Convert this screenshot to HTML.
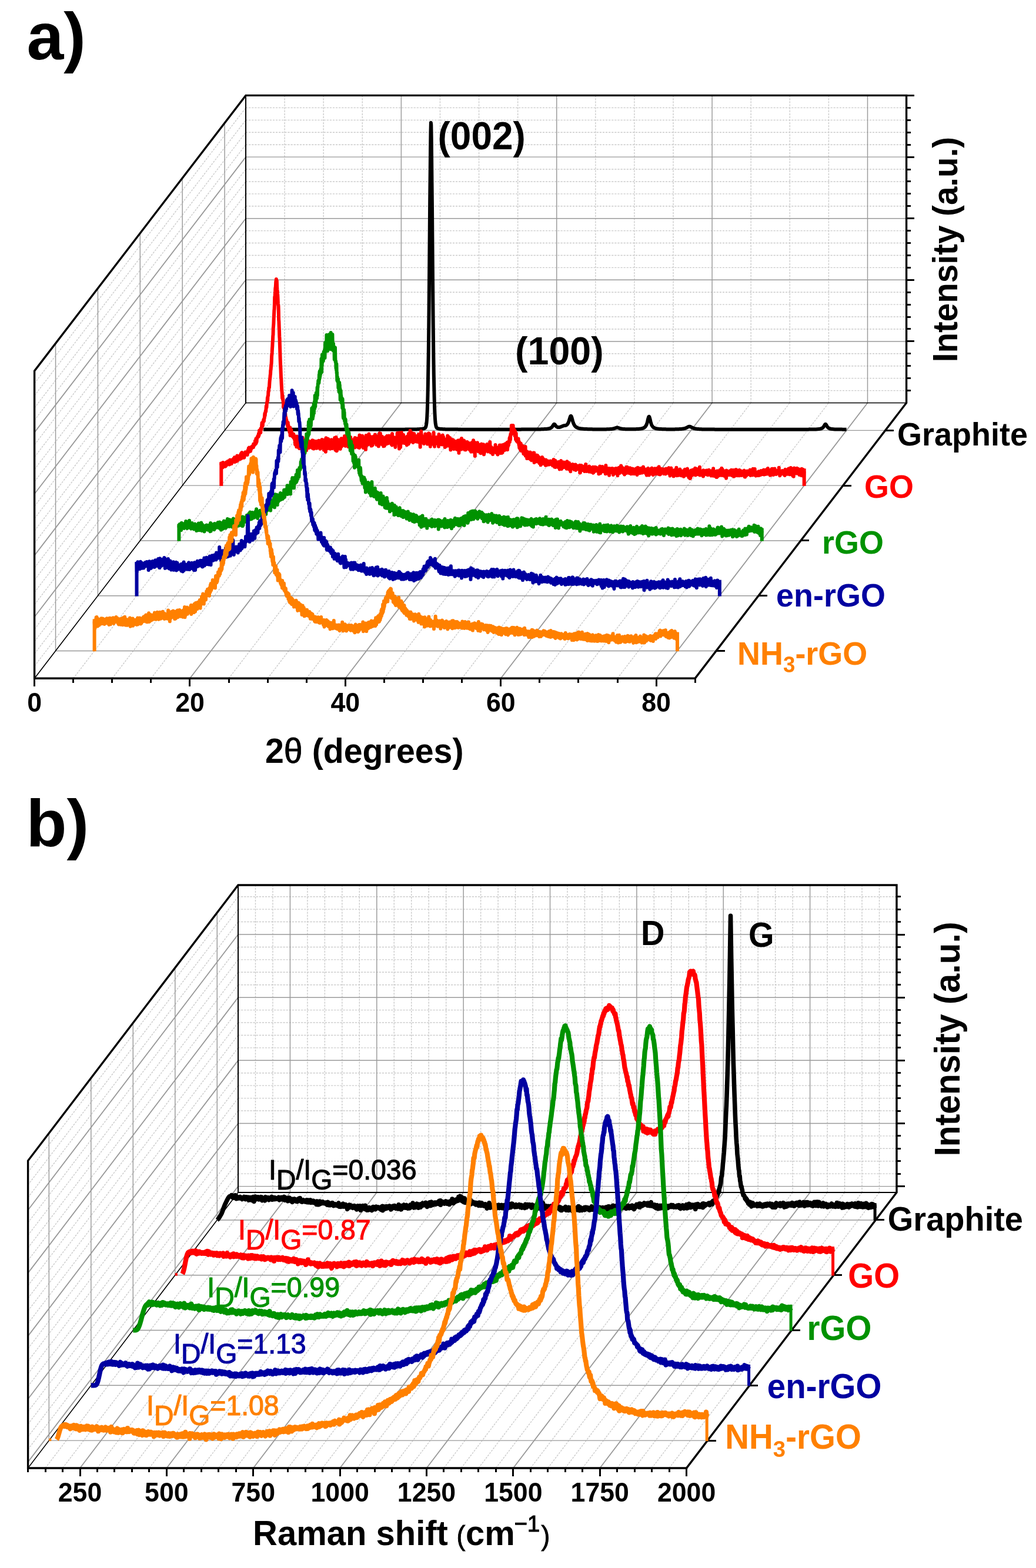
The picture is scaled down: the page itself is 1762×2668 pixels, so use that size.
<!DOCTYPE html>
<html lang="en"><head><meta charset="utf-8"><title>XRD patterns and Raman spectra of graphite, GO, rGO, en-rGO and NH3-rGO</title>
<style>html,body{margin:0;padding:0;background:#fff}svg{display:block}</style></head>
<body>
<svg width="1762" height="2668" viewBox="0 0 1762 2668" font-family="'Liberation Sans', sans-serif">
<rect width="1762" height="2668" fill="#fff"/>
<g fill="none">
<line x1="124.69" y1="1154.30" x2="484.09" y2="685.50" stroke="#cbcbcb" stroke-width="1.4" stroke-dasharray="3.2 1.9" stroke-linecap="butt"/>
<line x1="484.09" y1="685.50" x2="484.09" y2="162.40" stroke="#cbcbcb" stroke-width="1.4" stroke-dasharray="3.2 1.9" stroke-linecap="butt"/>
<line x1="190.79" y1="1154.30" x2="550.19" y2="685.50" stroke="#cbcbcb" stroke-width="1.4" stroke-dasharray="3.2 1.9" stroke-linecap="butt"/>
<line x1="550.19" y1="685.50" x2="550.19" y2="162.40" stroke="#cbcbcb" stroke-width="1.4" stroke-dasharray="3.2 1.9" stroke-linecap="butt"/>
<line x1="256.88" y1="1154.30" x2="616.28" y2="685.50" stroke="#cbcbcb" stroke-width="1.4" stroke-dasharray="3.2 1.9" stroke-linecap="butt"/>
<line x1="616.28" y1="685.50" x2="616.28" y2="162.40" stroke="#cbcbcb" stroke-width="1.4" stroke-dasharray="3.2 1.9" stroke-linecap="butt"/>
<line x1="389.07" y1="1154.30" x2="748.47" y2="685.50" stroke="#cbcbcb" stroke-width="1.4" stroke-dasharray="3.2 1.9" stroke-linecap="butt"/>
<line x1="748.47" y1="685.50" x2="748.47" y2="162.40" stroke="#cbcbcb" stroke-width="1.4" stroke-dasharray="3.2 1.9" stroke-linecap="butt"/>
<line x1="455.16" y1="1154.30" x2="814.56" y2="685.50" stroke="#cbcbcb" stroke-width="1.4" stroke-dasharray="3.2 1.9" stroke-linecap="butt"/>
<line x1="814.56" y1="685.50" x2="814.56" y2="162.40" stroke="#cbcbcb" stroke-width="1.4" stroke-dasharray="3.2 1.9" stroke-linecap="butt"/>
<line x1="521.26" y1="1154.30" x2="880.66" y2="685.50" stroke="#cbcbcb" stroke-width="1.4" stroke-dasharray="3.2 1.9" stroke-linecap="butt"/>
<line x1="880.66" y1="685.50" x2="880.66" y2="162.40" stroke="#cbcbcb" stroke-width="1.4" stroke-dasharray="3.2 1.9" stroke-linecap="butt"/>
<line x1="653.45" y1="1154.30" x2="1012.85" y2="685.50" stroke="#cbcbcb" stroke-width="1.4" stroke-dasharray="3.2 1.9" stroke-linecap="butt"/>
<line x1="1012.85" y1="685.50" x2="1012.85" y2="162.40" stroke="#cbcbcb" stroke-width="1.4" stroke-dasharray="3.2 1.9" stroke-linecap="butt"/>
<line x1="719.54" y1="1154.30" x2="1078.94" y2="685.50" stroke="#cbcbcb" stroke-width="1.4" stroke-dasharray="3.2 1.9" stroke-linecap="butt"/>
<line x1="1078.94" y1="685.50" x2="1078.94" y2="162.40" stroke="#cbcbcb" stroke-width="1.4" stroke-dasharray="3.2 1.9" stroke-linecap="butt"/>
<line x1="785.64" y1="1154.30" x2="1145.04" y2="685.50" stroke="#cbcbcb" stroke-width="1.4" stroke-dasharray="3.2 1.9" stroke-linecap="butt"/>
<line x1="1145.04" y1="685.50" x2="1145.04" y2="162.40" stroke="#cbcbcb" stroke-width="1.4" stroke-dasharray="3.2 1.9" stroke-linecap="butt"/>
<line x1="917.82" y1="1154.30" x2="1277.22" y2="685.50" stroke="#cbcbcb" stroke-width="1.4" stroke-dasharray="3.2 1.9" stroke-linecap="butt"/>
<line x1="1277.22" y1="685.50" x2="1277.22" y2="162.40" stroke="#cbcbcb" stroke-width="1.4" stroke-dasharray="3.2 1.9" stroke-linecap="butt"/>
<line x1="983.92" y1="1154.30" x2="1343.32" y2="685.50" stroke="#cbcbcb" stroke-width="1.4" stroke-dasharray="3.2 1.9" stroke-linecap="butt"/>
<line x1="1343.32" y1="685.50" x2="1343.32" y2="162.40" stroke="#cbcbcb" stroke-width="1.4" stroke-dasharray="3.2 1.9" stroke-linecap="butt"/>
<line x1="1050.01" y1="1154.30" x2="1409.41" y2="685.50" stroke="#cbcbcb" stroke-width="1.4" stroke-dasharray="3.2 1.9" stroke-linecap="butt"/>
<line x1="1409.41" y1="685.50" x2="1409.41" y2="162.40" stroke="#cbcbcb" stroke-width="1.4" stroke-dasharray="3.2 1.9" stroke-linecap="butt"/>
<line x1="58.60" y1="1133.38" x2="418.00" y2="664.58" stroke="#cbcbcb" stroke-width="1.4" stroke-dasharray="3.2 1.9" stroke-linecap="butt"/>
<line x1="418.00" y1="664.58" x2="1541.60" y2="664.58" stroke="#cbcbcb" stroke-width="1.4" stroke-dasharray="3.2 1.9" stroke-linecap="butt"/>
<line x1="58.60" y1="1112.46" x2="418.00" y2="643.66" stroke="#cbcbcb" stroke-width="1.4" stroke-dasharray="3.2 1.9" stroke-linecap="butt"/>
<line x1="418.00" y1="643.66" x2="1541.60" y2="643.66" stroke="#cbcbcb" stroke-width="1.4" stroke-dasharray="3.2 1.9" stroke-linecap="butt"/>
<line x1="58.60" y1="1091.54" x2="418.00" y2="622.74" stroke="#cbcbcb" stroke-width="1.4" stroke-dasharray="3.2 1.9" stroke-linecap="butt"/>
<line x1="418.00" y1="622.74" x2="1541.60" y2="622.74" stroke="#cbcbcb" stroke-width="1.4" stroke-dasharray="3.2 1.9" stroke-linecap="butt"/>
<line x1="58.60" y1="1070.62" x2="418.00" y2="601.82" stroke="#cbcbcb" stroke-width="1.4" stroke-dasharray="3.2 1.9" stroke-linecap="butt"/>
<line x1="418.00" y1="601.82" x2="1541.60" y2="601.82" stroke="#cbcbcb" stroke-width="1.4" stroke-dasharray="3.2 1.9" stroke-linecap="butt"/>
<line x1="58.60" y1="1028.78" x2="418.00" y2="559.98" stroke="#cbcbcb" stroke-width="1.4" stroke-dasharray="3.2 1.9" stroke-linecap="butt"/>
<line x1="418.00" y1="559.98" x2="1541.60" y2="559.98" stroke="#cbcbcb" stroke-width="1.4" stroke-dasharray="3.2 1.9" stroke-linecap="butt"/>
<line x1="58.60" y1="1007.86" x2="418.00" y2="539.06" stroke="#cbcbcb" stroke-width="1.4" stroke-dasharray="3.2 1.9" stroke-linecap="butt"/>
<line x1="418.00" y1="539.06" x2="1541.60" y2="539.06" stroke="#cbcbcb" stroke-width="1.4" stroke-dasharray="3.2 1.9" stroke-linecap="butt"/>
<line x1="58.60" y1="986.94" x2="418.00" y2="518.14" stroke="#cbcbcb" stroke-width="1.4" stroke-dasharray="3.2 1.9" stroke-linecap="butt"/>
<line x1="418.00" y1="518.14" x2="1541.60" y2="518.14" stroke="#cbcbcb" stroke-width="1.4" stroke-dasharray="3.2 1.9" stroke-linecap="butt"/>
<line x1="58.60" y1="966.02" x2="418.00" y2="497.22" stroke="#cbcbcb" stroke-width="1.4" stroke-dasharray="3.2 1.9" stroke-linecap="butt"/>
<line x1="418.00" y1="497.22" x2="1541.60" y2="497.22" stroke="#cbcbcb" stroke-width="1.4" stroke-dasharray="3.2 1.9" stroke-linecap="butt"/>
<line x1="58.60" y1="924.18" x2="418.00" y2="455.38" stroke="#cbcbcb" stroke-width="1.4" stroke-dasharray="3.2 1.9" stroke-linecap="butt"/>
<line x1="418.00" y1="455.38" x2="1541.60" y2="455.38" stroke="#cbcbcb" stroke-width="1.4" stroke-dasharray="3.2 1.9" stroke-linecap="butt"/>
<line x1="58.60" y1="903.26" x2="418.00" y2="434.46" stroke="#cbcbcb" stroke-width="1.4" stroke-dasharray="3.2 1.9" stroke-linecap="butt"/>
<line x1="418.00" y1="434.46" x2="1541.60" y2="434.46" stroke="#cbcbcb" stroke-width="1.4" stroke-dasharray="3.2 1.9" stroke-linecap="butt"/>
<line x1="58.60" y1="882.34" x2="418.00" y2="413.54" stroke="#cbcbcb" stroke-width="1.4" stroke-dasharray="3.2 1.9" stroke-linecap="butt"/>
<line x1="418.00" y1="413.54" x2="1541.60" y2="413.54" stroke="#cbcbcb" stroke-width="1.4" stroke-dasharray="3.2 1.9" stroke-linecap="butt"/>
<line x1="58.60" y1="861.42" x2="418.00" y2="392.62" stroke="#cbcbcb" stroke-width="1.4" stroke-dasharray="3.2 1.9" stroke-linecap="butt"/>
<line x1="418.00" y1="392.62" x2="1541.60" y2="392.62" stroke="#cbcbcb" stroke-width="1.4" stroke-dasharray="3.2 1.9" stroke-linecap="butt"/>
<line x1="58.60" y1="819.58" x2="418.00" y2="350.78" stroke="#cbcbcb" stroke-width="1.4" stroke-dasharray="3.2 1.9" stroke-linecap="butt"/>
<line x1="418.00" y1="350.78" x2="1541.60" y2="350.78" stroke="#cbcbcb" stroke-width="1.4" stroke-dasharray="3.2 1.9" stroke-linecap="butt"/>
<line x1="58.60" y1="798.66" x2="418.00" y2="329.86" stroke="#cbcbcb" stroke-width="1.4" stroke-dasharray="3.2 1.9" stroke-linecap="butt"/>
<line x1="418.00" y1="329.86" x2="1541.60" y2="329.86" stroke="#cbcbcb" stroke-width="1.4" stroke-dasharray="3.2 1.9" stroke-linecap="butt"/>
<line x1="58.60" y1="777.74" x2="418.00" y2="308.94" stroke="#cbcbcb" stroke-width="1.4" stroke-dasharray="3.2 1.9" stroke-linecap="butt"/>
<line x1="418.00" y1="308.94" x2="1541.60" y2="308.94" stroke="#cbcbcb" stroke-width="1.4" stroke-dasharray="3.2 1.9" stroke-linecap="butt"/>
<line x1="58.60" y1="756.82" x2="418.00" y2="288.02" stroke="#cbcbcb" stroke-width="1.4" stroke-dasharray="3.2 1.9" stroke-linecap="butt"/>
<line x1="418.00" y1="288.02" x2="1541.60" y2="288.02" stroke="#cbcbcb" stroke-width="1.4" stroke-dasharray="3.2 1.9" stroke-linecap="butt"/>
<line x1="58.60" y1="714.98" x2="418.00" y2="246.18" stroke="#cbcbcb" stroke-width="1.4" stroke-dasharray="3.2 1.9" stroke-linecap="butt"/>
<line x1="418.00" y1="246.18" x2="1541.60" y2="246.18" stroke="#cbcbcb" stroke-width="1.4" stroke-dasharray="3.2 1.9" stroke-linecap="butt"/>
<line x1="58.60" y1="694.06" x2="418.00" y2="225.26" stroke="#cbcbcb" stroke-width="1.4" stroke-dasharray="3.2 1.9" stroke-linecap="butt"/>
<line x1="418.00" y1="225.26" x2="1541.60" y2="225.26" stroke="#cbcbcb" stroke-width="1.4" stroke-dasharray="3.2 1.9" stroke-linecap="butt"/>
<line x1="58.60" y1="673.14" x2="418.00" y2="204.34" stroke="#cbcbcb" stroke-width="1.4" stroke-dasharray="3.2 1.9" stroke-linecap="butt"/>
<line x1="418.00" y1="204.34" x2="1541.60" y2="204.34" stroke="#cbcbcb" stroke-width="1.4" stroke-dasharray="3.2 1.9" stroke-linecap="butt"/>
<line x1="58.60" y1="652.22" x2="418.00" y2="183.42" stroke="#cbcbcb" stroke-width="1.4" stroke-dasharray="3.2 1.9" stroke-linecap="butt"/>
<line x1="418.00" y1="183.42" x2="1541.60" y2="183.42" stroke="#cbcbcb" stroke-width="1.4" stroke-dasharray="3.2 1.9" stroke-linecap="butt"/>
<line x1="322.98" y1="1154.30" x2="682.38" y2="685.50" stroke="#999999" stroke-width="1.85" stroke-linecap="butt"/>
<line x1="682.38" y1="685.50" x2="682.38" y2="162.40" stroke="#999999" stroke-width="1.45" stroke-linecap="butt"/>
<line x1="587.35" y1="1154.30" x2="946.75" y2="685.50" stroke="#999999" stroke-width="1.85" stroke-linecap="butt"/>
<line x1="946.75" y1="685.50" x2="946.75" y2="162.40" stroke="#999999" stroke-width="1.45" stroke-linecap="butt"/>
<line x1="851.73" y1="1154.30" x2="1211.13" y2="685.50" stroke="#999999" stroke-width="1.85" stroke-linecap="butt"/>
<line x1="1211.13" y1="685.50" x2="1211.13" y2="162.40" stroke="#999999" stroke-width="1.45" stroke-linecap="butt"/>
<line x1="1116.11" y1="1154.30" x2="1475.51" y2="685.50" stroke="#999999" stroke-width="1.85" stroke-linecap="butt"/>
<line x1="1475.51" y1="685.50" x2="1475.51" y2="162.40" stroke="#999999" stroke-width="1.45" stroke-linecap="butt"/>
<line x1="58.60" y1="1049.70" x2="418.00" y2="580.90" stroke="#999999" stroke-width="1.85" stroke-linecap="butt"/>
<line x1="418.00" y1="580.90" x2="1541.60" y2="580.90" stroke="#999999" stroke-width="1.45" stroke-linecap="butt"/>
<line x1="58.60" y1="945.10" x2="418.00" y2="476.30" stroke="#999999" stroke-width="1.85" stroke-linecap="butt"/>
<line x1="418.00" y1="476.30" x2="1541.60" y2="476.30" stroke="#999999" stroke-width="1.45" stroke-linecap="butt"/>
<line x1="58.60" y1="840.50" x2="418.00" y2="371.70" stroke="#999999" stroke-width="1.85" stroke-linecap="butt"/>
<line x1="418.00" y1="371.70" x2="1541.60" y2="371.70" stroke="#999999" stroke-width="1.45" stroke-linecap="butt"/>
<line x1="58.60" y1="735.90" x2="418.00" y2="267.10" stroke="#999999" stroke-width="1.85" stroke-linecap="butt"/>
<line x1="418.00" y1="267.10" x2="1541.60" y2="267.10" stroke="#999999" stroke-width="1.45" stroke-linecap="butt"/>
<line x1="94.54" y1="1107.42" x2="1218.14" y2="1107.42" stroke="#999999" stroke-width="1.45" stroke-linecap="butt"/>
<line x1="94.54" y1="1107.42" x2="94.54" y2="584.32" stroke="#999999" stroke-width="1.45" stroke-linecap="butt"/>
<line x1="166.42" y1="1013.66" x2="1290.02" y2="1013.66" stroke="#999999" stroke-width="1.45" stroke-linecap="butt"/>
<line x1="166.42" y1="1013.66" x2="166.42" y2="490.56" stroke="#999999" stroke-width="1.45" stroke-linecap="butt"/>
<line x1="238.30" y1="919.90" x2="1361.90" y2="919.90" stroke="#999999" stroke-width="1.45" stroke-linecap="butt"/>
<line x1="238.30" y1="919.90" x2="238.30" y2="396.80" stroke="#999999" stroke-width="1.45" stroke-linecap="butt"/>
<line x1="310.18" y1="826.14" x2="1433.78" y2="826.14" stroke="#999999" stroke-width="1.45" stroke-linecap="butt"/>
<line x1="310.18" y1="826.14" x2="310.18" y2="303.04" stroke="#999999" stroke-width="1.45" stroke-linecap="butt"/>
<line x1="382.06" y1="732.38" x2="1505.66" y2="732.38" stroke="#999999" stroke-width="1.45" stroke-linecap="butt"/>
<line x1="382.06" y1="732.38" x2="382.06" y2="209.28" stroke="#999999" stroke-width="1.45" stroke-linecap="butt"/>
</g>
<g fill="none" stroke="#000" stroke-linecap="square">
<line x1="58.60" y1="1154.30" x2="418.00" y2="685.50" stroke-width="1.6"/>
<line x1="418.00" y1="685.50" x2="1541.60" y2="685.50" stroke-width="1.4"/>
<line x1="418.00" y1="685.50" x2="418.00" y2="162.40" stroke-width="2"/>
<polyline stroke-width="3.4" stroke-linejoin="miter" points="1182.20,1154.30 58.60,1154.30 58.60,631.20 418.00,162.40 1541.60,162.40 1541.60,685.50 1182.20,1154.30"/>
</g>
<g fill="none" stroke="#000" stroke-width="3" shape-rendering="crispEdges">
<line x1="124.69" y1="1154.30" x2="124.69" y2="1161.70"/>
<line x1="190.79" y1="1154.30" x2="190.79" y2="1161.70"/>
<line x1="256.88" y1="1154.30" x2="256.88" y2="1161.70"/>
<line x1="389.07" y1="1154.30" x2="389.07" y2="1161.70"/>
<line x1="455.16" y1="1154.30" x2="455.16" y2="1161.70"/>
<line x1="521.26" y1="1154.30" x2="521.26" y2="1161.70"/>
<line x1="653.45" y1="1154.30" x2="653.45" y2="1161.70"/>
<line x1="719.54" y1="1154.30" x2="719.54" y2="1161.70"/>
<line x1="785.64" y1="1154.30" x2="785.64" y2="1161.70"/>
<line x1="917.82" y1="1154.30" x2="917.82" y2="1161.70"/>
<line x1="983.92" y1="1154.30" x2="983.92" y2="1161.70"/>
<line x1="1050.01" y1="1154.30" x2="1050.01" y2="1161.70"/>
<line x1="1182.20" y1="1154.30" x2="1182.20" y2="1161.70"/>
<line x1="58.60" y1="1154.30" x2="58.60" y2="1168.30"/>
<line x1="322.98" y1="1154.30" x2="322.98" y2="1168.30"/>
<line x1="587.35" y1="1154.30" x2="587.35" y2="1168.30"/>
<line x1="851.73" y1="1154.30" x2="851.73" y2="1168.30"/>
<line x1="1116.11" y1="1154.30" x2="1116.11" y2="1168.30"/>
<line x1="1541.60" y1="664.58" x2="1548.80" y2="664.58"/>
<line x1="1541.60" y1="643.66" x2="1548.80" y2="643.66"/>
<line x1="1541.60" y1="622.74" x2="1548.80" y2="622.74"/>
<line x1="1541.60" y1="601.82" x2="1548.80" y2="601.82"/>
<line x1="1541.60" y1="559.98" x2="1548.80" y2="559.98"/>
<line x1="1541.60" y1="539.06" x2="1548.80" y2="539.06"/>
<line x1="1541.60" y1="518.14" x2="1548.80" y2="518.14"/>
<line x1="1541.60" y1="497.22" x2="1548.80" y2="497.22"/>
<line x1="1541.60" y1="455.38" x2="1548.80" y2="455.38"/>
<line x1="1541.60" y1="434.46" x2="1548.80" y2="434.46"/>
<line x1="1541.60" y1="413.54" x2="1548.80" y2="413.54"/>
<line x1="1541.60" y1="392.62" x2="1548.80" y2="392.62"/>
<line x1="1541.60" y1="350.78" x2="1548.80" y2="350.78"/>
<line x1="1541.60" y1="329.86" x2="1548.80" y2="329.86"/>
<line x1="1541.60" y1="308.94" x2="1548.80" y2="308.94"/>
<line x1="1541.60" y1="288.02" x2="1548.80" y2="288.02"/>
<line x1="1541.60" y1="246.18" x2="1548.80" y2="246.18"/>
<line x1="1541.60" y1="225.26" x2="1548.80" y2="225.26"/>
<line x1="1541.60" y1="204.34" x2="1548.80" y2="204.34"/>
<line x1="1541.60" y1="183.42" x2="1548.80" y2="183.42"/>
<line x1="1541.60" y1="580.90" x2="1555.20" y2="580.90"/>
<line x1="1541.60" y1="476.30" x2="1555.20" y2="476.30"/>
<line x1="1541.60" y1="371.70" x2="1555.20" y2="371.70"/>
<line x1="1541.60" y1="267.10" x2="1555.20" y2="267.10"/>
<line x1="1541.60" y1="162.50" x2="1555.20" y2="162.50"/>
<line x1="1218.14" y1="1107.42" x2="1232.64" y2="1107.42"/>
<line x1="1290.02" y1="1013.66" x2="1304.52" y2="1013.66"/>
<line x1="1361.90" y1="919.90" x2="1376.40" y2="919.90"/>
<line x1="1433.78" y1="826.14" x2="1448.28" y2="826.14"/>
<line x1="1505.66" y1="732.38" x2="1520.16" y2="732.38"/>
</g>
<path d="M448.2,730.8l0.4,0 0.4,0 0.4,0 0.4,0 0.4,0 0.4,0 0.4,0 0.5,0 0.4,0 0.4,0 0.4,0 0.4,0 0.4,0 0.4,0 0.5,0 0.4,0 0.4,0 0.4,0 0.4,0 0.4,0 0.4,0 0.4,0 0.5,0 0.4,0 0.4,0 0.4,0 0.4,0 0.4,0 0.4,0 0.5,0 0.4,0 0.4,0 0.4,0 0.4,0 0.4,0 0.4,0 0.4,0 0.5,0 0.4,0 0.4,0 0.4,0 0.4,0 0.4,0 0.4,0 0.5,0 0.4,0 0.4,0 0.4,0 0.4,0 0.4,0 0.4,0 0.4,0 0.5,0 0.4,0 0.4,0 0.4,0 0.4,0 0.4,0 0.4,0 0.4,0 0.5,0 0.4,0 0.4,0 0.4,0 0.4,0 0.4,0 0.4,0 0.5,0 0.4,0 0.4,0 0.4,0 0.4,0 0.4,0 0.4,0 0.4,0 0.5,0 0.4,0 0.4,0 0.4,0 0.4,0 0.4,0 0.4,0 0.5,0 0.4,0 0.4,0 0.4,0 0.4,0 0.4,0 0.4,0 0.4,0 0.5,0 0.4,0 0.4,0 0.4,0 0.4,0 0.4,0 0.4,0 0.5,0 0.4,0 0.4,0 0.4,0 0.4,0 0.4,0 0.4,0 0.4,0 0.5,0 0.4,0 0.4,0 0.4,0 0.4,0 0.4,0 0.4,0 0.5,0 0.4,0 0.4,0 0.4,0 0.4,0 0.4,0 0.4,0 0.4,0 0.5,0 0.4,0 0.4,0 0.4,0 0.4,0 0.4,0 0.4,0 0.5,0 0.4,0 0.4,0 0.4,0 0.4,0 0.4,0 0.4,0 0.4,0 0.5,0 0.4,0 0.4,0 0.4,0 0.4,0 0.4,0 0.4,0 0.5,0 0.4,0 0.4,0 0.4,0 0.4,0 0.4,0 0.4,0 0.4,0 0.5,0 0.4,0 0.4,0 0.4,0 0.4,0 0.4,0 0.4,0 0.4,0 0.5,0 0.4,0 0.4,0 0.4,0 0.4,0 0.4,0 0.4,0 0.5,0 0.4,0 0.4,0 0.4,0 0.4,0 0.4,0 0.4,0 0.4,0 0.5,0 0.4,0 0.4,0 0.4,0 0.4,0 0.4,0 0.4,0 0.5,0 0.4,0 0.4,0 0.4,0 0.4,0 0.4,0 0.4,0 0.4,0 0.5,0 0.4,0 0.4,0 0.4,0 0.4,0 0.4,0 0.4,0 0.5,0 0.4,0 0.4,0 0.4,0 0.4,0 0.4,0 0.4,0 0.4,0 0.5,0 0.4,0 0.4,0 0.4,0 0.4,0 0.4,0 0.4,0 0.5,0 0.4,0 0.4,0 0.4,0 0.4,0 0.4,0 0.4,0 0.4,0 0.5,0 0.4,0 0.4,0 0.4,0 0.4,0 0.4,0 0.4,0 0.5,0 0.4,0 0.4,0 0.4,0 0.4,0 0.4,0 0.4,0 0.4,0 0.5,0 0.4,0 0.4,0 0.4,0 0.4,0 0.4,0 0.4,0 0.4,0 0.5,0 0.4,0 0.4,0 0.4,0 0.4,0 0.4,0 0.4,0 0.5,0 0.4,0 0.4,0 0.4,0 0.4,0 0.4,0 0.4,0 0.4,0 0.5,0 0.4,0 0.4,0 0.4,0 0.4,0 0.4,0 0.4,0 0.5,0 0.4,0 0.4,0 0.4,0 0.4,0 0.4,0 0.4,0 0.4,0 0.5,0 0.4,0 0.4,0 0.4,0 0.4,0 0.4,0 0.4,0 0.5,0 0.4,0 0.4,0 0.4,0 0.4,0 0.4,0 0.4,0 0.4,0 0.5,0 0.4,0 0.4,0 0.4,0 0.4,0 0.4,0 0.4,0 0.5,0 0.4,0 0.4,0 0.4,0 0.4,0 0.4,0 0.4,0 0.4,0 0.5,0 0.4,0 0.4,0 0.4,0 0.4,0 0.4,0 0.4,0 0.5,0 0.4,0 0.4,0 0.4,0 0.4,0 0.4,0 0.4,0 0.4,0 0.5,0 0.4,0 0.4,0 0.4,0 0.4,0 0.4,0 0.4,0 0.5,0 0.4,0 0.4,0 0.4,0 0.4,0 0.4,0 0.4,0 0.4,0 0.5,0 0.4,0 0.4,0 0.4,0 0.4,0 0.4,0 0.4,0 0.4,0 0.5,0 0.4,0 0.4,0 0.4,0 0.4,0 0.4,0 0.4,0 0.5,0 0.4,0 0.4,0 0.4,0 0.4,0 0.4,0 0.4,0 0.4,0 0.5,0 0.4,0 0.4,0 0.4,0 0.4,0 0.4,0 0.4,0 0.5,0 0.4,0 0.4,0 0.4,0 0.4,0 0.4,0 0.4,0 0.4,0 0.5,0 0.4,0 0.4,0 0.4,0 0.4,0 0.4,0 0.4,0 0.5,0 0.4,0 0.4,0 0.4,0 0.4,0 0.4,0 0.4,0 0.4,0 0.5,0 0.4,0 0.4,0 0.4,0 0.4,0 0.4,0 0.4,0 0.5,0 0.4,0 0.4,0 0.4,0 0.4,0 0.4,0 0.4,0 0.4,0 0.5,0 0.4,0 0.4,0 0.4,0 0.4,0 0.4,0 0.4,0 0.5,0 0.4,0 0.4,0 0.4,0 0.4,0 0.4,0 0.4,0 0.4,0 0.5,0 0.4,0 0.4,0 0.4,0 0.4,0 0.4,0 0.4,0 0.5,0 0.4,0 0.4,0 0.4,0 0.4,0 0.4,0 0.4,0 0.4,0 0.5,0 0.4,0 0.4,0 0.4,0 0.4,0 0.4,0 0.4,0 0.4,0 0.5,0 0.4,0 0.4,0 0.4,0 0.4-0.1 0.4,0 0.4,0 0.5,0 0.4,0 0.4,0 0.4,0 0.4,0 0.4,0 0.4,0 0.4,0 0.5,0 0.4,0 0.4,0 0.4,0 0.4,0 0.4,0 0.4,0 0.5,0 0.4,0 0.4,0 0.4,0 0.4,0 0.4,0 0.4,0 0.4,0 0.5,0 0.4,0 0.4,0 0.4,0 0.4,0 0.4,0 0.4,0 0.5,0 0.4,0 0.4,0 0.4,0 0.4,0 0.4,0 0.4,0 0.4,0 0.5,0 0.4,0 0.4,0 0.4,0 0.4,0 0.4,0 0.4,0 0.5,0 0.4,0 0.4,0 0.4,0 0.4,0 0.4,0 0.4,0 0.4,0 0.5,0 0.4,0 0.4,0 0.4,0 0.4,0 0.4,0 0.4,0 0.5,0 0.4,0 0.4,0 0.4,0 0.4,0 0.4,0 0.4,0 0.4,0 0.5,0 0.4,0 0.4,0 0.4,0 0.4,0 0.4,0 0.4,0 0.4,0 0.5,0 0.4,0 0.4,0 0.4,0 0.4,0 0.4,0 0.4,0 0.5,0 0.4,0 0.4,0 0.4,0 0.4,0 0.4,0 0.4,0 0.4,0 0.5,0 0.4,0 0.4,0 0.4,0 0.4,0 0.4,0 0.4,0 0.5,0 0.4,0 0.4,0 0.4,0 0.4,0 0.4,0 0.4,0 0.4,0 0.5,0 0.4,0 0.4,0 0.4,0 0.4,0 0.4,0 0.4,0 0.5,0 0.4,0 0.4,0 0.4,0 0.4,0 0.4,0 0.4,0 0.4,0 0.5,0 0.4,0 0.4,0 0.4,0 0.4,0 0.4,0 0.4,0 0.5,0 0.4,0 0.4,0 0.4,0 0.4,0 0.4,0 0.4,0 0.4,0 0.5,0 0.4,0 0.4-0.1 0.4,0 0.4,0 0.4,0 0.4,0 0.5,0 0.4,0 0.4,0 0.4,0 0.4,0 0.4,0 0.4,0 0.4,0 0.5,0 0.4,0 0.4,0 0.4,0 0.4,0 0.4,0 0.4,0 0.5,0 0.4,0 0.4,0 0.4,0 0.4,0 0.4,0 0.4,0 0.4,0 0.5-0.1 0.4,0 0.4,0 0.4,0 0.4,0 0.4,0 0.4,0 0.4,0 0.5,0 0.4,0 0.4,0 0.4,0 0.4,0 0.4,0 0.4-0.1 0.5,0 0.4,0 0.4,0 0.4,0 0.4,0 0.4,0 0.4,0 0.4-0.1 0.5,0 0.4,0 0.4,0 0.4,0 0.4,0 0.4-0.1 0.4,0 0.5,0 0.4,0 0.4-0.1 0.4,0 0.4,0 0.4,0 0.4-0.1 0.4,0 0.5-0.1 0.4,0 0.4,0 0.4-0.1 0.4,0 0.4-0.1 0.4-0.1 0.5,0 0.4-0.1 0.4-0.1 0.4-0.1 0.4-0.1 0.4-0.1 0.4-0.2 0.4-0.1 0.5-0.3 0.4-0.3 0.4-0.4 0.4-0.7 0.4-0.9 0.4-1.5 0.4-2.1 0.5-3.1 0.4-4.4 0.4-6.3 0.4-8.8 0.4-11.7 0.4-15.5 0.4-19.8 0.4-24.7 0.5-29.7 0.4-35 0.4-39.6 0.4-43.7 0.4-46.5 0.4-47.7 0.4-47.3 0.5-44.8 0.4-39.6 0.4-30.3 0.4-15.4 0.4,3.7 0.4,21.7 0.4,34.3 0.4,41.9 0.5,46 0.4,47.7 0.4,47.5 0.4,45.5 0.4,42.3 0.4,38 0.4,33 0.4,27.9 0.5,22.7 0.4,18.2 0.4,14 0.4,10.5 0.4,7.8 0.4,5.5 0.4,3.9 0.5,2.7 0.4,1.8 0.4,1.3 0.4,0.8 0.4,0.5 0.4,0.4 0.4,0.3 0.4,0.2 0.5,0.2 0.4,0.1 0.4,0.1 0.4,0.1 0.4,0.1 0.4,0.1 0.4,0.1 0.5,0.1 0.4,0 0.4,0.1 0.4,0 0.4,0.1 0.4,0 0.4,0.1 0.4,0 0.5,0 0.4,0.1 0.4,0 0.4,0 0.4,0 0.4,0.1 0.4,0 0.5,0 0.4,0 0.4,0.1 0.4,0 0.4,0 0.4,0 0.4,0 0.4,0 0.5,0.1 0.4,0 0.4,0 0.4,0 0.4,0 0.4,0 0.4,0 0.5,0 0.4,0 0.4,0.1 0.4,0 0.4,0 0.4,0 0.4,0 0.4,0 0.5,0 0.4,0 0.4,0 0.4,0 0.4,0 0.4,0 0.4,0 0.5,0 0.4,0.1 0.4,0 0.4,0 0.4,0 0.4,0 0.4,0 0.4,0 0.5,0 0.4,0 0.4,0 0.4,0 0.4,0 0.4,0 0.4,0 0.5,0 0.4,0 0.4,0 0.4,0 0.4,0 0.4,0 0.4,0 0.4,0 0.5,0 0.4,0 0.4,0 0.4,0 0.4,0 0.4,0 0.4,0 0.4,0 0.5,0 0.4,0 0.4,0.1 0.4,0 0.4,0 0.4,0 0.4,0 0.5,0 0.4,0 0.4,0 0.4,0 0.4,0 0.4,0 0.4,0 0.4,0 0.5,0 0.4,0 0.4,0 0.4,0 0.4,0 0.4,0 0.4,0 0.5,0 0.4,0 0.4,0 0.4,0 0.4,0 0.4,0 0.4,0 0.4,0 0.5,0 0.4,0 0.4,0 0.4,0 0.4,0 0.4,0 0.4,0 0.5,0 0.4,0 0.4,0 0.4,0 0.4,0 0.4,0 0.4,0 0.4,0 0.5,0 0.4,0 0.4,0 0.4,0 0.4,0 0.4,0 0.4,0 0.5,0 0.4,0 0.4,0 0.4,0 0.4,0 0.4,0 0.4,0 0.4,0 0.5,0 0.4,0 0.4,0 0.4,0 0.4,0 0.4,0 0.4,0 0.5,0 0.4,0 0.4,0 0.4,0 0.4,0 0.4,0 0.4,0 0.4,0 0.5,0 0.4,0 0.4,0 0.4,0 0.4,0 0.4,0 0.4,0 0.4,0 0.5,0 0.4,0 0.4,0 0.4,0 0.4,0 0.4,0 0.4,0 0.5,0 0.4,0 0.4,0 0.4,0 0.4,0 0.4,0 0.4,0 0.4,0 0.5,0 0.4,0 0.4,0 0.4,0 0.4,0 0.4,0 0.4,0 0.5,0 0.4,0 0.4,0 0.4,0 0.4,0 0.4,0 0.4,0 0.4,0 0.5,0 0.4,0 0.4,0 0.4,0 0.4,0 0.4,0 0.4,0 0.5,0 0.4,0 0.4,0 0.4,0 0.4,0 0.4,0 0.4,0 0.4,0 0.5,0 0.4,0 0.4,0 0.4,0 0.4,0 0.4,0 0.4,0 0.5,0 0.4,0 0.4,0 0.4,0 0.4,0 0.4,0 0.4,0 0.4,0 0.5,0 0.4,0 0.4,0 0.4,0 0.4,0 0.4,0 0.4,0 0.5,0 0.4,0 0.4,0 0.4,0 0.4,0 0.4,0 0.4,0 0.4,0 0.5,0 0.4,0 0.4,0 0.4,0 0.4,0 0.4,0 0.4,0 0.5,0 0.4,0 0.4,0 0.4,0 0.4,0 0.4,0 0.4,0 0.4,0 0.5,0 0.4,0 0.4,0 0.4,0 0.4,0 0.4,0 0.4,0 0.4,0 0.5,0 0.4,0 0.4,0 0.4,0 0.4,0 0.4,0 0.4,0 0.5,0 0.4,0 0.4,0 0.4,0 0.4,0 0.4,0 0.4,0 0.4,0 0.5,0 0.4,0 0.4,0 0.4,0 0.4,0 0.4,0 0.4,0 0.5,0 0.4,0 0.4,0 0.4,0 0.4,0 0.4,0 0.4,0 0.4,0 0.5,0 0.4,0 0.4,0 0.4,0 0.4,0 0.4,0 0.4,0 0.5,0 0.4,0 0.4,0 0.4,0 0.4,0 0.4,0 0.4,0 0.4,0 0.5,0 0.4,0 0.4,0 0.4,0 0.4,0 0.4,0 0.4,0 0.5,0 0.4,0 0.4,0 0.4,0 0.4,0 0.4,0 0.4,0 0.4,0 0.5,0 0.4,0 0.4,0 0.4,0 0.4,0 0.4,0 0.4,0 0.5,0 0.4,0 0.4,0 0.4,0 0.4,0 0.4,0 0.4,0 0.4,0 0.5,0 0.4,0 0.4,0 0.4,0 0.4,0 0.4-0.1 0.4,0 0.4,0 0.5,0 0.4,0 0.4,0 0.4,0 0.4,0 0.4,0 0.4,0 0.5,0 0.4,0 0.4,0 0.4,0 0.4,0 0.4,0 0.4,0 0.4,0 0.5,0 0.4,0 0.4,0 0.4,0 0.4,0 0.4,0 0.4,0 0.5,0 0.4,0 0.4,0 0.4,0 0.4,0 0.4,0 0.4,0 0.4,0 0.5,0 0.4,0 0.4,0 0.4,0 0.4,0 0.4,0 0.4,0 0.5,0 0.4,0 0.4,0 0.4,0 0.4,0 0.4,0 0.4,0 0.4-0.1 0.5,0 0.4,0 0.4,0 0.4,0 0.4,0 0.4,0 0.4,0 0.5,0 0.4,0 0.4,0 0.4,0 0.4,0 0.4,0 0.4,0 0.4,0 0.5,0 0.4,0 0.4,0 0.4,0 0.4,0 0.4-0.1 0.4,0 0.5,0 0.4,0 0.4,0 0.4,0 0.4,0 0.4,0 0.4,0 0.4,0 0.5,0 0.4,0 0.4,0 0.4-0.1 0.4,0 0.4,0 0.4,0 0.5,0 0.4,0 0.4,0 0.4,0 0.4-0.1 0.4,0 0.4,0 0.4,0 0.5,0 0.4-0.1 0.4,0 0.4,0 0.4,0 0.4,0 0.4-0.1 0.4,0 0.5,0 0.4-0.1 0.4,0 0.4,0 0.4-0.1 0.4,0 0.4-0.1 0.5,0 0.4-0.1 0.4,0 0.4-0.1 0.4-0.1 0.4-0.1 0.4,0 0.4-0.1 0.5-0.2 0.4-0.1 0.4-0.1 0.4-0.2 0.4-0.2 0.4-0.2 0.4-0.2 0.5-0.3 0.4-0.3 0.4-0.4 0.4-0.4 0.4-0.5 0.4-0.5 0.4-0.6 0.4-0.6 0.5-0.7 0.4-0.7 0.4-0.6 0.4-0.4 0.4-0.2 0.4,0 0.4,0.2 0.5,0.4 0.4,0.6 0.4,0.6 0.4,0.6 0.4,0.5 0.4,0.5 0.4,0.4 0.4,0.4 0.5,0.3 0.4,0.2 0.4,0.2 0.4,0.2 0.4,0.1 0.4,0.1 0.4,0 0.5,0 0.4,0 0.4,0 0.4,0 0.4-0.1 0.4-0.1 0.4-0.1 0.4-0.1 0.5-0.2 0.4-0.1 0.4-0.2 0.4-0.1 0.4-0.2 0.4-0.2 0.4-0.2 0.5-0.2 0.4-0.2 0.4-0.2 0.4-0.1 0.4-0.2 0.4-0.1 0.4-0.1 0.4-0.1 0.5-0.1 0.4,0 0.4-0.1 0.4,0 0.4-0.1 0.4,0 0.4-0.1 0.5-0.1 0.4-0.2 0.4-0.2 0.4-0.2 0.4-0.3 0.4-0.3 0.4-0.5 0.4-0.5 0.5-0.6 0.4-0.7 0.4-0.8 0.4-0.9 0.4-1.1 0.4-1.1 0.4-1.3 0.4-1.4 0.5-1.4 0.4-1.4 0.4-1.2 0.4-1.1 0.4-0.6 0.4-0.2 0.4,0.2 0.5,0.7 0.4,1.1 0.4,1.3 0.4,1.5 0.4,1.5 0.4,1.5 0.4,1.4 0.4,1.3 0.5,1.2 0.4,1.1 0.4,0.9 0.4,0.9 0.4,0.7 0.4,0.7 0.4,0.6 0.5,0.5 0.4,0.5 0.4,0.4 0.4,0.4 0.4,0.3 0.4,0.3 0.4,0.3 0.4,0.2 0.5,0.2 0.4,0.2 0.4,0.2 0.4,0.2 0.4,0.1 0.4,0.2 0.4,0.1 0.5,0.1 0.4,0.1 0.4,0.1 0.4,0.1 0.4,0.1 0.4,0.1 0.4,0.1 0.4,0 0.5,0.1 0.4,0.1 0.4,0 0.4,0.1 0.4,0 0.4,0.1 0.4,0 0.5,0 0.4,0.1 0.4,0 0.4,0.1 0.4,0 0.4,0 0.4,0 0.4,0.1 0.5,0 0.4,0 0.4,0.1 0.4,0 0.4,0 0.4,0 0.4,0 0.5,0.1 0.4,0 0.4,0 0.4,0 0.4,0 0.4,0 0.4,0.1 0.4,0 0.5,0 0.4,0 0.4,0 0.4,0 0.4,0 0.4,0 0.4,0.1 0.4,0 0.5,0 0.4,0 0.4,0 0.4,0 0.4,0 0.4,0 0.4,0 0.5,0 0.4,0 0.4,0 0.4,0 0.4,0.1 0.4,0 0.4,0 0.4,0 0.5,0 0.4,0 0.4,0 0.4,0 0.4,0 0.4,0 0.4,0 0.5,0 0.4,0 0.4,0 0.4,0 0.4,0 0.4,0 0.4,0 0.4,0 0.5,0 0.4,0 0.4,0 0.4,0 0.4,0 0.4,0 0.4,0 0.5,0 0.4,0 0.4,0 0.4,0 0.4,0 0.4,0 0.4,0 0.4,0 0.5,0 0.4,0 0.4,0 0.4,0 0.4,0 0.4,0 0.4,0 0.5,0 0.4,0 0.4,0 0.4,0 0.4,0 0.4,0 0.4,0 0.4,0 0.5,0 0.4,0 0.4,0 0.4,0 0.4,0 0.4,0 0.4,0 0.5,0 0.4,0 0.4-0.1 0.4,0 0.4,0 0.4,0 0.4,0 0.4,0 0.5,0 0.4,0 0.4-0.1 0.4,0 0.4,0 0.4,0 0.4,0 0.5-0.1 0.4,0 0.4,0 0.4,0 0.4-0.1 0.4,0 0.4,0 0.4-0.1 0.5,0 0.4-0.1 0.4,0 0.4-0.1 0.4-0.1 0.4-0.1 0.4,0 0.4-0.1 0.5-0.1 0.4-0.1 0.4-0.1 0.4-0.2 0.4-0.1 0.4-0.1 0.4-0.2 0.5-0.1 0.4-0.2 0.4-0.1 0.4-0.2 0.4-0.1 0.4-0.1 0.4-0.1 0.4,0 0.5,0 0.4,0 0.4,0.1 0.4,0.1 0.4,0.1 0.4,0.2 0.4,0.1 0.5,0.2 0.4,0.1 0.4,0.2 0.4,0.1 0.4,0.1 0.4,0.2 0.4,0.1 0.4,0.1 0.5,0.1 0.4,0.1 0.4,0 0.4,0.1 0.4,0.1 0.4,0 0.4,0.1 0.5,0 0.4,0.1 0.4,0 0.4,0.1 0.4,0 0.4,0 0.4,0.1 0.4,0 0.5,0 0.4,0 0.4,0.1 0.4,0 0.4,0 0.4,0 0.4,0 0.5,0 0.4,0 0.4,0.1 0.4,0 0.4,0 0.4,0 0.4,0 0.4,0 0.5,0 0.4,0 0.4,0 0.4,0 0.4,0 0.4,0 0.4,0 0.5,0 0.4,0 0.4,0 0.4,0 0.4,0 0.4,0 0.4,0 0.4,0 0.5,0 0.4,0 0.4,0 0.4,0 0.4,0 0.4,0 0.4,0 0.4,0 0.5,0 0.4-0.1 0.4,0 0.4,0 0.4,0 0.4,0 0.4,0 0.5,0 0.4,0 0.4,0 0.4-0.1 0.4,0 0.4,0 0.4,0 0.4,0 0.5-0.1 0.4,0 0.4,0 0.4,0 0.4-0.1 0.4,0 0.4,0 0.5-0.1 0.4,0 0.4-0.1 0.4,0 0.4,0 0.4-0.1 0.4-0.1 0.4,0 0.5-0.1 0.4-0.1 0.4,0 0.4-0.1 0.4-0.1 0.4-0.1 0.4-0.2 0.5-0.1 0.4-0.1 0.4-0.2 0.4-0.2 0.4-0.2 0.4-0.2 0.4-0.3 0.4-0.3 0.5-0.3 0.4-0.4 0.4-0.4 0.4-0.5 0.4-0.6 0.4-0.7 0.4-0.8 0.5-0.9 0.4-1 0.4-1.2 0.4-1.4 0.4-1.5 0.4-1.7 0.4-1.8 0.4-1.7 0.5-1.6 0.4-1.2 0.4-0.7 0.4,0 0.4,0.6 0.4,1.2 0.4,1.6 0.5,1.7 0.4,1.8 0.4,1.7 0.4,1.5 0.4,1.4 0.4,1.2 0.4,1.1 0.4,0.9 0.5,0.8 0.4,0.6 0.4,0.6 0.4,0.5 0.4,0.5 0.4,0.4 0.4,0.3 0.5,0.3 0.4,0.3 0.4,0.2 0.4,0.2 0.4,0.2 0.4,0.2 0.4,0.1 0.4,0.1 0.5,0.2 0.4,0.1 0.4,0.1 0.4,0.1 0.4,0 0.4,0.1 0.4,0.1 0.4,0.1 0.5,0 0.4,0.1 0.4,0 0.4,0.1 0.4,0 0.4,0 0.4,0.1 0.5,0 0.4,0 0.4,0.1 0.4,0 0.4,0 0.4,0.1 0.4,0 0.4,0 0.5,0 0.4,0 0.4,0.1 0.4,0 0.4,0 0.4,0 0.4,0 0.5,0 0.4,0 0.4,0.1 0.4,0 0.4,0 0.4,0 0.4,0 0.4,0 0.5,0 0.4,0 0.4,0 0.4,0 0.4,0 0.4,0.1 0.4,0 0.5,0 0.4,0 0.4,0 0.4,0 0.4,0 0.4,0 0.4,0 0.4,0 0.5,0 0.4,0 0.4,0 0.4,0 0.4,0 0.4,0 0.4,0 0.5,0 0.4,0 0.4,0 0.4,0 0.4,0 0.4,0 0.4,0 0.4,0 0.5,0 0.4,0 0.4,0 0.4,0 0.4,0 0.4,0 0.4,0 0.5,0 0.4,0 0.4,0 0.4,0 0.4,0 0.4-0.1 0.4,0 0.4,0 0.5,0 0.4,0 0.4,0 0.4,0 0.4,0 0.4,0 0.4,0 0.4,0 0.5-0.1 0.4,0 0.4,0 0.4,0 0.4,0 0.4,0 0.4-0.1 0.5,0 0.4,0 0.4,0 0.4-0.1 0.4,0 0.4,0 0.4-0.1 0.4,0 0.5,0 0.4-0.1 0.4,0 0.4-0.1 0.4,0 0.4-0.1 0.4,0 0.5-0.1 0.4-0.1 0.4,0 0.4-0.1 0.4-0.1 0.4-0.1 0.4-0.1 0.4-0.1 0.5-0.2 0.4-0.1 0.4-0.2 0.4-0.1 0.4-0.2 0.4-0.2 0.4-0.2 0.5-0.2 0.4-0.2 0.4-0.2 0.4-0.2 0.4-0.3 0.4-0.2 0.4-0.2 0.4-0.2 0.5-0.1 0.4-0.1 0.4-0.1 0.4,0 0.4,0 0.4,0.1 0.4,0.1 0.5,0.2 0.4,0.2 0.4,0.2 0.4,0.2 0.4,0.2 0.4,0.2 0.4,0.3 0.4,0.2 0.5,0.2 0.4,0.2 0.4,0.2 0.4,0.1 0.4,0.2 0.4,0.1 0.4,0.2 0.5,0.1 0.4,0.1 0.4,0.1 0.4,0.1 0.4,0.1 0.4,0.1 0.4,0.1 0.4,0.1 0.5,0 0.4,0.1 0.4,0 0.4,0.1 0.4,0 0.4,0.1 0.4,0 0.5,0.1 0.4,0 0.4,0 0.4,0.1 0.4,0 0.4,0 0.4,0.1 0.4,0 0.5,0 0.4,0 0.4,0 0.4,0.1 0.4,0 0.4,0 0.4,0 0.4,0 0.5,0.1 0.4,0 0.4,0 0.4,0 0.4,0 0.4,0 0.4,0 0.5,0 0.4,0 0.4,0.1 0.4,0 0.4,0 0.4,0 0.4,0 0.4,0 0.5,0 0.4,0 0.4,0 0.4,0 0.4,0 0.4,0 0.4,0 0.5,0 0.4,0.1 0.4,0 0.4,0 0.4,0 0.4,0 0.4,0 0.4,0 0.5,0 0.4,0 0.4,0 0.4,0 0.4,0 0.4,0 0.4,0 0.5,0 0.4,0 0.4,0 0.4,0 0.4,0 0.4,0 0.4,0 0.4,0 0.5,0 0.4,0 0.4,0 0.4,0 0.4,0 0.4,0 0.4,0 0.5,0 0.4,0 0.4,0.1 0.4,0 0.4,0 0.4,0 0.4,0 0.4,0 0.5,0 0.4,0 0.4,0 0.4,0 0.4,0 0.4,0 0.4,0 0.5,0 0.4,0 0.4,0 0.4,0 0.4,0 0.4,0 0.4,0 0.4,0 0.5,0 0.4,0 0.4,0 0.4,0 0.4,0 0.4,0 0.4,0 0.5,0 0.4,0 0.4,0 0.4,0 0.4,0 0.4,0 0.4,0 0.4,0 0.5,0 0.4,0 0.4,0 0.4,0 0.4,0 0.4,0 0.4,0 0.4,0 0.5,0 0.4,0 0.4,0 0.4,0 0.4,0 0.4,0 0.4,0 0.5,0 0.4,0 0.4,0 0.4,0 0.4,0 0.4,0 0.4,0 0.4,0 0.5,0 0.4,0 0.4,0 0.4,0 0.4,0 0.4,0 0.4,0 0.5,0 0.4,0 0.4,0 0.4,0 0.4,0 0.4,0 0.4,0 0.4,0 0.5,0 0.4,0 0.4,0 0.4,0 0.4,0 0.4,0 0.4,0 0.5,0 0.4,0 0.4,0 0.4,0 0.4,0 0.4,0 0.4,0 0.4,0 0.5,0 0.4,0 0.4,0 0.4,0 0.4,0 0.4,0 0.4,0 0.5,0 0.4,0 0.4,0 0.4,0 0.4,0 0.4,0 0.4,0 0.4,0 0.5,0 0.4,0 0.4,0 0.4,0 0.4,0 0.4,0 0.4,0 0.5,0 0.4,0 0.4,0 0.4,0 0.4,0 0.4,0 0.4,0 0.4,0 0.5,0 0.4,0 0.4,0 0.4,0 0.4,0 0.4,0 0.4,0 0.4,0 0.5,0 0.4,0 0.4,0 0.4,0 0.4,0 0.4,0 0.4,0 0.5,0 0.4,0 0.4,0 0.4,0 0.4,0 0.4,0 0.4,0 0.4,0 0.5,0 0.4,0 0.4,0 0.4,0 0.4,0 0.4,0 0.4,0 0.5,0 0.4,0 0.4,0 0.4,0 0.4,0 0.4,0 0.4,0 0.4,0 0.5,0 0.4,0 0.4,0 0.4,0 0.4,0 0.4,0 0.4,0 0.5,0 0.4,0 0.4,0 0.4,0 0.4,0 0.4,0 0.4,0 0.4,0 0.5,0 0.4,0 0.4,0 0.4,0 0.4,0 0.4,0 0.4,0 0.5,0 0.4,0 0.4,0 0.4,0 0.4,0 0.4,0 0.4,0 0.4,0 0.5,0 0.4,0 0.4,0 0.4,0 0.4,0 0.4,0 0.4,0 0.5,0 0.4,0 0.4,0 0.4,0 0.4,0 0.4,0 0.4,0 0.4,0 0.5,0 0.4,0 0.4,0 0.4,0 0.4,0 0.4,0 0.4,0 0.5,0 0.4,0 0.4,0 0.4,0 0.4,0 0.4,0 0.4,0 0.4,0 0.5,0 0.4,0 0.4,0 0.4,0 0.4,0 0.4,0 0.4,0 0.4,0 0.5,0 0.4,0 0.4,0 0.4,0 0.4,0 0.4,0 0.4,0 0.5,0 0.4,0 0.4,0 0.4,0 0.4,0 0.4,0 0.4,0 0.4,0 0.5,0 0.4,0 0.4,0 0.4,0 0.4,0 0.4,0 0.4,0 0.5,0 0.4,0 0.4,0 0.4,0 0.4,0 0.4,0 0.4,0 0.4,0 0.5,0 0.4,0 0.4,0 0.4,0 0.4,0 0.4,0 0.4,0 0.5,0 0.4,0 0.4,0 0.4,0 0.4,0 0.4,0 0.4,0 0.4,0 0.5,0 0.4,0 0.4,0 0.4,0 0.4,0 0.4,0 0.4,0 0.5,0 0.4,0 0.4,0 0.4,0 0.4,0 0.4,0 0.4,0 0.4,0 0.5,0 0.4,0 0.4,0 0.4,0 0.4,0 0.4,0 0.4,0 0.5,0 0.4,0 0.4,0 0.4,0 0.4,0 0.4,0 0.4,0 0.4,0 0.5,0 0.4,0 0.4,0 0.4,0 0.4,0 0.4,0 0.4,0 0.4,0 0.5,0 0.4,0 0.4,0 0.4,0 0.4,0 0.4,0 0.4,0 0.5,0 0.4,0 0.4,0 0.4,0 0.4,0 0.4,0 0.4,0 0.4,0 0.5,0 0.4,0 0.4,0 0.4,0 0.4,0 0.4,0 0.4,0 0.5,0 0.4,0 0.4,0 0.4,0 0.4,0 0.4,0 0.4,0 0.4,0 0.5,0 0.4,0 0.4,0 0.4,0 0.4,0 0.4,0 0.4,0 0.5,0 0.4,0 0.4,0 0.4,0 0.4,0 0.4,0 0.4,0 0.4,0 0.5,0 0.4,0 0.4,0 0.4,0 0.4,0 0.4,0 0.4,0 0.5,0 0.4,0 0.4,0 0.4,0 0.4,0 0.4,0 0.4,0 0.4,0 0.5,0 0.4,0 0.4,0 0.4,0 0.4,0 0.4,0 0.4,0 0.5,0 0.4,0 0.4,0 0.4,0 0.4,0 0.4,0 0.4,0 0.4,0 0.5,0 0.4,0 0.4,0 0.4,0 0.4-0.1 0.4,0 0.4,0 0.5,0 0.4,0 0.4,0 0.4,0 0.4,0 0.4,0 0.4,0 0.4,0 0.5,0 0.4,0 0.4,0 0.4,0 0.4,0 0.4,0 0.4,0 0.4-0.1 0.5,0 0.4,0 0.4,0 0.4,0 0.4,0 0.4,0 0.4,0 0.5,0 0.4-0.1 0.4,0 0.4,0 0.4,0 0.4,0 0.4,0 0.4-0.1 0.5,0 0.4,0 0.4,0 0.4-0.1 0.4,0 0.4,0 0.4-0.1 0.5,0 0.4-0.1 0.4,0 0.4-0.1 0.4-0.1 0.4,0 0.4-0.1 0.4-0.1 0.5-0.1 0.4-0.1 0.4-0.2 0.4-0.1 0.4-0.2 0.4-0.2 0.4-0.2 0.5-0.3 0.4-0.3 0.4-0.4 0.4-0.4 0.4-0.5 0.4-0.5 0.4-0.7 0.4-0.6 0.5-0.8 0.4-0.7 0.4-0.6 0.4-0.6 0.4-0.3 0.4,0 0.4,0.2 0.5,0.5 0.4,0.6 0.4,0.7 0.4,0.8 0.4,0.7 0.4,0.6 0.4,0.6 0.4,0.5 0.5,0.4 0.4,0.4 0.4,0.3 0.4,0.3 0.4,0.2 0.4,0.3 0.4,0.1 0.5,0.2 0.4,0.1 0.4,0.2 0.4,0.1 0.4,0.1 0.4,0.1 0.4,0 0.4,0.1 0.5,0.1 0.4,0 0.4,0.1 0.4,0 0.4,0 0.4,0.1 0.4,0 0.4,0.1 0.5,0 0.4,0 0.4,0 0.4,0.1 0.4,0 0.4,0 0.4,0 0.5,0 0.4,0 0.4,0.1 0.4,0 0.4,0 0.4,0 0.4,0 0.4,0 0.5,0 0.4,0 0.4,0 0.4,0.1 0.4,0 0.4,0 0.4,0 0.5,0 0.4,0 0.4,0 0.4,0 0.4,0 0.4,0 0.4,0 0.4,0 0.5,0 0.4,0 0.4,0 0.4,0 0.4,0 0.4,0 0.4,0.1 0.5,0 0.4,0 0.4,0 0.4,0 0.4,0 0.4,0 0.4,0 0.4,0 0.5,0 0.4,0 0.4,0 0.4,0 0.4,0 0.4,0 0.4,0 0.5,0 0.4,0" fill="none" stroke="#000000" stroke-width="6.0" stroke-linejoin="round" stroke-linecap="butt"/>
<path d="M376.3,791.6l0.3-3.3 0.3,0.2 0.3,4.1 0.3-0.6 0.3,0.4 0.3-2.7 0.3,1.4 0.3-2.1 0.3,6.2 0.3-8.3 0.3,3.9 0.3-2 0.3,1.8 0.3,0.5 0.3-2.1 0.3-1 0.3,2.4 0.3-0.3 0.3-2.1 0.3,3.6 0.3,1.5 0.3-4.7 0.3,2.4 0.3,2.9 0.3-2.8 0.3-0.9 0.3,1.6 0.3,0.6 0.3-3.8 0.3-2.2 0.3,2.6 0.3,1.1 0.3-2.8 0.3-0.9 0.3,2.3 0.3-2.1 0.3-1.4 0.3,2.9 0.3,1.4 0.3-3 0.3,0.2 0.3-2.2 0.3,5.6 0.3-1.6 0.3,0.3 0.3,2 0.3-4.6 0.3-1.1 0.3,2.9 0.3-5.2 0.3,1.2 0.3,0.3 0.3,0.4 0.3-1.4 0.3,5.3 0.3-4.8 0.3-0.1 0.3,5.6 0.3-5.2 0.3,1.3 0.3-2.6 0.3,2.7 0.3-1.1 0.3-1 0.3,2.8 0.3-3.7 0.3,1.6 0.3-1.6 0.3,2.3 0.3-4 0.3,1 0.3,1.7 0.3-2.1 0.3-1.6 0.3-1.4 0.3,7.9 0.3-6 0.3,0.8 0.3,1.2 0.3,2.1 0.3-5.6 0.3,5.9 0.3-4.5 0.3-1.9 0.3,6.8 0.3-3.3 0.3,2.3 0.3-3.9 0.3-3.2 0.3-1.3 0.3,9 0.3-3.1 0.3-3.2 0.3-2.2 0.3,2.6 0.3,2.6 0.3-2.6 0.3,0.6 0.3,0.3 0.3,1.1 0.3-2.8 0.3,0 0.3,0.8 0.3,0.2 0.3,2.4 0.3-2.1 0.3-4.2 0.3,3.2 0.3,2.8 0.3-6.8 0.3,1.7 0.3-3.9 0.3,4.7 0.3,1.1 0.3,2.2 0.3-6.8 0.3-3.2 0.3,8 0.3-0.6 0.3-3.2 0.3,3.3 0.3-1.6 0.3,0 0.3-1.5 0.3-2.3 0.3,2.4 0.3-2.4 0.3,3 0.3-2 0.3,5.8 0.3-1.9 0.3-5.6 0.3,3.1 0.3-3 0.3-0.1 0.3-2.1 0.3,1 0.3-0.7 0.3,2.5 0.3,1.1 0.3-0.1 0.3-0.8 0.3,1.3 0.3-1.7 0.3-1.3 0.3-1.1 0.3,1.2 0.3,3.5 0.3-4.7 0.3-0.9 0.3-2.4 0.3,1 0.3,2.6 0.3-0.1 0.3-6.8 0.3,2.7 0.3-2.9 0.3-1 0.3,6.8 0.3-3.2 0.3-0.5 0.3-0.6 0.3-0.2 0.3,0.4 0.3-0.2 0.3,3.7 0.3-3.6 0.3,1.1 0.3-2.5 0.3,1.1 0.3-3 0.3-0.8 0.3,0.8 0.3-0.4 0.3,0.2 0.3,0.9 0.3-1.1 0.3,0.4 0.3-2.5 0.3,0.4 0.3-1.7 0.3,4.1 0.3-5.7 0.3,3.5 0.3-0.5 0.3-1.7 0.3,0.4 0.3-2.5 0.3,1.6 0.3,0.7 0.3-1 0.3-5.7 0.3,2.6 0.3,2.4 0.3-3.4 0.3,3.2 0.3-8.6 0.3,7.3 0.3-5.4 0.3-0.8 0.3,4.1 0.3-4.9 0.3-2.4 0.3,0.6 0.3-0.2 0.3-2.4 0.3,1.1 0.3-1.2 0.3,0.3 0.3-2.6 0.3,3 0.3-5 0.3,2.3 0.3,0.6 0.3-4.3 0.3-4.1 0.3,0.9 0.3,2.7 0.3-3.7 0.3,1.9 0.3-1.7 0.3-1.4 0.3,4.9 0.3-6.9 0.3,2.1 0.3-1.7 0.3,1 0.3-0.8 0.3-2.2 0.3-5.1 0.3-2.9 0.3,3.2 0.3-3.5 0.3,2.3 0.3,3.1 0.3-5.8 0.3-1.7 0.3,1.2 0.3-2.7 0.3-1.6 0.3,2.4 0.3,0.4 0.3-4 0.3-1.1 0.3-0.8 0.3-4.4 0.3-3 0.3,3.9 0.3-4 0.3-1.9 0.3-0.8 0.3-2.3 0.3,1.9 0.3-4.5 0.3-4.9 0.3,1 0.3,1.4 0.3-5 0.3-3.8 0.3-0.1 0.3-0.1 0.3-7.4 0.3,4.3 0.3-6.6 0.3-1.2 0.3-0.2 0.3-7.3 0.3-0.7 0.3,0.5 0.3-6 0.3-0.5 0.3,0.4 0.3-5 0.3-4.6 0.3-3.4 0.3-1.9 0.3-2.6 0.3-3.9 0.3-1.7 0.3-6.1 0.3-1.3 0.3-3.9 0.3-4.3 0.3-0.9 0.3-5.1 0.3-9.1 0.3-2.5 0.3-3.7 0.3-6.4 0.3-3.7 0.3-6.8 0.3-3.5 0.3-7.4 0.3-2.2 0.3-12 0.3-2.8 0.3-4.4 0.3-9.1 0.3-5.9 0.3-6.9 0.3-2.8 0.3-8.4 0.3-12.2 0.3,3.9 0.3-9 0.3-4.2 0.3-6.1 0.3-0.4 0.3-4.9 0.3-5.8 0.3-0.3 0.3-3.4 0.3,5.6 0.3,0.1 0.3-3 0.3,10.6 0.3,4 0.3,2.5 0.3,4.7 0.3,3.1 0.3,6.6 0.3,7 0.3,3.4 0.3,0.4 0.3,8.8 0.3,15.4 0.3,2.6 0.3,9.9 0.3,5.6 0.3,9.9 0.3,4 0.3,10.6 0.3,8.9 0.3,10.2 0.3,8.8 0.3,6.9 0.3,4.8 0.3,7.9 0.3,7.9 0.3,2.6 0.3,7.5 0.3,5.4 0.3,5.7 0.3,3.2 0.3,3.4 0.3,7.3 0.3-4.8 0.3,3.4 0.3,4 0.3-0.2 0.3,3.4 0.3,2.2 0.3,7.8 0.3-2.5 0.3,0.5 0.3-0.2 0.3,1.5 0.3,2.6 0.3,7 0.3,3.8 0.3-3.8 0.3,2.6 0.3-1.4 0.3,5 0.3,0.3 0.3,6.9 0.3-4.8 0.3,4.2 0.3-1.3 0.3,1 0.3,3.1 0.3-0.2 0.3,2.2 0.3-1.3 0.3,1.9 0.3,4.3 0.3,1.1 0.3-6.6 0.3,6.8 0.3-2.7 0.3,2.6 0.3,3.8 0.3,1.3 0.3-2.1 0.3,0.2 0.3-0.5 0.3,6.7 0.3-1.6 0.3-1 0.3-4.9 0.3,13.3 0.3-8.5 0.3,3.7 0.3-2.6 0.3,3.5 0.3-2.2 0.3-3.4 0.3,4.4 0.3,0.3 0.3,0.6 0.3,4.1 0.3-3.6 0.3,2.9 0.3,2.5 0.3-2 0.3,1.1 0.3-2.5 0.3,3.1 0.3,2.1 0.3-5.8 0.3,2.1 0.3-0.3 0.3,2.8 0.3,2.9 0.3,1.6 0.3,0.1 0.3-3.3 0.3,3.2 0.3,8.1 0.3-6.4 0.3,7.1 0.3-7.1 0.3,7.1 0.3,0.7 0.3-6.2 0.3,1.3 0.3,8 0.3-11.2 0.3-6.6 0.3,17.8 0.3-15.7 0.3,12.2 0.3-0.8 0.3-1.4 0.3,6.2 0.3-13.1 0.3,4 0.3,6.1 0.3-2.2 0.3,6.1 0.3-5.5 0.3-6.1 0.3,12.8 0.3-6 0.3-2.7 0.3-4.3 0.3-1.3 0.3,8.7 0.3,1.5 0.3-5.7 0.3,4 0.3-0.2 0.3-6.6 0.3-2.8 0.3,6.9 0.3,2.2 0.3-3.6 0.3,11.9 0.3-9 0.3,5.1 0.3-16.5 0.3,8 0.3,2.8 0.3,1.7 0.3,11.1 0.3-15.4 0.3-4.4 0.3,11.3 0.3-6.8 0.3-0.1 0.3,10.9 0.3-12 0.3-2 0.3,5.4 0.3,1.4 0.3-4 0.3,11.1 0.3-7.8 0.3-4.6 0.3,11 0.3-10.7 0.3,6.7 0.3,8 0.3-9.5 0.3,4.2 0.3-6.2 0.3,7.2 0.3-10.7 0.3,8.6 0.3-5.3 0.3,4.6 0.3-1.3 0.3-7.3 0.3,4.7 0.3,2.9 0.3,4.1 0.3-11.5 0.3,2 0.3,5.1 0.3-2.7 0.3,6.1 0.3-0.1 0.3-0.9 0.3-5.7 0.3,0.3 0.3,5 0.3-7.1 0.3-0.2 0.3,2.9 0.3-4.1 0.3,6.3 0.3-0.8 0.3-2.8 0.3,2.4 0.3-4 0.3,9.9 0.3-12.9 0.3,10.6 0.3-3 0.3,5.9 0.3-9.5 0.3-3.3 0.3,1 0.3,1.1 0.3,11.5 0.3-3.7 0.3-1.5 0.3,2.2 0.3-9.8 0.3,4.5 0.3,1 0.3-2.5 0.3,6.9 0.3-0.2 0.3-0.1 0.3-6.6 0.3,0.7 0.3-1.1 0.3-2.4 0.3,11.7 0.3-3.9 0.3-3.4 0.3,7.2 0.3-3.9 0.3-7.4 0.3-0.5 0.3,0.2 0.3,4.9 0.3,1.3 0.3-6.2 0.3,6.9 0.3-3.4 0.3-4.7 0.3,8.1 0.3,1.2 0.3-2.9 0.3-2.9 0.3,0.5 0.3,1.6 0.3-1.9 0.3,10.3 0.3-3.5 0.3-4.9 0.3,5.2 0.3,2 0.3-0.7 0.3-1.4 0.3-3.5 0.3,4 0.3-6 0.3-7 0.3,8.8 0.3-6.8 0.3,4.8 0.3,6.7 0.3-4.1 0.3,3.5 0.3-8.4 0.3,9.2 0.3-11.9 0.3,3.6 0.3,12.4 0.3-13.4 0.3-3.7 0.3,11.2 0.3-8.5 0.3,13.4 0.3-9.9 0.3,9.2 0.3-10.3 0.3,10.9 0.3,4.1 0.3-14.6 0.3-9 0.3,13.8 0.3-6.8 0.3,3.4 0.3,2.1 0.3-4.5 0.3-4.9 0.3,13.8 0.3-8.7 0.3,1.1 0.3,8.5 0.3-14.6 0.3-1.6 0.3,13.9 0.3-12.9 0.3,8.1 0.3,1 0.3-8 0.3,6.1 0.3-0.4 0.3-5.7 0.3,1.1 0.3,1.9 0.3,11 0.3,0.8 0.3-13 0.3,9.9 0.3-5.2 0.3,5.9 0.3-4.3 0.3,5.3 0.3-14 0.3,12.7 0.3-4.3 0.3,0.3 0.3-6.7 0.3,12.6 0.3-6.6 0.3,0.8 0.3-3.6 0.3,0.3 0.3,4.5 0.3-3.4 0.3,2.9 0.3-4 0.3,2.7 0.3,2.6 0.3-3 0.3-1.9 0.3-9.2 0.3,13.2 0.3-3.8 0.3-5.6 0.3,17 0.3-1.7 0.3-2.7 0.3-5.2 0.3-12.3 0.3,9.8 0.3-3.9 0.3,6.8 0.3,10.7 0.3-0.7 0.3-16.1 0.3,4 0.3,7.1 0.3-11.6 0.3,12.7 0.3-12.9 0.3-1.6 0.3,10.6 0.3,1.6 0.3-9.4 0.3,9.3 0.3-9.5 0.3,9.9 0.3-9.7 0.3,3.4 0.3,2.5 0.3,2.2 0.3-5.5 0.3,10.2 0.3-7.8 0.3,0.5 0.3-5.2 0.3,9.2 0.3-14.3 0.3,9.7 0.3,3.9 0.3-12.1 0.3-1.4 0.3,8.8 0.3,3.4 0.3-4.4 0.3,3.3 0.3-1.8 0.3-9 0.3,5.5 0.3,1.2 0.3-1 0.3,1.9 0.3-4.4 0.3-0.2 0.3,6 0.3-2.4 0.3-11.1 0.3,9.6 0.3,2.8 0.3-10.7 0.3,9.7 0.3,5.3 0.3-8.5 0.3,7.5 0.3-1.9 0.3-4 0.3,2.2 0.3,3 0.3-1.1 0.3,0.2 0.3-8.4 0.3,9 0.3-0.7 0.3-12.6 0.3,12.4 0.3-9.8 0.3,0.8 0.3,7.1 0.3,6 0.3-9 0.3-1 0.3-1.5 0.3,4.3 0.3-5.4 0.3-0.9 0.3,11.7 0.3-12 0.3,6 0.3,3.6 0.3-1.2 0.3-10.6 0.3,4.3 0.3,13.3 0.3-9 0.3,1.1 0.3,0.1 0.3,1.6 0.3,4.5 0.3-11.1 0.3,8.6 0.3-2.7 0.3,1.1 0.3,0.6 0.3-7.1 0.3,1.7 0.3,5.1 0.3,1.3 0.3-2.3 0.3-6.9 0.3,4 0.3-0.5 0.3,2.6 0.3-0.3 0.3-2.3 0.3,9.9 0.3-16.6 0.3,11.5 0.3-1.1 0.3-9.1 0.3,5.3 0.3,0.9 0.3,2.9 0.3,4.7 0.3-8.4 0.3-4.8 0.3,10 0.3-10.9 0.3,12 0.3-1.9 0.3-6 0.3,2.4 0.3-3.3 0.3,6.9 0.3,1.3 0.3,4 0.3-3.2 0.3-0.6 0.3,1.7 0.3-8.4 0.3,4.7 0.3,6.3 0.3-21.5 0.3,15.9 0.3,2.1 0.3-12 0.3,0.3 0.3,11.1 0.3,1.5 0.3-2.3 0.3-10.2 0.3,6.9 0.3,2.4 0.3-3.8 0.3-5.9 0.3,12.4 0.3-4.9 0.3,4.8 0.3-17.1 0.3,1.7 0.3,4.1 0.3,5.2 0.3-3.8 0.3,13.2 0.3-11.4 0.3,7.7 0.3-0.1 0.3-3 0.3-1.7 0.3-4.5 0.3-0.6 0.3,2 0.3,5.8 0.3-7.8 0.3,3.8 0.3-6.3 0.3,10.1 0.3,8.8 0.3-11 0.3-12.7 0.3,8.1 0.3,3.1 0.3-5.2 0.3,1.8 0.3,0.2 0.3,4.6 0.3-2.9 0.3-0.6 0.3,4 0.3,2.3 0.3-6.1 0.3-4 0.3,1.5 0.3,0.7 0.3-0.1 0.3-10 0.3,11.1 0.3-3.8 0.3-4.4 0.3,9.1 0.3-1.1 0.3-3.7 0.3-3.2 0.3,6.6 0.3-0.3 0.3,1.3 0.3,6.2 0.3-11.2 0.3,6.5 0.3,7 0.3-7.6 0.3,7.6 0.3-3.5 0.3-4.9 0.3,4.4 0.3-9.6 0.3,12.2 0.3-8.4 0.3-1.4 0.3-4.4 0.3,2.6 0.3,3.2 0.3,0.7 0.3,0.7 0.3-5.8 0.3,8.6 0.3-5.7 0.3,2.9 0.3-1.6 0.3,2.4 0.3-11.6 0.3,13.4 0.3-4.4 0.3-0.1 0.3-1.6 0.3,0.7 0.3,0.1 0.3-2.7 0.3,11.9 0.3-7.3 0.3,6 0.3-7.1 0.3,6.8 0.3-1.1 0.3-4.3 0.3-7 0.3,3.9 0.3,1.3 0.3-5.3 0.3,11.2 0.3,5.5 0.3-8 0.3-0.7 0.3-7.3 0.3-4.4 0.3,16.7 0.3-18.3 0.3,4.4 0.3,3.4 0.3,2.3 0.3-9.9 0.3,11.2 0.3,2.7 0.3-3 0.3,7.2 0.3-8.8 0.3,2.8 0.3-2.2 0.3-0.1 0.3,6.8 0.3-11.4 0.3,11.1 0.3-9.1 0.3,11.9 0.3-9.5 0.3,5.7 0.3-4.1 0.3,3.3 0.3,7.3 0.3-5.1 0.3-5.7 0.3-2.7 0.3,10.1 0.3,3.1 0.3-6 0.3-3.2 0.3,2 0.3,0.8 0.3-8 0.3-0.5 0.3,1 0.3,8.1 0.3-4.9 0.3,1.3 0.3,5.9 0.3-11.1 0.3,3.8 0.3,2.7 0.3-9.1 0.3,3.1 0.3-0.4 0.3-1.7 0.3,2.3 0.3,9.5 0.3-4.2 0.3-6.7 0.3,8.5 0.3-3.9 0.3-1.7 0.3-5.1 0.3,0.7 0.3,1.9 0.3,5.2 0.3-5.3 0.3,1.9 0.3,3.3 0.3-7.3 0.3,4.1 0.3,6 0.3-9.7 0.3,7.2 0.3-4 0.3,10.1 0.3-7.2 0.3,4.4 0.3,0.1 0.3,4.5 0.3-19.5 0.3,11 0.3-1.8 0.3-4.2 0.3,5.9 0.3-3.1 0.3,9 0.3-7.5 0.3,2.9 0.3-4.4 0.3,1.5 0.3,7.5 0.3,2.2 0.3-4 0.3-8.4 0.3,1.5 0.3,0.1 0.3,11.6 0.3,3.2 0.3-9.9 0.3-1.5 0.3,1.3 0.3-4.6 0.3,2.5 0.3,4.9 0.3-1.5 0.3-4.9 0.3,0.3 0.3,0.7 0.3-11.3 0.3,12.2 0.3-1.9 0.3,5.4 0.3-3.1 0.3-4.3 0.3-0.2 0.3,3.5 0.3-2.7 0.3,1.6 0.3,9.3 0.3,6.7 0.3-26.8 0.3,7.1 0.3,4.2 0.3,8.1 0.3-2.3 0.3-12.6 0.3,19.9 0.3-11.9 0.3-5.7 0.3,3.4 0.3-2.9 0.3,4.2 0.3-12.1 0.3,16.4 0.3,1.6 0.3-7.9 0.3-5.5 0.3,7.1 0.3-5.4 0.3,7.6 0.3,3.1 0.3-12.4 0.3-0.8 0.3,0.1 0.3,9.5 0.3,3.4 0.3,0.1 0.3-4.6 0.3-3.9 0.3,0.4 0.3,9.3 0.3-7.9 0.3,0.9 0.3-0.4 0.3,0.6 0.3,0.8 0.3-3.8 0.3,2.2 0.3-0.5 0.3,4.4 0.3-5.2 0.3,2.4 0.3,9.6 0.3-12.5 0.3,3.6 0.3-5.8 0.3,5.2 0.3-0.3 0.3-1.5 0.3,1.1 0.3,2 0.3,6.5 0.3-17.5 0.3,16.4 0.3-5.9 0.3-4.8 0.3,1.2 0.3-0.9 0.3-1 0.3-2.3 0.3,4.6 0.3-12.6 0.3,18.8 0.3-6 0.3,2.8 0.3,0.9 0.3-4 0.3-5.6 0.3,10.3 0.3,0 0.3-6.9 0.3,0.9 0.3-6.8 0.3,4.4 0.3,3.8 0.3,2.7 0.3-2.7 0.3,1.9 0.3,5.7 0.3-6.6 0.3,0.8 0.3,0.3 0.3,0.9 0.3-10.2 0.3,4.8 0.3-1.2 0.3,7.4 0.3,2 0.3-3.6 0.3-2.5 0.3,2.8 0.3-0.8 0.3-5.5 0.3,3.1 0.3,6.2 0.3-2.7 0.3,1.1 0.3-4.1 0.3,6.5 0.3-4.8 0.3-4.2 0.3,3.2 0.3,4.5 0.3-1.4 0.3-3.6 0.3-1.7 0.3-1.7 0.3,4.7 0.3,5.6 0.3-13.2 0.3,5.4 0.3-0.5 0.3,0.4 0.3,6.5 0.3-3.5 0.3-2.8 0.3-3.7 0.3,4.7 0.3,15.2 0.3-13.8 0.3-2.8 0.3-4.6 0.3,2.8 0.3-8.5 0.3,5.1 0.3,0.4 0.3,1.9 0.3,11.2 0.3-10.7 0.3,1.2 0.3,5.4 0.3-5.4 0.3,0.9 0.3,4.2 0.3-1.6 0.3,0.6 0.3-2.3 0.3,3.1 0.3-4.6 0.3,11.8 0.3-7.8 0.3,6.7 0.3-5.7 0.3-4.8 0.3,2.4 0.3,0.7 0.3-0.9 0.3-7.2 0.3,12.9 0.3-9.5 0.3,11.5 0.3-5 0.3-3 0.3,4.9 0.3-5 0.3-2.5 0.3,9.2 0.3-5.3 0.3,1.5 0.3,7.5 0.3-8.4 0.3,3 0.3-10.2 0.3,10.6 0.3-12.3 0.3,10.8 0.3-11.9 0.3,6.8 0.3,0.4 0.3-1.6 0.3-0.5 0.3-2.3 0.3-1.6 0.3,10.1 0.4,4.3 0.3,6.9 0.3-10.9 0.3-5.5 0.3,1.9 0.3,1.3 0.3,2.3 0.3,1.4 0.3-1.7 0.3-3.2 0.3,10.4 0.3-11.9 0.3,10.5 0.3-6.2 0.3,2.4 0.3-1.3 0.3,3.3 0.3,0.6 0.3-4.4 0.3,4.1 0.3-16.9 0.3,13.8 0.3,1.2 0.3-0.4 0.3,2.5 0.3,6.7 0.3-10.5 0.3-2.7 0.3,8.8 0.3-7.3 0.3,5.9 0.3-5.6 0.3-1.8 0.3-0.6 0.3,0.3 0.3,5.5 0.3-7.6 0.3,6.5 0.3-3.8 0.3-1.7 0.3,4.9 0.3,4.7 0.3-9 0.3,8.3 0.3-1 0.3,1 0.3-9.2 0.3,4.8 0.3,10.1 0.3-14.3 0.3-6.4 0.3,1.4 0.3,11.4 0.3-3 0.3-2.1 0.3-1.7 0.3,4.1 0.3,5.5 0.3-8.8 0.3,0.7 0.3,9.4 0.3-4.6 0.3-3 0.3,1.4 0.3-2.5 0.3-1.2 0.3,1.2 0.3,3.2 0.3,6 0.3-9.4 0.3-3.7 0.3-2.7 0.3,9.7 0.3,0.1 0.3-7 0.3,0 0.3,5.4 0.3-1.7 0.3,7.1 0.3-6.4 0.3,6.8 0.3-3.2 0.3,0 0.3,1.7 0.3,7.9 0.3-6.1 0.3-5.5 0.3,2 0.3,1.6 0.3-3.9 0.3-1.1 0.3-0.7 0.3,8 0.3-3.9 0.3,1.7 0.3,2.7 0.3,3 0.3-6.6 0.3,3.8 0.3-14.5 0.3,10.9 0.3,0.6 0.3,0.9 0.3-10.8 0.3,13.6 0.3-3.7 0.3,3 0.3-3.1 0.3-0.3 0.3-5.4 0.3,12.1 0.3-6.6 0.3-7.8 0.3,10.3 0.3-1.6 0.3,3.5 0.3,8.4 0.3-12 0.3-6.1 0.3,7.9 0.3,6.7 0.3-10.1 0.3,1 0.3-4.4 0.3,0.5 0.3,5.8 0.3-3.2 0.3,10.6 0.3-13.9 0.3,4.5 0.3-4.2 0.3,0.1 0.3,6.6 0.3-0.6 0.3,3.5 0.3,5.8 0.3-9.2 0.3-1.4 0.3,6.1 0.3-8.6 0.3,3 0.3-1.7 0.3,6 0.3,4.8 0.3-12.1 0.3,0.8 0.3,3.5 0.3,1.6 0.3-0.6 0.3-0.7 0.3,1.9 0.3,7.3 0.3-13.4 0.3,11 0.3-5.5 0.3-0.1 0.3-2.7 0.3,9.1 0.3-13.5 0.3,2.7 0.3-0.5 0.3-2.3 0.3,10 0.3,11.2 0.3-16.6 0.3-4.6 0.3,0.8 0.3,8.2 0.3-2.1 0.3-1.8 0.3,10.1 0.3-5.4 0.3-0.1 0.3-10.6 0.3,10.8 0.3-10.6 0.3,7.5 0.3,8.2 0.3-18.6 0.3,15.3 0.3-7.5 0.3-5.2 0.3,10.8 0.3,3.4 0.3-10.8 0.3,4.7 0.3,6.3 0.3-0.7 0.3-3.2 0.3-6.5 0.3,6.1 0.3-4.5 0.3-4.7 0.3,1.9 0.3-0.8 0.3,1.1 0.3,13.7 0.3-13.6 0.3,4.4 0.3,2.2 0.3,4.7 0.3,2.5 0.3-2.3 0.3-5.1 0.3,5.6 0.3-1.7 0.3-0.9 0.3-6.1 0.3,4.7 0.3-0.7 0.3-7 0.3,8 0.3-4.4 0.3,8 0.3-6.6 0.3,1.1 0.3-0.2 0.3,3.1 0.3,2.8 0.3-3.4 0.3,0.8 0.3-7.1 0.3,0.6 0.3,10.2 0.3-8.7 0.3,5.4 0.3-4.5 0.3,4.6 0.3,4.8 0.3-11.9 0.3,2.8 0.3,8.1 0.3,3.3 0.3-6.5 0.3,3.2 0.3-3.9 0.3-4.6 0.3-4 0.3,8.8 0.3-8.2 0.3,1.1 0.3,7.7 0.3,6 0.3-12 0.3,1.2 0.3-8.3 0.3,4.5 0.3,3.2 0.3-4.3 0.3,13.2 0.3-5.8 0.3,2.3 0.3-9.6 0.3,5.7 0.3,17.5 0.3-21.2 0.3,11 0.3-8 0.3,6.1 0.3-3.4 0.3-1.8 0.3,2.2 0.3,5.6 0.3-11.3 0.3,4.9 0.3,2.1 0.3-3.4 0.3,6 0.3-11.5 0.3,8 0.3-0.6 0.3,0.2 0.3,6.1 0.3,1.3 0.3-6.6 0.3-0.6 0.3-4.7 0.3,4.4 0.3,7.5 0.3-7.7 0.3-1.4 0.3-0.8 0.3,3.3 0.3,7.5 0.3-11.3 0.3,9.1 0.3-6.2 0.3,10.4 0.3-11.2 0.3,7.5 0.3-8.9 0.3-3.2 0.3,2.9 0.3,11.2 0.3-1 0.3-0.3 0.3-7.3 0.3,1.5 0.3,1 0.3-0.7 0.3-1.3 0.3-0.3 0.3-4.9 0.3,8.4 0.3-1.2 0.3,9.9 0.3-2.6 0.3-3 0.3,2.4 0.3-6.7 0.3-3.9 0.3,7.1 0.3,0.2 0.3,0.2 0.3-3.1 0.3,3.2 0.3-4.6 0.3,0.6 0.3-0.2 0.3-2.1 0.3,3.6 0.3-0.6 0.3-7.7 0.3,8.6 0.3-4 0.3,3.6 0.3,2.4 0.3,0 0.3,1.8 0.3-4 0.3,2.9 0.3-0.8 0.3-7.9 0.3,6.5 0.3-6.1 0.3,4.2 0.3-2.9 0.3,7.1 0.3-3.7 0.3-11.9 0.3,8.7 0.3-0.9 0.3,3.7 0.3-3 0.3,9.7 0.3-1.5 0.3-6.1 0.3-1.9 0.3,5.9 0.3-1 0.3,0.8 0.3-0.8 0.3,4.8 0.3,1.2 0.3-6.5 0.3,7.9 0.3-3.6 0.3-1.5 0.3,1.9 0.3-6.2 0.3,3.3 0.3-1.8 0.3,4.5 0.3-1.3 0.3-6 0.3,0.7 0.3,4 0.3-4 0.3,0.9 0.3,0.1 0.3-6.9 0.3,9.6 0.3-3.9 0.3,0 0.3,3.1 0.3,4.5 0.3-8.9 0.3,2 0.3,1.1 0.3,0.1 0.3,0 0.3,4.4 0.3-5.7 0.3,10.1 0.3-8.5 0.3,7 0.3-5.5 0.3-5.1 0.3,4.7 0.3,1.1 0.3-4.8 0.3,3.8 0.3,0.6 0.3,0 0.3-9.2 0.3,4.1 0.3,0.9 0.3,8 0.3-8.7 0.3,9.2 0.3-8.5 0.3,7.6 0.3-12.5 0.3,13.1 0.3-10.5 0.3,1.4 0.3,9.2 0.3-5.6 0.3-6.1 0.3,1 0.3,9.9 0.3-4.2 0.3,2.2 0.3-0.6 0.3-1.5 0.3-9.1 0.3,6 0.3,1.1 0.3,0.2 0.3-3.7 0.3-0.3 0.3,5.6 0.3-8.8 0.3,9 0.3-3.1 0.3-2.9 0.3-4.7 0.3,7.2 0.3-2.6 0.3-3.9 0.3,2.2 0.3-2 0.3,0 0.3,2.6 0.3-1.6 0.3-1.4 0.3,3.2 0.3-6.2 0.3,12.6 0.3-4.1 0.3-8.8 0.3,3.3 0.3,3.5 0.3-4.1 0.3-3.2 0.3,5.1 0.3-5.7 0.3,2.2 0.3-1.2 0.3-1.3 0.3-5.6 0.3,6.7 0.3-4.1 0.3-5.1 0.3,5.3 0.3-0.1 0.3-9.2 0.3,0.6 0.3-0.8 0.3-2.3 0.3,2.8 0.3-15.1 0.3,13 0.3-2.9 0.3,2.8 0.3-4.3 0.3-7.4 0.3,5.1 0.3-2.2 0.3,4 0.3-8.2 0.3,6.2 0.3,5.4 0.3-6.9 0.3,4.6 0.3-3 0.3,2.3 0.3,0.2 0.3,1.1 0.3,4.5 0.3,3 0.3-8.1 0.3,4.8 0.3-0.6 0.3,3.6 0.3,6.5 0.3-1.7 0.3-8.7 0.3,8.8 0.3-0.5 0.3,4.8 0.3-2.5 0.3,0.4 0.3,0.3 0.3,0.3 0.3,2.8 0.3,0.5 0.3-1.3 0.3-0.5 0.3,2.3 0.3-6.2 0.3,6.1 0.3,0.8 0.3,3.5 0.3-5.4 0.3,8 0.3,2.7 0.3-1.7 0.3-5.1 0.3,7 0.3-8.2 0.3,5.3 0.3,6 0.3-4 0.3-6.7 0.3,10.1 0.3,2.2 0.3-6 0.3-2.4 0.3,1.6 0.3,5.4 0.3-1.4 0.3,0 0.3-2.6 0.3-3 0.3,8.6 0.3-4.7 0.3,6.4 0.3-3 0.3,5.8 0.3-0.2 0.3-3.9 0.3,5 0.3-6.2 0.3,5.5 0.3-2.1 0.3,0.8 0.3,1.2 0.3-1.5 0.3-3.2 0.3-7.1 0.3,15.7 0.3-5.2 0.3,1.9 0.3,2.9 0.3-4.2 0.3,4.4 0.3-2.7 0.3-4.6 0.3,11.9 0.3-8 0.3-0.6 0.3,5.2 0.3-5.2 0.3,0.8 0.3,2.7 0.3-5.5 0.3,9.2 0.3-6.9 0.3,3.3 0.3,3.1 0.3-3.1 0.3,0.8 0.3-4.1 0.3,8.5 0.3-4.6 0.3,1.1 0.3-7.2 0.3,9.8 0.3-7.7 0.3,10.2 0.3-7.4 0.3,1.8 0.3-1.7 0.3,4 0.3,4.6 0.3-1.3 0.3-10.2 0.3,4.1 0.3,4 0.3-6.2 0.3,6.1 0.3,0.1 0.3,1.8 0.3-8.5 0.3-2.6 0.3,10.6 0.3-4.3 0.3-2.4 0.3-3.9 0.3,16.4 0.3-9 0.3-1.7 0.3,7.8 0.3-6.6 0.3,0.9 0.3-1.8 0.3,4.9 0.3-3.5 0.3,3.9 0.3-4.3 0.3,1.8 0.3,2.1 0.3,3.9 0.3-10.9 0.3,2.1 0.3,0.9 0.3,5.8 0.3-1 0.3-7.2 0.3,3.5 0.3,5.9 0.3-3.1 0.3-0.2 0.3,1.4 0.3,2.8 0.3-7.8 0.3,2.6 0.3,3 0.3,5 0.3-3.4 0.3-1.9 0.3-3 0.3,4.2 0.3-4 0.3,2.8 0.3,2.6 0.3,5.9 0.3-4.4 0.3,1 0.3-3.6 0.3-1.2 0.3-2.9 0.3,4.1 0.3,3.3 0.3-9.7 0.3,5.8 0.3,1.8 0.3,0.1 0.3,3.1 0.3-5.4 0.3,0.8 0.3-3.3 0.3,1.5 0.3,0.8 0.3-1 0.3,4.4 0.3,0.5 0.3-1 0.3,3.5 0.3-3 0.3,0.6 0.3-2.7 0.3,2 0.3,5.3 0.3-5.3 0.3-3.8 0.3,9.2 0.3-3 0.3-2.1 0.3,3.9 0.3-2.1 0.3-1.7 0.3,4 0.3-4.5 0.3-0.2 0.3,4.7 0.3-3.5 0.3-2.9 0.3,3.6 0.3-1.7 0.3-0.5 0.3,2.5 0.3-3.3 0.3,1.7 0.3,3.9 0.3-4.1 0.3-0.9 0.3,0.2 0.3,4.1 0.3-3 0.3-2.5 0.3,3.2 0.3-2.6 0.3-0.2 0.3,3.8 0.3-1.9 0.3,2.7 0.3-3.8 0.3,3.3 0.3,1.4 0.3-1.4 0.3,0.2 0.3-1.3 0.3-0.1 0.3,4.6 0.3-1.4 0.3-2.8 0.3-0.3 0.3,1.2 0.3-7.1 0.3,4.3 0.3,3.4 0.3-2.2 0.3-1.7 0.3,2.8 0.3,6 0.3-5.2 0.3,0.2 0.3-5.8 0.3,11.2 0.3-9.4 0.3,4.8 0.3-3 0.3,3.5 0.3-1.3 0.3-2.6 0.3,3 0.3-2.7 0.3,3.2 0.3,1 0.3-0.5 0.3,0.8 0.3-1 0.3-4.1 0.3,7.2 0.3,1.4 0.3-4.6 0.3-4.7 0.3,1.9 0.3-0.8 0.3,0.3 0.3,5.6 0.3-2.3 0.3,7.8 0.3-5.7 0.3-3.4 0.3,6.2 0.3,1.4 0.3-2.1 0.3-4.2 0.3-2.6 0.3-3.9 0.3,3.3 0.3,8.3 0.3,2.3 0.3-6.9 0.3-2.5 0.3,7.6 0.3-3 0.3-0.2 0.3-1.3 0.3,0.7 0.3-1.9 0.3-1.5 0.3,2.8 0.3-1.8 0.3-3.5 0.3,8.5 0.3,0.1 0.3-4.3 0.3-3.7 0.3,4.8 0.3-2.6 0.3,4 0.3-3.4 0.3,4.4 0.3-3.6 0.3,0.8 0.3,0.1 0.3-2.7 0.3,0.9 0.3,4.7 0.3-4.1 0.3,7.3 0.3-7.5 0.3-4.9 0.3,6.3 0.3,0.1 0.3,1.3 0.3-2.1 0.3,3.6 0.3-3.1 0.3,2.7 0.3,0.5 0.3-1.5 0.3,0.5 0.3,4.8 0.3-10.6 0.3,5.4 0.3,5.2 0.3-7.7 0.3,3.1 0.3-0.6 0.3-1.3 0.3,4.5 0.3,5.8 0.3-7.9 0.3-0.9 0.3-2.1 0.3,5 0.3-1.3 0.3-1.9 0.3,2.1 0.3-0.2 0.3-1.3 0.3,3.5 0.3-7.1 0.3,7 0.3-2.6 0.3,1.1 0.3,1.1 0.3-3.5 0.3-1.3 0.3-1.2 0.3,2.5 0.3,3 0.3-3.7 0.3,6.5 0.3-4.1 0.3-1.3 0.3,0 0.3,4.8 0.3,1 0.3-8.8 0.3,6.2 0.3,3.2 0.3-1.1 0.3-3.5 0.3-3.2 0.3,3.4 0.3-3.4 0.3,2.8 0.3-0.6 0.3-1.4 0.3,3.8 0.3-1.8 0.3,2 0.3,0.7 0.3-3.6 0.3,4.2 0.3-2.5 0.3,2.5 0.3-1.9 0.3,1.3 0.3-4.5 0.3,2.8 0.3,0.1 0.3-4.4 0.3,12.8 0.3-4.9 0.3,4.6 0.3-7.6 0.3-1.2 0.3-0.6 0.3,1.1 0.3,3.3 0.3-7.3 0.3,4.1 0.3,1.6 0.3,2.4 0.3-4.2 0.3,2.6 0.3-0.1 0.3-1.8 0.3,0 0.3,2.9 0.3-5.7 0.3,6.3 0.3,0.4 0.3-4 0.3,0.6 0.3,0.2 0.3,1.4 0.3-1.3 0.3,1.8 0.3,3 0.3-6.6 0.3,4.9 0.3-2.1 0.3-2.7 0.3,2 0.3-7.5 0.3,11.6 0.3-1.8 0.3-2.3 0.3-3.5 0.3,4.5 0.3,3.4 0.3-7.2 0.3,5.8 0.3-2 0.3-3 0.3,4.4 0.3-0.6 0.3-2.6 0.3,2 0.3-1.3 0.3,3.4 0.3-2.2 0.3,2.7 0.3,1.3 0.3-9.2 0.3,3.7 0.3-1.3 0.3,5.3 0.3-2.6 0.3,0.6 0.3,3.4 0.3-5.5 0.3,3.6 0.3-1.4 0.3,3.7 0.3-7 0.3,0.7 0.3,1 0.3,3.7 0.3-1 0.3-4.9 0.3,4.2 0.3-1.5 0.3,0.4 0.3,3.6 0.3-7.4 0.3,9.9 0.3-6.2 0.3,0.9 0.3,4.4 0.3-5.5 0.3-0.5 0.3,1.4 0.3,2.5 0.3-3.6 0.3-1.8 0.3,2.5 0.3-4.1 0.3,2.4 0.3,0.3 0.3-1.7 0.3,5.8 0.3-0.4 0.3-2.8 0.3,0 0.3-2.8 0.3,1.1 0.3,2.7 0.3-0.1 0.3,1.5 0.3,0.2 0.3,0.3 0.3-3.8 0.3,3.9 0.3-0.3 0.3-1.4 0.3,1.9 0.3-0.7 0.3,5.5 0.3-7.2 0.3,1.9 0.3-1.3 0.3-0.5 0.3,6.3 0.3-12 0.3,6.3 0.3,0 0.3,5.5 0.3-6.8 0.3,0.6 0.3,2.2 0.3-1.7 0.3-2.9 0.3,4.5 0.3,1.6 0.3-6.2 0.3,3 0.3,1.2 0.3-6.9 0.3,6 0.3,1 0.3-1.3 0.3,1.9 0.3-1.7 0.3,0.2 0.3,2.3 0.3-1.1 0.3-1.5 0.3-0.2 0.3-0.6 0.3-0.5 0.3,1.5 0.3-0.7 0.3,2.5 0.3-0.3 0.3-3.6 0.3,8.4 0.3-6.5 0.3-7.8 0.3,14 0.3-9.3 0.3,9.1 0.3-5.9 0.3-3.5 0.3,0.4 0.3,6.7 0.3,1.1 0.3,0.5 0.3-6.1 0.3,3.1 0.3-1 0.3-0.7 0.3-0.5 0.3-0.3 0.3,1.2 0.3,4.8 0.3-8.6 0.3,11.8 0.3-11.1 0.3,5.1 0.3-1.1 0.3,0.9 0.3-0.4 0.3-1 0.3,0.7 0.3,2.3 0.3-5.4 0.3,4 0.3-5.4 0.3,4.2 0.3,1.6 0.3-3.2 0.3-1.3 0.3,5.1 0.3-1.8 0.3-4.8 0.3,6.8 0.3-0.4 0.3-2.9 0.3,3.9 0.3,3.5 0.3-2.2 0.3-5.7 0.3-0.8 0.3,0.2 0.3,0.5 0.3,4.6 0.3-5.4 0.3-1.3 0.3,5.2 0.3-4.6 0.3,3.7 0.3-1.6 0.3-0.5 0.3,5.2 0.3-8.3 0.3,6.5 0.3-2.1 0.3,1.1 0.3-2.7 0.3,0.1 0.3,1.2 0.3-3.9 0.3,3.1 0.3,2 0.3,6.9 0.3-7.3 0.3,0 0.3,1.7 0.3-0.1 0.3-4 0.3-1.3 0.3-2.4 0.3,2.1 0.3,5.2 0.3-2.7 0.3,4.6 0.3-5.9 0.3,1 0.3,2.8 0.3-1.5 0.3,0.5 0.3,1 0.3-5.4 0.3-5 0.3,6.3 0.3-0.6 0.3,2.5 0.3,1.4 0.3-7.1 0.3,7.2 0.3-2.2 0.3,1.5 0.3-2 0.3,1.8 0.3-1.8 0.3,5.2 0.3-3.3 0.3-4.1 0.3,6.8 0.3-1.1 0.3-5.7 0.3,2.7 0.3-1.8 0.3,9.2 0.3-6.6 0.3,3.9 0.3,0.4 0.3-5.1 0.3-2.1 0.3,7.5 0.3-1.1 0.3-1.5 0.3-1.3 0.3,3.4 0.3-10.1 0.3,4.7 0.3,2.7 0.3,0.4 0.3-7.9 0.3,0.2 0.3,7.7 0.3-2.4 0.3-2.5 0.3,6.8 0.3-1.6 0.3-5.5 0.3,5.8 0.3-0.8 0.3,2.6 0.3-1.6 0.3-4.1 0.3,4.2 0.3,1.4 0.3-1.9 0.3-6.7 0.3,4.4 0.3,2.1 0.3-2 0.3-0.8 0.3,0.9 0.3,5.4 0.3-5.9 0.3,1.5 0.3-3 0.3,6.2 0.3-6.8 0.3,4.4 0.3,3.4 0.3-8.6 0.3,5.2 0.3-2.5 0.3,1.5 0.3-3.5 0.3,0 0.3,0 0.3,1.1 0.3,6.6 0.3,0.2 0.3-5.4 0.3,3.3 0.3-4 0.3,0.8 0.3,4.5 0.3-1.1 0.3,0.3 0.3-0.7 0.3-1.9 0.3-2.5 0.3-1.9 0.3,6.6 0.3-1.2 0.3-6 0.3,1.9 0.3,1.9 0.3,7.3 0.3-3.8 0.3-3.3 0.3,2.1 0.3-7.3 0.3,5.4 0.3-0.6 0.3,3.9 0.3-0.1 0.3-1.1 0.3-0.1 0.3-1.1 0.3-1.7 0.3,0.4 0.3-2.2 0.3,6.7 0.3-4.4 0.3-0.1 0.3-3.8 0.3,5.1 0.3-1.6 0.3,3.3 0.3-3.5 0.3,0 0.3,2.9 0.3-0.5 0.3-1.2 0.3-1.7 0.3,4.9 0.3-5.7 0.3,3.4 0.3-6.3 0.3,1.2 0.3,5.3 0.3,0.6 0.3-8.7 0.3,5.2 0.3,0.2 0.3,2.8 0.3-0.9 0.3-2.6 0.3,0.5 0.3,4.1 0.3-5.8 0.3,2.6 0.3,3.6 0.3-5.5 0.3,3.3 0.3-2.7 0.3,3.7 0.3-2.5 0.3,5.6 0.3-5.7 0.3,5.4 0.3-4.8 0.3,7.7 0.3-7 0.3-2.3 0.3,0.7 0.3-2 0.3,6.4 0.3-7.4 0.3-0.1 0.3,7.9 0.3-1.1 0.3-0.7 0.3-1.5 0.3-0.6 0.3,7.5 0.3-8.7 0.3,2.4 0.3,2.2 0.3-5.6 0.3,3.7 0.3-4.2 0.3,1.7 0.3,2.4 0.3-4.2 0.3,1.1 0.3,3.7 0.3,3.1 0.3-3 0.3-3.3 0.3,2.4 0.3-5.6 0.3,4.2 0.3,0.2 0.3-0.6 0.3,3.6 0.3-2.1 0.3,1.5 0.3,4.8 0.3-1.6 0.3-7.1 0.3,3.3 0.3-0.9 0.3,3.9 0.3-2.6 0.3-3.8 0.3,1.9 0.3,1.8 0.3-5.8 0.3,4.5 0.3,0.8 0.3-4.2 0.3,8.1 0.3-6.4 0.3,4.7 0.3-0.9 0.3-0.3 0.3-2.3 0.3,0.1 0.3-0.6 0.3,0.3 0.3-3.3 0.3-0.9 0.3,2.8 0.3-0.1 0.3,3.2 0.3,2.1 0.3-4.8 0.3,1.6 0.3-2.3 0.3,7.5 0.3-12.6 0.3,11.1 0.3-3.7 0.3-2.7 0.3,6.8 0.3-2.4 0.3,4.2 0.3-1.7 0.3,1.5 0.3-5.8 0.3-0.5 0.3,1.7 0.3-4.4 0.3-0.3 0.3,3.9 0.3,0.6 0.3,0.2 0.3,0.5 0.3-4.9 0.3,3 0.3,1.6 0.3-0.3 0.3-2.1 0.3,2.6 0.3-2 0.3,1.1 0.3-4 0.3,0.6 0.3,7.3 0.3-3.5 0.3-2.5 0.3,3.3 0.3-3.5 0.3,1.3 0.3-0.7 0.3,1.9 0.3-1 0.3-0.6 0.3,5.6 0.3-1.5 0.3,0.3 0.3-7.6 0.3,3.9 0.3-0.2 0.3,0.6 0.3,2 0.3,0.6 0.3-4.5 0.3,3.5 0.3-5.5 0.3,3.9 0.3,0.3 0.3,0.9 0.3-0.3 0.3-0.3 0.3-4.2 0.3-2.3 0.3,9.9 0.3-4 0.3-1.2 0.3,4.5 0.3-0.7 0.3-0.5 0.3,5.5 0.3-8.6 0.3,2 0.3,0.2 0.3-0.5 0.3-0.5 0.3-5.7 0.3,6 0.3-1.8 0.3,3.8 0.3-2.5 0.3,1.9 0.3-0.4 0.3,2.1 0.3-0.2 0.3-3.5 0.3-0.8 0.3,0.8 0.3,3.2 0.3-2.8 0.3,8.1 0.3-9.8 0.3,2.8 0.3-0.9 0.3-2.5 0.3,4.5 0.3-3.8 0.3,3.9 0.3-2.7 0.3,2.7 0.3-2 0.3-3.2 0.3,5.9 0.3-0.1 0.3-0.8 0.3-1.7 0.3-6.9 0.3,9.4 0.3,4.1 0.3-3.9 0.3,2.7 0.3-2.9 0.3-1.6 0.3,2.8 0.3-0.8 0.3,3.4 0.3-5.8 0.3,2.7 0.3-5.2 0.3,0.1 0.3,5.5 0.3-1.4 0.3-1.2 0.3-2 0.3,6.9 0.3-4.5 0.3-5.4 0.3,5.5 0.3-0.9 0.3,0.7 0.3,3.3 0.3-5.9 0.3,1.9 0.3,0.3 0.3-1.6 0.3-0.1 0.3,7.5 0.3-6.6 0.3,3 0.3-2.1 0.3,2.5 0.3,0.4 0.3-5.1 0.3,2.7 0.3,0.8 0.3,0.1 0.3-1.1 0.3,0.3 0.3,6.6 0.3-4.1 0.3-1.8 0.3-2.7 0.3-1.8 0.3,6.5 0.3-8.1 0.3,5.2 0.3-1.1 0.3,2.9 0.3,0.2 0.3-5.7 0.3,4.7 0.3-0.3 0.3-3.6 0.3-1.5 0.3,9 0.3-3.7 0.3-0.4 0.3-5.2 0.3-1.8 0.3,7.1 0.3-1.2 0.3-1.4 0.3-0.7 0.3,4.1 0.3-3.3 0.3,4.4 0.3,5.5 0.3-3.6 0.3-4.5 0.3-1.6 0.3,8.6 0.3-1.3 0.3-4.9 0.3,9.4 0.3-11.1 0.3-1.3 0.3,11.3 0.3-10.6 0.3,2.7 0.3-4.5 0.3,3.2 0.3,1.5 0.3-1 0.3-2.3 0.3,2.1 0.3,0.4 0.3,4.2 0.3-5.4 0.3,1.3 0.3-5.1 0.3,5.2 0.3,0.2 0.3,1.5 0.3-3.8 0.3,2.6 0.3,1.5 0.3-6.5 0.3-0.5 0.3,6.3 0.3,1.6 0.3-6.1 0.3,5.5 0.3-10.2 0.3,8.3 0.3-3.1 0.3,6.4 0.3-3.6 0.3-3.2 0.3,1.9 0.3,2.7 0.3-8.4 0.3,4.8 0.3,2.8 0.3,1 0.3-0.9 0.3-4.6 0.3,6 0.3-2.3 0.3,2.4 0.3-5.8 0.3,4 0.3-2.9 0.3,0.8 0.3,3.2 0.3-3.6 0.3-0.6 0.3,5.8 0.3-5.2 0.3-8 0.3,10.8 0.3-2.6 0.3,5.6 0.3-5.1 0.3,3 0.3-3.9 0.3,2.3 0.3,3.2 0.3-6.4 0.3,3.7 0.3,2.3 0.3-3.1 0.3,2.9 0.3-3.8 0.3,1.3 0.3,0.8 0.3-2.9 0.3,5.5 0.3-6.3 0.3,8.4 0.3-10.2 0.3,4 0.3,1.2 0.3,1.4 0.3-3.6 0.3,2 0.3,0 0.3-3.4 0.3,4.1 0.3-0.5 0.3-1.9 0.3-1.8 0.4,3.4 0.3-0.8 0.3,0.3 0.3-2 0.3-2.1 0.3,6.8 0.3-2.2 0.3-0.3 0.3-1.8 0.3-2.5 0.3,4.3 0.3-0.7 0.3-2.6 0.3,6.7 0.3-1.3 0.3-0.9 0.3-1.3 0.3-0.6 0.3,2.1 0.3-6.5 0.3,7 0.3-1.4 0.3-3.7 0.3,0.9 0.3,2.3 0.3-1.2 0.3-1.2 0.3,2.4 0.3-1.9 0.3,4.4 0.3-2.8 0.3,4.9 0.3-2.1 0.3,0.7 0.3-6.8 0.3,4.9 0.3-2.2 0.3,3.5 0.3-2.1 0.3,0.2 0.3,1.7 0.3-4.9 0.3,7.2 0.3-6.5 0.3-5.8 0.3,9.9 0.3-2.4 0.3,4.5 0.3-4.3 0.3,4.8 0.3-6.7 0.3,3.2 0.3,3.9 0.3-1.6 0.3,0.9 0.3-3.7 0.3-3.3 0.3,3.6 0.3,2.2 0.3-0.9 0.3-2.7 0.3,7.2 0.3-8.5 0.3,0.5 0.3,8.1 0.3-10.3 0.3,8 0.3-4 0.3-4 0.3,8.1 0.3,0.6 0.3-2.1 0.3-0.1 0.3-2.7 0.3,1.1 0.3-0.1 0.3,0 0.3-0.9 0.3,2 0.3-3.4 0.3,0.9 0.3,2.9 0.3-8.1 0.3,8.9 0.3-5.8 0.3,4.3 0.3-3.2 0.3-0.5 0.3-0.9 0.3-1.7 0.3,6.5 0.3-10.6 0.3,7 0.3,3.5 0.3,1.6 0.3-10.6 0.3,2 0.3,4.7 0.3-2.2 0.3-1.6 0.3,3.5 0.3,1.5 0.3-1.2 0.3-2.5 0.3,2.4 0.3,3.5 0.3-5.6 0.3,7.1 0.3-2.8 0.3-5.7 0.3,2.8 0.3,0.1 0.3,0.3 0.3-2.6 0.3,3.1 0.3,5.4 0.3-6.3 0.3,9.5 0.3-2.9 0.3-10.4 0.3,1.6 0.3,4.3 0.3-1.2 0.3-0.4 0.3-2.6 0.3,5 0.3,0.4 0.3-0.8 0.3-2.2 0.3-0.3 0.3,1.9 0.3-3.3 0.3,5.1 0.3-2.7 0.3,1.7 0.3,0.9 0.3-6.4 0.3,4.5 0.3,1.9 0.3-3 0.3,3 0.3-4.6 0.3-0.7 0.3-0.5 0.3,6 0.3-2.6 0.3-5.7 0.3,5.9 0.3-4.3 0.3-0.7 0.3,8.3 0.3-7.4 0.3,1.3 0.3-0.4 0.3-2.3 0.3,3.5 0.3,1.1 0.3-1.5 0.3,2.7 0.3-2.4 0.3,7.2 0.3-10.7 0.3,6.4 0.3-3 0.3,0.6 0.3,0.6 0.3,0 0.3,0.1 0.3,4.9 0.3-3.1 0.3-5 0.3,6.4 0.3,0.1 0.3-9.1 0.3,2.6 0.3-1 0.3,4.5 0.3-0.8 0.3-1.4 0.3,0.5 0.3,1.9 0.3,3.9 0.3-2.1 0.3,2.3 0.3-8.8 0.3,5.6 0.3-0.6 0.3-1.3 0.3,0.7 0.3-1.4 0.3,3.3 0.3,2.5 0.3-9.3 0.3,7 0.3-0.6 0.3,0.9 0.3-0.7 0.3-1.6 0.3-2.1 0.3,5.1 0.3-3.8 0.3,2.7 0.3-5.3 0.3,6.9 0.3-3.8 0.3-1.7 0.3,5.9 0.3-4.2 0.3-0.1 0.3,2.7 0.3-1.6 0.3-3.5 0.3,2.2 0.3,1.8 0.3-0.6 0.3-1.8 0.3-2.3 0.3,1.3 0.3,0.2 0.3-2.4 0.3,8.8 0.3-0.3 0.3,2.4 0.3-8.8 0.3,8.8 0.3-6.3 0.3-2.3 0.3,6.1 0.3-2.1 0.3-1.1 0.3-2.8 0.3,6.3 0.3-5.2 0.3-1 0.3,1.5 0.3,0 0.3-3.1 0.3,2.9 0.3,0.7 0.3,0.9 0.3-2.8 0.3,2.6 0.3-2.7 0.3,1.6 0.3-2.9 0.3,5.4 0.3-2.4 0.3-0.8 0.3-0.2 0.3-2 0.3,2 0.3-1.4 0.3-3 0.3,3.1 0.3,5.4 0.3,1 0.3-5.9 0.3,2.9 0.3-1.9 0.3,1.3 0.3-4.1 0.3,0.3 0.3,6.5 0.3-3.9 0.3,1.6 0.3,2.8 0.3-5.5 0.3,2.2 0.3-1.7 0.3-5.7 0.3,3.2 0.3,0.6 0.3,4.3 0.3,2.1 0.3-6.8 0.3,4.3 0.3-0.9 0.3,1.1 0.3-1.3 0.3-6.5 0.3,7.6 0.3-0.1 0.3-1.4 0.3-0.2 0.3,4.2 0.3,1.6 0.3-3.4 0.3-1 0.3,1.6 0.3,0.6 0.3-0.2 0.3-1.6 0.3-0.7 0.3,4.2 0.3-3.1 0.3-2.5 0.3,1.3 0.3,3.5 0.3-2.8 0.3-1 0.3-2.2 0.3,6.7 0.3-6.5 0.3,3.2 0.3-1.9 0.3-1.3 0.3,4.3 0.3-0.2 0.3-1.9 0.3-2.4 0.3,3.6 0.3,2.4 0.3-2 0.3-3.1 0.3-2.2 0.3,4.7 0.3-0.5 0.3-0.4 0.3-0.2 0.3,2.3 0.3-1.5 0.3-1.8 0.3,0.3 0.3,0.2 0.3,2.9 0.3-1.3 0.3,0.4 0.3-4.9 0.3-1.1 0.3,3 0.3-3.5 0.3,5.3 0.3-0.1 0.3,2.8 0.3-4.2 0.3,1.9 0.3-1.6 0.3-1.1 0.3,2 0.3,2.5 0.3-3.1 0.3,0.1 0.3-0.3 0.3-1.8 0.3,2.4 0.3,0.2 0.3-5.6 0.3,1.8 0.3,3.2 0.3,2.4 0.3-1.4 0.3-2.3 0.3-1.3 0.3-4.4 0.3,7.4 0.3-1.2 0.3,1.4 0.3-1.2 0.3,1.3 0.3,1.8 0.3-5.8 0.3,2.5 0.3-3.2 0.3,4.9 0.3-2.1 0.3-1.2 0.3,7.1 0.3-1.6 0.3-5.8 0.3,1.8 0.3,5.4 0.3-3.1 0.3,0.9 0.3-1.6 0.3-5.7 0.3,5.9 0.3-7.2 0.3,6.3 0.3,1.3 0.3-6.4 0.3,1.7 0.3-1.2 0.3-1.6 0.3,2.4 0.3-0.4 0.3,8.1 0.3-2.5 0.3-3.5 0.3,0.6 0.3-1.4 0.3,3.3 0.3-4.5 0.3-2.5 0.3,4 0.3-0.7 0.3,0.9 0.3-1.2 0.3,1.9 0.3,2 0.3-2 0.3,0.3 0.3,4.5 0.3-4.9 0.3,0.6 0.3-0.5 0.3,2 0.3-2.8 0.3-0.4 0.3,3.7 0.3-2.9 0.3-1.3 0.3,0.1 0.3,4.6 0.3,0.3 0.3-2.9 0.3,3 0.3-9.9 0.3,9.2 0.3,0 0.3-4 0.3,3.1 0.3,5.2 0.3-6.1 0.3,2.3 0.3-1.3 0.3,3.1 0.3-2 0.3-2 0.3-0.3 0.3,2.9 0.3-1.1 0.3,0.4 0.3-2.8 0.3,0.8 0.3,3.1 0.3-5.2 0.3,3.7 0.3-3 0.3,3.6 0.3-3.4 0.3,1.2 0.3-0.5 0.3-1.3 0.3,0.2 0.3,0.8 0.3,0 0.3,3.9 0.3-3.3 0.3,5.9 0.3,0.1 0.3-5.3 0.3-0.3 0.3-4.7 0.3,2.3 0.3-1.3 0.3,4 0.3-2.1 0.3-2 0.3,1.7 0.3,0.5 0.3,0.7 0.3,2.8 0.3-0.1 0.3,1.5 0.3-5.1 0.3,1.9 0.3,1.1 0.3-2.8 0.3,2.5 0.3-4.5 0.3-2.3 0.3,4 0.3,3.1 0.3,2.3 0.3-9.7 0.3,4.3 0.3,4.5 0.3-6.2 0.3,7.5 0.3-3.4 0.3-0.5 0.3,0.3 0.3,2.2 0.3-9.8 0.3,7.7 0.3-2.1 0.3,0.9 0.3,4.6 0.3-2.9 0.3-2.1 0.3-2 0.3,3.5 0.3-2 0.3,2 0.3-2.6 0.3,8.5 0.3-8.5 0.3,3.4 0.3-0.1 0.3,6.3 0.3-5 0.3-4.6 0.3-4.7 0.3,8.3 0.3-0.1 0.3-3.2 0.3,0.6 0.3,2.4 0.3-1.1 0.3,0.6 0.3-2.8 0.3-0.5 0.3-2.7 0.3,2.4 0.3,0.7 0.3,1.4 0.3-2.2 0.3,5.4 0.3-8.8 0.3,5.3 0.3-3.2 0.3,6.2 0.3-5.1 0.3,1.7 0.3,1.7 0.3,1.3 0.3,0.6 0.3-7.4 0.3,1.6 0.3,3.1 0.3-0.2 0.3,2.5 0.3,3.1 0.3-0.1 0.3-3.3 0.3-1.2 0.3,2.8 0.3-5.5 0.3,0.8 0.3,1 0.3,5.4 0.3-4.3 0.3-0.5 0.3,3.4 0.3,2.6 0.3-11.4 0.3,3.6 0.3,2.8 0.3-5.5 0.3,1.3 0.3,1.9 0.3,0.6 0.3-1.5 0.3-1.9 0.3,3.9 0.3,0.8 0.3-2.2 0.3,9.5 0.3-8.1 0.3,1.4" fill="none" stroke="#ff0000" stroke-width="6.0" stroke-linejoin="round" stroke-linecap="butt"/>
<line x1="376.3" y1="826.9" x2="376.3" y2="786.2" stroke="#ff0000" stroke-width="6"/>
<line x1="1367.7" y1="826.9" x2="1367.7" y2="797.3" stroke="#ff0000" stroke-width="6"/>
<path d="M304.4,897.7l0.3-3.5 0.3,0.9 0.3-0.1 0.3-2.9 0.3,8.7 0.3-1.9 0.3,2 0.3-4 0.3-3.7 0.3,3.1 0.3-1.8 0.3,7.5 0.3-6.7 0.3,3.2 0.3-8.7 0.3,2.7 0.3-0.3 0.3,3 0.3-2.3 0.3-0.2 0.3,3.1 0.3,0.3 0.3-1.3 0.3,1.4 0.3-0.1 0.3-1.2 0.3,1.4 0.3-5 0.3,7.6 0.3-7.9 0.3,4.5 0.3-0.3 0.3,2.5 0.3-4 0.3,0.3 0.3-1.5 0.3,2.3 0.3-2.1 0.3-5.6 0.3,4.5 0.3,3.1 0.3-5 0.3,3.5 0.3-2.3 0.3-0.1 0.3,3.2 0.3,5 0.3-5.1 0.3-2.9 0.3,3 0.3-2.7 0.3-1.7 0.3,5 0.3-5.8 0.3-1.2 0.3,1.8 0.3-0.3 0.3,0.3 0.3-3.7 0.3,6.7 0.3,0.7 0.3-1.9 0.3,4.9 0.3,2.2 0.3-2.1 0.3-4 0.3-0.3 0.3,6.6 0.3,1.1 0.3-5 0.3-0.3 0.3-0.4 0.3-2.2 0.3-1.7 0.3,3.3 0.3-1.2 0.3,5.6 0.3,0.3 0.3-4.4 0.3-1.3 0.3-0.1 0.3,0.5 0.3-0.6 0.3,0.1 0.3,8.3 0.3-3.2 0.3-3.7 0.3-0.4 0.3,6.8 0.3-8.5 0.3,5.3 0.3-0.6 0.3-1.5 0.3-1.5 0.3,7.1 0.3-7.6 0.3,3 0.3,2.7 0.3-1.5 0.3,6.2 0.3-4.8 0.3-2.6 0.3,2.9 0.3-1.1 0.3-0.5 0.3-0.5 0.3-3 0.3,3.4 0.3,0.8 0.3-2.5 0.3-4.8 0.3,7.7 0.3-2.6 0.3,6.7 0.3-9.2 0.3,2.2 0.3-2 0.3,4.4 0.3,3.1 0.3-6 0.3,0.5 0.3,5.1 0.3,1.9 0.3-6 0.3,2 0.3-8.7 0.3,10.1 0.3-0.2 0.3-1.3 0.3,4.9 0.3-2.4 0.3-8 0.3,5.6 0.3,1.5 0.3,2.1 0.3-5.8 0.3-0.3 0.3,1.3 0.3,2 0.3-2.2 0.3-0.3 0.3,3.4 0.3-4.1 0.3,8.6 0.3-2.7 0.3-3.1 0.3-0.6 0.3,3.3 0.3-4.7 0.3-2.3 0.3,1.9 0.3,0.7 0.3-2 0.3,1.4 0.3,4.8 0.3-3 0.3-4.7 0.3,7.6 0.3-3.8 0.3,1.4 0.3,1.6 0.3,0.3 0.3-3.5 0.3-0.7 0.3,0 0.3,5.5 0.3-3.7 0.3-2.1 0.3-1.9 0.3,0.8 0.3-0.5 0.3-0.9 0.3,0.9 0.3,5.1 0.3-2.8 0.3,2.4 0.3,5.2 0.3-2.2 0.3-12 0.3,10.1 0.3,3.6 0.3-5.3 0.3-6.7 0.3,4.9 0.3-1.5 0.3,2.1 0.3-0.6 0.3-4.3 0.3,1.4 0.3,2.8 0.3-3.2 0.3-0.6 0.3,4.1 0.3-1.6 0.3,0 0.3,2.9 0.3-5.9 0.3,4.2 0.3,1.4 0.3,3.3 0.3-1.3 0.3-9 0.3,8.5 0.3-5.1 0.3,2.5 0.3-2.8 0.3-0.4 0.3,4.4 0.3-1.6 0.3-1.3 0.3-0.1 0.3,0.5 0.3,0.8 0.3-3 0.3-2.3 0.3,2.5 0.3,4 0.3-3.7 0.3,1.1 0.3-1.4 0.3-4.4 0.3,6.5 0.3-0.7 0.3,2.8 0.3-2 0.3,0.9 0.3-7 0.3,4.1 0.3,2.8 0.3-8.1 0.3,10.4 0.3-7.1 0.3-0.5 0.3,1.3 0.3,2.7 0.3-0.5 0.3,0.6 0.3-3.7 0.3,10 0.3-5.9 0.3-2.2 0.3,2.3 0.3,4 0.3-5.2 0.3,1.6 0.3-5 0.3-2 0.3,4.2 0.3,6.4 0.3-5.6 0.3,2.3 0.3-5.3 0.3-3.3 0.3,4.4 0.3-5.7 0.3,1.7 0.3,2.6 0.3,4.9 0.3-3.5 0.3,5 0.3-8.2 0.3,2.9 0.3-4.1 0.3,3.4 0.3,7.2 0.3-8.5 0.3-1 0.3-2.5 0.3,8.6 0.3-0.3 0.3-3.2 0.3,3.5 0.3,1 0.3-0.9 0.3-12.1 0.3,10.5 0.3,1.2 0.3-1.9 0.3-1.5 0.3-4.3 0.3,1 0.3,0.5 0.3,2.4 0.3-0.5 0.3,2.6 0.3,2.8 0.3-11.7 0.3,8.1 0.3-4.9 0.3,4.3 0.3-0.8 0.3,0.1 0.3,4 0.3-4.4 0.3-1.6 0.3-1.5 0.3,1 0.3-1.8 0.3,2.4 0.3,0.9 0.3,6.4 0.3-4.8 0.3-7 0.3,4.7 0.3-2.3 0.3,3.2 0.3,1.5 0.3-9.1 0.3,5.5 0.3-3.8 0.3,3.1 0.3,2.7 0.3,6.4 0.3-7.9 0.3,5.5 0.3,2.1 0.3-11.6 0.3,1.6 0.3,0.2 0.3,1.9 0.3,0.2 0.3-1.6 0.3,0.8 0.3,0.2 0.3-2.4 0.3,10.7 0.3-11.3 0.3,5 0.3-5.1 0.3-1.1 0.3,6.7 0.3-5.6 0.3-0.1 0.3,5 0.3-0.7 0.3-2.2 0.3,7.8 0.3-6 0.3-2.3 0.3,2.1 0.3,3.8 0.3-4.2 0.3-6.5 0.3,0.5 0.3,4.8 0.3,2.3 0.3-2.8 0.3-0.2 0.3,2.3 0.3-1.3 0.3-3.4 0.3-1.1 0.3,11.4 0.3-11.8 0.3,2.8 0.3-3.6 0.3,3.9 0.3-1.7 0.3-4.2 0.3,15.7 0.3-15.7 0.3,4.7 0.3,6.8 0.3,2.8 0.3-10.3 0.3,4.4 0.3-7 0.3,2.6 0.3,1.1 0.3-4 0.3,2.6 0.3-2 0.3-0.4 0.3,1.6 0.3-1.7 0.3-0.1 0.3,7.3 0.3-3.9 0.3-0.6 0.3,0.7 0.3,4.1 0.3-3.6 0.3-3.3 0.3,0.4 0.3-4.8 0.3,7.3 0.3-0.7 0.3,0.3 0.3-1 0.3,0.9 0.3,4.3 0.3-7.9 0.3-2.4 0.3-0.6 0.3,7.6 0.3-3.3 0.3-7.3 0.3,6.8 0.3-1.8 0.3,1.6 0.3-4.2 0.3,0 0.3-4.9 0.3,6.3 0.3,0 0.3,5.7 0.3-2.9 0.3,0.8 0.3-1.4 0.3,3.3 0.3-9.1 0.3,7.9 0.3-4.8 0.3,5.3 0.3-5.9 0.3-4.8 0.3,8.7 0.3-4.4 0.3,1.4 0.3-1.4 0.3-0.6 0.3,3.6 0.3-1.7 0.3,1.3 0.3,0.7 0.3,1.3 0.3-8 0.3,6 0.3-5.2 0.3,0.2 0.3,5.5 0.3-7.5 0.3,6.7 0.3-5.5 0.3-3.1 0.3,7.7 0.3,0.7 0.3-0.1 0.3-11.9 0.3,9.6 0.3,3.1 0.3-7.7 0.3,3.5 0.3-0.6 0.3,3.3 0.3,4.4 0.3-5.6 0.3,1.1 0.3,2 0.3-2.1 0.3-0.6 0.3-6.5 0.3,0.2 0.3,0.6 0.3,3.7 0.3,2.6 0.3-5.8 0.3-0.7 0.3-2.1 0.3,3.6 0.3,0.3 0.3-1.7 0.3,4.4 0.3-0.6 0.3-5.4 0.3,6.9 0.3-4.5 0.3-3.3 0.3,1.9 0.3-0.8 0.3,5.6 0.3-3.8 0.3,0.4 0.3-3.3 0.3,0.5 0.3,1.3 0.3-7 0.3,4.8 0.3,3 0.3,1.1 0.3-2.3 0.3,1.8 0.3-8.3 0.3,3.8 0.3,3.1 0.3,1.2 0.3,1.4 0.3-3.2 0.3-6 0.3,1.6 0.3,3.1 0.3-0.9 0.3,7.4 0.3-10 0.3,3.5 0.3-6.2 0.3,5.7 0.3,0.9 0.3-2.8 0.3,3 0.3-7.7 0.3,3.8 0.3-0.6 0.3-0.1 0.3,2.4 0.3-3.4 0.3,0.9 0.3-6.3 0.3,6.2 0.3-1.5 0.3,2.9 0.3-0.7 0.3-0.5 0.3-6.5 0.3,4.4 0.3-3.8 0.3,4.4 0.3,0.1 0.3,5.7 0.3-11 0.3-5.1 0.3,8.6 0.3-6.8 0.3,1.9 0.3,5.6 0.3-6 0.3,6.2 0.3-2.7 0.3-6.3 0.3,3.8 0.3,5 0.3-10.6 0.3,9.6 0.3-4 0.3,0.4 0.3-1.1 0.3,2.4 0.3,2.8 0.3-14.2 0.3,10.9 0.3-0.6 0.3,5.9 0.3-10.4 0.3-5.1 0.3-0.8 0.3-5.7 0.3,4.7 0.3,4.1 0.3,1.3 0.3-6 0.3,5.7 0.3-1.2 0.3,4.4 0.3-4.6 0.3-7.8 0.3,8 0.3-2.2 0.3,11.2 0.3-15.5 0.3,3.7 0.3-4.5 0.3,4.5 0.3,4.3 0.3,1.8 0.3-7.8 0.3,1.9 0.3,3.7 0.3-4 0.3,2.2 0.3-5.8 0.3,4.4 0.3,3.2 0.3-4.9 0.3,1.7 0.3-8.7 0.3,7.9 0.3,3.3 0.3-5.4 0.3,0.6 0.3-2.4 0.3,0 0.3,4.9 0.3-4.3 0.3,0 0.3,4.3 0.3-2.8 0.3-3.5 0.3,7.3 0.3-2.4 0.3-2.8 0.3-1.8 0.3-2.8 0.3,7.6 0.3-7.2 0.3-1.7 0.3-4.1 0.3,8 0.3,1.8 0.3,2.4 0.3-9.1 0.3-3.5 0.3,8.2 0.3-5.2 0.3-2.1 0.3-0.7 0.3,5.5 0.3-4.8 0.3,2.6 0.3,3.5 0.3-5.5 0.3-0.7 0.3,5.4 0.3-6.4 0.3-7 0.3,14.8 0.3-9.9 0.3-1.2 0.3,3.4 0.3-1.5 0.3,2.3 0.3-7.3 0.3,9.7 0.3-3.8 0.3,7.6 0.3-10.2 0.3-0.5 0.3,8.6 0.3-3.8 0.3-6.2 0.3,3.9 0.3,2.9 0.3,5.4 0.3-12.9 0.3-7.4 0.3,10.3 0.3-4.3 0.3-0.3 0.3,1.8 0.3-1.1 0.3-0.5 0.3,4 0.3-15.4 0.3-1.5 0.3,10.4 0.3-7 0.3,11.2 0.3-3.1 0.3-6.5 0.3,9.8 0.3,0.3 0.3-8 0.3,10.1 0.3-17.3 0.3,3.9 0.3,1.7 0.3-2.5 0.3,6.7 0.3-0.4 0.3-8.8 0.3-1.1 0.3,3.1 0.3,0.2 0.3,1.6 0.3-9.6 0.3,12.7 0.3-3.6 0.3-2.1 0.3,3.9 0.3-1.6 0.3-2.2 0.3-10.3 0.3-4.5 0.3,6.1 0.3,8.5 0.3-5.5 0.3-3.1 0.3-0.2 0.3-0.3 0.3-5.1 0.3,11 0.3-7.4 0.3-4.7 0.3-3.3 0.3,1.2 0.3,0.4 0.3-0.2 0.3,1.7 0.3-4.7 0.3,0.5 0.3,1.5 0.3-10.5 0.3-1 0.3,6.7 0.3-6 0.3-4 0.3,3.5 0.3-0.4 0.3-3.1 0.3,9.7 0.3-2.3 0.3-11.1 0.3,0 0.3-6.9 0.3,8.4 0.3-9.6 0.3-1.1 0.3-6.1 0.3,13.2 0.3-3.6 0.3-4.7 0.3-1.3 0.3,5.4 0.3-3.6 0.3,2.5 0.3-20.7 0.3,11.4 0.3-1.8 0.3,1.9 0.3-4.9 0.3-5.7 0.3,4.7 0.3-3.2 0.3-13.7 0.3,5.3 0.3,2.3 0.3,2.1 0.3-3.8 0.3,2.4 0.3-7.2 0.3,3.7 0.3-1.2 0.3-3.3 0.3,2.3 0.3-8.7 0.3-14.8 0.3,16.6 0.3,4.5 0.3-16.5 0.3,4.8 0.3-13.4 0.3,7.9 0.3-4.5 0.3,8.7 0.3,3.6 0.3-9.5 0.3-6.3 0.3,7.8 0.3,3.2 0.3-7.2 0.3-2.1 0.3-1.9 0.3-2.9 0.3-15.8 0.3,13 0.3,1.9 0.3,2.3 0.3-12.6 0.3,13.2 0.3-19.7 0.3,7.5 0.3,7.9 0.3-11.7 0.3,0.5 0.3-9.6 0.3,15.5 0.3-11.9 0.3,0 0.3-7.2 0.3,11.4 0.3-3.6 0.3-18.7 0.3,7.5 0.3,11.3 0.3-12.8 0.3,5.5 0.3-2.2 0.3,1.9 0.3-15.7 0.3,8.1 0.3-6.4 0.3-0.9 0.3,8.6 0.3-6.8 0.3-11.7 0.3,13.4 0.3-13.8 0.3,0.4 0.3-6.8 0.3-2.2 0.3-2.9 0.3,3.2 0.3-3.2 0.3,4.5 0.3-2.9 0.3-11.5 0.3,8.3 0.3-12.6 0.3-1.6 0.3,10.6 0.3-10.8 0.3,7.8 0.3-9.4 0.3,6.2 0.3-9.1 0.3-0.3 0.3,6.9 0.3-22.9 0.3,6.1 0.3,16.4 0.3-15 0.3,3.9 0.3-18.8 0.3,13.3 0.3-4.8 0.3,2.5 0.3-7.3 0.3,6.6 0.3,0.9 0.3-4.5 0.3-2.1 0.3-9.2 0.3,2.3 0.3,2.2 0.3-1.8 0.3,2.2 0.3-8.8 0.3,14.3 0.3-14.3 0.3-11.4 0.3,10.1 0.3,1.1 0.3-6.1 0.3,6.1 0.3-2.1 0.3-11.5 0.3,8.8 0.3-19.8 0.3,9.6 0.3,3.9 0.3,3 0.3-3.3 0.3,14.1 0.3-19.1 0.3-5.3 0.3,1.8 0.3,6.9 0.3-8.2 0.3-0.5 0.3,5.4 0.3-3.8 0.3-5.2 0.3,4.2 0.3,6.1 0.3-2.8 0.3-0.9 0.3,13.2 0.3-12.6 0.3,2.3 0.3,15.4 0.3-2.9 0.3-25.3 0.3,13.1 0.3-8.5 0.3,13.4 0.3-13.3 0.3,8 0.3,10 0.3-6.1 0.3-8.4 0.3-5 0.3,14.8 0.4,8.1 0.3,4.2 0.3-10.1 0.3-1.7 0.3,8.1 0.3,3.2 0.3-5.3 0.3,3.8 0.3,2.2 0.3,15.4 0.3-6.8 0.3-13.9 0.3,15.6 0.3-15.2 0.3,16.9 0.3,7.2 0.3-1.5 0.3,0.4 0.3,11.9 0.3-4 0.3,7.2 0.3-10.4 0.3,15.7 0.3-1.6 0.3,13.4 0.3,1.2 0.3-6.5 0.3,7.6 0.3-2.2 0.3-1.6 0.3-0.2 0.3,15 0.3-6.3 0.3-3.8 0.3,10.7 0.3,6 0.3-2.2 0.3-13.4 0.3,12.4 0.3-8.2 0.3,13.9 0.3-7.9 0.3,18.9 0.3-5.9 0.3-0.5 0.3-8.9 0.3,10 0.3-2.4 0.3,11.5 0.3,1.7 0.3-9 0.3,0.7 0.3,2.9 0.3,1.7 0.3,12.3 0.3-15.1 0.3,13.9 0.3-5.3 0.3,4.6 0.3,16.9 0.3,2.5 0.3-0.7 0.3-8 0.3-5.7 0.3,9.7 0.3-5.2 0.3,14 0.3-2.3 0.3,3.1 0.3-4.1 0.3,8.6 0.3-4.8 0.3-2.6 0.3,7.9 0.3,4.1 0.3-1 0.3,6.1 0.3,0.5 0.3-9 0.3,4.3 0.3,11.9 0.3-5.1 0.3-2.6 0.3-0.5 0.3,2.5 0.3-0.4 0.3,7.2 0.3,1.3 0.3,2.6 0.3-6.2 0.3,2.7 0.3-3.9 0.3,4.9 0.3,12 0.3,4.9 0.3,0.7 0.3-1.6 0.3-7.2 0.3,12.2 0.3,4.6 0.3-8.9 0.3-4.2 0.3,1.3 0.3-3.6 0.3,10.4 0.3,4.1 0.3-0.2 0.3,6.7 0.3-2.3 0.3-9.2 0.3-3 0.3,5.6 0.3,6.3 0.3,4 0.3-1.4 0.3,12.2 0.3-11.8 0.3-0.1 0.3,5.7 0.3,0.1 0.3,9.7 0.3-12 0.3,0.7 0.3,19 0.3-10.5 0.3-4.2 0.3-6.1 0.3,13.5 0.3-3.6 0.3-7.1 0.3,5.6 0.3,4 0.3,1.7 0.3-1.9 0.3,4.7 0.3-8.5 0.3,10 0.3-6.6 0.3-1.3 0.3-0.8 0.3,6.1 0.3,1.1 0.3-0.9 0.3,1.9 0.3-4.2 0.3,6.7 0.3-9.1 0.3-3.4 0.3,17.8 0.3-4.2 0.3,8.5 0.3-8.3 0.3,2.7 0.3,4 0.3,5 0.3-4.1 0.3-8.5 0.3,3 0.3,6.8 0.3,5.7 0.3-1.8 0.3,4.6 0.3,3.5 0.3-1 0.3-6.4 0.3,2.3 0.3,1.4 0.3,6.7 0.3,2.1 0.3-10.5 0.3,7 0.3-6.5 0.3,9.5 0.3-7.4 0.3,3.9 0.3,3.6 0.3,0.5 0.3-10.3 0.3,5 0.3,5.9 0.3-1.6 0.3,8.3 0.3-14.4 0.3,1.9 0.3,8.5 0.3-3.5 0.3,14.9 0.3-16.4 0.3,2.6 0.3,1.4 0.3-2.2 0.3,2.8 0.3,6 0.3-0.8 0.3-2 0.3-4.4 0.3,4.2 0.3,3.5 0.3-4.3 0.3,7.4 0.3-14.3 0.3,8.2 0.3,6 0.3-4.8 0.3-3.7 0.3,2.7 0.3-6.3 0.3,15.5 0.3-12.9 0.3,7.4 0.3-3.7 0.3-3.4 0.3,13 0.3,1.2 0.3-4.2 0.3,5.8 0.3,1.8 0.3-8.8 0.3-4.5 0.3,7.4 0.3-4 0.3-13.5 0.3,14.7 0.3,3.1 0.3-0.4 0.3-2.3 0.3,3.3 0.3-4 0.3,2.3 0.3-2.8 0.3,3.6 0.3,1.2 0.3,3.9 0.3,2.1 0.3-4.4 0.3,0.6 0.3-2.6 0.3,1.8 0.3,1.5 0.3-11 0.3,8.5 0.3-3.6 0.3,9.8 0.3-8.4 0.3-0.5 0.3,3.3 0.3,5.9 0.3-8.8 0.3,8.6 0.3,3.7 0.3,0.5 0.3-6.9 0.3,2.6 0.3-5.2 0.3,0.8 0.3-2.7 0.3,4.6 0.3,1.2 0.3,0.7 0.3,3.6 0.3,0.4 0.3-0.2 0.3-3.7 0.3,4.7 0.3-2.9 0.3-4.6 0.3,14.7 0.3-6 0.3,0.8 0.3-3.8 0.3,6.4 0.3-3.1 0.3-12 0.3,15.4 0.3-5 0.3-0.9 0.3,2.3 0.3,4 0.3-8.7 0.3,12.2 0.3-3.6 0.3-2.8 0.3,2 0.3-7.1 0.3,6.4 0.3-8.7 0.3,8 0.3-5.9 0.3,4.8 0.3,3 0.3,0.4 0.3-5 0.3,6.6 0.3-1.7 0.3,3.3 0.3,5.3 0.3-10.1 0.3-0.1 0.3,7.6 0.3-6.4 0.3,3.1 0.3,6.9 0.3-3.6 0.3-6.1 0.3-1.2 0.3,2.8 0.3-9.2 0.3,9.9 0.3,4.6 0.3,3.1 0.3-11.4 0.3,8 0.3-0.2 0.3,2 0.3,0.3 0.3-1.6 0.3-3 0.3-0.1 0.3,1.1 0.3-2.1 0.3,5.8 0.3,2.3 0.3-3.5 0.3,8 0.3-11.1 0.3,1.6 0.3,0.1 0.3,6.5 0.3-2 0.3-1.8 0.3,4.2 0.3,0.5 0.3-3.1 0.3-1.2 0.3,3.4 0.3-6.3 0.3-4.3 0.3,6.5 0.3,3.1 0.3,0.8 0.3-7.2 0.3,5.2 0.3-1 0.3,1.7 0.3,3.2 0.3-7.7 0.3,6.9 0.3-1.3 0.3,8.9 0.3-16.1 0.3,5.5 0.3,3.4 0.3,2.8 0.3-0.5 0.3,4.3 0.3-8 0.3,5.2 0.3-4.7 0.3,0.1 0.3-5.3 0.3,6.5 0.3-0.2 0.3-0.6 0.3,4.4 0.3-1.3 0.3-2 0.3-2.9 0.3,1.6 0.3,3.9 0.3-5.3 0.3,6 0.3,4.4 0.3-11.3 0.3,5.8 0.3,1.9 0.3,2.9 0.3-2.7 0.3-7.7 0.3,6.5 0.3-8.2 0.3,8.1 0.3-3.9 0.3,4.2 0.3,1.9 0.3,0 0.3-0.5 0.3,3.6 0.3,0.2 0.3-5.7 0.3-3.1 0.3,4.1 0.3,0.5 0.3,3.6 0.3-7.3 0.3,0.4 0.3,8.2 0.3-4.4 0.3,1.6 0.3,4.3 0.3-11.1 0.3,1.6 0.3,3.3 0.3-3.9 0.3,7.1 0.3-2.7 0.3-3.8 0.3,6.1 0.3-2.1 0.3,4.7 0.3-5.7 0.3-1.7 0.3,7.8 0.3-0.6 0.3-2.4 0.3-5.2 0.3,7 0.3,1.2 0.3-2.4 0.3-4.4 0.3,9.7 0.3-4.8 0.3-5.2 0.3,5 0.3,1 0.3-4 0.3,7.5 0.3-11.5 0.3,5.7 0.3,3.2 0.3-1.6 0.3,0.7 0.3,0.9 0.3,3.4 0.3-3.3 0.3,5.3 0.3-10.9 0.3,9 0.3-1.3 0.3,0.4 0.3-5.3 0.3,3.4 0.3-5.7 0.3,6.8 0.3-2 0.3,0.8 0.3,1.1 0.3-5 0.3-0.3 0.3-0.2 0.3,9.5 0.3-5.9 0.3,5.2 0.3,0.2 0.3,2.4 0.3-2.9 0.3-5.3 0.3-2.7 0.3-1 0.3,9.3 0.3-0.9 0.3-2.9 0.3,0.4 0.3-0.1 0.3,7 0.3-5.4 0.3-2.5 0.3,1.2 0.3,1.4 0.3,2.2 0.3-2.1 0.3-5.7 0.3,3.9 0.3-1.8 0.3-2 0.3,9.6 0.3-5.9 0.3,0.8 0.3-2.8 0.3,5.5 0.3,0 0.3,1.6 0.3-2.7 0.3,1.7 0.3-0.3 0.3-1.6 0.3,2.6 0.3,2 0.3-1.7 0.3,0.6 0.3-3.2 0.3-2.7 0.3,5.5 0.3,7.3 0.3-10.2 0.3,2.3 0.3,3.1 0.3-2.2 0.3-7.1 0.3,11.5 0.3-1 0.3-3.6 0.3,10.4 0.3-8.9 0.3-4.7 0.3,1.5 0.3,0.7 0.3,2.5 0.3-0.5 0.3-9.7 0.3,8.6 0.3-3.7 0.3,8.9 0.3-5 0.3-0.3 0.3,0.8 0.3,7.9 0.3-5.8 0.3-6.2 0.3,3.1 0.3,4.6 0.3-5.5 0.3,9.3 0.3-8.2 0.3,0.9 0.3,3.3 0.3,1.4 0.3,2.2 0.3-4.7 0.3-6.5 0.3,3 0.3,1.6 0.3-1.7 0.3,5.2 0.3-3.7 0.3,11.5 0.3-8 0.3,0 0.3-1.3 0.3,0.4 0.3-2.5 0.3,4.1 0.3-5.1 0.3,3.9 0.3-3.6 0.3,2.5 0.3-2.4 0.3,1.3 0.3,3.6 0.3-2.6 0.3,5 0.3-4.4 0.3-1.1 0.3,2.2 0.3-0.3 0.3-3.8 0.3-0.7 0.3-0.7 0.3,6.6 0.3-0.4 0.3-4.1 0.3-0.3 0.3,9.1 0.3-12.6 0.3,2.7 0.3,8 0.3-7.9 0.3,5.2 0.3-1 0.3,2.9 0.3-0.5 0.3-1.4 0.3-1.6 0.3,4 0.3-3.4 0.3,2.1 0.3-0.6 0.3,1.2 0.3-0.8 0.3-7.3 0.3,10.6 0.3-0.9 0.3-4.1 0.3,1.4 0.3,1.9 0.3-4.8 0.3,5.2 0.3-3.8 0.3-3.2 0.3,1.3 0.3,2.9 0.3-1 0.3-0.5 0.3-1.4 0.3,5.1 0.3-7.3 0.3,1.8 0.3-3.7 0.3,3.4 0.3-0.6 0.3,13.1 0.3-8.2 0.3-7.6 0.3,4.9 0.3,2.8 0.3-3.8 0.3,2 0.3-1 0.3,3.7 0.3-4.1 0.3-3.3 0.3,4.3 0.3-0.7 0.3,3.8 0.3-3.9 0.3,3 0.3,3.1 0.3-3.1 0.3-0.6 0.3-2.6 0.3-1.3 0.3,3.8 0.3,0.6 0.3-3.3 0.3,5.1 0.3-1.9 0.3-0.3 0.3-0.2 0.3,1.4 0.3-7.3 0.3,2.2 0.3,3.7 0.3,4.2 0.3-3.1 0.3-3.6 0.3,8.4 0.3-14.6 0.3,8.4 0.3-0.1 0.3-2.2 0.3,6.8 0.3-4.9 0.3,0.2 0.3-2.4 0.3,5.7 0.3-5.4 0.3-1.9 0.3,3 0.3,2.7 0.3,1 0.3,3.1 0.3-4 0.3-3.6 0.3-3.3 0.3,1.5 0.3-0.5 0.3,5.5 0.3-0.2 0.3,3.6 0.3-2.8 0.3,1.5 0.3-3 0.3-3 0.3,2.6 0.3,0.6 0.3-3.4 0.3-2.7 0.3,1.4 0.3,9.1 0.3-11.4 0.3,7.2 0.3,3.3 0.3-3.6 0.3-4.6 0.3,12.1 0.3-13.2 0.3,3.6 0.3-1.2 0.3,6.4 0.3-2.8 0.3,1.9 0.3-7.7 0.3,6.4 0.3-3.8 0.3,3.4 0.3,3.2 0.3-8.5 0.3-1 0.3-1.1 0.3,6.8 0.3-2.1 0.3-2.2 0.3,1.2 0.3,0.3 0.3-7.1 0.3,9.1 0.3-4.4 0.3,4.7 0.3-6.6 0.3,5.5 0.3,2.4 0.3-5.9 0.3,2.3 0.3,1.4 0.3-0.6 0.3,1.3 0.3-3.9 0.3,0.6 0.3-4.6 0.3,7.8 0.3-7.1 0.3,2.9 0.3,6.5 0.3-9.9 0.3,11 0.3-7.8 0.3,7.9 0.3-7.2 0.3,2.1 0.3-0.4 0.3,5.4 0.3-3.9 0.3-6.7 0.3,1.8 0.3,2.3 0.3,0.1 0.3,1.7 0.3-7.2 0.3,4.9 0.3-3.9 0.3,8.7 0.3,0.1 0.3-10 0.3,7.6 0.3-2.4 0.3-2.4 0.3-1.6 0.3,0.9 0.3,0.1 0.3-3.7 0.3,4.6 0.3-2.4 0.3,2.9 0.3-0.6 0.3-6 0.3,7.2 0.3,7.7 0.3-9.1 0.3-0.5 0.3-5.8 0.3,7.4 0.3,2.6 0.3-4.6 0.3-6.1 0.3,7.4 0.3-5.7 0.3,2.4 0.3-0.6 0.3,4.9 0.3-3.3 0.3,2.9 0.3-3 0.3,2.3 0.3-6.5 0.3,5.5 0.3-1.2 0.3,6.8 0.3-4.5 0.3-12.3 0.3,9.8 0.3,4.1 0.3-5.8 0.3,0.6 0.3,0.8 0.3-1 0.3,0.4 0.3-5.1 0.3,7.3 0.3-5.2 0.3-2.4 0.3,6 0.3-11.5 0.3,7.7 0.3,0.4 0.3,1.4 0.3-5 0.3,8.4 0.3-8 0.3-6 0.3,6.5 0.3-2 0.3,6.2 0.3-6.3 0.3,5.4 0.3-1.3 0.3-1.8 0.3-7 0.3,8.9 0.3,4.8 0.3-7.7 0.3-2.5 0.3,0.4 0.3,1.4 0.3-4.2 0.3,1.6 0.3,0.1 0.3,4.6 0.3,3.7 0.3-11.3 0.3,9 0.3-7.9 0.3,0.4 0.3,8.5 0.3-1.9 0.3-3.9 0.3-2 0.3,7 0.3-2.4 0.3,2.8 0.3,0.7 0.3-4.8 0.3,2.2 0.3,5.6 0.3-8.8 0.3,3 0.3,0.1 0.3,3.4 0.3-7.4 0.3,1.6 0.3,0.1 0.3,1.4 0.3-1.5 0.3-4.4 0.3,5.2 0.3-0.2 0.3,2.6 0.3-3.9 0.3,3.3 0.3,1.8 0.3-6.6 0.3,4.8 0.3,2.6 0.3-0.5 0.3-0.6 0.3,2.1 0.3-9 0.3,3.2 0.3,7.1 0.3-9 0.3,5.6 0.3-2.2 0.3,2.4 0.3-2.7 0.3,0.2 0.3-1.3 0.3-0.1 0.3,12.3 0.3-7.3 0.3-1.5 0.3,0.8 0.3,4.5 0.3-3.7 0.3-0.5 0.3,6.7 0.3-4 0.3-5.6 0.3,5.4 0.3-1.9 0.3-0.5 0.3-1.7 0.3-0.8 0.3-1 0.3,3.4 0.3-0.3 0.3,1.3 0.3-1.1 0.3,1.1 0.3-2.9 0.3,0.2 0.3,7.4 0.3,3.2 0.3-9.4 0.3,3.4 0.3,3.7 0.3-8.7 0.3-1.9 0.3,9.4 0.3-0.6 0.3-0.9 0.3,0.5 0.3-2.3 0.3,3.6 0.3-3.8 0.3,1.4 0.3-5 0.3,4.1 0.3-3.4 0.3-2.1 0.3,3.5 0.3-0.4 0.3,4.1 0.3-1.7 0.3-7.9 0.3,3.3 0.3,4.7 0.3,1.6 0.3-0.8 0.3-4.3 0.3,11.1 0.3-8 0.3,5.6 0.3-9.5 0.3,10 0.3-8.1 0.3,4.3 0.3-1 0.3-5.7 0.3,5.9 0.3-2.4 0.3,1.1 0.3,5.5 0.3-3.9 0.3-3.4 0.3,2.2 0.3,0.6 0.3,3.2 0.3-7.8 0.3,7.4 0.3-8.1 0.3,5.7 0.3-1.8 0.3,7.4 0.3-5.2 0.3,3.8 0.3-3.5 0.3-3.9 0.3,3 0.3,0.5 0.3-2.5 0.3,7.6 0.3-4.5 0.3,2.6 0.3-5.9 0.3,6.3 0.3-7.9 0.3-1.4 0.3,14.3 0.3-6.7 0.3,5 0.3-9.6 0.3,7.3 0.3-5.1 0.3,1.1 0.3,4.4 0.3,2.1 0.3-9 0.3,5.9 0.3-2.9 0.3-3.9 0.3,5.1 0.3,1 0.3,2.5 0.3-5 0.3,4.4 0.3,3.1 0.3-3.7 0.3,0.2 0.3,3.4 0.3-4.6 0.3-3.6 0.3,0.9 0.3-4.9 0.3,3.1 0.3,3 0.3,7.9 0.3-7.6 0.3-3.4 0.3,5.2 0.3-5.8 0.3,8.1 0.3-4 0.3-1.9 0.3-2.9 0.3,6 0.3-6.8 0.3,8 0.3,5 0.3-5.7 0.3-5.1 0.3,5.9 0.3-6.7 0.3,6.4 0.3-7.2 0.3,14.2 0.3-15.4 0.3,14.9 0.3-6.7 0.3,3.9 0.3-5.1 0.3,1.8 0.3,0.4 0.3-3.2 0.3-1.1 0.3,4.5 0.3-5.3 0.3,10.2 0.3-2.2 0.3,1.1 0.3-6.4 0.3-1.4 0.3,4.6 0.3,0.8 0.3,2 0.3-6.4 0.3-1.6 0.3,5.9 0.3-1.3 0.3,0.8 0.3-1.2 0.3-1.7 0.3,9.3 0.3-5.8 0.3-4.6 0.3,5.9 0.3-7.4 0.3-0.5 0.3,8.1 0.3-0.5 0.3-7.2 0.3,10.2 0.3-2 0.3,2 0.3-5.7 0.3-1.1 0.3-0.4 0.3,0.7 0.3,5.8 0.3-8.9 0.3,4.3 0.3,1.2 0.3-7.3 0.3,5.5 0.3-0.8 0.3-1.6 0.3-4.1 0.3,7 0.3-2.4 0.3,10.4 0.3-4.6 0.3-10.5 0.3,0.2 0.3,7.4 0.3,2.6 0.3,1.6 0.3-0.6 0.3-2.1 0.3,4 0.3-5.6 0.3,0.2 0.3,3.7 0.3,0.2 0.3-0.5 0.3-2.3 0.3-0.9 0.3-2.8 0.3,8 0.3-4.8 0.3-1.3 0.3-1 0.3-1.9 0.3,4.3 0.3-5.6 0.3-3.7 0.3,6.4 0.3-3.9 0.3,2 0.3,1.8 0.3,2.2 0.3-1.6 0.3-6.2 0.3,6.8 0.3,2.9 0.3-1 0.3-4.4 0.3,4.9 0.3-5.4 0.3,0.6 0.3,1.7 0.3-4.9 0.3,10.2 0.3-2.6 0.3-1.3 0.3-2 0.3,6 0.3-2.7 0.3-6.4 0.3,5.8 0.3-4.5 0.3,3.9 0.3,1.8 0.3-4.4 0.3-2.7 0.3,4.7 0.3,4.3 0.3-1.8 0.3-1.2 0.3-0.6 0.3,2.3 0.3-5.6 0.3,6 0.3-7 0.3,7 0.3-0.3 0.3-7.3 0.3,1.4 0.3,3.6 0.3,0.9 0.3-1.3 0.3-0.9 0.3-0.7 0.3-2.8 0.3,6.4 0.3-2.9 0.3-0.2 0.3,4.9 0.3-8.7 0.3-1.8 0.3,5.8 0.3,6 0.3-3.2 0.3-6.1 0.3,10.2 0.3-0.1 0.3-5.1 0.3-3.4 0.3-1.2 0.3-0.7 0.3,11.6 0.3-6.1 0.3,1.3 0.3,0.1 0.3-6.1 0.3,1.2 0.3,4 0.3-3.4 0.3,0.1 0.3-3.7 0.3,6.2 0.3-4 0.3,4.6 0.3-4 0.3,1.6 0.3-1.1 0.3,0.9 0.3-5.2 0.3,7.5 0.3,0.7 0.3-1.3 0.3-3.4 0.3-0.9 0.3,2.5 0.3,2 0.3-0.8 0.3,0.9 0.3-4 0.3,1.7 0.3-0.9 0.3,0.6 0.3-0.1 0.3-3.6 0.3,5.4 0.3-3 0.3-0.1 0.3,3.9 0.3-7.8 0.3,4.7 0.3,4.5 0.3-6.9 0.3,1.3 0.3-0.5 0.3,3 0.3,0.5 0.3-1.6 0.3,4.9 0.3-5 0.3,0.3 0.3-2.7 0.3,3.7 0.3-2.7 0.3,6.6 0.3-2.1 0.3-5.1 0.3-2.2 0.3,1.9 0.3,7.8 0.3-1.5 0.3-1.4 0.3-6.1 0.3,6.1 0.3-2.7 0.3-0.8 0.3,0 0.3,2 0.3-1.5 0.3-1.7 0.3,2.3 0.3,0.7 0.3-2.8 0.3-2.3 0.3-3.2 0.3,11.9 0.3-4.6 0.3,0.5 0.3,4 0.3-2.6 0.3,1.3 0.3,1 0.3-1.2 0.3-4 0.3,5.5 0.3-1.6 0.3-1.3 0.3,2.9 0.3,0.8 0.3,1.2 0.3-2.7 0.3-7 0.3,10.2 0.3-8.3 0.3,5.8 0.3,0.2 0.3-5.6 0.3,0.8 0.3-0.3 0.3,2.2 0.3-2.8 0.3,4.9 0.3-3.1 0.3-2 0.3,3.3 0.3,2.7 0.3-8.2 0.3,6.2 0.3,2.5 0.3-5.2 0.3-2 0.3,2.3 0.3,5.8 0.3-4 0.3-0.8 0.3-1 0.3,6.7 0.3-0.4 0.3-4.7 0.3,0.6 0.3-1.4 0.3-2.2 0.3,8.2 0.3-0.6 0.3-1.8 0.3-6.7 0.3,5.6 0.3-3.8 0.3,11 0.3-8.4 0.3-2.2 0.3-1.6 0.3,6.9 0.3-8.8 0.3,9.3 0.3-7.4 0.3-0.8 0.3,5.9 0.3,4.1 0.3-11.4 0.3,5.9 0.3,5.2 0.3-5.4 0.3,5 0.3-3.9 0.3,4.2 0.3,3.9 0.3-9.5 0.3,4.5 0.3-1.8 0.3-0.7 0.3,1 0.3,1.8 0.3-3.4 0.3-0.8 0.3,1.3 0.3,1.9 0.3-1.2 0.3-4.7 0.3,1 0.3,4.7 0.3-2.8 0.3,0.1 0.3,0.1 0.3,1.7 0.3-1.4 0.3,2.7 0.3-3.3 0.3,0.5 0.3-0.4 0.3,0.1 0.3,0.4 0.3,4.3 0.3,1.4 0.3-4.2 0.3,1.7 0.3-3.5 0.3,4.4 0.3-0.5 0.3,2.9 0.3-3.9 0.3,1 0.3-4.9 0.3,3.5 0.3-4.3 0.3,7 0.3,2.7 0.3-8.5 0.3,1.8 0.3-3.4 0.3,7.2 0.3,3.4 0.3-10.5 0.3,4 0.3,2.8 0.3-8.7 0.3,6.7 0.3,2.8 0.3-3.8 0.3,2.9 0.3,1 0.3-3.9 0.3,1.2 0.3,0.7 0.3-0.2 0.3,4 0.3-6.5 0.3-3.8 0.3,5.2 0.3-3.1 0.3-2.2 0.3,7 0.3,1.5 0.3,0.9 0.3-1.5 0.3-3.9 0.3,3 0.3-4.2 0.3,5.8 0.3-7.2 0.3,6.3 0.3-0.7 0.3-0.5 0.3,1 0.3-0.3 0.3-2.2 0.3,2.2 0.3-1.7 0.3,4 0.3,0 0.3,2 0.3-6.7 0.3,5 0.3-4 0.3,1.1 0.3,0 0.3,1.1 0.3-2.5 0.3,0.3 0.3-3.6 0.3,5.9 0.3,0.5 0.3,2.6 0.3-10.6 0.3,9.1 0.3-4.7 0.3,0.2 0.3,6.2 0.3-1.7 0.3-4.3 0.3,2.4 0.3,4 0.3-4.4 0.3-4.3 0.3,3.7 0.3-0.6 0.3-2.2 0.3-2.8 0.3,6.8 0.3,2 0.3-1.6 0.3,1.3 0.3,2.8 0.3-3.7 0.3,2.5 0.3-6.9 0.3,4.4 0.3,7.8 0.3-4.8 0.3-4.4 0.3,3.1 0.3,0.8 0.3-0.8 0.3,1 0.3-4.5 0.3,3.4 0.3,1.5 0.3-5.5 0.3,6.4 0.3-4.3 0.3,3.8 0.3-1.7 0.3,0.2 0.3,2.1 0.3-1.7 0.3-6.4 0.3,8.1 0.3-9.7 0.3,3.7 0.3-2.3 0.3,6.5 0.3-4.9 0.3,2.8 0.3-5.8 0.3,7.8 0.3-5.2 0.3,5.8 0.3-6.3 0.3,5.6 0.3,2.4 0.3,0.8 0.3-2.4 0.3-6.7 0.3,9.1 0.3-1.7 0.3-2.1 0.3-0.4 0.3-0.6 0.3-4.3 0.3,5.8 0.3,3.9 0.3-6.9 0.3,3.7 0.3-0.6 0.3-1.1 0.3-4.6 0.3,1.2 0.3,3.7 0.3,1.3 0.3-2.5 0.3,3.8 0.3,3.2 0.3-3.4 0.3-5.2 0.3,5.2 0.3-0.5 0.3-6.1 0.3,0 0.3-0.1 0.3,7.1 0.3-4 0.3-2.6 0.3,1 0.3,4.4 0.3-0.5 0.3,1.7 0.3-0.6 0.3-2.8 0.3,0 0.3,3.9 0.3-4.8 0.3,1.5 0.3-3.4 0.3,5.7 0.3-2.3 0.3,7.7 0.3-9.4 0.3,0.6 0.3-0.8 0.3,2.5 0.3,0.1 0.3,0.3 0.3-4.1 0.3,6.9 0.3-2.7 0.3-2.1 0.3,3 0.3,1.7 0.3-1.9 0.3-1.9 0.3-3.9 0.3,6.6 0.3,5.1 0.3-9.9 0.3,3.2 0.3-1.9 0.3,2.3 0.3-0.2 0.3,5.9 0.3-7.7 0.3,5.2 0.3-5.4 0.3,8 0.3-9.6 0.3,4.2 0.3,6.7 0.3-7.5 0.3,0.1 0.3,0 0.3,3.8 0.3-10.4 0.3,8.5 0.3-4.6 0.3,10.9 0.3-9.7 0.3,0.4 0.3,1.6 0.3-3.8 0.3,5.7 0.3-3.3 0.3,1.6 0.3-1 0.3,3.9 0.3-5 0.3,0.3 0.3,0.8 0.3-0.1 0.3,2.2 0.3,0.7 0.3-1.2 0.3-1.8 0.3,4.9 0.3-3.4 0.3-5.1 0.3,2.5 0.3,5.2 0.3-6.7 0.3,9 0.3-4.6 0.3-4 0.3,1.3 0.3,1 0.3,4.3 0.3,1.9 0.3-6.7 0.3,0.8 0.3-4.3 0.3,7 0.3,1.6 0.3-1.6 0.3,3.9 0.3-4.4 0.3-0.9 0.3,0.4 0.3-6.1 0.3-0.2 0.3,6.8 0.4,0.7 0.3-5.6 0.3,0.6 0.3,7.1 0.3-1.5 0.3,0.1 0.3,1.6 0.3-2.2 0.3,2.1 0.3-6.2 0.3,0.9 0.3,6.7 0.3-3.2 0.3-0.2 0.3-6.1 0.3,6.3 0.3-4.7 0.3-2.3 0.3,7.7 0.3-4.3 0.3,1.3 0.3-2.4 0.3,6.9 0.3-3 0.3,4 0.3-7.4 0.3,8.3 0.3-6.2 0.3,5 0.3-2.5 0.3,0.3 0.3-2.8 0.3-1.5 0.3-1.8 0.3-0.7 0.3,4.1 0.3,3.6 0.3-7.3 0.3,7.7 0.3-3.8 0.3,2.1 0.3-0.2 0.3-2.5 0.3,4.1 0.3-3.2 0.3,0 0.3-3.5 0.3-0.2 0.3,1.1 0.3,2.2 0.3-5.2 0.3,2.4 0.3,6.9 0.3-4.8 0.3-0.5 0.3,4 0.3-3.3 0.3,1.7 0.3,1.8 0.3-2.9 0.3,2.1 0.3,1.9 0.3-3.8 0.3,5.8 0.3-9.3 0.3,4.6 0.3-1.3 0.3-2.7 0.3,0.1 0.3,3.8 0.3-1.9 0.3-2 0.3-1.3 0.3,6.8 0.3-3.3 0.3,4.3 0.3-0.6 0.3-2.5 0.3,0.5 0.3,2.7 0.3-0.5 0.3-2.6 0.3,4.3 0.3-4.9 0.3,4.2 0.3-8.1 0.3,3.9 0.3-1.7 0.3,3.4 0.3-4.5 0.3,1.8 0.3-0.7 0.3,2 0.3-1.6 0.3,2.3 0.3-2.2 0.3,2.8 0.3,0.1 0.3-1.5 0.3,0.2 0.3,0.5 0.3,2.3 0.3-1.6 0.3-3.7 0.3,2.5 0.3-0.6 0.3,2.6 0.3-5.8 0.3,4.9 0.3-2.3 0.3,1.8 0.3-3.8 0.3,8.6 0.3,1.6 0.3-5.3 0.3,6.7 0.3-5.2 0.3-0.2 0.3-1.4 0.3-2.8 0.3,6.2 0.3-5.7 0.3-2.3 0.3-1.1 0.3,8.4 0.3-2.3 0.3-7 0.3,9 0.3-6.6 0.3,2.4 0.3-0.6 0.3,6.9 0.3-0.7 0.3-1.6 0.3-4.7 0.3-0.5 0.3,5 0.3-3.4 0.3,0.5 0.3,3.5 0.3,0.4 0.3,2.7 0.3-2.4 0.3-1 0.3-6.2 0.3,1.2 0.3,3.3 0.3-1.6 0.3,3.6 0.3,4.7 0.3-7.9 0.3-1 0.3,4.2 0.3-6.1 0.3,0.5 0.3,0.8 0.3,8.3 0.3-5.9 0.3-1.8 0.3,4.7 0.3-1.1 0.3-4.2 0.3-3.7 0.3,3.9 0.3,1.7 0.3,2.3 0.3,1.8 0.3-0.7 0.3-3.7 0.3,2.7 0.3-5.6 0.3,8.2 0.3-0.6 0.3-3.3 0.3-0.8 0.3,0.3 0.3,3.6 0.3-1 0.3-5.1 0.3,4 0.3,0.3 0.3-3.4 0.3,0.8 0.3,1.2 0.3-5.1 0.3,9.3 0.3-5.3 0.3,3 0.3-4.8 0.3,6 0.3-4.9 0.3,3.2 0.3-8.9 0.3,7 0.3-5.9 0.3,8.7 0.3-0.1 0.3-2.9 0.3,6.3 0.3-2.3 0.3-7.4 0.3,1.2 0.3,4 0.3-4 0.3,2 0.3,0 0.3,4.4 0.3-5.8 0.3,4.6 0.3-6.2 0.3,7.7 0.3-10.7 0.3,9.6 0.3,2.2 0.3-0.7 0.3-4.6 0.3,0.4 0.3,2.9 0.3-4.4 0.3-3.5 0.3,5.5 0.3-1.9 0.3-0.3 0.3,0.1 0.3,7.8 0.3-9.8 0.3,4.7 0.3-0.5 0.3-3.3 0.3,11.7 0.3-10.4 0.3,1.5 0.3-4.1 0.3,3.9 0.3-2.9 0.3,0.8 0.3,6.9 0.3-3.4 0.3,2 0.3-2 0.3,2.5 0.3,2 0.3-4.2 0.3,0.6 0.3-2.3 0.3-3.6 0.3,6.1 0.3-0.4 0.3-4.3 0.3,0.8 0.3,7.7 0.3-4.7 0.3,4.6 0.3-1.9 0.3-1.1 0.3-1 0.3,0.5 0.3-1.5 0.3-0.3 0.3-3.7 0.3,2.3 0.3,5.6 0.3-7.2 0.3,3.1 0.3,4.5 0.3-0.6 0.3-3.1 0.3-0.1 0.3-0.7 0.3,5.6 0.3-3.6 0.3-7.2 0.3,11.5 0.3-1.2 0.3-4.1 0.3-0.7 0.3,2.6 0.3-2.2 0.3,0.8 0.3,2.2 0.3-2.4 0.3,0.9 0.3-2 0.3-1 0.3,4.7 0.3-2.3 0.3,2.9 0.3-2.1 0.3-1.4 0.3-1.7 0.3,4.4 0.3-4.2 0.3,2.2 0.3,0.5 0.3-0.1 0.3,1.1 0.3-2.8 0.3,4.8 0.3-5.1 0.3,3 0.3-6 0.3,5.9 0.3-2.4 0.3-1.2 0.3-0.2 0.3-2.3 0.3-0.3 0.3,5.3 0.3,0.9 0.3-5.6 0.3,3 0.3,1.5 0.3-0.4 0.3-2.5 0.3,0.2 0.3,8.7 0.3-4 0.3-0.7 0.3,1.4 0.3-6.3 0.3-0.3 0.3,4 0.3-4.6 0.3,5.1 0.3-5 0.3,1.7 0.3,1.6 0.3-0.9 0.3,3 0.3-4.9 0.3,4.5 0.3-2.8 0.3,4 0.3-0.1 0.3-2.7 0.3,0 0.3-3.4 0.3,4.4 0.3-1.6 0.3-0.1 0.3-4.7 0.3,5.4 0.3,3.8 0.3,1.1 0.3-3.1 0.3-1.3 0.3,3.7 0.3,0.1 0.3-0.5 0.3-2.7 0.3-1.8 0.3,3.9 0.3,0.4 0.3-6.1 0.3-1.5 0.3,3.6 0.3,3.3 0.3,0.1 0.3-3.7 0.3,7.1 0.3-0.3 0.3-7.5 0.3,7.1 0.3-2 0.3-8.3 0.3,7.5 0.3-5.4 0.3,4.8 0.3,2.4 0.3-4.5 0.3,1.6 0.3-2.8 0.3,6.8 0.3-5.9 0.3,0.9 0.3-1.7 0.3,1.5 0.3,3.7 0.3-6.8 0.3,1.2 0.3,0 0.3,0.9 0.3,0.7 0.3,2.8 0.3,3.5 0.3-0.6 0.3-4.1 0.3,6.2 0.3-4.7 0.3-4.4 0.3,5.3 0.3-8.3 0.3,10.5 0.3-6.9 0.3,7.7 0.3-6.7 0.3-3.9 0.3,5.9 0.3,2.7 0.3-0.3 0.3-5.3 0.3-0.6 0.3,1.4 0.3,2.7 0.3,1.7 0.3-0.7 0.3,0.6 0.3,1.6 0.3-7.8 0.3-0.6 0.3-0.1 0.3-1.2 0.3,7 0.3,3.5 0.3-6 0.3,1.4 0.3,2.5 0.3-4.5 0.3,2.6 0.3-3.3 0.3,0.8 0.3,3.7 0.3-2.5 0.3,1.6 0.3-2.6 0.3,1.2 0.3,2.7 0.3-4.1 0.3,1.9 0.3-0.2 0.3-0.8 0.3-6.2 0.3,5.4 0.3,1.7 0.3,1.3 0.3,3 0.3-4.8 0.3-0.1 0.3,1.7 0.3-3.8 0.3,0.9 0.3-0.8 0.3,2.7 0.3-5.1 0.3,2.6 0.3,3.6 0.3-1.9 0.3-2.9 0.3,4.8 0.3-5.6 0.3,4.9 0.3,4.1 0.3-7.4 0.3,3.6 0.3-1.6 0.3,0.5 0.3-3.5 0.3,3.1 0.3-2.5 0.3,5.1 0.3-2.8 0.3,2 0.3-1.7 0.3-6.4 0.3,8.6 0.3-3.4 0.3,2.2 0.3-2.3 0.3,3.7 0.3-0.8 0.3,3.4 0.3-8.6 0.3,3.5 0.3-0.6 0.3,4.5 0.3-8.1 0.3,1.1 0.3,4.3 0.3-1.9 0.3,1.6 0.3-3.5 0.3,9.1 0.3-6.9 0.3-0.2 0.3-1.8 0.3,5.5 0.3-0.8 0.3,0.9 0.3-5.8 0.3,1.4 0.3-1.9 0.3,0.7 0.3,0.4 0.3,5.3 0.3-2.8 0.3-4.5 0.3,2.9 0.3,3.8 0.3-0.4 0.3-1.2 0.3-0.6 0.3-1.1 0.3,0.3 0.3-1.3 0.3-1.7 0.3,1.2 0.3,4.8 0.3-8.9 0.3,6.6 0.3,1.3 0.3-5.2 0.3-0.9 0.3,2.7 0.3-2.4 0.3,4.2 0.3,0 0.3,2.7 0.3-6.2 0.3,2.4 0.3-4.2 0.3,5.7 0.3-4.3 0.3,3 0.3-4.6 0.3,4.8 0.3-4.1 0.3,7 0.3-1.7 0.3,0.3 0.3-4.5 0.3,9.1 0.3-2.7 0.3-4 0.3,0.8 0.3,0 0.3-1.4 0.3,1.9 0.3-2.5 0.3-1.9 0.3,6.5 0.3-6.4 0.3,5.9 0.3,1.6 0.3-3.5 0.3,0.1 0.3-1.1 0.3,4.2 0.3-3 0.3,1.4 0.3-4.8 0.3,3 0.3,2 0.3,1.2 0.3-3 0.3-5.6 0.3,10.6 0.3-3 0.3-5.5 0.3,0.6 0.3,3.5 0.3-0.2 0.3,0.9 0.3,1.3 0.3-1.8 0.3-2.4 0.3,0.5 0.3,5.4 0.3-3.8 0.3,1.3 0.3-5.4 0.3,7.5 0.3-0.6 0.3,0.5 0.3-14.2 0.3,5.2 0.3,5.7 0.3-3.5 0.3,7.9 0.3-4.4 0.3-7.4 0.3,7.2 0.3,3.4 0.3-2 0.3-0.1 0.3-1.3 0.3,0 0.3,1 0.3,3 0.3-4.3 0.3,0 0.3,4.6 0.3-6.3 0.3,2.1 0.3-5.6 0.3,3.7 0.3,3.3 0.3,0.7 0.3-7.8 0.3,1.7 0.3,1.8 0.3-0.9 0.3,6.5 0.3-7.4 0.3,3.8 0.3-0.4 0.3-3.1 0.3,1.4 0.3,6.1 0.3-6.5 0.3,2.5 0.3-4 0.3,2.9 0.3-1.3 0.3,4.6 0.3-0.5 0.3,0.9 0.3-4.3 0.3,3.7 0.3-1.8 0.3-7.4 0.3,3.6 0.3-4.6 0.3,9.1 0.3,0.4 0.3-1.3 0.3-3.2 0.3,4.3 0.3-8.3 0.3,8.5 0.3-6.7 0.3,7.1 0.3-0.5 0.3-3.5 0.3,1.2 0.3,1 0.3,0.4 0.3-2.2 0.3,2.6 0.3-7.1 0.3,3.2 0.3,0.8 0.3,4.4 0.3-11.2 0.3,7.5 0.3,3 0.3,0.7 0.3,4.8 0.3-5.4 0.3,4.1 0.3-1.5 0.3-8.2 0.3,5 0.3,1.5 0.3-7.4 0.3,6.9 0.3-7.9 0.3,6.9 0.3-2 0.3,2.3 0.3,0.5 0.3-2.3 0.3-3.4 0.3,3.8 0.3,3.2 0.3,2.2 0.3-8.7 0.3,5.7 0.3,1.1 0.3-4.6 0.3,0 0.3-0.3 0.3,3.6 0.3,3.8 0.3-7.3 0.3,1.8 0.3,0.1 0.3,2.5 0.3-4.2 0.3,1.4 0.3-0.7 0.3-2.7 0.3,4.3 0.3,0.3 0.3,0 0.3,3.8 0.3-3.5 0.3-4 0.3,0.6 0.3,4 0.3,2 0.3-4.9 0.3,1.2 0.3-0.3 0.3-3.8 0.3,5 0.3-3.9 0.3,2.4 0.3-1.6 0.3,4.5 0.3-1.8 0.3-1.1 0.3,1.4 0.3-0.7 0.3,1.1 0.3-6.1 0.3,11.9 0.3-9 0.3,2.1 0.3,3.6 0.3-1.4 0.3,2.5 0.3-6.1 0.3-0.4 0.3,0.9 0.3-3.6 0.3,9.8 0.3-1.2 0.3-2.4 0.3-3.4 0.3,0.7 0.3,4.5 0.3-3.2 0.3-2.1 0.3,6.6 0.3-6 0.3-1 0.3-0.5 0.3,0.1 0.3,4.1 0.3,5.3 0.3-2.1 0.3-1.4 0.3-1.9 0.3-2.9 0.3,2 0.3-0.7 0.3-3.2 0.3,8.7 0.3-5.4 0.3-1.2 0.3-1.9 0.3-2.7 0.3,3.5 0.3,6.1 0.3-4.8 0.3,4.2 0.3-3.7 0.3,3 0.3-0.3 0.3-2.3 0.3,2.6 0.3-2 0.3,0.3 0.3-1.7 0.3,3.3 0.3,1.6 0.3,1.8 0.3-6.6 0.3-0.5 0.3,4.9 0.3,2.3 0.3-7.5 0.3,1.8 0.3-2.3 0.3,2.2 0.3-3.7 0.3,2.5 0.3,1.2 0.3-3.2 0.3,6.1 0.3-3.2 0.3-0.6 0.3,1.1 0.3-1.9 0.3,2 0.3,3.6 0.3-10.8 0.3,5.7 0.3,0.6 0.3,3.3 0.3-4.4 0.3,0.5 0.3,3.5 0.3-7.8 0.3,0.5 0.3,8.2 0.3-8 0.3,4.5 0.3-4.8 0.3,0.7 0.3-1.7 0.3,1.2 0.3-2.9 0.3,5.3 0.3-0.1 0.3-0.2 0.3,0.2 0.3-8 0.3,5.9 0.3-3.5 0.3,3 0.3,0.9 0.3-3.3 0.3,4.7 0.3-4.1 0.3-2 0.3,3.5 0.3-0.3 0.3,1.6 0.3-3.5 0.3-0.8 0.3-0.5 0.3,4.4 0.3-1.4 0.3,2.6 0.3-3.8 0.3-1.1 0.3,1.7 0.3,0.7 0.3-1.6 0.3,0.3 0.3-0.5 0.3,3.5 0.3,0.4 0.3-1.1 0.3,1.3 0.3-3.7 0.3-5.2 0.3,5.8 0.3,5.3 0.3-2.5 0.3,0.6 0.3-4.5 0.3,0.9 0.3-4.7 0.3,5.2 0.3,0.8 0.3-4.2 0.3,6.7 0.3-2.7 0.3-3.5 0.3,2.8 0.3-0.4 0.3,4.1 0.3,2 0.3-3.6 0.3-3.9 0.3,4.8 0.3,1.8 0.3,1.5 0.3-10.3 0.3,10.6 0.3-2.7 0.3,1.7 0.3-5.4 0.3,7.3 0.3-0.7 0.3-4.7 0.3,5.6 0.3-6.2 0.3-1.9 0.3,3.4 0.3,8.1 0.3-5.5 0.3-1 0.3-4.6 0.3-0.4 0.3,1.7 0.3,3 0.3,1 0.3-0.3 0.3,1.7" fill="none" stroke="#009200" stroke-width="6.0" stroke-linejoin="round" stroke-linecap="butt"/>
<line x1="304.4" y1="920.7" x2="304.4" y2="891.5" stroke="#009200" stroke-width="6"/>
<line x1="1295.8" y1="920.7" x2="1295.8" y2="898.6" stroke="#009200" stroke-width="6"/>
<path d="M232.5,956.4l0.3,16 0.3-13.2 0.3,2.9 0.3-4.1 0.3,3.1 0.3-4.8 0.3,5.9 0.3,1.8 0.3-3.6 0.3,0.4 0.3,2.6 0.3-0.4 0.3-3.1 0.3,0 0.3,3.9 0.3-0.4 0.3,4.7 0.3-11.4 0.3,6.2 0.3-5.1 0.3,3 0.3-5 0.3,1.3 0.3,3.9 0.3-3.8 0.3,7.9 0.3-7.2 0.3,8.9 0.3-5.9 0.3-2.4 0.3,2.7 0.3,1.9 0.3,1.4 0.3-1.5 0.3-4.5 0.3,0.5 0.3,3.7 0.3,3.2 0.3-6.3 0.3,6.9 0.3-3 0.3,0.7 0.3-4.9 0.3,1.7 0.3-0.8 0.3,0.6 0.3,3.1 0.3-4 0.3-2.9 0.3,4.7 0.3-2.2 0.3,2.5 0.3-3.8 0.3,1.1 0.3-0.7 0.3,1.7 0.3-4.2 0.3,6.5 0.3-0.1 0.3,0.8 0.3-3.9 0.3,4 0.3,0 0.3-4.5 0.3-1.4 0.3,1.9 0.3,10.6 0.3-5.7 0.3,0.4 0.3,0.4 0.3-2.6 0.3-7.3 0.3,6.9 0.3,1.4 0.3-4.7 0.3,2 0.3-0.2 0.3,2.6 0.3-2.3 0.3-1.4 0.3,7.6 0.3-1 0.3-8.8 0.3,0.7 0.3,4.4 0.3,1.7 0.3-2.8 0.3,3.2 0.3-2.8 0.3-6.6 0.3,5 0.3-3.5 0.3,4.6 0.3-2 0.3-3.4 0.3,8.9 0.3-3.3 0.3-0.7 0.3-1.5 0.3-4.2 0.3,2.8 0.3,7.1 0.3-4 0.3,2 0.3,0 0.3-9.7 0.3,10.1 0.3-4.3 0.3,3.1 0.3-5.3 0.3,1.6 0.3,0.7 0.3,0.7 0.3-4.1 0.3,6.8 0.3-0.7 0.3,1.2 0.3-8.1 0.3,5.3 0.3,2.4 0.3-2.1 0.3-9.6 0.3,8.5 0.3-3.2 0.3,1.3 0.3,1.5 0.3,2.2 0.3-1.2 0.3,0 0.3,6.1 0.3-15.8 0.3,5.4 0.3,2.7 0.3,1 0.3,1.9 0.3-5.8 0.3,3.7 0.3-2.2 0.3,6.2 0.3-5.9 0.3-5.4 0.3,7.6 0.3-3.6 0.3,2.5 0.3-3.5 0.3,0.1 0.3,3.3 0.3,2 0.3-2.8 0.3,0.8 0.3,2.2 0.3-3.5 0.3,0.1 0.3,4.4 0.3-2.6 0.3-10 0.3,7 0.3,2.4 0.3-8 0.3,9.9 0.3,6.7 0.3-1.9 0.3-1.2 0.3-5.8 0.3-2.4 0.3,10.5 0.3-10.8 0.3,7.7 0.3-4.8 0.3-0.6 0.3,0.1 0.3,1.5 0.3-0.5 0.3,4.4 0.3-4.6 0.3-2.2 0.3,0.2 0.3-5.5 0.3,5.1 0.3,1.3 0.3-3 0.3,4.7 0.3,5.1 0.3,3.2 0.3-11.4 0.3,2.4 0.3-0.9 0.3,4 0.3-2.2 0.3-4.9 0.3,5.1 0.3,4.9 0.3-2.2 0.3-5.8 0.3,8.1 0.3,5 0.3-0.9 0.3-3 0.3-6.9 0.3,2.4 0.3,2.8 0.3,1.9 0.3-3.8 0.3,0.2 0.3,1.4 0.3-0.9 0.3,1.7 0.3-8.2 0.3,13.6 0.3-8 0.3,3.8 0.3-5.6 0.3,3.2 0.3-1.9 0.3-0.5 0.3,1.2 0.3-2.5 0.3,7.8 0.3-7.6 0.3,3.9 0.3-1.9 0.3-3.8 0.3,1.5 0.3-2.7 0.3,13.8 0.3-4.2 0.3-6.2 0.3,6.9 0.3-3.1 0.3-6.1 0.3,2.8 0.3,6 0.3-4.6 0.3-0.6 0.3,1.9 0.3,0.6 0.3-0.8 0.3,5.4 0.3-5.3 0.3,3.6 0.3-4.4 0.3-0.1 0.3,4.2 0.3-4.8 0.3,0.8 0.3,1.3 0.3-2.5 0.3,3.4 0.3-0.1 0.3-1.2 0.3,0.4 0.3-3.9 0.3,11.4 0.3-6.7 0.3,5.5 0.3-4.8 0.3-2.5 0.3,0.8 0.3-3.1 0.3,2.1 0.3,9.9 0.3-5.2 0.3-8.7 0.3,0 0.3,4.7 0.3,5.3 0.3-12 0.3,13.8 0.3-7.8 0.3,1.1 0.3-0.9 0.3,4.6 0.3-2.6 0.3-4.8 0.3,5.1 0.3,2.9 0.3-4.5 0.3-0.3 0.3,0.7 0.3,2.1 0.3-4.3 0.3,2.1 0.3,3.4 0.3-4.6 0.3,0.8 0.3-0.6 0.3,6 0.3-3.1 0.3-4 0.3-1.6 0.3,1.9 0.3,0.6 0.3-1.9 0.3-0.9 0.3-2.6 0.3,4.2 0.3,3.3 0.3-3.5 0.3,7.9 0.3-6.6 0.3,1.6 0.3-1.4 0.3-1.7 0.3,1.3 0.3,4.9 0.3-3.6 0.3,1.4 0.3-2.6 0.3-1.3 0.3,4.3 0.3-5.6 0.3-1.9 0.3,5.1 0.3-3.3 0.3,7.2 0.3-3.1 0.3-4.9 0.3,8.8 0.3-4.1 0.3,1.2 0.3-6.7 0.3,0 0.3,5.7 0.3-2.5 0.3,8.9 0.3-11.3 0.3,1.6 0.3-3.3 0.3,12.1 0.3-8.9 0.3,2.2 0.3,7.3 0.3-6.3 0.3-2 0.3-3 0.3,2 0.3,2.3 0.3-3.2 0.3,1.7 0.3,1.7 0.3,1.2 0.3-3.9 0.3-0.1 0.3-5.5 0.3,7.4 0.3-6.8 0.3,4 0.3-2.7 0.3,6.7 0.3-0.1 0.3-2 0.3-4 0.3,2.3 0.3-2 0.3,1.4 0.3-2.4 0.3,2.6 0.3,2.3 0.3-3.5 0.3,1.3 0.3-5.5 0.3,6.2 0.3-1 0.3,1.3 0.3-4.9 0.3,0.8 0.3,0.7 0.3,6.1 0.3,0.8 0.3-5.9 0.3-1.6 0.3-2.6 0.3,10.7 0.3-5.5 0.3,5 0.3-2.6 0.3-2.5 0.3-4 0.3,4.8 0.3,0.5 0.3-1.4 0.3-5.3 0.3-4 0.3,13.1 0.3-4.4 0.3,0.5 0.3-5.5 0.3,2.4 0.3-3.8 0.3,8.4 0.3-3.6 0.3,1.5 0.3,2 0.3-3.2 0.3,3.3 0.3-11.3 0.3,5.7 0.3,4.7 0.3-1.5 0.3-7.9 0.3,7.2 0.3-4 0.3,0.3 0.3-1.9 0.3,1.4 0.3,2.7 0.3,1.2 0.3,3.8 0.3-5.9 0.3-0.7 0.3,1.5 0.3-0.8 0.3,3.4 0.3-11.4 0.3,8.8 0.3,1.6 0.3-1.6 0.3-1.5 0.3-3.3 0.3,10.5 0.3-10 0.3,3.6 0.3-1.6 0.3-4.2 0.3,0.7 0.3,4.6 0.3-2.1 0.3-6.8 0.3,1.5 0.3,1.5 0.3,2.7 0.3-3.5 0.3,1.8 0.3,3 0.3,1.3 0.3-5.4 0.3,0.3 0.3-3 0.3,5.6 0.3-6.6 0.3,5.8 0.3-5.7 0.3,2.2 0.3,3.6 0.3,1.1 0.3-3 0.3,0.3 0.3-4.3 0.3,5.4 0.3,2.6 0.3-5.2 0.3-6.8 0.3,0.8 0.3,7.6 0.3-1.3 0.3-2.2 0.3,3.2 0.3-1.6 0.3,0 0.3,2.6 0.3-1.6 0.3-0.6 0.3-2.6 0.3,4.8 0.3-4.6 0.3,3.7 0.3-0.8 0.3,1 0.3-17.8 0.3,9.4 0.3-0.4 0.3,1.7 0.3,3.6 0.3-1.2 0.3-0.8 0.3-0.7 0.3-0.6 0.3-3.3 0.3,15.5 0.3-8.5 0.3-4.3 0.3,3.5 0.3-0.8 0.3-5.8 0.3,4.4 0.3-5.6 0.3,6.3 0.3-1.1 0.3,4.5 0.3,3.1 0.3-5.5 0.3-1.8 0.3,1.4 0.3,3.4 0.3-7.1 0.3,2 0.3,0.1 0.3,2.7 0.3-8.5 0.3,0.5 0.3,4 0.3,1.4 0.3-1.4 0.3-5.1 0.3-3.9 0.3,9.6 0.3,1.5 0.3,4.7 0.3-16.1 0.3,13.5 0.3-6.9 0.3,1.2 0.3-3 0.3,7.6 0.3,2.5 0.3-6.2 0.3-1 0.3-2.7 0.3,9.9 0.3-4.4 0.3-0.8 0.3,3.7 0.3-4.2 0.3-3.5 0.3,2.9 0.3,4.8 0.3-6.4 0.3-1.8 0.3,1 0.3-1 0.3,8.5 0.3-7.5 0.3-0.6 0.3,3.3 0.3-1.2 0.3,2.4 0.3-7.2 0.3,5.3 0.3,2.1 0.3-4.7 0.3-2.4 0.3-8 0.3-3.1 0.3-5.2 0.3-0.2 0.3,1.6 0.3,12.5 0.3,9.1 0.3-4.7 0.3,3.3 0.3,3.7 0.3-4.2 0.3-0.5 0.3-3.7 0.3-3.3 0.3,0.5 0.3,1.1 0.3,4.2 0.3-2.2 0.4,0.6 0.3-5.3 0.3,7.2 0.3-0.5 0.3-7.4 0.3,3.1 0.3,3.5 0.3-2.3 0.3-0.1 0.3-0.3 0.3-2.3 0.3,1.4 0.3,1.8 0.3,1 0.3,4.2 0.3-4.8 0.3-5.8 0.3,3.1 0.3,3 0.3-1.6 0.3,2 0.3-4.3 0.3-6.3 0.3,0.5 0.3,2 0.3,1.3 0.3,3.4 0.3,3.4 0.3-4.7 0.3,1.5 0.3-4.9 0.3,2.2 0.3,2.4 0.3-3.9 0.3-9.2 0.3,13.5 0.3-7.6 0.3,1.6 0.3,2.2 0.3,2 0.3-3.1 0.3-1.1 0.3-2.4 0.3-0.2 0.3,1 0.3,3.3 0.3-4.1 0.3,2.4 0.3,1.7 0.3-7.6 0.3,5.3 0.3,1.5 0.3-5.1 0.3,7 0.3-7.3 0.3-2.4 0.3,2.8 0.3-2.8 0.3-7.5 0.3,2.3 0.3,1.4 0.3,0.9 0.3,3.7 0.3-1.7 0.3,0.2 0.3-1.7 0.3-1.9 0.3-1.6 0.3-20.3 0.3-4.5 0.3-12.1 0.3,4.7 0.3,18.1 0.3,12.6 0.3,1.5 0.3-6.3 0.3,4.9 0.3,3.3 0.3-3.5 0.3,2.7 0.3,6.1 0.3-8.1 0.3-3.2 0.3-0.7 0.3,4.4 0.3,4.9 0.3-10 0.3,4.9 0.3-3.6 0.3-1.6 0.3,2.8 0.3,1.3 0.3,1.9 0.3-0.9 0.3-2 0.3,1.7 0.3-3.4 0.3,8.6 0.3-3.8 0.3-3.9 0.3,2.2 0.3-0.8 0.3,2 0.3-7.1 0.3-4 0.3,9.8 0.3-8.5 0.3,9.6 0.3-6.4 0.3,7.9 0.3-9.9 0.3,1.4 0.3-0.9 0.3-4.5 0.3,2 0.3,1.9 0.3,2.6 0.3-3.8 0.3,2.3 0.3-1.5 0.3-7.9 0.3,1.7 0.3,1.8 0.3-2 0.3,7.5 0.3-6.6 0.3,6.4 0.3-4.6 0.3-4.7 0.3-0.7 0.3-2 0.3,1.5 0.3-0.2 0.3-0.5 0.3-6.2 0.3-0.3 0.3,10.3 0.3-7 0.3-5.3 0.3,5.4 0.3-2.5 0.3,2.6 0.3,1.7 0.3-6.1 0.3,1.5 0.3-1.6 0.3,4.5 0.3-1.9 0.3-4.8 0.3,0.5 0.3-4.7 0.3,5.8 0.3-7.9 0.3-0.2 0.3,1.2 0.3-3 0.3,2.2 0.3-0.3 0.3-1.5 0.3,4.3 0.3-5.8 0.3-4.3 0.3,9.2 0.3-10.3 0.3,4.6 0.3-1.9 0.3-2.7 0.3-1.5 0.3-5.6 0.3,5.5 0.3-8.7 0.3,6.2 0.3-2.7 0.3-1.7 0.3,4.8 0.3,1 0.3-6.1 0.3-3.4 0.3-1.6 0.3,4.3 0.3-10 0.3,7.2 0.3,1.4 0.3-8.9 0.3-1.2 0.3,8.4 0.3-8.7 0.3,8.1 0.3-6.6 0.3-10.7 0.3,3.2 0.3,1.6 0.3-0.8 0.3,5.4 0.3-6.1 0.3-1.5 0.3,5.5 0.3-6.5 0.3-2.5 0.3,0.4 0.3-2 0.3,1.9 0.3,2.9 0.3-6.2 0.3,7.7 0.3-6.4 0.3-9.2 0.3-4.2 0.3,5.1 0.3,11.7 0.3-18.1 0.3,2.5 0.3,2.3 0.3-5.5 0.3-0.2 0.3,6.8 0.3-0.7 0.3-12 0.3,14.2 0.3-14.7 0.3,0 0.3-4.5 0.3-5 0.3,0.4 0.3-2.6 0.3,1.9 0.3-0.2 0.3-4.4 0.3,3.3 0.3,2.4 0.3-5.8 0.3,5.4 0.3-7 0.3-14.5 0.3,5.5 0.3,1.4 0.3,0.1 0.3,3.8 0.3-7.9 0.3-0.7 0.3-5.6 0.3-2.3 0.3-1.1 0.3,7.4 0.3-18.5 0.3,3.2 0.3,0.4 0.3-0.1 0.3-5.6 0.3-5.8 0.3,1.4 0.3,7.1 0.3-1.3 0.3,3.9 0.3-14.5 0.3-4.9 0.3-4.4 0.3,3.6 0.3-5.4 0.3,7 0.3-9.5 0.3,1.3 0.3,0.7 0.3,3.2 0.3-17.1 0.3,15.7 0.3-17.4 0.3,5.3 0.3-9.8 0.3,3.9 0.3-9.3 0.3,2.9 0.3,2.1 0.3-5 0.3,3.7 0.3-12.4 0.3-6.4 0.3,1.3 0.3-0.3 0.3-8.4 0.3,11.6 0.3-11.2 0.3,1.3 0.3,1.1 0.3-7.1 0.3,8.1 0.3-6.9 0.3-3.7 0.3,7.3 0.3-6.2 0.3-5.2 0.3-3.2 0.3,9.9 0.3-11 0.3,6.1 0.3-2.8 0.3,3.2 0.3-7.9 0.3,8 0.3-5.9 0.3-0.8 0.3-2.3 0.3,9.8 0.3-10.4 0.3,4 0.3-8.1 0.3,9.9 0.3,1.1 0.3-3 0.3,1.3 0.3-0.9 0.3,6.1 0.3,4.5 0.3-3.6 0.3-5 0.3-5.8 0.3,4.1 0.3,3.6 0.3-4.6 0.3-1.2 0.3-15.3 0.3,8.4 0.3,6.2 0.3,9.3 0.3-7.2 0.3,0.8 0.3-4.8 0.3-8.7 0.3,12.4 0.3,10.8 0.3-10.3 0.3,9 0.3-14 0.3-1.4 0.3,4.6 0.3,10.4 0.3-7.1 0.3-7.5 0.3,12.7 0.3-1.9 0.3-4.4 0.3-0.8 0.3,2.9 0.3-0.8 0.3,1.5 0.3,5.3 0.3-1.8 0.3-1 0.3,8.8 0.3-6 0.3,1.8 0.3-0.6 0.3,2.1 0.3,9.2 0.3,2.8 0.3-6.5 0.3,4.3 0.3,1 0.3,6.2 0.3,6.9 0.3-5.1 0.3,5.8 0.3-0.2 0.3,1.3 0.3,3.9 0.3,4.4 0.3,13.8 0.3,9.2 0.3-4.8 0.3,5.8 0.3,3 0.3-7.9 0.3,13.9 0.3-10.8 0.3,1.1 0.3-5.8 0.3,10.4 0.3-3.1 0.3,16 0.3,2.5 0.3-6 0.3,13.8 0.3-9.9 0.3,9.4 0.3,10.8 0.3-16.3 0.3,17 0.3-15.1 0.3,21.9 0.3-0.4 0.3-2.5 0.3,3.7 0.3,10.3 0.3-5.3 0.3,2.5 0.3,1.5 0.3,12.5 0.3-1.9 0.3,0.4 0.3-1.5 0.3,5.6 0.3,5 0.3,2.9 0.3-6.1 0.3,12.7 0.3-2.7 0.3,13.3 0.3-15.1 0.3,7.6 0.3,12 0.3-8.5 0.3-1.4 0.3,4.5 0.3,5.1 0.3-1.5 0.3,8.7 0.3-0.4 0.3,2.2 0.3-0.2 0.3,6.5 0.3-8.7 0.3,7.9 0.3,5.6 0.3-2.1 0.3-1 0.3,2.8 0.3-3 0.3,7.5 0.3,3.1 0.3-3.9 0.3-1.9 0.3,10.5 0.3,3.9 0.3-2.6 0.3-1.1 0.3,5.1 0.3-3.6 0.3,5.3 0.3-5.9 0.3,9.5 0.3,0 0.3-2.9 0.3-1.4 0.3,0.1 0.3,7.3 0.3-1.9 0.3-1.1 0.3-2.7 0.3,10 0.3,2.2 0.3-6.1 0.3,3.6 0.3-5.5 0.3,5.8 0.3-0.5 0.3,5 0.3-3.5 0.3-3.1 0.3,6.3 0.3,4.3 0.3-7.5 0.3,5.2 0.3-0.9 0.3,3.5 0.3-5.9 0.3,7 0.3-0.5 0.3-1.4 0.3,1.3 0.3,8.2 0.3-9.9 0.3,6.7 0.3-5 0.3,2.9 0.3-0.6 0.3,2.7 0.3,1.7 0.3-4.2 0.3,0.1 0.3-2.6 0.3,2.1 0.3,5.1 0.3-6.7 0.3-3.5 0.3,5.9 0.3,3.8 0.3,3.3 0.3-3.6 0.3,6.1 0.3-8 0.3,4.7 0.3,1.1 0.3-2.7 0.3,5.9 0.3,2.2 0.3-4.4 0.3-5.8 0.3,8 0.3-6 0.3,10.5 0.3-6.2 0.3-1.8 0.3-4.3 0.3,13.5 0.3-5.8 0.3,3.5 0.3-4 0.3,3.5 0.3-2 0.3,3.6 0.3-0.3 0.3-3.1 0.3-3.5 0.3,5.1 0.3,0.8 0.3,2.5 0.3-7 0.3,13.2 0.3,0.6 0.3-3.9 0.3-4 0.3-1.4 0.3,1.8 0.3-0.2 0.3,2.5 0.3,2.7 0.3,2.5 0.3-4.9 0.3,5.4 0.3-4.5 0.3-0.7 0.3,5.2 0.3-0.2 0.3,0.7 0.3-3.9 0.3,2.2 0.3,3.3 0.3-2.9 0.3-4 0.3,4.6 0.3,0.9 0.3,2.2 0.3,2.2 0.3-2.9 0.3,0.1 0.3,1.7 0.3-4.9 0.3,5.2 0.3,0.1 0.3-0.9 0.3-0.9 0.3,8.4 0.3-6.9 0.3-3.1 0.3,8.5 0.3-4.9 0.3,3.4 0.3,2 0.3-4.1 0.3,1.6 0.3,7.1 0.3-4.9 0.3-4.5 0.3,5.1 0.3,0.8 0.3-1 0.3,0.5 0.3-3.7 0.3,5.7 0.3,1.3 0.3-5.2 0.3-1.6 0.3,1.3 0.3-0.3 0.3,5.4 0.3,3 0.3-2.3 0.3-2.1 0.3,5.9 0.3-4.5 0.3-2.7 0.3,4.5 0.3-8.7 0.3,4.4 0.3,6.8 0.3,0 0.3-1.2 0.3-4.5 0.3,1 0.3,3.7 0.3-2.3 0.3-1.8 0.3,1.1 0.3,7.3 0.3-1.5 0.3-0.4 0.3,3 0.3-8.4 0.3,5.2 0.3,0.2 0.3,0.8 0.3-3.6 0.3-0.7 0.3-0.1 0.3-1.7 0.3,7.4 0.3-8.3 0.3-2.6 0.3,10.1 0.3-0.4 0.3-3 0.3-1.9 0.3,5.1 0.3,2 0.3-9.3 0.3,8.6 0.3,7.6 0.3-10.6 0.3-1.4 0.3-2.2 0.3,0 0.3-4.2 0.3,12.2 0.3,1.6 0.3,1.7 0.3-10.3 0.3,7.2 0.3,4.3 0.3,1.4 0.3-7 0.3,2 0.3-2.3 0.3,4 0.3-0.3 0.3-3.8 0.3,2.4 0.3-2.4 0.3,2.4 0.3,0.7 0.3-2 0.3,2.4 0.3-1.5 0.3-0.7 0.3,3.2 0.3-1.1 0.3-0.6 0.3-1.7 0.3,1.6 0.3,0.1 0.3-0.6 0.3,2.6 0.3-2 0.3,3.7 0.3,3.7 0.3-7.2 0.3,7.9 0.3-5.8 0.3-5.3 0.3,2.7 0.3,5.8 0.3-5.5 0.3,1.7 0.3,3.6 0.3-2.3 0.3,1.6 0.3-0.6 0.3-2 0.3,6.2 0.3-7.6 0.3-3.7 0.3,7.1 0.3,2.8 0.3-1.7 0.3-5.2 0.3,5.7 0.3-3 0.3-5.7 0.3,9.7 0.3-2.5 0.3,2.3 0.3-0.6 0.3-1.4 0.3,2.9 0.3-3.8 0.3,1 0.3-3 0.3,1.6 0.3,1.1 0.3-3.5 0.3,5.5 0.3-2.5 0.3,4.2 0.3-6.6 0.3,7 0.3-5.3 0.3,5.5 0.3-2.9 0.3,4.2 0.3-0.9 0.3,0.7 0.3-4.4 0.3-0.1 0.3-0.7 0.3,1.2 0.3,2 0.3-2.6 0.3-2.8 0.3,6.2 0.3,1.3 0.3-4.1 0.3-4.6 0.3,6.8 0.3,0.9 0.3,2.2 0.3-0.8 0.3,0.8 0.3,0.1 0.3-6.3 0.3-0.6 0.3,3.8 0.3,0.1 0.3-2.2 0.3,2.6 0.3-0.2 0.3-1.5 0.3,2.1 0.3-4.1 0.3-6.1 0.3,10.3 0.3-0.9 0.3,3.6 0.3-1.1 0.3-1.6 0.3-1 0.3,2 0.3,3.2 0.3-4.9 0.3,2.9 0.3-2.8 0.3,2 0.3-0.2 0.3-0.1 0.3,6.4 0.3-10.4 0.3,6.8 0.3-4 0.3-0.5 0.3,3.5 0.3,2.6 0.3-6 0.3,4.8 0.3-2.7 0.3-1.6 0.3,3 0.3,3.9 0.3-3.2 0.3-3.6 0.3,4.2 0.3-5.3 0.3,7.6 0.3-1.7 0.3,2.6 0.3-2.5 0.3-7.6 0.3,3 0.3,2.7 0.3,1.1 0.3-5.5 0.3,4.1 0.3,2.7 0.3-7.9 0.3,9.1 0.3-4.7 0.3-1.4 0.3-0.9 0.3-3.1 0.3,3.6 0.3,4.8 0.3-5.7 0.3,2.7 0.3,4.8 0.3-0.4 0.3-0.8 0.3,4.3 0.3-8.1 0.3-0.3 0.3,0.2 0.3,4.2 0.3-2.4 0.3-3.8 0.3,2.5 0.3,1.7 0.3,1.9 0.3-2.1 0.3-4.1 0.3,4 0.3-7.1 0.3-0.3 0.3,5.3 0.3,7.4 0.3-4.2 0.3-4.8 0.3,5.8 0.3,0.4 0.3-2.1 0.3-8.3 0.3,9.9 0.3,4.6 0.3-6.9 0.3-0.3 0.3-1 0.3,2.1 0.3-0.8 0.3,2.6 0.3-4.4 0.3,3.1 0.3-1.6 0.3,3.9 0.3-6.6 0.3,3.7 0.3,2.1 0.3-1.4 0.3,3.6 0.3-1.5 0.3-4.4 0.3,0.7 0.3-0.6 0.3,0.4 0.3,3.2 0.3-1.2 0.3-5.5 0.3,6.3 0.3,4.5 0.3-4.7 0.3,1.4 0.3-0.9 0.3-0.3 0.3,3.3 0.3-4.4 0.3,1.8 0.3-2.2 0.3,4 0.3,1 0.3-1.6 0.3-6.4 0.3,10.8 0.3-8.9 0.3,3.6 0.3-3.7 0.3,4.9 0.3-2.3 0.3,0.1 0.3-5.4 0.3,7 0.3-1 0.3,3.2 0.3-3.2 0.3,3.3 0.3-1.9 0.3-1.5 0.3-0.5 0.3,4.6 0.3,0 0.3-6.2 0.3,5.3 0.3-2.1 0.3,1.5 0.3,4 0.3-4.5 0.3,0.2 0.3-5.8 0.3,11.4 0.3-4.2 0.3-3.4 0.3,3.6 0.3,5 0.3-8.5 0.3,1.5 0.3,3.2 0.3,0.5 0.3-0.9 0.3-2.6 0.3,1.2 0.3,1.5 0.3-3 0.3-2.1 0.3,5.1 0.3-6.5 0.3,4.7 0.3-1.7 0.3,0.6 0.3-0.2 0.3,0.9 0.3,7.7 0.3-4 0.3-5.5 0.3,5.9 0.3-3.4 0.3,5.1 0.3-2.8 0.3-6.5 0.3,3.9 0.3,3.5 0.3-0.7 0.3,3.3 0.3-6.5 0.3,2.2 0.3-3 0.3-0.1 0.3,3.3 0.3,2.1 0.3,0.8 0.3-2.4 0.3-1.3 0.3-4.1 0.3,7.1 0.3-4.2 0.3,4.6 0.3-1.4 0.3-4.1 0.3,0.8 0.3,3.2 0.3,0.4 0.3-5.3 0.3,3.9 0.3,0.5 0.3,2.2 0.3-10.7 0.3,2 0.3,4 0.3-5.1 0.3,5.2 0.3,2.5 0.3-2.6 0.3-2.7 0.3,7.7 0.3-7.2 0.3,0.2 0.3-0.9 0.3,3 0.3-1.9 0.3,8.7 0.3-5.1 0.3-3.3 0.3,1.5 0.3,0.8 0.3,4.6 0.3-3.2 0.3,4.7 0.3-4.5 0.3-1.7 0.3,2.6 0.3-3 0.3,1.4 0.3-2.6 0.3,3.7 0.3,3.9 0.3-1.1 0.3-1.5 0.3-2.3 0.3-0.3 0.3,2.6 0.3-2.6 0.3,2.4 0.3-4 0.3,6 0.3-7.5 0.3,2.6 0.3,2.1 0.3,2 0.3-4.9 0.3,3.5 0.3-3.8 0.3-3.6 0.3,5 0.3-0.2 0.3-0.9 0.3,3.2 0.3-7.5 0.3,6.5 0.3-2.7 0.3,1 0.3,2.8 0.3-5.9 0.3,2.9 0.3,3.1 0.3,0 0.3,3.8 0.3-2.6 0.3-5.7 0.3-0.1 0.3,5.4 0.3-4.7 0.3-1.1 0.3,0.6 0.3-1.4 0.3,9.5 0.3-6.4 0.3,3.5 0.3-4.9 0.3,4.2 0.3-2.5 0.3-2.4 0.3,7.4 0.3-2.8 0.3,0.2 0.3-2.1 0.3,4.7 0.3-7.2 0.3-3.4 0.3,6.6 0.3-2.4 0.3,9.6 0.3-4.4 0.3-5.7 0.3,1.1 0.3-1.2 0.3-2 0.3,3.7 0.3,1 0.3,0.6 0.3-1.8 0.3,6.7 0.3-11 0.3,11.1 0.3-1.8 0.3-5.1 0.3-2.7 0.3,1.1 0.3-3 0.3,5.9 0.3,0.5 0.3-3.7 0.3,5 0.3-4.1 0.3-1 0.3,0.5 0.3,7.1 0.3-5.6 0.3,5.4 0.3-8.9 0.3,3.8 0.3-4.5 0.3-1.1 0.3,8.1 0.3-7.1 0.3,1.5 0.3-3.5 0.3,8.3 0.3-0.1 0.3-1.6 0.3,3.1 0.3-6.3 0.3,2.4 0.3-3 0.3-0.7 0.3-1.9 0.3,6.4 0.3-6.7 0.3-0.4 0.3,4.9 0.3-1.6 0.3,2.1 0.3-8.9 0.3-0.9 0.3,6.3 0.3-2.9 0.3-2.1 0.3-1.6 0.3,1.9 0.3-6 0.3,7.6 0.3-6.3 0.3,1.9 0.3-1.1 0.3,2.7 0.3,2.7 0.3-4.4 0.3-3.6 0.3,3.7 0.3,2.4 0.3-5.4 0.3-0.9 0.3,2.7 0.3-3.3 0.3-2.2 0.3,0.2 0.3-2.7 0.3-1.3 0.3,3.5 0.3,2.2 0.3,2.6 0.3-9.4 0.3,1.8 0.3-2.5 0.3,5.6 0.3-3.4 0.3,2.8 0.3,0 0.3,1.6 0.3-4.2 0.3-2.5 0.3-1.2 0.3,1.7 0.3,1.6 0.3-7.7 0.3,1.6 0.3,1.7 0.3,2.9 0.3-3.6 0.3,6.8 0.3,1.8 0.3-6.2 0.3,1.6 0.3-2.8 0.3,6.3 0.3-3.4 0.3,4.5 0.3-2.1 0.3-2.5 0.3,2 0.3,3.1 0.3,1.9 0.3-3.3 0.3,2 0.3,2 0.3-4.8 0.3,3.5 0.3-6.9 0.3-2.4 0.3,3.4 0.3-5.3 0.3,13.4 0.3,1.9 0.3-5 0.3,5.6 0.3-6 0.3-2.2 0.3,0.6 0.3-0.5 0.3,4.1 0.3-0.2 0.3-0.8 0.3,1.2 0.3-3 0.3,4.6 0.3-0.9 0.3,2.3 0.3-5.1 0.3,2.9 0.3,0.3 0.3,2.2 0.3,4.4 0.3-4 0.3,5.8 0.3-6.5 0.3,4 0.3-7.8 0.3,6.4 0.3-1.6 0.3,1.6 0.3,2.3 0.3,1.5 0.3,3.4 0.3-5.7 0.3,4.6 0.3-9.8 0.3,7.9 0.3-2 0.3-1.6 0.3,0.6 0.3-4 0.3,4.1 0.3,1.5 0.3-1 0.3-5 0.3,2.5 0.3,8.8 0.3-5.4 0.3,2.4 0.3-2.8 0.3-1.8 0.3,2 0.3-1.7 0.3-3.3 0.3,10.9 0.3-5.2 0.3-0.2 0.3-1.2 0.3,1.2 0.3-2.4 0.3,3 0.3-1.3 0.3,6.3 0.3-5.4 0.3,4.5 0.3-5.5 0.3-3.6 0.3,5.8 0.3-1.4 0.3-0.9 0.3-1.9 0.3,2 0.3-1.4 0.3,5.6 0.3-1.3 0.3,4.4 0.3-11.3 0.3,10.6 0.3-6.4 0.3,2.4 0.3,0.2 0.3,4.1 0.3-3.5 0.3-0.3 0.3-0.9 0.3,2.4 0.3-1.7 0.3,3.8 0.3-6.7 0.3,5.9 0.3-13.2 0.3,12.2 0.3,1.1 0.3-2.5 0.3,1 0.3-3.7 0.3-0.3 0.3,5.7 0.3,0.2 0.3,0.3 0.3-3.8 0.3-1.5 0.3,1 0.3,2.6 0.3-0.6 0.3-1.9 0.3-1.7 0.3,4 0.3-3.8 0.3,4.7 0.3-1.6 0.3-2.8 0.3,6.1 0.3,2.7 0.3-1.9 0.3-2.9 0.3,2.7 0.3-2.8 0.3-4.5 0.3,5.3 0.3-5.2 0.3,1.4 0.3,6 0.3-6.3 0.3,0.3 0.3-0.3 0.3,2.4 0.3-0.2 0.3,2.5 0.3,1 0.3-2.6 0.3-2.3 0.3,4 0.3-6.9 0.3,6.4 0.3-2.4 0.3,5.2 0.3-9 0.3,2.6 0.3-1.8 0.3,7.7 0.3-8.2 0.3,3 0.3,3.3 0.3-0.6 0.3,3.3 0.3-4 0.3-3.4 0.3,5.4 0.3-3.8 0.3,4.9 0.3,4.5 0.3-7.6 0.3-5.1 0.3,0.8 0.3,5.8 0.3-5.9 0.3,0.6 0.3,2.1 0.3,2.3 0.3-4.1 0.3,3.3 0.3,0.9 0.3-4.4 0.3,5.4 0.3-4.2 0.3-2.5 0.3,6.7 0.3-2.7 0.3-1.1 0.3,7.1 0.3-3.9 0.3,0.2 0.3,0 0.3,1 0.3-6.6 0.3,6.8 0.3-2.5 0.3-2.2 0.3-2.9 0.3,9.7 0.3-0.9 0.3-0.7 0.3-2.3 0.3-3.9 0.3,3.3 0.3-0.8 0.3-4.3 0.3,5.7 0.3-1.5 0.3-5.6 0.3,3.7 0.3,4.3 0.3,0.1 0.3-5.5 0.3,7 0.3-0.8 0.3-5.2 0.3-1.7 0.3-1 0.3,8.2 0.3-4.6 0.3,11.8 0.3-7.6 0.3-11.8 0.3,4.3 0.3,2.6 0.3,5.1 0.3,1 0.3-7.3 0.3,3.9 0.3,2 0.3-4.8 0.3,0.1 0.3,4.3 0.3-0.8 0.3-8.2 0.3,9.9 0.3-6.2 0.3,5.3 0.3,0.5 0.3,0.6 0.3-2.9 0.3-0.3 0.3-2.3 0.3,4.5 0.3-3.5 0.3,3 0.3,0.5 0.3-4.2 0.3,0.6 0.3,6.1 0.3-5.2 0.3,6.1 0.3-2.3 0.3-8.3 0.3,0.9 0.3,4.7 0.3-2.4 0.3-2.1 0.3-1.4 0.3,0 0.3,7.7 0.3-2.2 0.3-0.5 0.3,7.9 0.3-5.2 0.3-3.5 0.3,1.9 0.3,1.2 0.3,1.8 0.3-1.9 0.3-1.7 0.3,0.9 0.3-4.5 0.3,1 0.3,6.6 0.3-6.9 0.3,2.8 0.3-2.3 0.3,4.4 0.3-4.8 0.3,5 0.3-5.4 0.3,3.3 0.3,0.7 0.3,3.2 0.3,1 0.3-7.7 0.3,6.1 0.3,0.2 0.3-4.9 0.3,1.2 0.3-1.7 0.3,5.8 0.3,2.5 0.3-3.7 0.3-5.9 0.3,3.2 0.3-1.5 0.3-0.2 0.3,1 0.3,0 0.3,1.2 0.3-1.3 0.3-0.3 0.3,3 0.3-3.9 0.3,1.9 0.3,0.2 0.3,0.2 0.3-3.2 0.3,3.2 0.3-4.1 0.3,6.8 0.3-4.9 0.3,6.5 0.3-4.9 0.3,1.7 0.3-0.1 0.3,1.8 0.3-3.2 0.3-1.7 0.3,7.3 0.3-5.2 0.3-1 0.3-1.3 0.3,0.8 0.3,4.4 0.3-6.4 0.3,5.8 0.3-4.3 0.3,1 0.3,2.4 0.3,1 0.3-2.2 0.3-5.1 0.3,2.5 0.3,3.8 0.3-4.1 0.3-2.9 0.3-1.5 0.3,12 0.3-7.6 0.3-0.3 0.3,5.1 0.3,3.2 0.3-9.6 0.3,5.3 0.3,3.6 0.3-1.7 0.3-5.6 0.3-4.5 0.3,3.9 0.3,5.5 0.3-6.6 0.3,9.7 0.3-8.8 0.3,0.2 0.3-2.7 0.3,2.5 0.3-0.5 0.3,3.2 0.3,1.4 0.3-1.2 0.3-5.8 0.3,7.7 0.3-1.6 0.3,1.2 0.3-3.5 0.3,0.6 0.3-4.8 0.3-0.4 0.3,3.2 0.3,0.7 0.3,3.2 0.3,4.2 0.3-5.1 0.3,0.3 0.3,3.7 0.3-4.2 0.3-2.4 0.3,5.8 0.3-5.5 0.3,1.5 0.3,2.9 0.3-2 0.3-2 0.3,2.9 0.3-0.3 0.3-4.3 0.3,2.3 0.3,0.1 0.3,3.2 0.3-3.7 0.3-2.5 0.3,7.6 0.3,2.2 0.3-2.6 0.3-2.1 0.3,2.7 0.3,2.1 0.3-10.3 0.3,6.4 0.3,1.2 0.3,6.4 0.3-11.7 0.3,7.6 0.3-8.9 0.3,2.3 0.3,1.1 0.3,1.4 0.3-3.7 0.3,4.8 0.3-3 0.3,2.8 0.3-0.6 0.3-5.9 0.3,1.4 0.3,6.4 0.3-0.2 0.3-2.8 0.3,0.6 0.3-2 0.3,2.8 0.3,2 0.3-5.8 0.3,3.3 0.3-2.8 0.3,4.9 0.3-7.5 0.3,3.9 0.3,0.1 0.3-0.4 0.3,6.1 0.3-7.1 0.3,3.9 0.3,1.9 0.3-4.7 0.3-4.2 0.3,7.6 0.3-7 0.3,11.8 0.3-7.8 0.3,2.8 0.3-2.6 0.3-5.9 0.3,4.6 0.3,6.8 0.3-9.2 0.4,7.9 0.3-1.5 0.3,1.1 0.3-3.3 0.3,0.8 0.3-5.4 0.3,4.1 0.3-1.1 0.3,2.7 0.3-4 0.3,6.8 0.3,1.3 0.3-7.3 0.3,0.5 0.3,2.2 0.3-6.9 0.3,9.9 0.3-7.2 0.3-0.3 0.3,8.7 0.3-5.6 0.3-0.7 0.3,2.9 0.3,0 0.3-0.2 0.3,2.6 0.3,1.6 0.3-6.7 0.3,1.8 0.3,0.6 0.3-1.5 0.3,4.2 0.3-0.5 0.3-4.5 0.3,2.6 0.3-1.5 0.3-1.8 0.3-2 0.3,8.3 0.3-1 0.3,2.7 0.3-2.3 0.3-3.7 0.3,3.3 0.3-8.4 0.3,8.2 0.3,4.2 0.3-2.7 0.3-9.2 0.3,9.3 0.3-2.5 0.3,2.3 0.3,0.9 0.3-6.9 0.3,7.3 0.3,1.9 0.3-3.2 0.3-0.2 0.3-3.4 0.3,1.1 0.3-3.4 0.3,4.5 0.3-2 0.3-0.1 0.3-1.6 0.3,7 0.3-2.6 0.3,7.4 0.3-5.9 0.3,1.4 0.3-1 0.3-7.4 0.3,1.7 0.3,7.9 0.3-10.2 0.3,1.7 0.3,3.5 0.3,0.9 0.3,0.2 0.3-0.2 0.3-2 0.3,2.9 0.3-3.8 0.3,4.1 0.3,1.2 0.3-1.6 0.3-1.3 0.3-0.2 0.3,1.4 0.3,4.7 0.3-0.4 0.3,1.2 0.3-4.3 0.3-2.9 0.3,2.1 0.3,0.4 0.3,1.4 0.3-0.4 0.3,1.1 0.3-5.2 0.3,7.1 0.3-1 0.3-4 0.3,2.6 0.3-3 0.3,3.5 0.3-2.6 0.3,0.7 0.3,4.7 0.3-5.5 0.3-2.1 0.3,6 0.3-1.6 0.3-2.2 0.3-2.7 0.3,3.7 0.3-5.9 0.3,8.3 0.3-6.9 0.3,8.1 0.3-2.1 0.3,2.8 0.3-5.7 0.3,1.2 0.3,7.2 0.3,2.7 0.3-14.3 0.3,7.5 0.3,4.2 0.3-2.2 0.3-1.3 0.3-6.1 0.3,3.5 0.3,1.3 0.3,3 0.3-4.7 0.3,7.3 0.3-8.6 0.3,0.5 0.3,4.4 0.3,3.2 0.3-2.6 0.3-1.5 0.3-6.3 0.3,1 0.3,7.1 0.3,0.4 0.3,1.9 0.3-5.2 0.3,2.8 0.3-3.7 0.3,2 0.3,1.9 0.3,1.4 0.3,1.8 0.3-6.4 0.3,5.7 0.3-6 0.3,7.1 0.3,2.7 0.3-7.6 0.3,1.9 0.3-4.4 0.3,2.7 0.3,0.3 0.3-2.7 0.3,4.6 0.3-3.9 0.3-5.3 0.3,6.7 0.3,3.4 0.3-2.6 0.3,2.4 0.3-1.4 0.3-5.9 0.3,7.9 0.3,0.8 0.3-5.1 0.3,2.8 0.3-0.7 0.3,1.4 0.3-2.5 0.3-3.6 0.3,2.5 0.3,3.2 0.3-0.2 0.3,1.7 0.3,0 0.3-5.4 0.3,1.2 0.3,0.3 0.3-0.1 0.3,3.4 0.3-1.8 0.3-1.5 0.3-3.2 0.3,4 0.3,0.6 0.3,2.6 0.3-5.3 0.3,3.8 0.3-1.5 0.3-0.3 0.3,3.4 0.3-3.1 0.3-2.4 0.3,5.9 0.3-1 0.3,0.9 0.3-2.7 0.3-5.8 0.3,5.2 0.3-2.6 0.3,2.9 0.3,2 0.3-1.2 0.3-0.7 0.3,1.3 0.3-0.3 0.3-0.5 0.3,2.2 0.3-6.3 0.3,3.2 0.3,1.7 0.3,1.3 0.3-2.8 0.3,3.4 0.3,1.4 0.3-2.5 0.3-4.7 0.3,4.2 0.3-1.1 0.3,3.4 0.3-4.3 0.3,3.1 0.3,0.1 0.3,0.6 0.3-1.8 0.3,2.7 0.3-1.9 0.3-0.6 0.3,2.2 0.3,2.9 0.3-6.9 0.3,4.9 0.3,2.1 0.3-5.7 0.3,0.2 0.3-3.4 0.3-0.5 0.3,10.2 0.3-4.7 0.3-2.5 0.3,4.7 0.3-7.2 0.3,2.3 0.3,3 0.3-0.4 0.3-2.4 0.3-5.2 0.3,0.5 0.3,9.8 0.3-5.9 0.3,6 0.3-3.9 0.3,2.5 0.3-2 0.3,0.5 0.3-2.4 0.3,3.3 0.3-4.2 0.3,2.4 0.3,2.3 0.3-6.9 0.3,3.3 0.3,1.6 0.3-0.9 0.3-1.8 0.3,2.5 0.3,1.4 0.3-1.3 0.3,1.1 0.3,0 0.3-6.2 0.3,2.4 0.3-1.6 0.3,5.3 0.3,3.7 0.3-4 0.3-2.6 0.3,2.9 0.3-1.9 0.3,3.3 0.3-4.2 0.3,2.7 0.3-1.3 0.3-1.9 0.3,4.1 0.3,1 0.3-0.7 0.3-4.1 0.3,2.7 0.3-4.1 0.3,1.6 0.3-1.7 0.3,2.7 0.3-2.9 0.3,1.3 0.3,7.8 0.3-9.8 0.3,1.7 0.3,3.7 0.3,2.3 0.3,1.9 0.3-5.8 0.3,2.9 0.3,0.9 0.3-0.5 0.3,1.9 0.3-7.5 0.3,5.3 0.3-2.5 0.3-0.5 0.3-0.6 0.3,1.5 0.3-2.8 0.3,4.1 0.3-7.9 0.3,10.8 0.3-6.6 0.3-4.4 0.3,9.2 0.3-6.9 0.3-1.8 0.3,7.3 0.3-5.8 0.3,6.1 0.3-2.5 0.3,1.5 0.3,2.2 0.3,0.4 0.3-1.5 0.3,2.7 0.3-4.9 0.3,0.1 0.3-2.8 0.3,2 0.3,1.7 0.3,0.5 0.3-8.1 0.3,11.7 0.3-0.6 0.3-10.4 0.3,3.4 0.3,2.6 0.3-1.1 0.3-1.3 0.3,7.2 0.3-3.4 0.3-3 0.3,0.2 0.3-1.3 0.3,2.5 0.3,1.8 0.3,0.7 0.3-3.6 0.3,1.9 0.3-1.4 0.3-2.7 0.3,0.5 0.3,7.2 0.3-7 0.3,6.2 0.3,2 0.3-11 0.3,5.4 0.3,2.5 0.3-0.5 0.3-3.8 0.3-3.3 0.3,2.1 0.3,4.5 0.3,2.7 0.3-3.1 0.3-3.2 0.3,1.5 0.3,5.3 0.3-4.2 0.3-1.4 0.3,4.5 0.3-5.3 0.3-1.7 0.3,1.6 0.3,5.2 0.3-1.7 0.3-0.6 0.3,0.8 0.3-3.5 0.3,2.3 0.3,0.2 0.3-0.9 0.3,2.3 0.3,2.6 0.3-4.2 0.3,1.3 0.3-2.9 0.3,1.3 0.3,1.4 0.3-3.9 0.3,3.2 0.3,3.7 0.3-8.2 0.3,1.2 0.3,3.4 0.3,4.5 0.3-1.6 0.3-5.7 0.3,3 0.3,0.8 0.3-2.3 0.3,3 0.3-0.2 0.3-5 0.3,2 0.3-0.7 0.3,0.5 0.3-1.3 0.3,0.6 0.3,4.8 0.3-1.8 0.3-5.3 0.3,4.3 0.3-4.5 0.3,5.9 0.3,3.1 0.3-4.2 0.3,1.7 0.3,0.5 0.3,0.2 0.3,3.7 0.3-7.4 0.3,2 0.3,2.3 0.3,2 0.3-6.6 0.3,1.9 0.3-1.9 0.3,0.9 0.3-1.1 0.3,2.3 0.3,4.1 0.3-4.6 0.3-2.1 0.3,6.6 0.3-2.7 0.3-5.4 0.3,7.7 0.3-7.4 0.3,6.5 0.3,2.1 0.3-3.2 0.3,0.3 0.3-4.4 0.3,8.8 0.3-3.3 0.3,0 0.3,0.4 0.3-3.3 0.3,1.9 0.3-1.5 0.3,0.8 0.3-3.8 0.3,4.9 0.3-1.9 0.3-2.3 0.3,0.9 0.3,1.5 0.3-2.3 0.3,1.1 0.3-0.1 0.3,1.1 0.3-2.7 0.3-0.2 0.3,4.7 0.3-3.3 0.3,0.4 0.3-0.8 0.3,4 0.3,1.4 0.3-2.8 0.3-3.7 0.3,6 0.3-5.7 0.3,2.7 0.3-0.4 0.3,0 0.3,1.5 0.3-0.3 0.3-2.5 0.3-2.5 0.3,3.8 0.3-0.7 0.3,3.7 0.3-2 0.3-3.4 0.3-0.1 0.3,3.9 0.3-0.6 0.3,1.1 0.3,1.2 0.3-3.8 0.3,2.6 0.3-5.4 0.3,10.5 0.3-1 0.3-1.4 0.3-3.7 0.3,0.6 0.3,1.8 0.3,6.9 0.3-9.6 0.3,5.2 0.3-8.6 0.3,3.6 0.3,2.5 0.3-1.3 0.3-5.4 0.3,5.6 0.3,2.3 0.3,4.2 0.3-6.9 0.3,1.7 0.3-5.4 0.3,2.8 0.3-2.6 0.3,4.3 0.3,1.2 0.3-5.1 0.3,3.2 0.3,1.7 0.3-1.8 0.3-3.2 0.3,4.7 0.3-7.4 0.3,4.2 0.3,4.9 0.3-0.3 0.3-3 0.3,0.9 0.3,0.1 0.3-0.7 0.3-1.1 0.3,1.5 0.3,0.8 0.3,3.9 0.3-10.1 0.3,4.4 0.3-1.3 0.3,1.1 0.3-3.1 0.3,3.6 0.3-3.5 0.3,5.2 0.3-0.9 0.3-2.2 0.3-0.1 0.3-1.7 0.3,5 0.3-2.9 0.3,2.8 0.3,2.6 0.3-6.9 0.3,3.1 0.3,2.6 0.3-0.6 0.3-3.7 0.3,1.6 0.3,0.3 0.3-2.2 0.3,2 0.3,5.1 0.3-7.5 0.3,3.7 0.3-0.3 0.3,5.9 0.3,2.4 0.3-9.4 0.3,1.5 0.3-1.3 0.3-0.8 0.3-1.7 0.3-1.3 0.3,0.4 0.3,6.3 0.3-0.6 0.3-2.6 0.3-3.6 0.3,0.8 0.3,4.7 0.3,1.9 0.3-4.2 0.3,1.4 0.3-2.5 0.3-0.3 0.3,1.3 0.3,3.5 0.3,0.9 0.3-2.6 0.3-2.2 0.3,1.6 0.3-2.2 0.3,3.2 0.3-4.3 0.3,2.2 0.3,1.9 0.3,1.1 0.3-1.6 0.3-0.6 0.3-4.3 0.3,4.3 0.3-1.7 0.3,7.8 0.3-8.6 0.3,3 0.3,2.4 0.3,3.8 0.3-4 0.3-7 0.3,2.3 0.3,0.1 0.3,3.6 0.3-3.1 0.3,0 0.3,0.8 0.3,3.7 0.3-0.9 0.3-0.9 0.3-9.4 0.3,14.2 0.3-10.3 0.3,0.7 0.3,3.4 0.3-1.7 0.3,1.3 0.3-0.5 0.3,3.2 0.3,4 0.3-13.3 0.3,2.7 0.3,9 0.3-7.2 0.3,4.4 0.3-2.5 0.3,4.3 0.3,0.1 0.3-8.4 0.3,6.7 0.3-1.1 0.3-2.2 0.3-2.2 0.3,5.6 0.3-3.1 0.3-0.4 0.3,3.9 0.3-0.1 0.3-3.4 0.3,2.1 0.3-4.8 0.3,9.6 0.3-6.6 0.3,2 0.3,3.5 0.3-3.6 0.3,3.7 0.3-3.1 0.3-4 0.3,5.1 0.3-3.7 0.3,0.9 0.3,2.2 0.3-0.6 0.3-1.4 0.3-0.3 0.3,2.4 0.3-1 0.3-2.6 0.3,5 0.3,0.6 0.3-4.3 0.3-0.4 0.3,7.9 0.3-6.9 0.3-3.6 0.3,1.6 0.3,3.4 0.3-2.1 0.3,5.7 0.3-6.4 0.3,1 0.3-1.7 0.3,3 0.3-2.4 0.3,3.2 0.3-4.3 0.3,1.8 0.3,6.4 0.3-0.4 0.3-6.2 0.3-1.3 0.3-0.8 0.3,5.1 0.3-2.1 0.3,1.5 0.3,1 0.3-1.2 0.3-4.2 0.3,4.8 0.3-6.3 0.3,8.8 0.3-2.8 0.3-2.4 0.3,0 0.3,1.1 0.3,5.1 0.3-3.9 0.3-4.8 0.3,2.1 0.3,0.4 0.3,0.3 0.3,1.5 0.3-0.2 0.3,1.6 0.3-5.5 0.3,2.6 0.3,0.2 0.3,0.6 0.3,1.2 0.3,3.4 0.3-4 0.3,1.9 0.3-0.4 0.3-2.1 0.3-3.2 0.3,6.7 0.3-2.9 0.3-4.6 0.3,8.1 0.3-5 0.3,2.8 0.3-3.4 0.3-2.4 0.3,4.7 0.3-3 0.3,1.9 0.3-4.5 0.3,15.1 0.3-7.1 0.3-2.2 0.3-0.7 0.3-4.4 0.3,1.5 0.3,4.3 0.3,3.1 0.3-7.5 0.3,2.6 0.3,1.5 0.3-3.2 0.3-2.6 0.3,4.1 0.3-3.1 0.3,9.2 0.3-7.6 0.3-4.2 0.3,3.2 0.3,5.2 0.3,1.5 0.3-4.3 0.3,3.5 0.3-0.9 0.3,3.5 0.3-2.1 0.3-4.4 0.3,3.8 0.3,0.2 0.3,1.4 0.3-3.3 0.3-1.4 0.3,0.7 0.3,8.4 0.3-8.1 0.3,2.7 0.3-2.4 0.3,2.9 0.3-6.4 0.3-2.2 0.3,2.8 0.3-2.3 0.3,4.3 0.3,1.4 0.3,5.1 0.3-4 0.3-0.6 0.3-5.7 0.3,7.2 0.3-2.9 0.3-1.7 0.3,1.7 0.3,0.2 0.3-3 0.3,5.4 0.3-2.5 0.3-0.6 0.3-3.9 0.3,0.6 0.3,2.3 0.3-0.8 0.3,8.5 0.3-6.9 0.3,2.4 0.3,2.8 0.3-6.2 0.3,3.1 0.3,0.8 0.3,3 0.3-5.4 0.3-3.1 0.3,3.1 0.3-1.6 0.3-0.8 0.3,2.9 0.3,1 0.3,0.7 0.3-0.9 0.3,0.7 0.3-1.7 0.3,1.6 0.3-4.6 0.3,5.7 0.3-7.1 0.3,5.9 0.3,0 0.3-3.2 0.3,3.9 0.3,3.3 0.3-7.7 0.3-1.7 0.3,9.6 0.3-7 0.3,3 0.3-0.9 0.3-5.1 0.3,8.3 0.3-2.4 0.3-5 0.3,2.9 0.3-0.7 0.3,3.2 0.3,0.4 0.3-0.1 0.3-2.8 0.3,1.9 0.3-2.5 0.3-6.3 0.3,12.6 0.3-5.8 0.3,1 0.3,2.7 0.3-3.5 0.3,3.1 0.3,1.3 0.3-3.9 0.3-4.5 0.3,5.1 0.3-1.8 0.3,3.1 0.3,0.2 0.3,2.1 0.3-4.1 0.3-1.4 0.3,6.3 0.3,0.5 0.3-6.9 0.3,3.4 0.3,2.6 0.3-6.4 0.3,2.5 0.3,0.5 0.3-1.1 0.3,1.8 0.3-10 0.3,14.3 0.3-4.7 0.3-3.1 0.3,0.5 0.3,4.5 0.3-2.5 0.3-0.7 0.3-4.1 0.3-0.8 0.3-0.1 0.3,4.1 0.3-3.4 0.3,2.2 0.3,2.3 0.3,0.2 0.3-2.9 0.3,1 0.3,2.5 0.3,1.1 0.3,0.1 0.3-6.8 0.3,4.7 0.3-1.1 0.3-3.8 0.3-0.3 0.3,1.9 0.3,1.3 0.3,2.5 0.3-1.5 0.3-0.5 0.3-1.3 0.3,3.7 0.3-4 0.3-0.7 0.3,1.9 0.3,5 0.3,1.3 0.3-7.2 0.3,6.9 0.3-5.5 0.3-7.6 0.3,8.5 0.3,3.5 0.3-6.4 0.3,3.8 0.3-1.1 0.3,4.7 0.3-3.1 0.3-5.7 0.3,4.6 0.3,1.3 0.3-1.9 0.3-0.7 0.3-2.2 0.3,0.8 0.3-0.8 0.3,6.4 0.3-2.7 0.3,4.5 0.3-9.8 0.3,6 0.3-0.6 0.3-6.3 0.3,2.7 0.3,3.4 0.3-0.2 0.3,0.4 0.3-3.6 0.3-6.2 0.3,12.6 0.3-8.2 0.3,0.6 0.3,4.9 0.3-2.3 0.3,0.1 0.3,2.8 0.3-0.3 0.3-5.9 0.3,2.8 0.3,2.4 0.3,1.4 0.3-2.3 0.3-0.4 0.3-2.3 0.3-2.1 0.3,4.3 0.3,2.7 0.3-3.7 0.3,0.6 0.3,2.1 0.3-3.7 0.3,2.3 0.3-1.2 0.3,0.9 0.3-1.3 0.3-0.4 0.3,4.5 0.3-5.4 0.3,2.5 0.3,4.8 0.3-3.8 0.3-4.5 0.3-0.6 0.3,5.8 0.3-2.6 0.3,4.5 0.3-5.1 0.3,7.7 0.3-1.5 0.3-6.1 0.3-0.2 0.3,3.2 0.3-3.3 0.3-3.1 0.3,4.9 0.3-2.1 0.3,3.9 0.3,1.5 0.3-8.9 0.3,4.6 0.3,2.2 0.3,3.1 0.3-6.7 0.3-0.8 0.3-1.5 0.3,4.6 0.3-3.3 0.3,2.4 0.3,2.7 0.3-2.5 0.3,1.6 0.3,0.8 0.3-0.8 0.3-4.3 0.3,2.3 0.3,2.2 0.3-1.7 0.3-0.1 0.3-0.1 0.3-0.9 0.3,2.6 0.3-6.2 0.3,7.3 0.3-1.6 0.3,2.2 0.3-2.9 0.3,0.4 0.3-2.2 0.3,4.8 0.3-4.9 0.3,5.4 0.3-8.5 0.3,5.1 0.3-5.1 0.3-0.9 0.3,7.7 0.3-9.2 0.3,5.6 0.3,6.6 0.3-7.2 0.3,0.1 0.3-4.5 0.3,10.6 0.3,3.4 0.3-8.7 0.3,1.2 0.3,1.4 0.3-2.8 0.3-5.3 0.3,5.3 0.3-2.8 0.3,4.8 0.3,1.7 0.3-2.6 0.3-6.8 0.3,1.5 0.3,1.6 0.3,3.3 0.3-2.1 0.3-0.7 0.3,6.2 0.3-3.6 0.3-6.5 0.3,9.6 0.3-4.6 0.3,2.1 0.3-0.5 0.3-3.8 0.3,5.2 0.3-4.7 0.3,2.4 0.3-3.3 0.3,5.7 0.3-5.9 0.3,3.5 0.3,1.5 0.3,0.6 0.3,3.8 0.3-8.8 0.3,5.2 0.3-5.8 0.3-3.4 0.3,11.7 0.3-5.6 0.3,3 0.3-2.4 0.3-1 0.3,5 0.3-6.7 0.3,3.6 0.3-5.4 0.3,4.8 0.3-0.5 0.3,0.5 0.3-8.3 0.3,9.8 0.3,5.6 0.3-9.8 0.3,2.6 0.3-2.3 0.3-1 0.3-0.9 0.3,3.7 0.3-0.6 0.3-1.9 0.3-0.8 0.3,8.2 0.3-9.7 0.3,8.9 0.3-3.9 0.3-2.8 0.3,5 0.3,0 0.3-6 0.3,0.1 0.3,8.6 0.3-4 0.3-1.3 0.3-3.1 0.3,3.1 0.3-1.5 0.3,1.4 0.3-1 0.3-5.4 0.3,5.8 0.3,0.5 0.3,5.9 0.3-1.3 0.3,1 0.3-3.9 0.3,0.8 0.3,1.3 0.3-4.2 0.3,6.6 0.3-5.1 0.3,1.1 0.3,2 0.3,0.2 0.3-1.1 0.3-3.8 0.3-0.4 0.3,7.2 0.3-4.6 0.3,2.2 0.3-4.8 0.3-0.8 0.3,1.1 0.3,1 0.3-0.4 0.3,7.1 0.3-6.4 0.3,0.4 0.3,1.4 0.3,1.7 0.3,1.4 0.3-1.1 0.3-0.6 0.3,6 0.3-7.4 0.3-0.9 0.3-4.1 0.3,0 0.3,3.3 0.3,1.2 0.3,0.2 0.3-2.5 0.3-0.5 0.3,7.7 0.3-6.8 0.3,3.6 0.3-1.3 0.3,1 0.3-2.1 0.3,4.1" fill="none" stroke="#0000a0" stroke-width="6.0" stroke-linejoin="round" stroke-linecap="butt"/>
<line x1="232.5" y1="1014.5" x2="232.5" y2="956.1" stroke="#0000a0" stroke-width="6"/>
<line x1="1223.9" y1="1014.5" x2="1223.9" y2="986.7" stroke="#0000a0" stroke-width="6"/>
<path d="M160.6,1057.4l0.3,5.4 0.3,1.9 0.3,4.3 0.3-8.4 0.3-5.3 0.3,3.9 0.3-1.6 0.3-1.7 0.3,6.1 0.3-11.5 0.3,11.4 0.3-4.1 0.3-7.8 0.3,9.2 0.3-0.8 0.3,2 0.3-2.8 0.3,8 0.3-4.9 0.3-7.7 0.3,4.8 0.3,1.4 0.3-2.1 0.3-0.1 0.3,0.8 0.3-1.5 0.3,7.3 0.3-7.4 0.3,4.1 0.3-4.9 0.3,2.6 0.3,3.2 0.3-3.1 0.3,3 0.3-6.6 0.3,3.3 0.3-2.9 0.3,6.4 0.3-9 0.3,6.2 0.3-5.5 0.3,1.7 0.3,6.3 0.3-4.7 0.3,2.8 0.3-3.1 0.3-3.4 0.3,2.4 0.3-1.3 0.3,7.3 0.3-4.5 0.3-0.6 0.3-2.4 0.3,5.6 0.3-4 0.3,0.4 0.3,6.4 0.3-1.6 0.3-4.9 0.3,5.3 0.3,0.1 0.3-7 0.3,2 0.3,1.7 0.3-1.2 0.3,1.7 0.3,0.4 0.3-0.3 0.3-2.8 0.3-3.1 0.3,5.9 0.3-1.4 0.3,0.5 0.3,3.4 0.3-5 0.3-2.1 0.3,5.7 0.3-5.6 0.3,4.6 0.3-5.7 0.3-0.2 0.3,5.2 0.3,5.4 0.3-5.5 0.3,3.4 0.3-0.3 0.3-3.5 0.3-5.3 0.3,4.8 0.3,0.4 0.3,5.3 0.3-4.1 0.3,2.6 0.3-6.3 0.3,3.4 0.3-1.6 0.3-0.1 0.3,0.6 0.3-3.8 0.3,1.5 0.3,2.7 0.3-1.6 0.3-1.3 0.3-2.7 0.3,4 0.3-4.3 0.3,6.7 0.3-1.2 0.3,4.2 0.3-7.7 0.3,6.2 0.3-0.1 0.3-6.1 0.3,4.5 0.3,0.7 0.3-5.6 0.3,3.7 0.3-3.6 0.3,4.4 0.3-3.8 0.3-1.1 0.3,3.3 0.3-5.7 0.3,7.3 0.3-0.6 0.3-1 0.3-3 0.3,4.3 0.3,0.5 0.3-2.3 0.3-3.3 0.3,5.6 0.3,2.8 0.3-3.7 0.3-2.5 0.3,3.9 0.3-2.2 0.3,6.6 0.3-6.2 0.3-0.2 0.3-1.7 0.3,1 0.3-1.5 0.3,5.9 0.3-5.4 0.3,7.6 0.3-3.4 0.3-5.6 0.3,0.9 0.3,9 0.3-8 0.3,3.4 0.3,1.2 0.3-3.2 0.3,0.3 0.3-4.2 0.3,9.4 0.3-3.3 0.3-0.9 0.3,5.7 0.3-9.9 0.3-1.9 0.3,7.9 0.3-3.2 0.3,2.1 0.3-1.7 0.3,3.2 0.3-4.9 0.3,6.6 0.3-8.3 0.3,3.4 0.3-6.7 0.3,13.4 0.3-5.1 0.3,4 0.3-3.7 0.3-1.8 0.3,4.4 0.3,1.8 0.3,1 0.3-6.3 0.3-3.4 0.3,0.3 0.3,3.8 0.3,3.3 0.3-1.9 0.3,3.8 0.3,0.3 0.3-8.6 0.3,4.4 0.3-1.9 0.3,2 0.3-5.2 0.3-0.3 0.3,7.3 0.3-1.3 0.3,1 0.3-6.4 0.3,0.3 0.3,5 0.3-8.4 0.3,7.5 0.3,4 0.3,2.7 0.3-6.1 0.3-1.5 0.3,3 0.3-3 0.3-2.7 0.3,4.1 0.3-2.9 0.3-2.6 0.3,3.8 0.3,3.5 0.3-3.3 0.3-0.3 0.3-5.2 0.3,8.4 0.3,3.7 0.3-6 0.3-0.1 0.3,2.4 0.3-3.2 0.3,0.8 0.3-2.8 0.3,6.6 0.3-0.4 0.3-2.2 0.3,1.5 0.3-5.7 0.3,2.2 0.3,1.9 0.3-5 0.3,3.3 0.3-1.7 0.3,0.6 0.3,3.1 0.3-0.1 0.3-0.5 0.3,3.5 0.3-2.4 0.3-4 0.3,1.7 0.3,4 0.3-10.8 0.3,11 0.3-5.5 0.4-0.4 0.3-1.9 0.3,6.9 0.3-3 0.3,0.6 0.3-4.4 0.3,2.3 0.3-0.2 0.3-0.5 0.3-4.8 0.3,4.1 0.3-0.8 0.3,5.8 0.3-5.4 0.3,6.2 0.3-7.3 0.3,2.5 0.3,3.2 0.3,0.8 0.3-3.6 0.3-0.9 0.3,2.1 0.3-0.9 0.3-0.2 0.3,0.6 0.3-1.3 0.3-1.6 0.3-3.6 0.3,2.1 0.3,3.8 0.3-7.4 0.3,1.3 0.3,4.6 0.3-4.4 0.3,5 0.3,0.6 0.3-0.2 0.3-8 0.3,4.8 0.3-0.7 0.3,0.6 0.3,1.4 0.3-3.1 0.3-0.8 0.3-4.4 0.3,9.2 0.3-8.1 0.3,2.8 0.3,7.9 0.3-9.2 0.3-2.3 0.3,1.6 0.3,2.7 0.3,0.2 0.3,7 0.3-7.8 0.3,0.3 0.3,3.6 0.3-3.9 0.3,2.8 0.3-9.9 0.3,11.6 0.3-1.2 0.3,4.2 0.3-6 0.3-1.9 0.3,0.3 0.3,2.1 0.3-5.2 0.3,2.1 0.3-3.3 0.3,4.3 0.3,5.5 0.3-5.5 0.3,2.9 0.3-6.3 0.3,4.8 0.3-1.3 0.3-0.8 0.3,5.1 0.3-3.9 0.3-4.3 0.3,4.8 0.3-1.4 0.3-1.1 0.3,2.8 0.3-1.3 0.3-2.5 0.3,2.7 0.3-1.5 0.3,0.7 0.3,3 0.3,0.8 0.3-11.1 0.3,2 0.3,5.1 0.3-3.7 0.3-0.6 0.3,0.5 0.3,4.5 0.3,3.6 0.3-0.6 0.3-3.5 0.3-5.4 0.3-0.8 0.3,6.1 0.3,0.3 0.3-5.3 0.3-2.9 0.3,10.1 0.3-4.7 0.3,1 0.3,1.6 0.3,0 0.3,0 0.3-1.1 0.3,5.2 0.3-5.3 0.3-2.7 0.3,0.1 0.3-0.1 0.3,1.5 0.3,0.5 0.3-6 0.3,7.2 0.3-1.2 0.3-3.7 0.3,4.1 0.3,4.5 0.3-2.5 0.3-0.5 0.3-0.9 0.3,1 0.3-4.9 0.3,0.9 0.3,0.7 0.3,3 0.3-4.8 0.3,0.1 0.3-4.1 0.3,9.5 0.3-1.8 0.3-5.1 0.3,8.4 0.3-4.6 0.3,0.1 0.3,0.6 0.3,3.4 0.3-3.4 0.3,5.2 0.3-9.1 0.3,5.7 0.3-2.2 0.3,0.5 0.3-0.7 0.3,0.2 0.3-1 0.3,2.7 0.3-1.4 0.3,3.9 0.3-0.3 0.3-0.6 0.3,0.5 0.3,1.2 0.3-2.5 0.3-4.3 0.3,0.7 0.3,2.8 0.3-2.5 0.3-0.2 0.3-7.9 0.3,14.5 0.3-6.3 0.3,5.3 0.3-8.8 0.3,5 0.3-2.3 0.3,0.8 0.3-1.7 0.3,12.3 0.3-6.1 0.3-4.2 0.3,4.8 0.3-6.5 0.3-2.3 0.3,8.6 0.3-3 0.3-3.7 0.3-4 0.3,2.7 0.3,0.9 0.3,5.4 0.3-3.1 0.3-0.4 0.3,2.5 0.3-3.5 0.3,2.4 0.3,0.4 0.3-8.8 0.3,7.8 0.3-7 0.3,7.6 0.3-1.1 0.3,4 0.3-2.4 0.3-7.4 0.3,5.3 0.3,6.9 0.3-11.8 0.3,7.9 0.3-1.7 0.3-1.3 0.3,6.2 0.3-11.8 0.3,0.8 0.3,5.5 0.3-2.4 0.3,2.1 0.3,1 0.3-1.3 0.3,4.1 0.3-3.6 0.3,0.4 0.3-8.6 0.3,11.6 0.3-9.5 0.3,1.8 0.3,1.9 0.3,2.5 0.3-8.4 0.3,1.1 0.3,5.1 0.3,0.4 0.3-1.4 0.3-5.7 0.3,9.3 0.3-3.5 0.3-3.7 0.3,8.6 0.3-4.6 0.3-4.3 0.3,5.3 0.3-1.2 0.3,4.9 0.3-6.8 0.3,5.3 0.3-2.8 0.3-2.7 0.3,3 0.3-5 0.3,0.4 0.3,0.7 0.3-1.8 0.3,3.8 0.3,6.9 0.3-10.7 0.3,0.2 0.3,4.3 0.3,1.2 0.3-7.1 0.3,5.6 0.3-0.5 0.3,0.2 0.3-9.9 0.3,10.6 0.3,6.5 0.3-8.8 0.3,3.2 0.3,2.4 0.3-6.6 0.3,2.2 0.3-5 0.3,4.1 0.3-5.4 0.3,0.6 0.3,3.2 0.3-2.7 0.3-3.8 0.3,3.8 0.3,7.4 0.3-5.5 0.3-0.5 0.3-3.8 0.3,4.7 0.3-4.6 0.3,4.3 0.3-0.7 0.3,0.8 0.3-1 0.3,0.4 0.3-1.8 0.3,3.7 0.3,0.9 0.3-3.6 0.3-0.9 0.3,1.8 0.3-3 0.3,0 0.3-4.9 0.3,11 0.3-12.4 0.3,15.2 0.3-2.1 0.3-7.4 0.3,4.2 0.3-2.5 0.3,0.4 0.3,2.9 0.3,0 0.3-3.7 0.3-2.8 0.3-1.1 0.3,1.4 0.3,1.6 0.3-5.7 0.3,12 0.3-8.2 0.3-4.7 0.3-1.4 0.3,1.3 0.3-0.8 0.3,0.9 0.3,3 0.3,8.4 0.3-6.5 0.3-1.1 0.3-6.9 0.3,7 0.3-0.5 0.3-3.9 0.3,5.7 0.3-3.9 0.3-2.1 0.3,2.9 0.3-1.2 0.3,6.1 0.3-2.2 0.3-3.9 0.3-5.3 0.3,6 0.3,1.1 0.3-0.7 0.3-5.6 0.3,7.4 0.3-6.2 0.3,1.7 0.3-1.9 0.3,2.8 0.3-3.4 0.3-5 0.3,5.8 0.3,0.4 0.3,7.5 0.3-11.7 0.3,3.9 0.3-4.2 0.3,0.7 0.3,3 0.3-0.9 0.3,2.3 0.3-12.9 0.3,3.7 0.3,0 0.3-1.8 0.3-1.1 0.3,1.6 0.3-1 0.3-5.9 0.3,15.6 0.3-7.7 0.3,2.7 0.3-3 0.3,9.5 0.3-5.9 0.3-7.6 0.3,7.5 0.3-7.3 0.3,4.9 0.3-2.9 0.3,4.7 0.3-3.8 0.3,3 0.3-8.3 0.3,8.5 0.3-8.5 0.3,3 0.3-1.9 0.3-6.6 0.3,6.1 0.3,1.1 0.3-2.9 0.3-3.1 0.3,4.4 0.3-9.2 0.3,5.6 0.3,1.7 0.3,0.7 0.3-2.4 0.3-3.2 0.3-2.3 0.3,3.4 0.3,2.3 0.3-2.6 0.3,7.8 0.3-13.2 0.3,0.7 0.3,3.7 0.3-3.9 0.3,6.3 0.3-11.6 0.3,7.3 0.3,0.7 0.3-10.7 0.3,11.7 0.3-6.1 0.3,4.6 0.3-1.7 0.3-1.4 0.3,0.7 0.3-8.7 0.3,1.1 0.3,6.3 0.3-12.4 0.3,9.4 0.3,0.1 0.3-2.8 0.3,5.4 0.3-10.1 0.3,8.8 0.3,1 0.3-10 0.3,7.7 0.3-3.2 0.3,3.5 0.3-3.6 0.3-2.8 0.3,9.9 0.3-10.1 0.3,2.5 0.3-9.7 0.3-3.2 0.3,5.7 0.3-0.9 0.3-2.5 0.3-0.7 0.3,9.9 0.3-1.1 0.3-4.2 0.3,3.2 0.3-5.2 0.3-2.5 0.3,3.1 0.3-6.2 0.3-4.9 0.3,5.2 0.3-2.5 0.3,1.2 0.3-0.6 0.3,1.1 0.3,1.8 0.3-8.2 0.3-3.1 0.3,4.1 0.3-1.5 0.3,5.5 0.3-5.8 0.3-3.2 0.3,0.9 0.3-1.6 0.3,3.8 0.3,0.4 0.3-5.4 0.3-8.6 0.3,7.4 0.3,4.1 0.3-4.7 0.3-2.9 0.3-7.3 0.3-0.3 0.3,7.5 0.3,0 0.3-4.4 0.3-2 0.3,3.5 0.3-9.9 0.3,5.4 0.3-4.2 0.3,1.1 0.3-4.3 0.3,1.9 0.3-2.7 0.3-5.6 0.3,3.6 0.3-6.6 0.3,11.6 0.3-6 0.3,3 0.3,0.7 0.3-7.4 0.3-10.1 0.3,6.8 0.3-4.5 0.3,12.8 0.3-11.1 0.3,5.7 0.3-7.5 0.3-4.7 0.3,6.4 0.3-8.4 0.3,8.2 0.3-5.1 0.3,2.8 0.3-4.3 0.3,0.5 0.3,9.1 0.3-9.7 0.3,0 0.3-11.3 0.3,19.6 0.3-13.3 0.3-4.3 0.3-6 0.3,2.2 0.3,5.9 0.3-8 0.3,7 0.3-0.4 0.3,0.1 0.3-0.6 0.3-10.1 0.3,15 0.3-1.1 0.3-13.2 0.3,1.7 0.3-2.7 0.3,4.8 0.3-5.3 0.3,3.8 0.3,0.5 0.3-1.1 0.3-3.7 0.3-0.5 0.3,1.5 0.3-10.9 0.3,4.8 0.3,3.2 0.3,4 0.3-7.3 0.3,7 0.3-4.7 0.3,0.3 0.3-2.3 0.3-6.4 0.3,16.6 0.3-25.2 0.3,4.2 0.3,3.6 0.3-0.2 0.3-8 0.3,3.3 0.3-10.8 0.3,8.8 0.3,3 0.3,1.5 0.3-8.1 0.3-7.1 0.3,10.8 0.3-14.3 0.3,1.1 0.3,5 0.3-9.6 0.3,15 0.3,1.3 0.3-14.3 0.3-1.9 0.3-0.9 0.3,1.1 0.3,6.6 0.3-12 0.3,3.8 0.3-7.9 0.3,2.5 0.3,6.4 0.3-10.8 0.3-2.2 0.3-1.1 0.3,7.1 0.3,0.7 0.3-11.3 0.3,3.6 0.3-0.8 0.3-7.4 0.3-1.4 0.3,1.9 0.3,2.9 0.3-10.9 0.3,13.1 0.3-6.9 0.3-3 0.3,8.4 0.3-4.9 0.3-10.2 0.3,4.3 0.3,4.4 0.3-16.8 0.3,7.2 0.3-0.7 0.3-11.1 0.3,17.8 0.3-6.6 0.3,1 0.3-14.2 0.3,11.1 0.3-19.7 0.3,9.7 0.3-0.3 0.3-5.2 0.3,5.7 0.3,2.8 0.3-3.1 0.3-5 0.3,4.7 0.3-7.9 0.3,3.3 0.3-3.8 0.3-2 0.3-11.2 0.3-5.6 0.3,1.3 0.3,10.5 0.3,2 0.3-11.8 0.3-2.9 0.3,1.1 0.3,8.1 0.3-6.6 0.3,2.4 0.3-9 0.3-0.4 0.3,3.3 0.3,2.9 0.3-14.2 0.3,8.6 0.3-4.8 0.3,0.7 0.3-2.2 0.3-3.2 0.3,8.5 0.3-0.1 0.3-7.2 0.3,23 0.3-20 0.3,2 0.3-7.9 0.3,2 0.3,3 0.3,6 0.3-6.2 0.3,1.1 0.3-2.1 0.3-0.5 0.3,6.4 0.3-6.9 0.3,7.4 0.3-4.7 0.3,1.9 0.3-4.6 0.3,9.1 0.3-8.2 0.3,13.6 0.3,4.9 0.3-7.4 0.3,13.4 0.3-7.7 0.3,2 0.3,3.4 0.3,0.8 0.3,3.5 0.3-4.2 0.3,10.6 0.3,13.1 0.3-7.1 0.3-4.8 0.3,1.4 0.3,4.1 0.3,6 0.3,7.7 0.3-12.1 0.3,14.4 0.3,5.1 0.3,9.6 0.3-22.7 0.3,12.8 0.3,12.3 0.3-13.4 0.3,2.9 0.3,14.9 0.3-11.9 0.3,6 0.3-1.9 0.3-2.1 0.3,11.6 0.3-12.7 0.3,14.3 0.3,4.4 0.3-8 0.3,11.8 0.3-0.1 0.3-4.6 0.3,11 0.3,4.3 0.3-7 0.3,3.4 0.3,4.8 0.3-6.2 0.3,13.1 0.3-8.4 0.3,11.4 0.3-6.2 0.3,10.7 0.3-7.9 0.3,5.5 0.3,3.7 0.3-0.7 0.3,2.9 0.3-3.2 0.3,9.4 0.3-3.9 0.3,5.5 0.3,3.2 0.3,1.1 0.3,4.6 0.3-5.6 0.3,2.7 0.3,0.2 0.3,11.2 0.3-4.4 0.3-8.2 0.3,2.8 0.3,7.9 0.3,0.6 0.3,0.4 0.3-3 0.3-0.7 0.3,6.9 0.3,1.4 0.3,2.5 0.3-0.5 0.3-5.7 0.3,12.8 0.3-5.1 0.3,9.7 0.3,0.9 0.3,4 0.3-3.9 0.3-8.5 0.3,0.4 0.3,5.2 0.3,5 0.3-3.8 0.3,11 0.3,2.9 0.3-1.2 0.3-1.8 0.3,8.6 0.3-3.5 0.3-10 0.3,9.8 0.3,2.1 0.3,2.3 0.3-4.9 0.3,1.5 0.3,3.7 0.3,2.3 0.3,9.9 0.3-1.9 0.3-3.6 0.3,1.8 0.3-0.1 0.3,1.6 0.3-8.9 0.3,3.8 0.3,10.6 0.3-7.1 0.3,2.4 0.3,2.6 0.3,1.7 0.3-1.8 0.3-5.7 0.3,11 0.3-0.9 0.3,0.5 0.3,7.3 0.3-6.5 0.3,4.2 0.3-4 0.3,0 0.3-5.2 0.3,9.1 0.3,0.8 0.3-3.6 0.3-4.7 0.3,8.1 0.3-0.7 0.3,0.3 0.3,0.8 0.3,4.8 0.3,1.7 0.3,0.2 0.3-0.7 0.3-2.2 0.3,5.4 0.3,0.2 0.3-2.6 0.3,1.2 0.3-0.3 0.3,6.1 0.3-12.1 0.3,9.1 0.3,0.8 0.3,3.1 0.3-4.7 0.3-1.6 0.3,4.9 0.3,0.9 0.3,1.3 0.3-9.2 0.3,7.1 0.3,4.7 0.3-1.7 0.3-2.9 0.3,4.2 0.3,0 0.3,1.1 0.3,2.1 0.3-2.3 0.3-3.6 0.3,5.1 0.3,3.6 0.3,2.6 0.3-2.3 0.3,2.4 0.3,1.7 0.3-5.2 0.3,1.8 0.3-2.4 0.3,2.8 0.3,3.8 0.3-4.5 0.3,2.5 0.3-3.3 0.3,9.4 0.3-1.9 0.3-1.2 0.3-5.1 0.3,4.5 0.3,6.4 0.3-0.5 0.3-4.9 0.3,8.1 0.3-2.8 0.3-1.6 0.3,1.2 0.3-2 0.3-1.5 0.3,2.3 0.3,6.1 0.3-9.1 0.3,1.3 0.3,7.2 0.3-1.4 0.3,3.9 0.3-9.6 0.3,7.1 0.3-2.9 0.3,0.1 0.3-2.5 0.3,4.5 0.3,1.9 0.3-3.1 0.3-1 0.3,5.7 0.3-1.4 0.3,5.5 0.3-10.2 0.3,7.6 0.3-5.5 0.3,0.6 0.3,0.6 0.3-0.3 0.3,6.4 0.3-3.3 0.3,3.5 0.3-1.8 0.3,2.4 0.3-10.8 0.3,7.8 0.3-2.5 0.3,6 0.3-8.4 0.3,6.8 0.3,0.5 0.3,0.6 0.3,4.6 0.3,1.9 0.3-7.6 0.3,4.7 0.3-2.7 0.3-7.6 0.3,8.2 0.3-7.9 0.3,6.2 0.3,5.1 0.3-5.6 0.3-1.7 0.3,1.4 0.3,5.3 0.3,1.6 0.3-6.6 0.3-3.3 0.3,0.7 0.3,7.5 0.3-0.2 0.3-1.6 0.3-2.7 0.3,2.5 0.3,0.2 0.3,1.7 0.3,9.4 0.3-4.7 0.3-4.5 0.3,6.1 0.3-12.3 0.3,10.1 0.3-4.9 0.3-0.7 0.3-0.5 0.3,8.2 0.3-3.2 0.3-5.6 0.3,5.2 0.3-2.4 0.3,11.5 0.3-9.5 0.3,1 0.3,1.2 0.3,5.9 0.3-3.3 0.3-1.4 0.3,0.6 0.3,2.7 0.3-7.2 0.3,0.7 0.3,4.6 0.3-5.9 0.3,9.2 0.3-4.9 0.3-4.3 0.3,3.9 0.3,2.6 0.3-1.9 0.3,2.3 0.3,1.6 0.3,1.1 0.3-2.5 0.3,0.8 0.3-1.4 0.3,4.1 0.3-3.5 0.3-2 0.3,5.4 0.3-7.1 0.3,8 0.3,0.2 0.3-0.1 0.3,2.2 0.3,1.4 0.3-1.1 0.3-2.9 0.3,2.2 0.3-7.5 0.3,5.8 0.3,0.9 0.3,0.8 0.3-3.3 0.3,1.4 0.3-0.6 0.3-1.5 0.3-2.1 0.3,8.2 0.3-5.1 0.3,2.3 0.3-0.6 0.3,3 0.3-3.8 0.3,0.2 0.3,1 0.3,3.9 0.3-4.6 0.3,5.5 0.3,2.1 0.3-7.4 0.3,3.2 0.3,4.9 0.3-2.7 0.3-2.2 0.3-2.9 0.3,4.1 0.3,2 0.3,1 0.3,1.1 0.3-3.8 0.3,2.3 0.3-4.3 0.3,4.4 0.3-5.5 0.3,4.3 0.3-0.6 0.3,0.6 0.3,0.3 0.3-5.5 0.3,7.6 0.3-0.5 0.3-0.7 0.3-2.7 0.3,5.4 0.3-7.6 0.3,7.8 0.3-1.1 0.3-1.9 0.3-0.1 0.3,3.6 0.3-5.6 0.3-2.8 0.3,6 0.3-2.3 0.3,0.1 0.3-5.6 0.3,7.5 0.3-0.6 0.3,2.4 0.3-1.9 0.3,2.1 0.3,0.4 0.3-0.3 0.3-3.4 0.3,3.9 0.3-3.5 0.3,3.2 0.3-4 0.3,7.5 0.3-0.1 0.3-5.3 0.3-2.7 0.3,6.2 0.3,5.2 0.3-9.9 0.3,2.1 0.3,3.8 0.3-6.5 0.3,0.2 0.3,6.2 0.3-0.6 0.3-3.2 0.3,0.1 0.3-2.1 0.3,2.8 0.3-4.4 0.3,7.3 0.3,1.7 0.3-0.7 0.3,0.5 0.3-1.9 0.3,2.3 0.3-4.9 0.3-1.2 0.3-1.3 0.3,6.7 0.3,2.5 0.3-2.7 0.3-1.2 0.3,1.7 0.3-2.8 0.3,0 0.3,0.5 0.3,3.8 0.3-5.1 0.3,5.3 0.3,4.9 0.3-6.8 0.3-4 0.3,3.8 0.3,5.1 0.3-3.8 0.3-4.5 0.3,3.2 0.3,0.9 0.3,3.5 0.3-3.5 0.3,2 0.3-6.6 0.3,3.7 0.3-1.5 0.3,7.5 0.3-4.8 0.3-2.5 0.3-2.6 0.3,1.3 0.3,6.4 0.3-11.2 0.3,9.4 0.3,0.4 0.3,0.2 0.3,2.4 0.3-2.2 0.3,1.1 0.3-0.6 0.3,0.7 0.3-1.2 0.3-2.8 0.3,4.3 0.3,1.5 0.3-5.2 0.3,1.9 0.3-2.1 0.3,4.9 0.3-2.3 0.3,2.2 0.3,1.6 0.3-2.4 0.3-1 0.3-1.2 0.3,4.5 0.3-5.7 0.3-0.9 0.3,2.3 0.3,2.4 0.3,1.3 0.3-5.4 0.3,5.5 0.3-6.2 0.3,9.4 0.3,0.4 0.3-7 0.3,5.2 0.3-6.7 0.3,4.4 0.3,0.3 0.3-2.4 0.3-2.2 0.3,0.8 0.3,3.1 0.3,0.5 0.3-3.3 0.3,4.7 0.3,0.6 0.3-0.1 0.3-12.3 0.3,5.3 0.3,2.9 0.3,2.5 0.3-2.6 0.3,6.5 0.3-4 0.3-3.5 0.3,2.2 0.3,4 0.3-3.2 0.3,0.4 0.3-4.6 0.3,1.6 0.3,2 0.3-6 0.3,7.9 0.3-4.9 0.3,2 0.3,1.7 0.3,1.2 0.3-3.1 0.3-2.9 0.3,9.3 0.3-5.1 0.3-2.5 0.3,5.1 0.3-0.2 0.3-6.4 0.3,5 0.3,0.4 0.3-2.5 0.3,0.4 0.3-0.8 0.3-0.1 0.3-2.6 0.3,3.2 0.3-1.6 0.3,5 0.3-3 0.3,2.2 0.3-5.9 0.3,3.4 0.3-2.7 0.3,4.2 0.3,2.1 0.3-5.1 0.3,2.8 0.3,3.9 0.3-3.5 0.3,1.4 0.3-6.5 0.3,4.4 0.3-2.3 0.3,0.5 0.3-2.1 0.3,2.2 0.3-0.2 0.3,0.3 0.3,5.2 0.3-4 0.3,3.6 0.3,0 0.3-3.7 0.3,5.5 0.3-4.5 0.3-3.6 0.3,3.2 0.3-2.4 0.3,5.4 0.3-3 0.3,7.7 0.3-4.4 0.3-1.3 0.3-7.3 0.3-0.7 0.3,11.7 0.3-4.6 0.3,1 0.3-7 0.3,2.1 0.3,3.6 0.3-3.5 0.3-1.2 0.3,5.5 0.3-5 0.3,1.2 0.3-0.6 0.3,7.3 0.3-4.9 0.3,6.8 0.3-8 0.3,3.2 0.3-6.4 0.3-0.4 0.3,9.4 0.3-9.8 0.3,6 0.3-4.4 0.3,2.5 0.3,1.4 0.3-0.4 0.3,0.7 0.3-5.8 0.3,4 0.3,3.3 0.3-5.1 0.3,3.4 0.3-3.1 0.3,3.9 0.3-3.5 0.3,3.8 0.3-0.4 0.3-3.5 0.3-1.7 0.3,2 0.3,0.7 0.3-8.3 0.3,8.3 0.3,7.4 0.3-9.7 0.3,3.5 0.3,2.7 0.3-7.8 0.3,0.6 0.3,3.6 0.3,0.3 0.3-1.5 0.3-3.3 0.3,5.9 0.3-7 0.3,3.2 0.3-0.6 0.3-3.6 0.3,5.5 0.3-2.9 0.3,1.8 0.3,9.2 0.3-8.7 0.3-0.7 0.3,0.6 0.3-4.4 0.3,5.3 0.3-3.2 0.3,0.4 0.3-0.4 0.3,6.6 0.3-4 0.3,0 0.3-6.5 0.3,5.9 0.3-3.1 0.3,1.1 0.3,5 0.3-0.9 0.3-4.4 0.3-1.6 0.3-2.7 0.3,5.6 0.3,3 0.3-3.8 0.3,3.9 0.3-8.7 0.3,5.2 0.3-1 0.3-6.1 0.3,4.3 0.3,5.2 0.3-5.6 0.3,3.4 0.3,1.7 0.3-1.4 0.3,1.6 0.3-6.3 0.3,4.2 0.3-1.6 0.3-4.7 0.3,3.7 0.3,0.7 0.3-2.2 0.3,2 0.3-2.2 0.3,0.7 0.3-3.7 0.3,3.7 0.3,1.4 0.3-1.8 0.3,5.5 0.3-6.7 0.3-3.3 0.3-3.9 0.3,4.8 0.3-3.1 0.3,9.7 0.3-10.6 0.3,2.7 0.3-2.8 0.3,5.2 0.3-3.3 0.3,0.5 0.3,1.7 0.3-1.4 0.3-5.5 0.3,9.4 0.3-4.2 0.3-3 0.3-3.5 0.3,7.8 0.3,0.4 0.3,1.8 0.3-8 0.3,1.1 0.3-0.9 0.3-0.3 0.3,5.1 0.3-10 0.3,0 0.3,7 0.3-2.5 0.3,0.3 0.3-1.2 0.3-9.4 0.3,2.3 0.3,6.2 0.3-11.1 0.3,4.5 0.3,0.3 0.3,2.7 0.3-1 0.3-2.9 0.3-11.4 0.3,12.7 0.3-2.1 0.3-6.7 0.3,1.4 0.3,2.4 0.3-13.6 0.3,9.4 0.3,0.2 0.3-2.5 0.3-3.8 0.3-1.5 0.3-2.1 0.3,1.5 0.3,1.7 0.3-7.7 0.3,5 0.3,0.6 0.3-5.6 0.3-2.5 0.3,5.4 0.3-0.7 0.3-1.8 0.3,1.4 0.3-2.1 0.3-5 0.3-0.2 0.3,11 0.3-15.5 0.3-0.2 0.3,8.9 0.3-10.3 0.3,10.2 0.3-11.1 0.3,7.2 0.3-4.4 0.3,0.8 0.3-1.8 0.3,7.3 0.3-11.1 0.3,2.9 0.3,2.2 0.3-4.2 0.3,5.2 0.3-8 0.3,2.7 0.3-2.3 0.3,10.9 0.3-3.4 0.3,8.3 0.3-7.5 0.3,4.2 0.3,0.7 0.3-6.1 0.3,4.3 0.3-4.1 0.3,8.9 0.3-0.7 0.3-3.5 0.3,10.2 0.3-3.7 0.3-3.4 0.3,7.8 0.3-8.3 0.3,6 0.3-6.2 0.3,6.1 0.3-7.7 0.3,12.5 0.3-10.5 0.3,10.6 0.3-10.4 0.3,5.8 0.3,7.3 0.3-9.1 0.3,4.7 0.3-1 0.3-0.2 0.3-2.9 0.3,4.8 0.3-3.4 0.3,6.3 0.3-1.5 0.3-3.5 0.3-2.6 0.3,4.8 0.3,1.3 0.3-2.3 0.3-0.2 0.3,5.6 0.3-14 0.3,12.7 0.3,3.4 0.3-4.3 0.3-1.4 0.3,2 0.3,2.3 0.3-1.8 0.3-1.8 0.3,4.5 0.3,1.2 0.3-3.5 0.3,0.3 0.3,5 0.3-12.6 0.3,5.4 0.3-2.2 0.3,2.5 0.3,9.3 0.3-12.3 0.3,13.5 0.3-2.1 0.3-4.1 0.3,3.6 0.3-4.4 0.3-0.4 0.3,3.9 0.3-6.1 0.3,11.9 0.3-7 0.3-0.4 0.3-3.9 0.3,4.1 0.3,9.2 0.3-7.4 0.3,3.7 0.3-1.5 0.3-0.9 0.3-2.1 0.3,6.2 0.3-3 0.3-1.7 0.3,1.1 0.3,0.2 0.3,8.8 0.3-6.6 0.3-2 0.3,5.5 0.3-2.6 0.3,3 0.3-3.4 0.3,1.6 0.3,4.3 0.3-4.6 0.3,0.5 0.3,6.3 0.3-3.4 0.3,0.5 0.3,3.4 0.3-7.7 0.3,6.3 0.3-2.5 0.3,7.7 0.3-6.4 0.3,4.2 0.3-5.6 0.3,2.4 0.3-3.9 0.3-2.3 0.3,11.8 0.3-6.1 0.3,1.1 0.3,1.5 0.3,1.1 0.3-2.3 0.3-2.1 0.3-0.1 0.3-1.4 0.3,3.9 0.3-3.4 0.3,1.2 0.3-1.1 0.3,0.3 0.3,1.3 0.4-0.8 0.3,5.5 0.3,4.7 0.3-2.5 0.3-5.5 0.3,1.6 0.3,1.9 0.3-6 0.3,2.1 0.3-2.9 0.3,9.3 0.3-1.9 0.3-3 0.3-1.5 0.3-1.6 0.3,3.7 0.3-3.8 0.3,1 0.3,3.7 0.3-4 0.3,3.4 0.3-0.1 0.3,5.3 0.3-0.7 0.3-0.1 0.3-3.3 0.3,5 0.3,2.3 0.3-5.3 0.3-8.9 0.3,8.3 0.3,3.8 0.3-1.9 0.3-2.9 0.3-1.7 0.3,2.3 0.3-4.4 0.3,3.2 0.3,6 0.3-6.9 0.3,5.9 0.3-5.8 0.3,3.3 0.3,7.5 0.3-0.1 0.3-5.7 0.3-1.1 0.3-3.1 0.3,1.9 0.3-2.9 0.3,2.5 0.3,2.4 0.3,3.7 0.3-7.9 0.3,1.2 0.3,0.3 0.3,6 0.3-6 0.3,9.8 0.3-7.9 0.3,1.9 0.3,0.2 0.3,9.8 0.3-16.2 0.3,10.4 0.3-0.8 0.3-1.2 0.3,0.8 0.3,4.3 0.3-8.5 0.3,3.1 0.3-1.3 0.3,5.9 0.3-6.2 0.3,1.1 0.3-4.6 0.3,7 0.3,4.5 0.3-6.8 0.3-1 0.3-2.5 0.3,1.4 0.3,5.3 0.3-3 0.3,4 0.3-5.5 0.3-7 0.3,12.5 0.3,1.4 0.3,0 0.3-3.5 0.3-2.4 0.3,2.5 0.3,5.3 0.3-6.7 0.3-1.2 0.3-2.5 0.3,3 0.3,7.2 0.3-8.3 0.3,4.3 0.3,3.6 0.3-4.3 0.3-0.6 0.3-0.6 0.3,3.9 0.3-1.2 0.3-1.5 0.3-1 0.3-0.3 0.3,5.7 0.3-7.5 0.3,7.9 0.3-5.6 0.3,1.2 0.3,9.2 0.3-6.4 0.3-2.4 0.3-1.2 0.3,1.7 0.3-2.1 0.3,1.8 0.3,0.7 0.3-3.8 0.3-9.7 0.3,14 0.3-0.4 0.3-2.6 0.3,4.2 0.3-5.4 0.3,3 0.3-6.1 0.3,9.6 0.3-3.9 0.3,3.5 0.3-4.3 0.3,3.6 0.3,1.9 0.3-1.2 0.3-0.6 0.3-2.6 0.3,3.6 0.3-5.2 0.3,2.8 0.3,0 0.3,0.5 0.3-1.2 0.3-5.5 0.3,8.6 0.3-2.9 0.3-0.6 0.3-0.8 0.3,3.2 0.3,5.7 0.3-9.6 0.3,0.1 0.3-0.9 0.3,1.2 0.3,5.2 0.3-7.8 0.3,5.4 0.3-2.4 0.3-5.3 0.3,2.7 0.3,6.6 0.3-3 0.3-4.3 0.3,1.7 0.3,3.4 0.3,4 0.3-1.4 0.3-1.7 0.3-1.7 0.3-3.5 0.3,0.5 0.3,9.3 0.3-4 0.3,1.4 0.3-0.6 0.3-3.9 0.3,2 0.3,3.4 0.3-8.5 0.3,7.2 0.3,1.3 0.3-1.8 0.3-7.6 0.3,3.4 0.3,4.6 0.3-3 0.3,4 0.3-6.1 0.3,1.9 0.3,8.7 0.3-8.1 0.3-3.1 0.3,8.4 0.3-4.7 0.3,1.6 0.3-3 0.3,6.3 0.3-7.7 0.3,3.8 0.3-5.4 0.3,2 0.3,3.6 0.3,2.7 0.3-1.7 0.3-6.4 0.3,1.2 0.3,2 0.3-0.3 0.3,1.8 0.3,1.7 0.3-1.1 0.3,0.3 0.3,1.3 0.3-3.2 0.3-6 0.3,12.8 0.3-7.8 0.3,1.7 0.3,3.9 0.3-4.9 0.3-6 0.3,11.7 0.3-5 0.3,4.4 0.3-7.4 0.3,1.7 0.3,1.4 0.3,1 0.3-3.5 0.3-0.4 0.3,6.5 0.3,1.8 0.3-4.3 0.3-3.5 0.3,3.4 0.3-5.9 0.3,5.3 0.3,1.4 0.3-2.5 0.3,5.3 0.3-1.2 0.3-1.6 0.3,0.7 0.3-7.4 0.3,2.2 0.3,2.3 0.3,2.1 0.3-4.7 0.3-0.4 0.3,4.9 0.3,3.5 0.3-5.6 0.3,2 0.3,0.7 0.3-1.3 0.3-3.2 0.3,3.9 0.3-0.3 0.3,1.3 0.3,0.8 0.3,0.8 0.3-5.4 0.3,1.9 0.3,1.7 0.3-0.4 0.3-2.2 0.3-0.8 0.3,1.8 0.3-0.3 0.3-1 0.3,4.1 0.3,2.3 0.3-11.3 0.3,4.6 0.3-2.6 0.3,7.7 0.3-3.7 0.3-4 0.3-0.6 0.3,3.8 0.3-2.2 0.3,2.8 0.3,3.8 0.3,0.7 0.3,1.1 0.3-2.7 0.3-5.5 0.3,4.5 0.3-7.2 0.3,2.6 0.3,0.9 0.3,5.6 0.3-2.5 0.3-2.9 0.3,5.1 0.3-5.4 0.3-0.9 0.3,1.9 0.3,6.3 0.3-5.5 0.3,4.8 0.3-8.5 0.3,6.7 0.3-0.2 0.3-1.9 0.3,2 0.3-4.5 0.3,1.7 0.3-4.9 0.3,10.8 0.3-4.9 0.3-1 0.3,1.7 0.3,3.4 0.3,0 0.3-5.1 0.3,3.6 0.3,3.6 0.3-1.8 0.3-4.7 0.3-0.9 0.3,1.9 0.3-2.4 0.3,1.9 0.3-0.6 0.3,4.9 0.3-1.7 0.3-4.9 0.3,1.7 0.3-0.9 0.3-1.4 0.3,11 0.3-9.7 0.3-0.3 0.3,1.9 0.3-0.5 0.3,4.7 0.3-5.7 0.3,0.4 0.3,0.9 0.3-1.7 0.3-2.3 0.3,4.1 0.3,2 0.3-1.7 0.3-3.9 0.3,1.7 0.3,2.8 0.3-0.1 0.3-1.2 0.3,4.9 0.3-0.9 0.3-4.2 0.3,0.4 0.3,2.6 0.3-0.9 0.3,0.6 0.3-5 0.3,4.9 0.3-1.1 0.3,1.3 0.3,2.8 0.3,3.5 0.3-4.7 0.3-10.3 0.3,10.1 0.3-3.6 0.3,1.3 0.3-4 0.3,6.5 0.3,2.5 0.3,2.5 0.3-11.1 0.3,2 0.3,9.6 0.3-7.9 0.3,3.4 0.3-2.4 0.3,2.1 0.3-3.1 0.3-4.3 0.3,4.3 0.3-0.3 0.3,0.4 0.3,1.6 0.3,0.3 0.3-3.9 0.3-1.7 0.3,2.6 0.3,2.1 0.3-2 0.3-0.6 0.3,2.3 0.3,3 0.3-4.6 0.3,6.3 0.3-5.8 0.3,4.7 0.3,0.3 0.3-2.4 0.3,2.1 0.3-2.4 0.3-0.8 0.3,1.5 0.3-1.7 0.3-2.7 0.3,3.7 0.3,1.2 0.3-2.1 0.3,0.1 0.3,5.5 0.3-3.8 0.3,2.9 0.3-7.4 0.3,7.5 0.3-1.4 0.3-2 0.3,7.6 0.3-1.3 0.3-3.9 0.3-0.9 0.3,3.7 0.3-4.3 0.3-1.4 0.3,0 0.3-3.2 0.3,2.7 0.3,2.9 0.3-4.8 0.3,0.7 0.3,4.3 0.3,1.3 0.3-3.8 0.3,0.1 0.3-3.2 0.3,3.8 0.3-2.4 0.3-0.6 0.3,2.9 0.3-1.5 0.3,6.7 0.3-1.3 0.3-2.9 0.3,1.2 0.3-0.5 0.3-0.9 0.3,4.5 0.3-7.5 0.3,2.5 0.3-1 0.3,8.2 0.3-2.5 0.3,2.2 0.3-1.7 0.3-3.7 0.3-0.3 0.3-2.1 0.3,5.5 0.3-5.1 0.3,5.4 0.3-4.1 0.3-1.3 0.3,6.4 0.3-2.1 0.3-2.6 0.3-0.2 0.3,5.5 0.3,1.4 0.3-0.9 0.3-5.4 0.3-0.4 0.3,1.4 0.3-1.5 0.3,0.1 0.3,1.6 0.3-3.3 0.3,10.1 0.3-1.6 0.3-0.6 0.3-4.3 0.3,7.2 0.3-11.5 0.3,0.7 0.3-0.1 0.3,10.3 0.3-7 0.3,1.3 0.3-3.8 0.3,4.8 0.3-1.1 0.3,4.9 0.3-7 0.3-2 0.3,4.5 0.3,7.1 0.3-4.6 0.3,1.8 0.3-4.7 0.3,2 0.3-2.9 0.3,0.4 0.3,0.3 0.3-2.2 0.3,6.8 0.3-6.8 0.3,4.7 0.3,1.7 0.3-5.6 0.3,1 0.3-1.6 0.3-0.6 0.3,4.8 0.3-3.6 0.3,6.6 0.3-4.2 0.3,1.3 0.3,1.9 0.3,2.1 0.3-6 0.3,6.5 0.3-3.5 0.3-6.7 0.3,0.1 0.3,3.4 0.3,2.6 0.3-6 0.3,5.4 0.3-1.1 0.3-1.3 0.3,5.3 0.3,1.9 0.3,0.9 0.3-1.4 0.3-0.7 0.3-2.4 0.3-3.4 0.3,3.1 0.3,1.4 0.3-4.2 0.3,5.1 0.3-6.6 0.3,2.1 0.3-3 0.3,2.9 0.3,0.7 0.3-1.1 0.3,0.2 0.3-0.5 0.3,1.1 0.3-1.9 0.3,5 0.3-6.1 0.3,5.2 0.3-7.8 0.3,8.8 0.3-2.3 0.3-6.7 0.3,3.3 0.3,5.8 0.3-5.8 0.3,3.4 0.3,3 0.3-8 0.3,4.2 0.3-5.8 0.3,6.8 0.3-0.9 0.3-3 0.3,5.6 0.3-2 0.3,5.9 0.3-8.8 0.3-1.4 0.3,0.9 0.3,3 0.3,4 0.3-8.3 0.3,6.6 0.3-1.5 0.3-5.2 0.3,2.8 0.3-0.2 0.3-4.5 0.3,7.6 0.3-3.7 0.3,6.5 0.3-2.8 0.3-0.1 0.3-0.8 0.3,0.1 0.3,5.5 0.3-2.5 0.3-4.4 0.3,6 0.3-7.3 0.3-1 0.3,9 0.3-0.4 0.3-9.8 0.3,2.6 0.3,5.2 0.3-0.3 0.3-0.6 0.3-2 0.3,4.7 0.3-8.1 0.3,7 0.3-0.7 0.3-2.6 0.3-2.1 0.3,2.8 0.3-0.7 0.3-4.1 0.3,4.7 0.3,0.3 0.3-3.1 0.3,1 0.3,2.1 0.3,1.4 0.3-3.4 0.3,0.1 0.3-0.5 0.3,4 0.3,3 0.3-0.9 0.3-10.7 0.3,8.5 0.3,0.6 0.3-0.6 0.3,2.8 0.3-1.1 0.3-5.1 0.3-0.8 0.3,5.9 0.3-2.3 0.3,0.4 0.3-1.8 0.3,2.1 0.3-0.1 0.3,0.6 0.3,0.2 0.3,1.6 0.3-4 0.3-1.1 0.3,6.5 0.3-6.4 0.3,4.4 0.3-4.8 0.3,1.2 0.3,8.8 0.3-2.1 0.3-5.5 0.3-0.9 0.3,0.8 0.3,2.9 0.3-3.4 0.3,7.9 0.3-9.6 0.3,1.6 0.3,2.6 0.3-3.7 0.3,6.3 0.3-5.3 0.3-0.5 0.3,2.4 0.3-2.2 0.3,3 0.3-6.7 0.3,12.3 0.3-6.4 0.3-1.7 0.3-1.4 0.3-2.3 0.3,5.1 0.3,1.9 0.3-2.4 0.3,1.8 0.3-1.7 0.3,2 0.3,3.7 0.3-8.9 0.3,6.9 0.3-5.3 0.3-0.7 0.3,3.6 0.3-4.2 0.3,7.2 0.3-1.5 0.3-2.5 0.3-2.7 0.3,5.4 0.3,0.7 0.3-4.3 0.3-0.6 0.3,5.5 0.3-6.5 0.3-2.2 0.3,3 0.3-0.6 0.3-1.3 0.3,6.3 0.3-3.9 0.3,3.7 0.3-2.7 0.3,0.5 0.3,1.3 0.3,2.8 0.3-0.6 0.3,2.1 0.3-2.1 0.3-0.8 0.3-5.2 0.3,1.5 0.3,0.2 0.3,4.2 0.3-0.3 0.3-1.7 0.3-3.5 0.3,7.5 0.3-1.8 0.3-4 0.3,2 0.3-3.8 0.3,1.7 0.3,3.4 0.3-0.4 0.3,0.2 0.3-0.9 0.3-3.9 0.3,3.8 0.3,0.4 0.3-4.4 0.3,2.3 0.3-4.4 0.3,3.7 0.3,3 0.3-4.3 0.3,3.5 0.3-2.1 0.3,0.2 0.3-3.2 0.3,0.2 0.3,3.8 0.3-0.6 0.3,3.2 0.3-0.2 0.3-2.7 0.3-0.1 0.3,4.1 0.3-4.2 0.3,2.3 0.3-4 0.3,6.2 0.3-5.9 0.3,2.6 0.3,2.6 0.3-2.8 0.3,1.6 0.3,2.8 0.3,0.1 0.3-6.8 0.3,3 0.3-2.8 0.3-2.2 0.3,5.6 0.3,0.3 0.3,3.5 0.3-5.4 0.3,3.7 0.3,1.2 0.3-3.6 0.3-2.9 0.3,1.7 0.3,5.6 0.3-11 0.3,2.7 0.3,2.3 0.3-2.4 0.3,4.4 0.3-2.2 0.3-1.3 0.3,2.5 0.3-3.9 0.3,5.9 0.3-2.7 0.3,0.4 0.3,4.3 0.3-0.7 0.3,0.8 0.3-7.9 0.3,3.6 0.3,4.8 0.3-2.6 0.3,1.5 0.3-7 0.3,8.3 0.3-8.1 0.3,5.5 0.3-2.7 0.3,3.2 0.3,4.3 0.3-9.2 0.3,1.1 0.3,0.6 0.3-0.2 0.3-1.7 0.3,6.5 0.3-1.3 0.3-2.9 0.3,4.4 0.3-1.2 0.3,1.6 0.3-6.1 0.3,5.3 0.3-5.2 0.3,1.1 0.3,0.5 0.3,2.3 0.3-3.2 0.3,6.3 0.3-6.5 0.3,7.2 0.3-7.1 0.3,2.4 0.3,0.7 0.3-2.5 0.3,0.8 0.3,1.6 0.3-0.8 0.3,6.1 0.3-7.7 0.3,4.1 0.3-4.1 0.3,2.6 0.3-3.2 0.3,5 0.3,0.1 0.3-3.3 0.3,1.7 0.3,2 0.3-3.6 0.3,4.3 0.3-0.6 0.3-2.8 0.3,0.8 0.3,0.1 0.3-1 0.3,3.6 0.3-3.4 0.3,0.7 0.3-0.2 0.3,0.9 0.3,4.4 0.3-8 0.3,8.1 0.3-3.7 0.3-2 0.3-4.2 0.3,8.6 0.3-4.6 0.3,0.6 0.3-0.6 0.3,3.6 0.3-4.9 0.3,4.4 0.3-0.5 0.3-0.6 0.3-2.1 0.3,3.6 0.3-2.3 0.3,0.3 0.3,0.8 0.3,3.1 0.3-4 0.3-1.1 0.3,0.8 0.3-2.8 0.3,3.4 0.3-3.2 0.3,2.2 0.3,0.1 0.3-2.9 0.3,3.6 0.3,2 0.3-4.5 0.3,1.4 0.3,4 0.3-0.6 0.3-3.3 0.3-1.1 0.3,3.3 0.3-3.2 0.3,3.6 0.3-4.7 0.3,9.6 0.3-8.3 0.3,0.1 0.3,1.6 0.3,4 0.3-3.1 0.3,3.7 0.3-6.6 0.3,7.7 0.3-5.3 0.3,2.8 0.3,3.5 0.3-6 0.3-5 0.3,1.6 0.3,5.3 0.3-1.9 0.3-0.9 0.3-2.7 0.3,3.6 0.3-4.2 0.3,4.7 0.3-1.4 0.3,1 0.3,0.4 0.3-1 0.3,1 0.3-6.5 0.3,11.3 0.3-10.2 0.3,2.3 0.3,1.7 0.3-2.7 0.3,0.1 0.3,5.7 0.3,1.8 0.3-11.4 0.3,4.8 0.3,1.3 0.3-6.2 0.3,8.3 0.3,0.9 0.3-4.7 0.3,2.5 0.3,1.3 0.3,1.4 0.3-2.5 0.3,3.9 0.3-7.3 0.3,7.4 0.3-1.2 0.3-1.1 0.3,2.6 0.3-8.5 0.3,7.2 0.3-4.4 0.3,5.6 0.3-11.3 0.3,6.4 0.3-1.2 0.3,2.9 0.3-1.8 0.3,4.2 0.3-1.9 0.3-2 0.3,5.4 0.3-1.9 0.3-6.1 0.3,1.3 0.3,2.7 0.3-2.9 0.3,2.5 0.3-3.6 0.3,5.4 0.3,2.7 0.3-2.4 0.3-6.7 0.3,9.1 0.3-3.3 0.3-1 0.3,3.4 0.3-3.9 0.3,2.5 0.3-2.8 0.3,2.4 0.3-3.8 0.3,4.8 0.3,3.9 0.3-12 0.3,2 0.3,4.7 0.3-0.1 0.3,2 0.3-7.7 0.3,8.4 0.3-5.5 0.3,0.8 0.3,3.8 0.3-6.7 0.3,8.3 0.3-5.2 0.3,1.9 0.3-1.1 0.3,6.5 0.3-4.7 0.3-2.5 0.3,5.9 0.3-5.1 0.3-2.2 0.3,0.5 0.3,6.4 0.3-6.8 0.3,6.6 0.3-5.5 0.3,7.8 0.3-3.7 0.3,3.1 0.3-9.8 0.3,2.9 0.3,6 0.3-0.6 0.3-5.4 0.3,1.3 0.3,2 0.3-1 0.3-0.9 0.3,2.3 0.3,4 0.3-2.4 0.3-4.1 0.3-0.5 0.3-1 0.3,0.2 0.3,2.7 0.3,0.4 0.3-4.9 0.3,7.6 0.3-1.3 0.3-6.1 0.3,1.8 0.3,4.9 0.3,2.7 0.3-0.8 0.3-5.7 0.3,3.2 0.3-3.4 0.3,6.8 0.3-7.4 0.3,4.3 0.3-2.6 0.3-5.2 0.3,4.4 0.3-1.3 0.3,6 0.3-0.8 0.3,1.7 0.3-7.2 0.3,5.7 0.3-3.7 0.3-3.8 0.3,8.1 0.3-3.1 0.3,4.3 0.3-5.9 0.3,2 0.3-3.2 0.3,1.7 0.3-2.2 0.3,7.8 0.3-1.2 0.3-5.6 0.3,1.2 0.3,2 0.3,1.5 0.3-0.7 0.3,1.6 0.3-4.3 0.3,4.1 0.3-2.7 0.3,4.1 0.3-8 0.3,3.5 0.3,1.4 0.3,0.7 0.3,2.5 0.3-5.1 0.3-1.2 0.3-2.4 0.3,4.7 0.3,3.6 0.3-1.2 0.3-3.1 0.3,2.9 0.3,2.3 0.3-8.4 0.3,5.9 0.3-0.8 0.3-7 0.3,8.8 0.3-4.6 0.3-0.9 0.3,2.4 0.3,1.2 0.3,0.1 0.3-1.6 0.3,2.7 0.3-5.8 0.3-1.6 0.3,11.7 0.3-8.6 0.3,2.3 0.3-0.6 0.3-0.7 0.3,1.4 0.3-1.2 0.3,3.6 0.3-5.1 0.3-0.5 0.3,1.3 0.3-1.8 0.3,5 0.3-3.9 0.3-1.2 0.3,5.1 0.3-2.2 0.3,1.8 0.3,0.4 0.3-6.8 0.3,5 0.3,1.9 0.3-1.6 0.3-0.7 0.3-7.8 0.3,4.8 0.3,4.9 0.3-2.1 0.3,0.3 0.3,1.6 0.3-0.7 0.3,0.3 0.3-1.9 0.3-2 0.3,6.4 0.3-1.2 0.3-0.5 0.3-3.6 0.3,5.2 0.3-0.5 0.3-4.2 0.3,4.8 0.3,2.6 0.3-8 0.3,4 0.3-2.9 0.3,3.9 0.3,2.1 0.3,0.2 0.3-10.7 0.3,0.1 0.3,1.9 0.3-1.3 0.3,6.3 0.3-1.5 0.3,6.9 0.3-5.5 0.3-2.7 0.3,2.6 0.3-7.1 0.3,9.4 0.3-3.4 0.3,2.7 0.3-0.7 0.3,0.9 0.3-1.8 0.3,4.9 0.3-7.3 0.3,3 0.3,2 0.3,1.5 0.3-4.4 0.3,1.8 0.3-1.2 0.3,1.4 0.3-4.5 0.3-0.6 0.3,5.7 0.3-6.8 0.3,2.8 0.3,1.7 0.3-2 0.3,3.5 0.3-2.8 0.3,1.5 0.3-3.4 0.3,4.5 0.3-1.6 0.3-1.7 0.3-0.4 0.3,6.6 0.3-9.2 0.3,5.9 0.3,0.7 0.3-2.4 0.3,5.3 0.3-0.6 0.3-2.4 0.3,2.6 0.3-8.2 0.3,4.5 0.3-0.2 0.3-0.7 0.3-1.7 0.3,0.2 0.3,3.8 0.3-5.3 0.3,0.3 0.3-2.9 0.3,5.4 0.3,0.5 0.3,1.4 0.3,2.2 0.3-3 0.3,3.3 0.3-3.2 0.3-4.6 0.3,0.9 0.3-1.6 0.3,8.7 0.3-6.7 0.3,1.7 0.3,0.1 0.3-2 0.3,2.1 0.3,0.1 0.3,2.9 0.3-7.8 0.3,6.4 0.3-3.4 0.3,4.3 0.3,0.5 0.3-3.8 0.3,2.2 0.3-3.4 0.3,2.3 0.3-1.4 0.3-1.5 0.3,6.8 0.3-5.3 0.3,8 0.3-4.2 0.3-0.2 0.3,1.9 0.3-3.6 0.3,1.4 0.3,1.8 0.3-7.8 0.3,5.7 0.3-0.2 0.3,0.7 0.3-3.5 0.3,0.9 0.3,2.3 0.3-8.1 0.3,3.5 0.3,2.6 0.3,6.2 0.3-6.1 0.3,1.2 0.3,0.9 0.3,1.4 0.3-5.5 0.3-0.6 0.3,4.6 0.3,3 0.3-0.3 0.3-3.4 0.3,2.1 0.3-1.8 0.3-3.1 0.3,0.1 0.3,2.5 0.3,3.5 0.3-6 0.3,0.7 0.3,4 0.3-3.4 0.3-1.6 0.3-3.1 0.3,4.6 0.3-1.6 0.3,3 0.3-2.2 0.3,1 0.3-2.2 0.3,6 0.3-3.7 0.3,6.3 0.3-2.5 0.3-1.1 0.3,0.4 0.3-2.4 0.3-1.3 0.3-1.8 0.3,1.9 0.3,0 0.3,0 0.3-2.4 0.3,3.9 0.3-7.7 0.3,3.9 0.3,3.2 0.3,5.7 0.3-5 0.3-0.3 0.3-1.7 0.3,0 0.3-4.4 0.3,8.4 0.3-3 0.3-1.9 0.3-1.4 0.3,6.5 0.3-7.6 0.3,5.6 0.3,0.2 0.3-2.5 0.3-1.8 0.3,1.1 0.3-0.6 0.3,1.2 0.3-1.9 0.3,3.8 0.3-1.7 0.3-0.9 0.3,0.8 0.3-2 0.3,4.1 0.3-0.2 0.3-4.9 0.3,2.7 0.3-0.9 0.3-0.7 0.3-1.2 0.3,5.7 0.3-6.8 0.3,7.3 0.3-5.4 0.3,5.9 0.3-3.1 0.3,0 0.3-1.8 0.3-0.2 0.3,4.2 0.3-2.7 0.3,0.4 0.3-1.9 0.3,2.3 0.3,1 0.3-3 0.3-2.1 0.3,7.9 0.3-8.6 0.3,2.3 0.3-2.2 0.3,3.4 0.3,0.8 0.3-4.7 0.3,2.8 0.3,1 0.3-2 0.3-3.5 0.3-0.1 0.3-1.2 0.3,3.9 0.3,4.3 0.3-8.8 0.3,3.5 0.3,3.5 0.3-1.8 0.3-0.5 0.3,2 0.3-4.3 0.3-0.8 0.3-0.6 0.3-0.8 0.3,0.8 0.3,5.3 0.3-2.7 0.3-3.8 0.3,1.8 0.3-0.3 0.3,1.9 0.3-3.5 0.3,1.7 0.3-1.6 0.3-1.2 0.3-3.5 0.3,3 0.3,2.7 0.3,2.6 0.3-9.2 0.3,1.9 0.3,8.1 0.3-5.6 0.3-2.5 0.3,3.7 0.3-1.7 0.3,2.8 0.3-5.1 0.3,0.7 0.3,4.5 0.3-3.3 0.3,3.8 0.3-5.5 0.3,5.7 0.3-5.6 0.3,4.1 0.3,0.3 0.3-5.5 0.3,2.8 0.3,0 0.3,0.3 0.3,4 0.3-5.2 0.3,3.6 0.3-4.2 0.3-1.9 0.3,1.1 0.3,3.9 0.3,2.3 0.3-7.8 0.3,5.8 0.3-1.8 0.3,6.7 0.3-2.5 0.3-1.8 0.3,3.2 0.3-4 0.3,2.9 0.3-2 0.3,4.9 0.3-6.2 0.3-0.3 0.3,1.6 0.3,3.9 0.3,2.4 0.3-1.9 0.3-2.2 0.3,1.7 0.3-1.2 0.3-5.1 0.3,5.8 0.3,3.3 0.3-8.3 0.3,1.6 0.3-3.1 0.3,3.6 0.3,0.7 0.3-1.4 0.3,0.3 0.3-4.9 0.3,10 0.3-2.3 0.3,0 0.3,2.4 0.3-10.9 0.3,6.2 0.3-0.5 0.3-1.1 0.3,5.7 0.3-3.9 0.3-1.4 0.3,4.5 0.3-7.3 0.3,3.2 0.3-1.3 0.3,2.8 0.3,3.5 0.3,2.2 0.3-6.4 0.3,0.5 0.3-0.6 0.3,6.2 0.3-11.1 0.3,9.1 0.3,0.3 0.3-5.5 0.3,4.9 0.3-6 0.3,2.1 0.3,4.5 0.3,3.5 0.3-6.1 0.3-1.6 0.3,4.5 0.3-4.6 0.3,1.8 0.3,1" fill="none" stroke="#ff8000" stroke-width="6.0" stroke-linejoin="round" stroke-linecap="butt"/>
<line x1="160.6" y1="1108.2" x2="160.6" y2="1053.4" stroke="#ff8000" stroke-width="6"/>
<line x1="1152.0" y1="1108.2" x2="1152.0" y2="1075.6" stroke="#ff8000" stroke-width="6"/>
<g fill="none">
<line x1="77.07" y1="2498.00" x2="434.47" y2="2029.00" stroke="#cbcbcb" stroke-width="1.4" stroke-dasharray="3.2 1.9" stroke-linecap="butt"/>
<line x1="434.47" y1="2029.00" x2="434.47" y2="1506.00" stroke="#cbcbcb" stroke-width="1.4" stroke-dasharray="3.2 1.9" stroke-linecap="butt"/>
<line x1="106.55" y1="2498.00" x2="463.95" y2="2029.00" stroke="#cbcbcb" stroke-width="1.4" stroke-dasharray="3.2 1.9" stroke-linecap="butt"/>
<line x1="463.95" y1="2029.00" x2="463.95" y2="1506.00" stroke="#cbcbcb" stroke-width="1.4" stroke-dasharray="3.2 1.9" stroke-linecap="butt"/>
<line x1="165.49" y1="2498.00" x2="522.89" y2="2029.00" stroke="#cbcbcb" stroke-width="1.4" stroke-dasharray="3.2 1.9" stroke-linecap="butt"/>
<line x1="522.89" y1="2029.00" x2="522.89" y2="1506.00" stroke="#cbcbcb" stroke-width="1.4" stroke-dasharray="3.2 1.9" stroke-linecap="butt"/>
<line x1="194.97" y1="2498.00" x2="552.37" y2="2029.00" stroke="#cbcbcb" stroke-width="1.4" stroke-dasharray="3.2 1.9" stroke-linecap="butt"/>
<line x1="552.37" y1="2029.00" x2="552.37" y2="1506.00" stroke="#cbcbcb" stroke-width="1.4" stroke-dasharray="3.2 1.9" stroke-linecap="butt"/>
<line x1="224.44" y1="2498.00" x2="581.84" y2="2029.00" stroke="#cbcbcb" stroke-width="1.4" stroke-dasharray="3.2 1.9" stroke-linecap="butt"/>
<line x1="581.84" y1="2029.00" x2="581.84" y2="1506.00" stroke="#cbcbcb" stroke-width="1.4" stroke-dasharray="3.2 1.9" stroke-linecap="butt"/>
<line x1="253.92" y1="2498.00" x2="611.32" y2="2029.00" stroke="#cbcbcb" stroke-width="1.4" stroke-dasharray="3.2 1.9" stroke-linecap="butt"/>
<line x1="611.32" y1="2029.00" x2="611.32" y2="1506.00" stroke="#cbcbcb" stroke-width="1.4" stroke-dasharray="3.2 1.9" stroke-linecap="butt"/>
<line x1="312.86" y1="2498.00" x2="670.26" y2="2029.00" stroke="#cbcbcb" stroke-width="1.4" stroke-dasharray="3.2 1.9" stroke-linecap="butt"/>
<line x1="670.26" y1="2029.00" x2="670.26" y2="1506.00" stroke="#cbcbcb" stroke-width="1.4" stroke-dasharray="3.2 1.9" stroke-linecap="butt"/>
<line x1="342.34" y1="2498.00" x2="699.74" y2="2029.00" stroke="#cbcbcb" stroke-width="1.4" stroke-dasharray="3.2 1.9" stroke-linecap="butt"/>
<line x1="699.74" y1="2029.00" x2="699.74" y2="1506.00" stroke="#cbcbcb" stroke-width="1.4" stroke-dasharray="3.2 1.9" stroke-linecap="butt"/>
<line x1="371.81" y1="2498.00" x2="729.21" y2="2029.00" stroke="#cbcbcb" stroke-width="1.4" stroke-dasharray="3.2 1.9" stroke-linecap="butt"/>
<line x1="729.21" y1="2029.00" x2="729.21" y2="1506.00" stroke="#cbcbcb" stroke-width="1.4" stroke-dasharray="3.2 1.9" stroke-linecap="butt"/>
<line x1="401.28" y1="2498.00" x2="758.68" y2="2029.00" stroke="#cbcbcb" stroke-width="1.4" stroke-dasharray="3.2 1.9" stroke-linecap="butt"/>
<line x1="758.68" y1="2029.00" x2="758.68" y2="1506.00" stroke="#cbcbcb" stroke-width="1.4" stroke-dasharray="3.2 1.9" stroke-linecap="butt"/>
<line x1="460.23" y1="2498.00" x2="817.63" y2="2029.00" stroke="#cbcbcb" stroke-width="1.4" stroke-dasharray="3.2 1.9" stroke-linecap="butt"/>
<line x1="817.63" y1="2029.00" x2="817.63" y2="1506.00" stroke="#cbcbcb" stroke-width="1.4" stroke-dasharray="3.2 1.9" stroke-linecap="butt"/>
<line x1="489.71" y1="2498.00" x2="847.11" y2="2029.00" stroke="#cbcbcb" stroke-width="1.4" stroke-dasharray="3.2 1.9" stroke-linecap="butt"/>
<line x1="847.11" y1="2029.00" x2="847.11" y2="1506.00" stroke="#cbcbcb" stroke-width="1.4" stroke-dasharray="3.2 1.9" stroke-linecap="butt"/>
<line x1="519.18" y1="2498.00" x2="876.58" y2="2029.00" stroke="#cbcbcb" stroke-width="1.4" stroke-dasharray="3.2 1.9" stroke-linecap="butt"/>
<line x1="876.58" y1="2029.00" x2="876.58" y2="1506.00" stroke="#cbcbcb" stroke-width="1.4" stroke-dasharray="3.2 1.9" stroke-linecap="butt"/>
<line x1="548.65" y1="2498.00" x2="906.05" y2="2029.00" stroke="#cbcbcb" stroke-width="1.4" stroke-dasharray="3.2 1.9" stroke-linecap="butt"/>
<line x1="906.05" y1="2029.00" x2="906.05" y2="1506.00" stroke="#cbcbcb" stroke-width="1.4" stroke-dasharray="3.2 1.9" stroke-linecap="butt"/>
<line x1="607.60" y1="2498.00" x2="965.00" y2="2029.00" stroke="#cbcbcb" stroke-width="1.4" stroke-dasharray="3.2 1.9" stroke-linecap="butt"/>
<line x1="965.00" y1="2029.00" x2="965.00" y2="1506.00" stroke="#cbcbcb" stroke-width="1.4" stroke-dasharray="3.2 1.9" stroke-linecap="butt"/>
<line x1="637.07" y1="2498.00" x2="994.47" y2="2029.00" stroke="#cbcbcb" stroke-width="1.4" stroke-dasharray="3.2 1.9" stroke-linecap="butt"/>
<line x1="994.47" y1="2029.00" x2="994.47" y2="1506.00" stroke="#cbcbcb" stroke-width="1.4" stroke-dasharray="3.2 1.9" stroke-linecap="butt"/>
<line x1="666.55" y1="2498.00" x2="1023.95" y2="2029.00" stroke="#cbcbcb" stroke-width="1.4" stroke-dasharray="3.2 1.9" stroke-linecap="butt"/>
<line x1="1023.95" y1="2029.00" x2="1023.95" y2="1506.00" stroke="#cbcbcb" stroke-width="1.4" stroke-dasharray="3.2 1.9" stroke-linecap="butt"/>
<line x1="696.02" y1="2498.00" x2="1053.42" y2="2029.00" stroke="#cbcbcb" stroke-width="1.4" stroke-dasharray="3.2 1.9" stroke-linecap="butt"/>
<line x1="1053.42" y1="2029.00" x2="1053.42" y2="1506.00" stroke="#cbcbcb" stroke-width="1.4" stroke-dasharray="3.2 1.9" stroke-linecap="butt"/>
<line x1="754.97" y1="2498.00" x2="1112.37" y2="2029.00" stroke="#cbcbcb" stroke-width="1.4" stroke-dasharray="3.2 1.9" stroke-linecap="butt"/>
<line x1="1112.37" y1="2029.00" x2="1112.37" y2="1506.00" stroke="#cbcbcb" stroke-width="1.4" stroke-dasharray="3.2 1.9" stroke-linecap="butt"/>
<line x1="784.44" y1="2498.00" x2="1141.84" y2="2029.00" stroke="#cbcbcb" stroke-width="1.4" stroke-dasharray="3.2 1.9" stroke-linecap="butt"/>
<line x1="1141.84" y1="2029.00" x2="1141.84" y2="1506.00" stroke="#cbcbcb" stroke-width="1.4" stroke-dasharray="3.2 1.9" stroke-linecap="butt"/>
<line x1="813.92" y1="2498.00" x2="1171.32" y2="2029.00" stroke="#cbcbcb" stroke-width="1.4" stroke-dasharray="3.2 1.9" stroke-linecap="butt"/>
<line x1="1171.32" y1="2029.00" x2="1171.32" y2="1506.00" stroke="#cbcbcb" stroke-width="1.4" stroke-dasharray="3.2 1.9" stroke-linecap="butt"/>
<line x1="843.39" y1="2498.00" x2="1200.79" y2="2029.00" stroke="#cbcbcb" stroke-width="1.4" stroke-dasharray="3.2 1.9" stroke-linecap="butt"/>
<line x1="1200.79" y1="2029.00" x2="1200.79" y2="1506.00" stroke="#cbcbcb" stroke-width="1.4" stroke-dasharray="3.2 1.9" stroke-linecap="butt"/>
<line x1="902.34" y1="2498.00" x2="1259.74" y2="2029.00" stroke="#cbcbcb" stroke-width="1.4" stroke-dasharray="3.2 1.9" stroke-linecap="butt"/>
<line x1="1259.74" y1="2029.00" x2="1259.74" y2="1506.00" stroke="#cbcbcb" stroke-width="1.4" stroke-dasharray="3.2 1.9" stroke-linecap="butt"/>
<line x1="931.81" y1="2498.00" x2="1289.21" y2="2029.00" stroke="#cbcbcb" stroke-width="1.4" stroke-dasharray="3.2 1.9" stroke-linecap="butt"/>
<line x1="1289.21" y1="2029.00" x2="1289.21" y2="1506.00" stroke="#cbcbcb" stroke-width="1.4" stroke-dasharray="3.2 1.9" stroke-linecap="butt"/>
<line x1="961.28" y1="2498.00" x2="1318.68" y2="2029.00" stroke="#cbcbcb" stroke-width="1.4" stroke-dasharray="3.2 1.9" stroke-linecap="butt"/>
<line x1="1318.68" y1="2029.00" x2="1318.68" y2="1506.00" stroke="#cbcbcb" stroke-width="1.4" stroke-dasharray="3.2 1.9" stroke-linecap="butt"/>
<line x1="990.76" y1="2498.00" x2="1348.16" y2="2029.00" stroke="#cbcbcb" stroke-width="1.4" stroke-dasharray="3.2 1.9" stroke-linecap="butt"/>
<line x1="1348.16" y1="2029.00" x2="1348.16" y2="1506.00" stroke="#cbcbcb" stroke-width="1.4" stroke-dasharray="3.2 1.9" stroke-linecap="butt"/>
<line x1="1049.71" y1="2498.00" x2="1407.11" y2="2029.00" stroke="#cbcbcb" stroke-width="1.4" stroke-dasharray="3.2 1.9" stroke-linecap="butt"/>
<line x1="1407.11" y1="2029.00" x2="1407.11" y2="1506.00" stroke="#cbcbcb" stroke-width="1.4" stroke-dasharray="3.2 1.9" stroke-linecap="butt"/>
<line x1="1079.18" y1="2498.00" x2="1436.58" y2="2029.00" stroke="#cbcbcb" stroke-width="1.4" stroke-dasharray="3.2 1.9" stroke-linecap="butt"/>
<line x1="1436.58" y1="2029.00" x2="1436.58" y2="1506.00" stroke="#cbcbcb" stroke-width="1.4" stroke-dasharray="3.2 1.9" stroke-linecap="butt"/>
<line x1="1108.65" y1="2498.00" x2="1466.05" y2="2029.00" stroke="#cbcbcb" stroke-width="1.4" stroke-dasharray="3.2 1.9" stroke-linecap="butt"/>
<line x1="1466.05" y1="2029.00" x2="1466.05" y2="1506.00" stroke="#cbcbcb" stroke-width="1.4" stroke-dasharray="3.2 1.9" stroke-linecap="butt"/>
<line x1="1138.13" y1="2498.00" x2="1495.53" y2="2029.00" stroke="#cbcbcb" stroke-width="1.4" stroke-dasharray="3.2 1.9" stroke-linecap="butt"/>
<line x1="1495.53" y1="2029.00" x2="1495.53" y2="1506.00" stroke="#cbcbcb" stroke-width="1.4" stroke-dasharray="3.2 1.9" stroke-linecap="butt"/>
<line x1="47.60" y1="2466.17" x2="405.00" y2="1997.17" stroke="#cbcbcb" stroke-width="1.4" stroke-dasharray="3.2 1.9" stroke-linecap="butt"/>
<line x1="405.00" y1="1997.17" x2="1525.00" y2="1997.17" stroke="#cbcbcb" stroke-width="1.4" stroke-dasharray="3.2 1.9" stroke-linecap="butt"/>
<line x1="47.60" y1="2444.74" x2="405.00" y2="1975.74" stroke="#cbcbcb" stroke-width="1.4" stroke-dasharray="3.2 1.9" stroke-linecap="butt"/>
<line x1="405.00" y1="1975.74" x2="1525.00" y2="1975.74" stroke="#cbcbcb" stroke-width="1.4" stroke-dasharray="3.2 1.9" stroke-linecap="butt"/>
<line x1="47.60" y1="2423.31" x2="405.00" y2="1954.31" stroke="#cbcbcb" stroke-width="1.4" stroke-dasharray="3.2 1.9" stroke-linecap="butt"/>
<line x1="405.00" y1="1954.31" x2="1525.00" y2="1954.31" stroke="#cbcbcb" stroke-width="1.4" stroke-dasharray="3.2 1.9" stroke-linecap="butt"/>
<line x1="47.60" y1="2401.88" x2="405.00" y2="1932.88" stroke="#cbcbcb" stroke-width="1.4" stroke-dasharray="3.2 1.9" stroke-linecap="butt"/>
<line x1="405.00" y1="1932.88" x2="1525.00" y2="1932.88" stroke="#cbcbcb" stroke-width="1.4" stroke-dasharray="3.2 1.9" stroke-linecap="butt"/>
<line x1="47.60" y1="2359.02" x2="405.00" y2="1890.02" stroke="#cbcbcb" stroke-width="1.4" stroke-dasharray="3.2 1.9" stroke-linecap="butt"/>
<line x1="405.00" y1="1890.02" x2="1525.00" y2="1890.02" stroke="#cbcbcb" stroke-width="1.4" stroke-dasharray="3.2 1.9" stroke-linecap="butt"/>
<line x1="47.60" y1="2337.59" x2="405.00" y2="1868.59" stroke="#cbcbcb" stroke-width="1.4" stroke-dasharray="3.2 1.9" stroke-linecap="butt"/>
<line x1="405.00" y1="1868.59" x2="1525.00" y2="1868.59" stroke="#cbcbcb" stroke-width="1.4" stroke-dasharray="3.2 1.9" stroke-linecap="butt"/>
<line x1="47.60" y1="2316.16" x2="405.00" y2="1847.16" stroke="#cbcbcb" stroke-width="1.4" stroke-dasharray="3.2 1.9" stroke-linecap="butt"/>
<line x1="405.00" y1="1847.16" x2="1525.00" y2="1847.16" stroke="#cbcbcb" stroke-width="1.4" stroke-dasharray="3.2 1.9" stroke-linecap="butt"/>
<line x1="47.60" y1="2294.73" x2="405.00" y2="1825.73" stroke="#cbcbcb" stroke-width="1.4" stroke-dasharray="3.2 1.9" stroke-linecap="butt"/>
<line x1="405.00" y1="1825.73" x2="1525.00" y2="1825.73" stroke="#cbcbcb" stroke-width="1.4" stroke-dasharray="3.2 1.9" stroke-linecap="butt"/>
<line x1="47.60" y1="2251.87" x2="405.00" y2="1782.87" stroke="#cbcbcb" stroke-width="1.4" stroke-dasharray="3.2 1.9" stroke-linecap="butt"/>
<line x1="405.00" y1="1782.87" x2="1525.00" y2="1782.87" stroke="#cbcbcb" stroke-width="1.4" stroke-dasharray="3.2 1.9" stroke-linecap="butt"/>
<line x1="47.60" y1="2230.44" x2="405.00" y2="1761.44" stroke="#cbcbcb" stroke-width="1.4" stroke-dasharray="3.2 1.9" stroke-linecap="butt"/>
<line x1="405.00" y1="1761.44" x2="1525.00" y2="1761.44" stroke="#cbcbcb" stroke-width="1.4" stroke-dasharray="3.2 1.9" stroke-linecap="butt"/>
<line x1="47.60" y1="2209.01" x2="405.00" y2="1740.01" stroke="#cbcbcb" stroke-width="1.4" stroke-dasharray="3.2 1.9" stroke-linecap="butt"/>
<line x1="405.00" y1="1740.01" x2="1525.00" y2="1740.01" stroke="#cbcbcb" stroke-width="1.4" stroke-dasharray="3.2 1.9" stroke-linecap="butt"/>
<line x1="47.60" y1="2187.58" x2="405.00" y2="1718.58" stroke="#cbcbcb" stroke-width="1.4" stroke-dasharray="3.2 1.9" stroke-linecap="butt"/>
<line x1="405.00" y1="1718.58" x2="1525.00" y2="1718.58" stroke="#cbcbcb" stroke-width="1.4" stroke-dasharray="3.2 1.9" stroke-linecap="butt"/>
<line x1="47.60" y1="2144.72" x2="405.00" y2="1675.72" stroke="#cbcbcb" stroke-width="1.4" stroke-dasharray="3.2 1.9" stroke-linecap="butt"/>
<line x1="405.00" y1="1675.72" x2="1525.00" y2="1675.72" stroke="#cbcbcb" stroke-width="1.4" stroke-dasharray="3.2 1.9" stroke-linecap="butt"/>
<line x1="47.60" y1="2123.29" x2="405.00" y2="1654.29" stroke="#cbcbcb" stroke-width="1.4" stroke-dasharray="3.2 1.9" stroke-linecap="butt"/>
<line x1="405.00" y1="1654.29" x2="1525.00" y2="1654.29" stroke="#cbcbcb" stroke-width="1.4" stroke-dasharray="3.2 1.9" stroke-linecap="butt"/>
<line x1="47.60" y1="2101.86" x2="405.00" y2="1632.86" stroke="#cbcbcb" stroke-width="1.4" stroke-dasharray="3.2 1.9" stroke-linecap="butt"/>
<line x1="405.00" y1="1632.86" x2="1525.00" y2="1632.86" stroke="#cbcbcb" stroke-width="1.4" stroke-dasharray="3.2 1.9" stroke-linecap="butt"/>
<line x1="47.60" y1="2080.43" x2="405.00" y2="1611.43" stroke="#cbcbcb" stroke-width="1.4" stroke-dasharray="3.2 1.9" stroke-linecap="butt"/>
<line x1="405.00" y1="1611.43" x2="1525.00" y2="1611.43" stroke="#cbcbcb" stroke-width="1.4" stroke-dasharray="3.2 1.9" stroke-linecap="butt"/>
<line x1="47.60" y1="2037.57" x2="405.00" y2="1568.57" stroke="#cbcbcb" stroke-width="1.4" stroke-dasharray="3.2 1.9" stroke-linecap="butt"/>
<line x1="405.00" y1="1568.57" x2="1525.00" y2="1568.57" stroke="#cbcbcb" stroke-width="1.4" stroke-dasharray="3.2 1.9" stroke-linecap="butt"/>
<line x1="47.60" y1="2016.14" x2="405.00" y2="1547.14" stroke="#cbcbcb" stroke-width="1.4" stroke-dasharray="3.2 1.9" stroke-linecap="butt"/>
<line x1="405.00" y1="1547.14" x2="1525.00" y2="1547.14" stroke="#cbcbcb" stroke-width="1.4" stroke-dasharray="3.2 1.9" stroke-linecap="butt"/>
<line x1="47.60" y1="1994.71" x2="405.00" y2="1525.71" stroke="#cbcbcb" stroke-width="1.4" stroke-dasharray="3.2 1.9" stroke-linecap="butt"/>
<line x1="405.00" y1="1525.71" x2="1525.00" y2="1525.71" stroke="#cbcbcb" stroke-width="1.4" stroke-dasharray="3.2 1.9" stroke-linecap="butt"/>
<line x1="136.02" y1="2498.00" x2="493.42" y2="2029.00" stroke="#999999" stroke-width="1.85" stroke-linecap="butt"/>
<line x1="493.42" y1="2029.00" x2="493.42" y2="1506.00" stroke="#999999" stroke-width="1.45" stroke-linecap="butt"/>
<line x1="283.39" y1="2498.00" x2="640.79" y2="2029.00" stroke="#999999" stroke-width="1.85" stroke-linecap="butt"/>
<line x1="640.79" y1="2029.00" x2="640.79" y2="1506.00" stroke="#999999" stroke-width="1.45" stroke-linecap="butt"/>
<line x1="430.76" y1="2498.00" x2="788.16" y2="2029.00" stroke="#999999" stroke-width="1.85" stroke-linecap="butt"/>
<line x1="788.16" y1="2029.00" x2="788.16" y2="1506.00" stroke="#999999" stroke-width="1.45" stroke-linecap="butt"/>
<line x1="578.13" y1="2498.00" x2="935.53" y2="2029.00" stroke="#999999" stroke-width="1.85" stroke-linecap="butt"/>
<line x1="935.53" y1="2029.00" x2="935.53" y2="1506.00" stroke="#999999" stroke-width="1.45" stroke-linecap="butt"/>
<line x1="725.49" y1="2498.00" x2="1082.89" y2="2029.00" stroke="#999999" stroke-width="1.85" stroke-linecap="butt"/>
<line x1="1082.89" y1="2029.00" x2="1082.89" y2="1506.00" stroke="#999999" stroke-width="1.45" stroke-linecap="butt"/>
<line x1="872.86" y1="2498.00" x2="1230.26" y2="2029.00" stroke="#999999" stroke-width="1.85" stroke-linecap="butt"/>
<line x1="1230.26" y1="2029.00" x2="1230.26" y2="1506.00" stroke="#999999" stroke-width="1.45" stroke-linecap="butt"/>
<line x1="1020.23" y1="2498.00" x2="1377.63" y2="2029.00" stroke="#999999" stroke-width="1.85" stroke-linecap="butt"/>
<line x1="1377.63" y1="2029.00" x2="1377.63" y2="1506.00" stroke="#999999" stroke-width="1.45" stroke-linecap="butt"/>
<line x1="47.60" y1="2487.60" x2="405.00" y2="2018.60" stroke="#999999" stroke-width="1.85" stroke-linecap="butt"/>
<line x1="405.00" y1="2018.60" x2="1525.00" y2="2018.60" stroke="#999999" stroke-width="1.45" stroke-linecap="butt"/>
<line x1="47.60" y1="2380.46" x2="405.00" y2="1911.46" stroke="#999999" stroke-width="1.85" stroke-linecap="butt"/>
<line x1="405.00" y1="1911.46" x2="1525.00" y2="1911.46" stroke="#999999" stroke-width="1.45" stroke-linecap="butt"/>
<line x1="47.60" y1="2273.32" x2="405.00" y2="1804.32" stroke="#999999" stroke-width="1.85" stroke-linecap="butt"/>
<line x1="405.00" y1="1804.32" x2="1525.00" y2="1804.32" stroke="#999999" stroke-width="1.45" stroke-linecap="butt"/>
<line x1="47.60" y1="2166.18" x2="405.00" y2="1697.18" stroke="#999999" stroke-width="1.85" stroke-linecap="butt"/>
<line x1="405.00" y1="1697.18" x2="1525.00" y2="1697.18" stroke="#999999" stroke-width="1.45" stroke-linecap="butt"/>
<line x1="47.60" y1="2059.04" x2="405.00" y2="1590.04" stroke="#999999" stroke-width="1.85" stroke-linecap="butt"/>
<line x1="405.00" y1="1590.04" x2="1525.00" y2="1590.04" stroke="#999999" stroke-width="1.45" stroke-linecap="butt"/>
<line x1="83.34" y1="2451.10" x2="1203.34" y2="2451.10" stroke="#999999" stroke-width="1.45" stroke-linecap="butt"/>
<line x1="83.34" y1="2451.10" x2="83.34" y2="1928.10" stroke="#999999" stroke-width="1.45" stroke-linecap="butt"/>
<line x1="154.82" y1="2357.30" x2="1274.82" y2="2357.30" stroke="#999999" stroke-width="1.45" stroke-linecap="butt"/>
<line x1="154.82" y1="2357.30" x2="154.82" y2="1834.30" stroke="#999999" stroke-width="1.45" stroke-linecap="butt"/>
<line x1="226.30" y1="2263.50" x2="1346.30" y2="2263.50" stroke="#999999" stroke-width="1.45" stroke-linecap="butt"/>
<line x1="226.30" y1="2263.50" x2="226.30" y2="1740.50" stroke="#999999" stroke-width="1.45" stroke-linecap="butt"/>
<line x1="297.78" y1="2169.70" x2="1417.78" y2="2169.70" stroke="#999999" stroke-width="1.45" stroke-linecap="butt"/>
<line x1="297.78" y1="2169.70" x2="297.78" y2="1646.70" stroke="#999999" stroke-width="1.45" stroke-linecap="butt"/>
<line x1="369.26" y1="2075.90" x2="1489.26" y2="2075.90" stroke="#999999" stroke-width="1.45" stroke-linecap="butt"/>
<line x1="369.26" y1="2075.90" x2="369.26" y2="1552.90" stroke="#999999" stroke-width="1.45" stroke-linecap="butt"/>
</g>
<g fill="none" stroke="#000" stroke-linecap="square">
<line x1="47.60" y1="2498.00" x2="405.00" y2="2029.00" stroke-width="1.6"/>
<line x1="405.00" y1="2029.00" x2="1525.00" y2="2029.00" stroke-width="2.2"/>
<line x1="405.00" y1="2029.00" x2="405.00" y2="1506.00" stroke-width="2"/>
<polyline stroke-width="3.4" stroke-linejoin="miter" points="1167.60,2498.00 47.60,2498.00 47.60,1975.00 405.00,1506.00 1525.00,1506.00 1525.00,2029.00 1167.60,2498.00"/>
</g>
<g fill="none" stroke="#000" stroke-width="3" shape-rendering="crispEdges">
<line x1="47.60" y1="2498.00" x2="47.60" y2="2505.40"/>
<line x1="77.07" y1="2498.00" x2="77.07" y2="2505.40"/>
<line x1="106.55" y1="2498.00" x2="106.55" y2="2505.40"/>
<line x1="165.49" y1="2498.00" x2="165.49" y2="2505.40"/>
<line x1="194.97" y1="2498.00" x2="194.97" y2="2505.40"/>
<line x1="224.44" y1="2498.00" x2="224.44" y2="2505.40"/>
<line x1="253.92" y1="2498.00" x2="253.92" y2="2505.40"/>
<line x1="312.86" y1="2498.00" x2="312.86" y2="2505.40"/>
<line x1="342.34" y1="2498.00" x2="342.34" y2="2505.40"/>
<line x1="371.81" y1="2498.00" x2="371.81" y2="2505.40"/>
<line x1="401.28" y1="2498.00" x2="401.28" y2="2505.40"/>
<line x1="460.23" y1="2498.00" x2="460.23" y2="2505.40"/>
<line x1="489.71" y1="2498.00" x2="489.71" y2="2505.40"/>
<line x1="519.18" y1="2498.00" x2="519.18" y2="2505.40"/>
<line x1="548.65" y1="2498.00" x2="548.65" y2="2505.40"/>
<line x1="607.60" y1="2498.00" x2="607.60" y2="2505.40"/>
<line x1="637.07" y1="2498.00" x2="637.07" y2="2505.40"/>
<line x1="666.55" y1="2498.00" x2="666.55" y2="2505.40"/>
<line x1="696.02" y1="2498.00" x2="696.02" y2="2505.40"/>
<line x1="754.97" y1="2498.00" x2="754.97" y2="2505.40"/>
<line x1="784.44" y1="2498.00" x2="784.44" y2="2505.40"/>
<line x1="813.92" y1="2498.00" x2="813.92" y2="2505.40"/>
<line x1="843.39" y1="2498.00" x2="843.39" y2="2505.40"/>
<line x1="902.34" y1="2498.00" x2="902.34" y2="2505.40"/>
<line x1="931.81" y1="2498.00" x2="931.81" y2="2505.40"/>
<line x1="961.28" y1="2498.00" x2="961.28" y2="2505.40"/>
<line x1="990.76" y1="2498.00" x2="990.76" y2="2505.40"/>
<line x1="1049.71" y1="2498.00" x2="1049.71" y2="2505.40"/>
<line x1="1079.18" y1="2498.00" x2="1079.18" y2="2505.40"/>
<line x1="1108.65" y1="2498.00" x2="1108.65" y2="2505.40"/>
<line x1="1138.13" y1="2498.00" x2="1138.13" y2="2505.40"/>
<line x1="136.02" y1="2498.00" x2="136.02" y2="2512.00"/>
<line x1="283.39" y1="2498.00" x2="283.39" y2="2512.00"/>
<line x1="430.76" y1="2498.00" x2="430.76" y2="2512.00"/>
<line x1="578.13" y1="2498.00" x2="578.13" y2="2512.00"/>
<line x1="725.49" y1="2498.00" x2="725.49" y2="2512.00"/>
<line x1="872.86" y1="2498.00" x2="872.86" y2="2512.00"/>
<line x1="1020.23" y1="2498.00" x2="1020.23" y2="2512.00"/>
<line x1="1167.60" y1="2498.00" x2="1167.60" y2="2512.00"/>
<line x1="1525.00" y1="1997.17" x2="1532.20" y2="1997.17"/>
<line x1="1525.00" y1="1975.74" x2="1532.20" y2="1975.74"/>
<line x1="1525.00" y1="1954.31" x2="1532.20" y2="1954.31"/>
<line x1="1525.00" y1="1932.88" x2="1532.20" y2="1932.88"/>
<line x1="1525.00" y1="1890.02" x2="1532.20" y2="1890.02"/>
<line x1="1525.00" y1="1868.59" x2="1532.20" y2="1868.59"/>
<line x1="1525.00" y1="1847.16" x2="1532.20" y2="1847.16"/>
<line x1="1525.00" y1="1825.73" x2="1532.20" y2="1825.73"/>
<line x1="1525.00" y1="1782.87" x2="1532.20" y2="1782.87"/>
<line x1="1525.00" y1="1761.44" x2="1532.20" y2="1761.44"/>
<line x1="1525.00" y1="1740.01" x2="1532.20" y2="1740.01"/>
<line x1="1525.00" y1="1718.58" x2="1532.20" y2="1718.58"/>
<line x1="1525.00" y1="1675.72" x2="1532.20" y2="1675.72"/>
<line x1="1525.00" y1="1654.29" x2="1532.20" y2="1654.29"/>
<line x1="1525.00" y1="1632.86" x2="1532.20" y2="1632.86"/>
<line x1="1525.00" y1="1611.43" x2="1532.20" y2="1611.43"/>
<line x1="1525.00" y1="1568.57" x2="1532.20" y2="1568.57"/>
<line x1="1525.00" y1="1547.14" x2="1532.20" y2="1547.14"/>
<line x1="1525.00" y1="1525.71" x2="1532.20" y2="1525.71"/>
<line x1="1525.00" y1="2018.60" x2="1538.60" y2="2018.60"/>
<line x1="1525.00" y1="1911.46" x2="1538.60" y2="1911.46"/>
<line x1="1525.00" y1="1804.32" x2="1538.60" y2="1804.32"/>
<line x1="1525.00" y1="1697.18" x2="1538.60" y2="1697.18"/>
<line x1="1525.00" y1="1590.04" x2="1538.60" y2="1590.04"/>
<line x1="1203.34" y1="2451.10" x2="1217.84" y2="2451.10"/>
<line x1="1274.82" y1="2357.30" x2="1289.32" y2="2357.30"/>
<line x1="1346.30" y1="2263.50" x2="1360.80" y2="2263.50"/>
<line x1="1417.78" y1="2169.70" x2="1432.28" y2="2169.70"/>
<line x1="1489.26" y1="2075.90" x2="1503.76" y2="2075.90"/>
</g>
<path d="M369.3,2075.9l0.6-0.5 0.6-0.7 0.6-0.6 0.6-0.8 0.6-0.8 0.6-0.8 0.6-0.9 0.5-1 0.6-1 0.6-1 0.6-1 0.6-1.1 0.6-1.2 0.6-1.4 0.6-1.5 0.6-1.7 0.6-1.7 0.6-1.7 0.6-1.7 0.6-1.7 0.6-1.6 0.6-1.5 0.6-1.3 0.6-1.2 0.6-1.2 0.6-1.3 0.6-1.3 0.6-1.2 0.6-1.2 0.6-1.2 0.6-1.1 0.6-1 0.6-0.9 0.6-0.7 0.6-0.6 0.6-0.3 0.6-0.2 0.6,0 0.6,0 0.6-0.3 0.6-1.4 0.6,2.4 0.6-2 0.6,3.4 0.6-1.3 0.6,2.1 0.6-2.2 0.6-0.2 0.6,0.6 0.6,0.2 0.6-2.8 0.6,0 0.6,4.9 0.6-4.2 0.6,5.3 0.6-1.6 0.6-0.9 0.6-0.4 0.6,2.2 0.6-0.4 0.6-1.3 0.6,1.5 0.6,0 0.6-2.2 0.6-0.3 0.6,1.9 0.6-0.1 0.6,0.2 0.6,0.9 0.6,0.2 0.6,1 0.6-2.9 0.6,1.4 0.6,0.2 0.6-0.6 0.6-0.5 0.6-1.6 0.6,3.1 0.6,0.2 0.5-1.1 0.6,1.9 0.6-3.8 0.6,0.6 0.6,0.4 0.6,1.5 0.6-1.5 0.6-0.6 0.6,1 0.6,1.4 0.6,2.5 0.6-4.7 0.6,2.3 0.6,0.9 0.6-3.1 0.6,1 0.6,3.1 0.6-2.3 0.6,0.3 0.6-2.3 0.6,5.2 0.6-2.7 0.6-0.5 0.6-2.8 0.6,4.5 0.6,3.4 0.6-2.8 0.6-3 0.6-1 0.6-1.6 0.6,2.4 0.6,2.1 0.6-3 0.6,1.6 0.6,0.4 0.6-0.4 0.6-2.3 0.6,3.9 0.6,0.2 0.6-1.7 0.6,0 0.6,1.4 0.6,0.1 0.6-2.3 0.6-1.7 0.6,1.1 0.6,0.1 0.6-1 0.6,5.8 0.6-0.9 0.6-1.4 0.6,0.8 0.6-0.3 0.6-1.9 0.6,2.4 0.6-1.5 0.6,2.9 0.6-2 0.6-4.1 0.6,3.4 0.6-1.6 0.6-0.7 0.6,2.2 0.6-1.9 0.6,0.6 0.6-0.9 0.6,2.4 0.6,1.5 0.6-0.8 0.6-0.8 0.6-2 0.6,1.4 0.6,0.3 0.5-0.4 0.6-2.3 0.6,3 0.6-3.7 0.6,4.9 0.6-1.1 0.6-2.6 0.6,0.6 0.6,2.4 0.6-1.3 0.6,1.1 0.6-2.8 0.6,0.5 0.6,2.3 0.6-2 0.6,1.4 0.6-0.6 0.6-0.2 0.6,1.1 0.6-1.8 0.6,0 0.6,0 0.6-1.2 0.6,2.5 0.6,2.2 0.6-1.8 0.6-1.3 0.6,0.4 0.6-1 0.6-0.5 0.6,1.7 0.6,0 0.6,1.6 0.6-3.6 0.6,2.3 0.6,1.5 0.6,0.1 0.6-1.3 0.6-3.5 0.6,1.5 0.6,4.4 0.6-2.8 0.6-0.6 0.6-0.6 0.6,0.5 0.6,1.8 0.6-1.8 0.6,1.8 0.6,3.1 0.6-2.7 0.6,0 0.6-2.9 0.6-0.1 0.6,3.8 0.6-2.1 0.6,0.2 0.6,2.8 0.6,1.2 0.6-3.5 0.6-0.3 0.6,1.4 0.6,3.9 0.6-4.8 0.6,1.1 0.6,0.6 0.6-0.9 0.6,1.5 0.6-3 0.6,1.1 0.6,1.1 0.6-1.4 0.6,0.6 0.5,2.8 0.6-2.4 0.6,0.6 0.6,2.4 0.6-1.8 0.6-1.9 0.6,2 0.6-3.6 0.6-0.4 0.6,3.6 0.6-1.4 0.6-2.5 0.6,4.2 0.6,1.1 0.6-0.8 0.6,1.8 0.6,0.1 0.6-2.8 0.6,1.2 0.6-1.1 0.6-0.4 0.6,2.4 0.6-1 0.6,0.2 0.6,0.8 0.6,0.4 0.6-2 0.6,0.9 0.6-0.8 0.6-1.1 0.6,0 0.6,3.9 0.6-0.4 0.6-1 0.6-0.6 0.6-1.4 0.6,3.5 0.6-0.9 0.6-1.1 0.6-1.7 0.6-0.2 0.6,4.4 0.6-1.4 0.6,1.2 0.6-2.9 0.6,0.8 0.6,1.5 0.6,0.5 0.6-1.5 0.6-1.2 0.6,3.2 0.6-0.7 0.6-0.7 0.6,0.3 0.6-0.5 0.6,2.5 0.6-0.7 0.6,2.8 0.6-3.8 0.6-1.7 0.6,5.7 0.6-2.5 0.6-2.7 0.6,2 0.6,3.2 0.6-5.4 0.6,4.7 0.6-4.9 0.6,3.6 0.6,0.3 0.6-1.3 0.6,0.2 0.6-1 0.5,0.2 0.6,1.3 0.6-2.6 0.6,1.2 0.6,0.9 0.6,0.3 0.6,0.5 0.6,0 0.6-1.2 0.6,0.4 0.6,0.9 0.6-1.7 0.6,2.4 0.6-1.2 0.6-0.7 0.6,3.6 0.6-1.4 0.6-3.4 0.6,4.8 0.6-3.7 0.6,4.1 0.6-2.6 0.6,2.7 0.6-0.7 0.6-0.3 0.6,0.4 0.6-2.7 0.6,0.4 0.6,0 0.6,1.3 0.6-2.5 0.6,1.2 0.6,1.3 0.6,2.6 0.6-3 0.6,0.1 0.6,1.1 0.6-1 0.6,0 0.6,2 0.6-1.5 0.6,0.5 0.6,0.2 0.6,1.2 0.6,0.3 0.6-0.9 0.6-2.3 0.6-1.5 0.6,4.9 0.6,1.3 0.6-1.2 0.6,1 0.6-0.7 0.6-1.3 0.6,2.4 0.6-2.6 0.6-0.3 0.6-1.2 0.6-0.5 0.6,1.6 0.6-2.2 0.6,5 0.6-1.3 0.6,0.3 0.6-0.5 0.6-0.9 0.6,2.5 0.6-3.6 0.6,0.8 0.6,1.7 0.6-0.1 0.6,2.6 0.5,2.8 0.6-4.2 0.6-0.7 0.6,0.2 0.6,2.5 0.6-1.2 0.6-3.9 0.6,1.9 0.6,0.3 0.6,1.7 0.6-1.8 0.6-1 0.6,1 0.6,2.2 0.6-1.2 0.6,2.1 0.6-0.9 0.6-1.6 0.6,2.1 0.6-0.5 0.6-2.9 0.6,2.9 0.6-1.6 0.6,1.9 0.6,1.6 0.6-2 0.6,0.7 0.6,3 0.6-1.4 0.6-1.3 0.6-3.4 0.6,3.7 0.6-0.9 0.6-1.1 0.6,0.6 0.6,1.2 0.6-3.6 0.6,0.7 0.6,6.8 0.6-6 0.6,0.7 0.6-0.7 0.6,1.6 0.6-1.2 0.6-2 0.6,0.5 0.6-0.1 0.6,1.3 0.6,0.3 0.6,0 0.6,3.7 0.6-6.1 0.6,3.7 0.6-0.1 0.6,0.4 0.6-0.6 0.6,4.6 0.6-4.2 0.6,2.7 0.6-0.5 0.6,1.6 0.6-0.2 0.6-4.1 0.6,1.9 0.6-0.7 0.6,0.2 0.6,1.7 0.6-0.8 0.6,1 0.6-1.7 0.6,3.4 0.6-3.2 0.6-2.4 0.5-0.5 0.6,0.1 0.6,1.2 0.6,2.6 0.6-3.4 0.6,0.7 0.6,0.4 0.6,2.7 0.6-2.9 0.6-1.8 0.6,1.1 0.6,1.8 0.6-1.4 0.6,0.9 0.6-0.3 0.6-1.2 0.6,0.9 0.6,0.4 0.6-0.5 0.6,2.1 0.6,0.3 0.6-2.7 0.6,1.9 0.6-2.1 0.6,4.3 0.6-5.5 0.6,2.3 0.6-3.1 0.6,7.3 0.6-1.4 0.6-5.5 0.6,2.2 0.6-0.3 0.6,0.3 0.6-0.1 0.6-0.7 0.6,2.7 0.6-1.5 0.6-2.7 0.6,2 0.6,1.4 0.6-1.3 0.6-1.7 0.6,2.2 0.6-0.1 0.6-1.2 0.6-0.7 0.6-1.1 0.6,2.8 0.6-0.9 0.6-1.3 0.6,5.3 0.6-3.7 0.6-0.6 0.6,0.9 0.6,1.4 0.6-2.6 0.6-1.2 0.6,2.3 0.6,0.7 0.6-0.5 0.6-3.2 0.6,0.5 0.6,2.2 0.6,2 0.6,0.2 0.6-1.7 0.6,0 0.6-1.1 0.6,2.5 0.6-1.9 0.6-1.2 0.5,4 0.6-7.2 0.6,3.1 0.6,0 0.6,3.3 0.6-0.6 0.6-3.7 0.6,0.2 0.6,5.9 0.6-6.4 0.6,0.7 0.6,0.2 0.6,3 0.6-2.5 0.6,1.5 0.6-2.1 0.6-2.3 0.6,2.1 0.6-0.7 0.6,2.3 0.6,1.3 0.6-1.9 0.6-1.9 0.6-0.8 0.6,2.7 0.6-0.6 0.6,1.1 0.6,2.3 0.6-3.3 0.6-0.5 0.6,1.3 0.6-0.4 0.6,2.8 0.6-3.3 0.6-2.5 0.6,2.5 0.6-1.1 0.6,0.2 0.6,2.1 0.6-1.8 0.6,1.8 0.6-6.8 0.6,4.9 0.6,2.3 0.6,0.7 0.6-5.5 0.6,1.5 0.6,0.4 0.6,3.1 0.6-1.5 0.6,1.1 0.6-4.2 0.6,2.9 0.6-4.5 0.6,2.5 0.6,1.4 0.6-3 0.6,6.1 0.6-2.3 0.6-0.9 0.6-2.7 0.6-0.1 0.6,1.2 0.6,3.8 0.6-2.3 0.6,0.9 0.6-4.3 0.6,3 0.6-2 0.6-2.3 0.6,3.4 0.6-1.5 0.6,1.8 0.5-0.8 0.6-0.1 0.6-0.1 0.6-0.1 0.6,0.7 0.6-4.2 0.6,4.5 0.6-1.7 0.6,0.9 0.6,3.4 0.6-5.9 0.6,1.2 0.6,2.8 0.6-1.2 0.6,1.5 0.6-3.5 0.6-2.4 0.6,0.5 0.6,4.4 0.6,0.7 0.6-4.1 0.6-2.2 0.6,2.9 0.6-1.9 0.6,4.3 0.6-2.4 0.6-1.1 0.6,1.5 0.6-0.4 0.6-1.7 0.6,2.2 0.6,0.6 0.6-3.2 0.6,0.8 0.6,2.2 0.6-2.6 0.6,1.7 0.6-2.2 0.6,1.1 0.6,0.4 0.6,0.8 0.6-1.8 0.6,0.4 0.6-3.5 0.6,3.4 0.6,2.3 0.6-6.2 0.6,7.4 0.6-6.7 0.6,4.5 0.6-4.1 0.6,2.8 0.6-1.4 0.6,0.9 0.6,0.3 0.6-1.2 0.6,2.1 0.6-2.1 0.6,2.8 0.6-0.6 0.6-0.5 0.6-0.7 0.6-2.4 0.6,3.6 0.6,0.1 0.6,0.4 0.6-1.3 0.6-1.8 0.6,2.3 0.6-0.8 0.6,0.5 0.6-1.2 0.5,3.7 0.6-4.7 0.6-0.7 0.6,3.1 0.6-1.4 0.6,1.5 0.6-3.5 0.6,0.6 0.6-4.2 0.6,5.6 0.6,1.1 0.6-0.8 0.6,1.3 0.6-2.7 0.6-0.2 0.6-1.3 0.6,0.7 0.6,1.1 0.6-3.5 0.6,0.7 0.6-1.1 0.6,2.9 0.6-1.3 0.6-1 0.6-1.1 0.6,2.6 0.6-6.6 0.6,2.1 0.6-2.2 0.6,0 0.6-1.2 0.6,1.8 0.6,0.7 0.6,2.5 0.6-1.1 0.6-2.3 0.6,6.9 0.6-1.2 0.6-1.1 0.6-1.8 0.6,5.5 0.6-0.6 0.6-0.6 0.6-5 0.6,7.4 0.6-1.1 0.6-1.5 0.6,2.8 0.6-1.8 0.6,0.1 0.6,1.5 0.6-1.2 0.6-2.4 0.6,3 0.6,1.1 0.6,0.7 0.6-1.7 0.6-1.3 0.6,1.6 0.6-0.2 0.6-4.1 0.6,6.2 0.6,0.6 0.6-2.3 0.6,0.9 0.6-1.3 0.6-1.1 0.6,1.6 0.6,1.1 0.6-1.2 0.6,0.1 0.6,1.1 0.5,1 0.6-2.2 0.6,1.7 0.6,1.8 0.6-3.2 0.6,2.2 0.6,0.2 0.6-2 0.6,2.7 0.6-1 0.6,1.5 0.6,1.2 0.6-3.2 0.6-2.1 0.6,4.5 0.6-3.6 0.6,0.3 0.6-0.6 0.6,4.8 0.6-0.7 0.6-4 0.6,3.2 0.6,0.1 0.6-1.2 0.6,0.3 0.6,2.3 0.6-0.5 0.6-1.4 0.6,0.8 0.6,1.9 0.6-3.5 0.6,0.9 0.6,2.3 0.6,0.5 0.6-2.5 0.6,6.1 0.6-4.4 0.6,1.3 0.6,0.3 0.6-2.7 0.6,1.1 0.6-4.9 0.6,6 0.6-1 0.6,3.3 0.6-4.3 0.6,3 0.6-1.4 0.6-1.9 0.6,0.2 0.6,1.3 0.6-1.4 0.6,3.1 0.6,0.9 0.6,1.1 0.6-3.7 0.6-2.6 0.6,4.1 0.6-0.6 0.6,0.6 0.6-1.5 0.6,4.2 0.6-4.9 0.6-0.4 0.6,3.2 0.6,0.5 0.6-0.2 0.6-2.6 0.6-1.7 0.6,4.4 0.6,1 0.6-3 0.6-0.4 0.5-0.8 0.6,2.5 0.6-2.6 0.6-0.7 0.6,4.9 0.6-2.4 0.6-1.7 0.6-0.3 0.6,2.3 0.6,2.5 0.6-2.1 0.6,1.1 0.6-1.7 0.6-2.8 0.6,3 0.6-1.4 0.6,2.3 0.6-3.8 0.6,2.7 0.6,0.7 0.6-5.2 0.6,2.7 0.6-0.6 0.6,4.8 0.6-6.2 0.6-0.6 0.6,3.4 0.6,0.2 0.6,0.5 0.6-3 0.6,4.8 0.6-3.4 0.6-3 0.6,3.3 0.6-3.3 0.6,3.5 0.6,0.6 0.6-2.2 0.6,1.8 0.6-0.3 0.6,0.9 0.6,1.4 0.6-1.6 0.6-1.8 0.6-0.7 0.6,2.1 0.6-0.7 0.6,2.3 0.6-1.4 0.6,0 0.6,0 0.6-0.4 0.6-0.5 0.6-1.6 0.6,0.9 0.6,0.4 0.6,3.2 0.6-0.8 0.6-1.5 0.6-0.1 0.6-1.1 0.6,4.5 0.6-3.5 0.6,0.1 0.6,0.9 0.6,0.8 0.6-1.8 0.6,0.7 0.6-1.1 0.6,4.4 0.6-1.9 0.6-4.4 0.5,2.4 0.6,1.8 0.6-0.8 0.6,1.7 0.6-4.8 0.6,0 0.6,1 0.6-0.6 0.6,1.4 0.6-1.6 0.6,1.3 0.6-1.4 0.6,2.6 0.6,0.1 0.6,0.9 0.6-0.2 0.6,2 0.6-5.1 0.6-0.1 0.6,1.2 0.6-0.5 0.6,1.4 0.6-0.4 0.6,3.3 0.6-2.3 0.6,3.1 0.6-2 0.6-0.6 0.6,0 0.6,1.4 0.6-4.2 0.6,0.6 0.6,2.7 0.6,1.3 0.6-1.3 0.6-2.5 0.6,5.1 0.6-4.9 0.6,1.7 0.6,0.5 0.6-2.5 0.6,1.8 0.6,0.7 0.6-2.8 0.6,5.1 0.6-5.7 0.6,4.4 0.6,0 0.6-4.3 0.6-3.1 0.6,3.8 0.6,3.7 0.6,2.4 0.6-4.3 0.6,0.5 0.6,1.1 0.6-0.8 0.6,1 0.6-2.6 0.6,1.7 0.6,0.2 0.6,3.6 0.6-4.3 0.6,3.1 0.6-3.9 0.6,1.5 0.6,3.6 0.6-3 0.6,1.6 0.6-3.1 0.6,0.3 0.6-1 0.6,3.3 0.5-2.2 0.6,3.4 0.6-3 0.6,1.1 0.6-0.8 0.6,0.5 0.6-1.8 0.6,2.5 0.6-0.2 0.6-2.8 0.6,2.7 0.6,0.9 0.6,0.7 0.6-1.6 0.6,0.2 0.6-1.2 0.6,1.6 0.6-1.5 0.6,1.7 0.6-3.2 0.6,3 0.6-1.3 0.6,0.6 0.6,3.1 0.6-4.1 0.6,2.6 0.6-2.3 0.6,5.3 0.6-0.2 0.6,0.3 0.6-0.3 0.6-2.5 0.6-0.6 0.6,1.8 0.6-1.1 0.6,0.7 0.6-2.5 0.6,0.1 0.6,0.7 0.6-0.5 0.6-1.9 0.6,1.9 0.6,3.9 0.6-2.3 0.6,0.2 0.6-1.9 0.6,0.6 0.6-0.6 0.6,4.3 0.6-5.2 0.6,2.7 0.6-1.9 0.6,0.8 0.6,2.5 0.6-0.1 0.6-2.5 0.6-1 0.6,3.7 0.6,0.4 0.6,1.6 0.6-1.9 0.6-0.4 0.6-0.8 0.6-1.6 0.6,2 0.6,1.1 0.6-1.3 0.6-0.6 0.6-0.4 0.6,0.1 0.6,0.5 0.6-1.3 0.5,1.5 0.6,1.3 0.6-1.5 0.6-3.6 0.6,4.7 0.6-5.8 0.6,5.2 0.6-2.1 0.6,4.1 0.6-2.7 0.6-2.8 0.6,4.7 0.6-0.8 0.6-1.9 0.6-0.1 0.6,3.3 0.6-0.5 0.6-2.7 0.6,0 0.6-0.8 0.6,1.5 0.6-1.4 0.6-1 0.6,4.3 0.6-4 0.6,0.4 0.6-0.9 0.6,2.9 0.6-0.6 0.6-0.2 0.6,0.9 0.6-2.6 0.6,1.3 0.6,2.2 0.6-2.3 0.6,2.4 0.6,0.8 0.6-0.9 0.6-1.9 0.6-0.2 0.6,0.4 0.6-1.2 0.6-2.5 0.6,5.4 0.6-2.8 0.6,0.3 0.6,2.6 0.6-1.3 0.6-1.2 0.6,0.2 0.6,1.5 0.6-2.8 0.6,0.9 0.6-0.7 0.6-1.7 0.6,5 0.6-4 0.6,0.9 0.6,2.3 0.6-1.4 0.6,0.6 0.6,1.3 0.6-3.5 0.6,2.8 0.6,2.1 0.6-5 0.6,2.3 0.6-1.5 0.6,0.2 0.6,0.9 0.6,0.1 0.6,3.8 0.6-3.8 0.5,1.3 0.6-2.9 0.6,2.2 0.6-0.2 0.6-1.4 0.6,2.2 0.6-0.8 0.6-0.4 0.6-1.6 0.6,3.3 0.6-4 0.6,1.6 0.6,0.6 0.6-1.5 0.6-1.2 0.6-0.2 0.6,3.8 0.6-4.2 0.6,2.3 0.6-2.3 0.6,4.1 0.6-1.5 0.6-0.2 0.6,2 0.6-1.4 0.6-2.4 0.6-0.4 0.6,0.8 0.6,0.6 0.6,1.2 0.6-4.4 0.6,6 0.6-0.3 0.6-0.8 0.6-1.7 0.6,1.1 0.6-2.2 0.6,4.1 0.6-4.2 0.6-1.7 0.6,1.6 0.6,2 0.6,0.5 0.6-3 0.6,4.9 0.6-1.6 0.6,1.5 0.6-2.7 0.6-3.5 0.6,3.9 0.6-2.7 0.6,3.8 0.6-1 0.6,0 0.6-2.9 0.6,3.4 0.6-0.4 0.6-1.2 0.6-2.8 0.6,2.6 0.6-3 0.6,2.4 0.6,1.1 0.6-2.5 0.6,3 0.6,0.5 0.6-1.8 0.6,2.8 0.6-0.6 0.6-0.7 0.6-1.5 0.6-1.8 0.5-0.3 0.6,2.3 0.6-0.8 0.6,0.9 0.6,1.9 0.6-3.2 0.6,2 0.6-2.7 0.6,2.2 0.6,0.8 0.6-2.4 0.6,1.5 0.6,1.3 0.6-4.2 0.6,1.2 0.6,0 0.6,0.3 0.6,1.1 0.6,3.8 0.6-4 0.6-0.3 0.6-1.6 0.6,2.9 0.6-3.2 0.6,0.6 0.6-2.6 0.6,3.7 0.6-1.4 0.6-0.6 0.6-0.7 0.6-1.3 0.6,1.3 0.6,3.1 0.6-5.5 0.6,6.3 0.6-4.7 0.6-1.4 0.6,3.4 0.6-1.2 0.6-0.1 0.6,1.7 0.6-2.7 0.6,2.2 0.6-2.3 0.6-0.6 0.6-0.9 0.6-0.6 0.6,1.6 0.6-0.2 0.6,1.2 0.6-0.4 0.6-1.7 0.6,0.2 0.6,0.5 0.6,0.8 0.6-1.8 0.6,3.8 0.6-1.1 0.6-1.2 0.6-1.6 0.6,4.2 0.6-0.2 0.6,0.3 0.6-3.3 0.6-0.1 0.6-1.2 0.6-1.2 0.6,6.2 0.6-1.6 0.6,0.7 0.6,1.1 0.6-1.9 0.6,1.2 0.5-1.1 0.6,1 0.6,2.1 0.6-3.5 0.6,0.2 0.6,1.9 0.6,3.2 0.6,0.4 0.6-1.6 0.6-2.9 0.6-0.4 0.6,1.2 0.6,0.1 0.6,4.7 0.6-5 0.6,1.9 0.6-0.6 0.6,1.3 0.6,1.9 0.6-4.8 0.6,0.8 0.6,2.5 0.6,0.9 0.6-1.6 0.6-2.6 0.6,0.6 0.6,0.8 0.6-1.5 0.6,1 0.6,2.3 0.6-2.8 0.6,1.2 0.6,1.4 0.6-3.5 0.6,1.3 0.6,3.2 0.6-3.8 0.6,0.9 0.6,1 0.6,0.2 0.6,1 0.6,0.7 0.6-3 0.6-0.4 0.6,1.4 0.6-1 0.6,1.1 0.6,0 0.6-1.5 0.6,0 0.6-1.6 0.6,3.2 0.6-1.4 0.6,0.9 0.6-0.7 0.6-1.8 0.6,1.5 0.6,2.1 0.6-0.6 0.6,0.2 0.6-0.6 0.6,0.7 0.6-0.3 0.6-0.5 0.6-0.9 0.6,2 0.6-1.6 0.6,0.1 0.6-1.4 0.6,1 0.6-0.5 0.6,0.4 0.5-1.5 0.6,2.2 0.6,2.4 0.6-3.2 0.6,2.3 0.6,2.1 0.6-4.6 0.6,0.8 0.6-0.4 0.6-0.4 0.6,1.1 0.6-2.2 0.6,1.7 0.6,0.7 0.6-0.6 0.6,3.5 0.6-4.4 0.6,3.4 0.6-3.2 0.6,0.9 0.6-0.3 0.6,1.5 0.6-4.3 0.6,6.3 0.6-3.2 0.6,1.3 0.6,1.1 0.6-5.2 0.6,2.2 0.6-3.9 0.6,2.8 0.6,0.5 0.6-0.1 0.6,3.1 0.6,0 0.6-4.7 0.6,1.1 0.6,2.6 0.6-1.5 0.6-0.1 0.6-1.8 0.6,1.4 0.6,1.8 0.6-2.6 0.6,2.3 0.6-2 0.6,2 0.6,4.3 0.6-8.1 0.6,4.3 0.6-3.3 0.6,0.5 0.6,2 0.6,1 0.6-5.3 0.6,2.9 0.6-1.9 0.6,1.6 0.6-1.1 0.6,1.2 0.6,2.5 0.6-0.9 0.6-2 0.6,2.6 0.6-1.5 0.6-0.5 0.6-2.1 0.6-1 0.6,6.3 0.6-4.3 0.6-2.5 0.6,5.3 0.6-0.5 0.5-4 0.6,1.6 0.6,1.2 0.6-1.4 0.6-1 0.6,0.9 0.6-0.6 0.6,0.1 0.6-0.5 0.6,0.2 0.6-0.5 0.6,0.8 0.6-2.4 0.6,2.2 0.6,0.1 0.6,1.3 0.6-1.4 0.6-1.8 0.6,0.2 0.6-1.6 0.6,2.6 0.6-1.3 0.6,1.9 0.6-3.4 0.6-2.5 0.6,0.3 0.6,0.9 0.6-2.2 0.6-0.3 0.6,1.3 0.6-0.6 0.6-1.1 0.6-3.3 0.6-1.2 0.6-0.9 0.6-0.1 0.6-5 0.6,2 0.6-2.8 0.6-1.2 0.6-3.5 0.6,2.5 0.6-6.1 0.6-1.3 0.6-3 0.6-1.5 0.6-3.9 0.6-7.1 0.6-3.5 0.6-0.5 0.6-7.8 0.6-4.2 0.6-8.6 0.6-5.4 0.6-7.7 0.6-6.5 0.6-8.8 0.6-8.4 0.6-8.9 0.6-13.1 0.6-15.6 0.6-14 0.6-11.3 0.6-16.6 0.6-18.2 0.6-19.6 0.6-20.9 0.6-24.1 0.6-27.6 0.6-27.6 0.6-31.4 0.6-28.8 0.5-31.3 0.6-40.1 0.6-36.4 0.6,39 0.6,37.8 0.6,31.6 0.6,34.9 0.6,28.1 0.6,24.2 0.6,28.3 0.6,26 0.6,17 0.6,20.3 0.6,17.8 0.6,16.2 0.6,17.8 0.6,13.8 0.6,10.5 0.6,14.5 0.6,8.9 0.6,6.1 0.6,12.7 0.6,5 0.6,6 0.6,8.3 0.6,6.6 0.6,2.4 0.6,9.4 0.6-0.7 0.6,8.4 0.6,2.2 0.6,5.3 0.6,3 0.6-0.7 0.6,4.1 0.6,1.6 0.6,5.2 0.6,0.3 0.6,3.3 0.6-0.4 0.6,0.6 0.6,1.3 0.6,1.2 0.6,3.2 0.6-1.1 0.6,2.7 0.6-2.2 0.6,3.4 0.6-1.6 0.6,3.4 0.6-1.2 0.6,1.4 0.6,3.4 0.6-3.2 0.6,3.2 0.6,1.9 0.6-3 0.6-1.3 0.6,1 0.6,3 0.6,1.8 0.6,1.9 0.6-3.3 0.6,0 0.6-0.4 0.6-2.2 0.6,2.6 0.6,1.7 0.6,0.2 0.6-0.1 0.6-0.4 0.6-1.6 0.6,1.2 0.5-0.3 0.6-0.2 0.6-0.1 0.6-0.7 0.6-0.8 0.6,3.8 0.6-1.2 0.6-0.2 0.6,0.1 0.6-1.6 0.6,0.2 0.6,2.3 0.6-3.9 0.6,2 0.6-0.2 0.6,2.2 0.6-2.4 0.6,2 0.6,1.1 0.6-1.9 0.6,2 0.6,0.1 0.6-2.6 0.6-0.6 0.6,2.6 0.6-2.8 0.6-0.4 0.6,0.1 0.6,1.3 0.6,1.1 0.6-3.1 0.6,3.3 0.6-1.5 0.6-1.1 0.6-1 0.6,2.4 0.6,0 0.6-0.4 0.6,0.5 0.6-1.6 0.6,0.1 0.6-1.1 0.6,3 0.6-1.4 0.6,2.5 0.6-0.5 0.6-3.2 0.6,2.9 0.6,2.8 0.6-2.3 0.6-0.1 0.6,2.2 0.6-3.4 0.6-1.1 0.6,2.3 0.6-2.6 0.6,5.2 0.6-4.9 0.6,1.3 0.6-3.9 0.6,3.8 0.6,0.1 0.6,0 0.6,0.5 0.6,0 0.6-1.8 0.6,0.6 0.6,0 0.6,0 0.6,1.6 0.6-4.4 0.6,4.9 0.5-3.4 0.6,1.9 0.6-2.1 0.6,2.1 0.6-2.3 0.6,1 0.6-1.2 0.6-1.4 0.6,3 0.6,0 0.6,4.3 0.6-4.1 0.6-1.5 0.6,1.9 0.6-0.6 0.6,0.4 0.6,2.9 0.6-4.8 0.6,2.7 0.6,1 0.6-4 0.6,1 0.6-0.3 0.6,0.7 0.6,1.3 0.6-2.7 0.6,2.9 0.6-1.9 0.6,2.1 0.6,0.1 0.6-3.2 0.6,2.6 0.6-4 0.6,4.8 0.6-4 0.6,2.3 0.6-1.9 0.6,0.1 0.6,4.2 0.6-4.1 0.6,1.5 0.6,1.1 0.6-3.4 0.6,1.1 0.6-0.1 0.6-1.7 0.6,0.6 0.6,1.5 0.6,1.5 0.6-3.8 0.6,3.5 0.6,1.6 0.6-5.9 0.6-0.3 0.6,6.2 0.6-3.4 0.6,3 0.6-3.5 0.6,1.8 0.6,1.6 0.6-4 0.6,3.1 0.6-2.1 0.6,1.7 0.6-4 0.6,1.1 0.6,2.5 0.6,2.9 0.6-4.2 0.6,2.2 0.6-3.6 0.6-0.7 0.6,2.7 0.5-1.5 0.6,3.7 0.6-3.2 0.6-1.8 0.6,5.1 0.6-3.5 0.6,0.9 0.6-1.1 0.6,1.4 0.6,0.3 0.6-2.2 0.6,2 0.6-0.7 0.6,3.1 0.6-2.9 0.6-0.5 0.6,1.5 0.6-0.2 0.6,3.3 0.6-1.5 0.6-1.3 0.6,0.1 0.6-4.1 0.6,2.3 0.6,3.4 0.6-5.8 0.6,6.2 0.6-0.4 0.6-0.4 0.6-1.3 0.6-4.4 0.6,4.8 0.6-1.3 0.6,3.4 0.6-1.7 0.6-5 0.6,2.2 0.6,0.7 0.6-1 0.6,1.6 0.6,0.1 0.6,2.8 0.6,0.8 0.6-1.4 0.6-0.5 0.6,0.8 0.6-2.5 0.6-1.9 0.6,3.2 0.6,2.7 0.6-0.5 0.6-3.8 0.6,0.4 0.6,1 0.6-0.6 0.6-0.8 0.6,1.9 0.6-0.4 0.6,1.2 0.6,2.8 0.6-3.5 0.6,0.3 0.6-0.7 0.6,1.6 0.6-1.6 0.6,0.1 0.6,1.5 0.6,1 0.6-0.5 0.6-1.7 0.6-0.9 0.6-1.6 0.5,3.3 0.6-1 0.6-1.1 0.6,3.8 0.6-2.8 0.6,1.9 0.6-0.1 0.6-1.9 0.6,1.7 0.6-0.9 0.6,2.5 0.6-1.8 0.6,1.4 0.6-0.9 0.6-5.5 0.6,5 0.6,0.4 0.6,0.3 0.6,0.7 0.6-4.5 0.6,4.4 0.6-5.4 0.6,4.6 0.6-2.6 0.6,2 0.6,1.3 0.6-0.8 0.6-2.6 0.6,2.6 0.6,3.1 0.6-6.7 0.6,4.5 0.6-0.6 0.6-3.2 0.6,5.5 0.6-2 0.6-2 0.6,0 0.6,0.1 0.6,2.7 0.6-3.3 0.6,2.4 0.6-1.1 0.6,1.9 0.6-4.7 0.6,3.8 0.6-0.6 0.6,0.9 0.6-1.7 0.6,3.1 0.6-2.2 0.6,0.2 0.6-3.3 0.6,3.5 0.6-0.3 0.6-0.6 0.6-1.6 0.6-1.8 0.6,2.8 0.6-0.1 0.6-2 0.6,2.8 0.6-0.7 0.6,1.9 0.6-0.8 0.6,1.1 0.6-5.3 0.6,2.5 0.6,0.1 0.6,3.1 0.6-2 0.6,1.4 0.6,0 0.5,1.2 0.6-1.3 0.6-5.9 0.6,5.8 0.6-2.3 0.6-0.5 0.6,0.9 0.6-0.6 0.6,3.2 0.6-4.6 0.6-1 0.6,3.7 0.6,1.3 0.6,0.2 0.6,0.9 0.6-3.5 0.6-0.4 0.6-1.6 0.6,5.4 0.6-3.9 0.6,0.3 0.6,1.7 0.6,1.1 0.6-2.1 0.6-3.5 0.6,6.3 0.6-1.3 0.6-0.1 0.6-0.7 0.6-2.2 0.6,2.8 0.6,3.2 0.6-1.8 0.6,0 0.6-2.8 0.6,0.2 0.6,2.3 0.6-3.4 0.6,4.6 0.6-3 0.6-2.7 0.6,5.1 0.6-3.9 0.6-0.8 0.6,2.7 0.6-1.2 0.6,3 0.6-3.3 0.6,2.7 0.6-1.2" fill="none" stroke="#000000" stroke-width="7.6" stroke-linejoin="round" stroke-linecap="butt"/>
<line x1="1488.1" y1="2076.7" x2="1488.1" y2="2047.0" stroke="#000000" stroke-width="5.0"/>
<path d="M310.2,2167.6l0.6-1.1 0.6-1.5 0.6-1.9 0.6-2.2 0.6-2.6 0.6-2.9 0.6-3 0.6-3.1 0.6-3.2 0.6-3 0.6-2.8 0.6-2.5 0.6-2.1 0.6-1.8 0.6-1.3 0.6-1.1 0.6-0.7 0.6-0.4 0.6-0.3 0.6-0.2 0.6-0.2 0.6,0 0.6,2.5 0.6-2 0.6,1.7 0.6-0.1 0.6-1.4 0.6-1.7 0.6,0.3 0.6,1.9 0.6,0.2 0.6,0.3 0.6-1.5 0.6-1.1 0.6,1.4 0.6-0.9 0.6,0.6 0.6-1.8 0.6,5.3 0.6,0.3 0.6-2.9 0.6-1.2 0.6,1.6 0.6-1.2 0.6,2.5 0.6,0.2 0.6-0.8 0.6-2.3 0.6,0.3 0.6,2.1 0.6-1.3 0.6,1.3 0.6-0.9 0.6,1.7 0.6-1.5 0.6,1.1 0.6-1 0.6,0.9 0.6,0.3 0.6-1.3 0.6,0.7 0.6-0.5 0.6,0.7 0.6-1.5 0.6,2.2 0.6-2.3 0.6-0.8 0.6,2.5 0.6-3 0.6-0.3 0.6,2.4 0.6,2.8 0.6,0.4 0.6-2.1 0.6-2.9 0.6,1.9 0.6-0.2 0.6,1.6 0.6,0.8 0.6-1.6 0.6,2.2 0.6-1.3 0.6-1 0.6,0.8 0.6-0.7 0.6,1.6 0.6-1.5 0.6,0.3 0.6,3.2 0.6-0.9 0.6-0.4 0.6-2 0.6,0.6 0.6,0.1 0.6,0.2 0.6-0.6 0.6-0.4 0.6,2.3 0.6,1.6 0.6-3.3 0.6,1.4 0.6-0.3 0.6,0.4 0.6,1.4 0.6,0.7 0.6-3.6 0.6-0.2 0.6,0.3 0.6,1.2 0.6,0 0.6,1.1 0.6-0.7 0.6,0.8 0.6,0.2 0.6-1 0.6-2.2 0.6,5.4 0.6-3.6 0.6-0.1 0.6,2.9 0.6-2.2 0.6,0.4 0.6,0.9 0.6,0.1 0.6,1.4 0.6-4.6 0.6-0.9 0.6,1.2 0.6,2.9 0.6-0.8 0.6-0.1 0.6,1.8 0.6-0.8 0.6-1.1 0.6,1.5 0.6,2 0.6-0.6 0.6-2.3 0.6,1 0.6,0 0.6-2.5 0.6,2 0.6,1.3 0.6-1 0.6-3.3 0.6,5 0.6-4.3 0.6,0.6 0.6,2.4 0.6,0.3 0.6-2.5 0.6,1.8 0.6,1.2 0.6-3.5 0.6,2.5 0.6-0.2 0.6,0.5 0.6,0.6 0.6-0.6 0.6,0.8 0.6-1.3 0.6-0.8 0.6,0 0.6-0.1 0.6-0.4 0.6,1.2 0.6,2.1 0.6-2.3 0.6,3.9 0.6-1.3 0.6-1.5 0.6,3 0.6-4.7 0.6,3.8 0.6,0.8 0.6-1.1 0.6,0.1 0.6-1.1 0.6,0.3 0.6-1.8 0.6,1.9 0.6-0.5 0.6,1.8 0.6-2.2 0.6,2 0.6,1.8 0.6-4.9 0.6,3.6 0.6,0.1 0.6-0.2 0.6-2.3 0.6,3.3 0.6-1.6 0.6-1.4 0.6-2 0.6,3.3 0.6-0.4 0.6,1.4 0.6-4.2 0.6,3.2 0.6-0.1 0.6-0.2 0.6,1.6 0.6-1.3 0.6,1.9 0.6-4.1 0.6,2.5 0.6,0.1 0.6-2 0.6,3.6 0.6-3.8 0.6-0.2 0.6,3.5 0.6-2.1 0.6,1.2 0.6-1.4 0.6,1.3 0.6,1.4 0.6-2.2 0.6,1.3 0.6-0.6 0.6-1.1 0.6-0.4 0.6,1 0.6,3.1 0.6-3.2 0.6,1.6 0.6-2.1 0.6,2 0.6-2.4 0.6,1.4 0.6,0.8 0.6-0.4 0.6,3.1 0.6-3.5 0.6,0.8 0.6,1.8 0.6-2.2 0.6,0.2 0.6-0.1 0.6,0.8 0.6-1.3 0.6,0 0.6,1.1 0.6,0.2 0.6,0.7 0.6,0.2 0.6-1.8 0.6,1.8 0.6,1.3 0.6-2.4 0.6-1.3 0.6,2.1 0.6-1.6 0.6,0.6 0.6,2.3 0.6-2 0.6,0.7 0.6-1.2 0.6,5.3 0.6-5.4 0.6,0.2 0.6,2.5 0.6-3 0.6,1.9 0.6-0.4 0.6-1 0.6-0.7 0.6,1.8 0.6-0.7 0.6,0.4 0.6,1.8 0.6-3.5 0.6,1.3 0.6,1 0.6-1.3 0.6,0.8 0.6,1.7 0.6-2.3 0.6,1.5 0.6-0.8 0.6-0.5 0.6,0.1 0.6-1.3 0.6,2.6 0.6,0.6 0.6,0.9 0.6-0.1 0.6-1.9 0.6,0.4 0.6,2 0.6-0.3 0.6-0.2 0.6-2.9 0.6,3.8 0.6-1.9 0.6,3.1 0.6-2 0.6-2.4 0.6,4.1 0.6-3.6 0.6,4.7 0.6-2.8 0.6,1.8 0.6-1.6 0.6,0.4 0.6-1.4 0.6,0.9 0.6,0.2 0.6,1.1 0.6-1.3 0.6,1.9 0.6-0.1 0.6,0 0.6-1.7 0.6-2.4 0.6,3.6 0.6-2.9 0.6,4.5 0.6-0.6 0.6-1.6 0.6,0 0.6-0.1 0.6-1.2 0.6,2.8 0.6-1.9 0.6,1.4 0.6,4.7 0.6-2.7 0.6-0.6 0.6-0.8 0.6-0.6 0.6,1.3 0.6-2.3 0.6,3.5 0.6-1.3 0.6-1.3 0.6,3.1 0.6-3.5 0.6,0.6 0.6,1.7 0.6-0.1 0.6,0.2 0.6-0.1 0.6-1.7 0.6,1.1 0.6,3 0.6,0.3 0.6-3.1 0.6,4.9 0.6-1.5 0.6-1.3 0.6-0.8 0.6-2 0.6,1.9 0.6-4.9 0.6,5.1 0.6-0.9 0.6-0.1 0.6,1.7 0.6-1.4 0.6,0.6 0.6,0.6 0.6,1.5 0.6-0.2 0.6-1.8 0.6,1.4 0.6-0.6 0.6,0.1 0.6,0.3 0.6,0.5 0.6-0.7 0.6-0.3 0.6-0.7 0.6,1.4 0.6,1.7 0.6,0.3 0.6-1.9 0.6,3.3 0.6-1.4 0.6-2.2 0.6,2.1 0.6,0.6 0.6-2.7 0.6,5.8 0.6-3.7 0.6,0.6 0.6,0.1 0.6-2 0.6-0.8 0.6,0.6 0.6,0.9 0.6,0.5 0.6,0.9 0.6-0.3 0.6,2.4 0.6-1.6 0.6-1.6 0.6,1.1 0.6-1.3 0.6,3.5 0.6-1.4 0.6,0.7 0.6-3.1 0.6,2 0.6,0.1 0.6,1.4 0.6-1.1 0.6,0.7 0.6-0.6 0.6-4.1 0.6,5 0.6-1.4 0.6,1 0.6-3.3 0.6,3.4 0.6-0.2 0.6-1.9 0.6-1.9 0.6,2.1 0.6,1.2 0.6,3 0.6,1.5 0.6-5.3 0.6-0.2 0.6-1.7 0.6,1.1 0.6,1 0.6-2.3 0.6-0.7 0.6,3.5 0.6-2.3 0.6-0.5 0.6,2.9 0.6-2 0.6,0.9 0.6-1.8 0.6,0 0.6,4.9 0.6-2.9 0.6-2.4 0.6,1.2 0.6,2.3 0.6-0.8 0.6,0.8 0.6-2.1 0.6,2.4 0.6-3.8 0.6,0.5 0.6-1.2 0.6,0.8 0.6,0.1 0.6,0.1 0.6,0.5 0.6,3.7 0.6-3.7 0.6,2 0.6,2.3 0.6-5.9 0.6,2.3 0.6,2.4 0.6-2.9 0.6-0.2 0.6,0.3 0.6-1.9 0.6,3.8 0.6-3 0.6,2.8 0.6-2.2 0.6-0.3 0.6,1.7 0.6-4.5 0.6,6.4 0.6-0.5 0.6-1.5 0.6,0.6 0.6-3 0.6,2.5 0.6-2.9 0.6,2.7 0.6-1.9 0.6,0 0.6,1 0.6-0.9 0.6,0.5 0.6-2.6 0.6-0.5 0.6,4.1 0.6-1.3 0.6-1 0.6,0.9 0.6-2.1 0.6-1 0.6,6.9 0.6-2.2 0.6-2.8 0.6,1.2 0.6,1.8 0.6-0.7 0.6-0.6 0.6-2.3 0.6,3.9 0.6-1.7 0.6-2 0.6,0.7 0.6,1.7 0.6,0.3 0.6,2.2 0.6-0.1 0.6-1.3 0.6-2.6 0.6,0.1 0.6-0.8 0.6,0.6 0.6,0.2 0.6,0.9 0.6,1.4 0.6-3 0.6,2.4 0.6,2.1 0.6-3.4 0.6,0.5 0.6-3.5 0.6,4 0.6-0.9 0.6,2.2 0.6-2.7 0.6,0.6 0.6,1.6 0.6-1.6 0.6,2.3 0.6-2.8 0.6,1.5 0.6-1.2 0.6,1.9 0.6-0.3 0.6-0.9 0.6-1.5 0.6,1 0.6,3.8 0.6-4.6 0.6,1.1 0.6-1.1 0.6-0.8 0.6,0.5 0.6,2.3 0.6-0.6 0.6-1.3 0.6-0.8 0.6,2.7 0.6-0.2 0.6,0.5 0.6-2.1 0.6,1.6 0.6-4.6 0.6,2.2 0.6-0.5 0.6,0.8 0.6,1.8 0.6,2.9 0.6-6 0.6,1.7 0.6,3.3 0.6-7.2 0.6,3.1 0.6-1.3 0.6,2.7 0.6,2.3 0.6-1.5 0.6-2.4 0.6,4.3 0.6-2.4 0.6-2.6 0.6,0.1 0.6,1.4 0.6,4 0.6-3.6 0.6-2.3 0.6,0.5 0.6,1.9 0.6-1.2 0.6-0.4 0.6,1.4 0.6,0.5 0.6-0.1 0.6,0.2 0.6-1.2 0.6-0.1 0.6-1 0.6-0.1 0.6,1 0.6,3 0.6-4.1 0.6,2.1 0.6-4 0.6,3 0.6-3.9 0.6,2.4 0.6-1.6 0.6,2.1 0.6-0.5 0.6,1.4 0.6,0 0.6-0.1 0.6-1.9 0.6,2.8 0.6-3.3 0.6,1.9 0.6-1.4 0.6,2.4 0.6-1.7 0.6,2.6 0.6-1.6 0.6-0.7 0.6,1.2 0.6-1.3 0.6-0.5 0.6-0.1 0.6,3.2 0.6-2.7 0.6-0.1 0.6,0.9 0.6,0.1 0.6-4.4 0.6,1.6 0.6-0.3 0.6-0.3 0.6,3.1 0.6-1 0.6,2.2 0.6-3 0.6,3.2 0.6-1.9 0.6-2.2 0.6,0.3 0.6,2.2 0.6-0.1 0.6-3.4 0.6,1.3 0.6,1.4 0.6-1 0.6,0 0.6,1.8 0.6-0.8 0.6,2.3 0.6-3.5 0.6,0.2 0.6-1.5 0.6,0 0.6,2.2 0.6-3.1 0.6,3.5 0.6-2.5 0.6,2.1 0.6,0.2 0.6,0.9 0.6-1.8 0.6-3.5 0.6,3.2 0.6-0.5 0.6,1.2 0.6-1.3 0.6-0.2 0.6,0.2 0.6-1.4 0.6,2.1 0.6-0.6 0.6-1.7 0.6,1.3 0.6,2.1 0.6-3.1 0.6,1 0.6,2.1 0.6,0 0.6-0.6 0.6-1.9 0.6,0.8 0.6-1 0.6-2.3 0.6,1.1 0.6,2.5 0.6,1.1 0.6-3.1 0.6,3.2 0.6,0.1 0.6-1.1 0.6-0.6 0.6,0.8 0.6-0.8 0.6,4.5 0.6-3.5 0.6-0.6 0.6-1.1 0.6,0.6 0.6,0.8 0.6-4.1 0.6,2.3 0.6,0.5 0.6,0.4 0.6-0.2 0.6,1.9 0.6,0.3 0.6-1.9 0.6,2.7 0.6-3.3 0.6,1.5 0.6-1.7 0.6,0.9 0.6,1.4 0.6-0.2 0.6-0.4 0.6-2.6 0.6-0.2 0.6,2.4 0.6-0.5 0.6,1.3 0.6-3.3 0.6,1.7 0.6,1.3 0.6,1 0.6-2.8 0.6-2 0.6,2.6 0.6,1.5 0.6-0.1 0.6-0.5 0.6,2.6 0.6-4.8 0.6,2.1 0.6,1.9 0.6,1.6 0.6-5 0.6,0.1 0.6-1.8 0.6,0.5 0.6,2.1 0.6,1.8 0.6-2.9 0.6,1 0.6-1.1 0.6,2.4 0.6-2 0.6-0.2 0.6,1.4 0.6,0.6 0.6,0.6 0.6-3.6 0.6-1.8 0.6,1.7 0.6,3.7 0.6-3.9 0.6,2.3 0.6-3.1 0.6-2.3 0.6,1.9 0.6,4.2 0.6-5.6 0.6,0.9 0.6-2.5 0.6,1.9 0.6-0.4 0.6,3.6 0.6-5.1 0.6,3.9 0.6,1 0.6-4 0.6-0.5 0.6-1.2 0.6,0.2 0.6,1 0.6-0.1 0.6-1 0.6,0.6 0.6-0.3 0.6,3.5 0.6-3 0.6,0.2 0.6-1.5 0.6,1.8 0.6-2.8 0.6,0.1 0.6,2.7 0.6-1.9 0.6-1 0.6,2.3 0.6,1.8 0.6-3.4 0.6-0.9 0.6,0.2 0.6-1.7 0.6,1 0.6-2.1 0.6,3.1 0.6-3.5 0.6,2.8 0.6-1.4 0.6,3.4 0.6-1.8 0.6-3.1 0.6,1.5 0.6,0 0.6,1.6 0.6-3.1 0.6,2.5 0.6-3.9 0.6,1.1 0.6,1.7 0.6,0.2 0.6-0.6 0.6-1.5 0.6,0 0.6,2.6 0.6-3.1 0.6,2 0.6-4.6 0.6,5.5 0.6-4.4 0.6,3 0.6-2.5 0.6-1.4 0.6,0.9 0.6,2.3 0.6,0.4 0.6-4.7 0.6,3.3 0.6-2.6 0.6-0.8 0.6,4.1 0.6-5.6 0.6,3 0.6-0.1 0.6,1.1 0.6-2 0.6-0.6 0.6-1 0.6-0.1 0.6-0.2 0.6,1.6 0.6-0.2 0.6-0.5 0.6-0.3 0.6-1.7 0.6,0.3 0.6,1.5 0.6,1 0.6,1.3 0.6-2.7 0.6-0.5 0.6,2.7 0.6-2.4 0.6-1.1 0.6-0.1 0.6,2.3 0.6-1.3 0.6,1.1 0.6-3.7 0.6,0.7 0.6-3.6 0.6,4.7 0.6-3.4 0.6,2.1 0.6-0.3 0.6-1.6 0.6,4.3 0.6-1.2 0.6-4.3 0.6,0.6 0.6-1.5 0.6,1.8 0.6,1.4 0.6-2.2 0.6,1.8 0.6-0.7 0.6-0.2 0.6,1 0.6-4.7 0.6,1.9 0.6,0.7 0.6-0.6 0.6,1.2 0.6-0.5 0.6-0.9 0.6-0.6 0.6,3.5 0.6-5.4 0.6,4.8 0.6-1.9 0.6,0.4 0.6-2.5 0.6,2.6 0.6-4.4 0.6,0.1 0.6-0.6 0.6-0.1 0.6,1.4 0.6-1.1 0.6,1.5 0.6-1.1 0.6-1.6 0.6,2.3 0.6-1.8 0.6,0 0.6-2.4 0.6,0.2 0.6,1.1 0.6-2.2 0.6-2 0.6,0.9 0.6,1.2 0.6-0.4 0.6,1.3 0.6-1 0.6-1.5 0.6-0.5 0.6,2.3 0.6-0.6 0.6-0.4 0.6-0.4 0.6-1.2 0.6-1 0.6,1.2 0.6-1.1 0.6,1.6 0.6-3 0.6-1.1 0.6,0.9 0.6,1.2 0.6-6.3 0.6,4.5 0.6-2.3 0.6,3.6 0.6-2.5 0.6-1.7 0.6,0 0.6-0.7 0.6-0.2 0.6,0.9 0.6-0.1 0.6-1.4 0.6,0.3 0.6-0.4 0.6-1.9 0.6,0 0.6,0.6 0.6-2.6 0.6,1.3 0.6,0 0.6-2 0.6,0.5 0.6,2.4 0.6-3.5 0.6,2.8 0.6-2.3 0.6-1.3 0.6-0.9 0.6,2 0.6-1.2 0.6-2.1 0.6-2.2 0.6-0.3 0.6,1.3 0.6-1.6 0.6,2.9 0.6-0.8 0.6-1.9 0.6-0.4 0.6,3.1 0.6-4.4 0.6,2.7 0.6-1.5 0.6,1.2 0.6-1.6 0.6-2.5 0.6,3.2 0.6-1.4 0.6-1.3 0.6-1.2 0.6-2.1 0.6,2 0.6-1.7 0.6,3.5 0.6-1.9 0.6,2.5 0.6-5.7 0.6,2.2 0.6-2.1 0.6,2.2 0.6-0.3 0.6-0.5 0.6-0.8 0.6-1 0.6,1.8 0.6-3.1 0.6-1 0.6,3.2 0.6-0.8 0.6-0.9 0.6-0.7 0.6-4.4 0.6,1.1 0.6,2.7 0.6-6.4 0.6,2.5 0.6,2.7 0.6,0.3 0.6-3.5 0.6,2.6 0.6-3.1 0.6-1.5 0.6,2.2 0.6-0.6 0.6-0.3 0.6-3.7 0.6,0.6 0.6-0.2 0.6-1 0.6,0.8 0.6,0.5 0.6-1.9 0.6-1.4 0.6,1.2 0.6-0.4 0.6,0.6 0.6-4 0.6,0.4 0.6,0.3 0.6-0.5 0.6-0.8 0.6-0.1 0.6-1.9 0.6,0.7 0.6-1.4 0.6,0.5 0.6,0.4 0.6-3.2 0.6-0.6 0.6-1.2 0.6,2.4 0.6-0.3 0.6,1.2 0.6-3.5 0.6,0.7 0.6-3.7 0.6,2.9 0.6-3.9 0.6,2.6 0.6-2.4 0.6-2.8 0.6,1.8 0.6-2 0.6-1.3 0.6,2.3 0.6-6.2 0.6,4.6 0.6-2.4 0.6-1.6 0.6-1.1 0.6-1.7 0.6-1.2 0.6,3 0.6-2.6 0.6,2 0.6-4.4 0.6,0.5 0.6-2.4 0.6,2.2 0.6-1.7 0.6-3.4 0.6-1.2 0.6,0.6 0.6-0.7 0.6-0.8 0.6-0.9 0.6-1 0.6-5.8 0.6,1.8 0.6,2.3 0.6-2.8 0.6-0.3 0.6-2.9 0.6-4.2 0.6,0.1 0.6,0.3 0.6-1.7 0.6-0.6 0.6,0 0.6-2.1 0.6-4 0.6,2.5 0.6-5.8 0.6-3.2 0.6,1.9 0.6-3.2 0.6-0.3 0.6-0.9 0.6,1 0.6-3.7 0.6-5.1 0.6,0.5 0.6-1.2 0.6-4.6 0.6,0.8 0.6,1 0.6-3.9 0.6-4.9 0.6-1.2 0.6,0.4 0.6-3.6 0.6-0.4 0.6-5.7 0.6,0.7 0.6-2.6 0.6-0.9 0.6-3 0.6-1.4 0.6-1.3 0.6-1.3 0.6-2.4 0.6-2.7 0.6-3.8 0.6-2.3 0.6-3.8 0.6-0.3 0.6-3.4 0.6,0.7 0.6-5 0.6-2.9 0.6-3.9 0.6-3 0.6-1.9 0.6-4 0.6-1.4 0.6-3.3 0.6-1.7 0.6-3.8 0.6-1.4 0.6-3.2 0.6-1.7 0.6-1.9 0.6-6.6 0.6,0.3 0.6-5.6 0.6-0.9 0.6-3.5 0.6-3.4 0.6-1.8 0.6-2.2 0.6-7.2 0.6-2.7 0.6-0.9 0.6-5.2 0.6-4 0.6-6.6 0.6-3.3 0.6-3.5 0.6-6 0.6-3.4 0.6-2.7 0.6-3.5 0.6-7.9 0.6-0.3 0.6-8.6 0.6,0.4 0.6-5.7 0.6-6.7 0.6-3.2 0.6-4.1 0.6,0.4 0.6-5.3 0.6-3.8 0.6-2.9 0.6-3.2 0.6-4.7 0.6-2.9 0.6-1.8 0.6-3.9 0.6-3.7 0.6-3.5 0.6-2.8 0.6-1.2 0.6-5.3 0.6-3.5 0.6-4.4 0.6,0.5 0.6-4.7 0.6-0.3 0.6-5.2 0.6-0.2 0.6-2.6 0.6-1.6 0.6-2.6 0.6-1.9 0.6,0.7 0.6-4.6 0.6,1.1 0.6-2.4 0.6-2.8 0.6,0.7 0.6-0.2 0.6-4.3 0.6-0.3 0.6-0.7 0.6-0.1 0.6,0.3 0.6-0.1 0.6,2.1 0.6-1.2 0.6-0.4 0.6-3.1 0.6-2.1 0.6,2.4 0.6,1.6 0.6-2.3 0.6,2.5 0.6,0.6 0.6,0.2 0.6-1.3 0.6,0.4 0.6,2.2 0.6,2.8 0.6-2 0.6,3.5 0.6,1.2 0.6,0.7 0.6,2.2 0.6,1 0.6-1.9 0.6,6.1 0.6,0.9 0.6,4.7 0.6,1.7 0.6,2.3 0.6,2.3 0.6,3.2 0.6,3.4 0.6,4.2 0.6,0 0.6,4.4 0.6,5.2 0.6,2.8 0.6,3.6 0.6,2.7 0.6,4.4 0.6,1.3 0.6,3.2 0.6,5.2 0.6,2.8 0.6,5 0.6,0.9 0.6,6.1 0.6,2.2 0.6,3.6 0.6,5.4 0.6,4.6 0.6,1.6 0.6,3.5 0.6,2.4 0.6,2 0.6,2.9 0.6,3.5 0.6-0.6 0.6,7.3 0.6-0.5 0.6,3.2 0.6,5.2 0.6-1.3 0.6,3.9 0.6,4.4 0.6,2.7 0.6,3.5 0.6,2 0.6,4.5 0.6,0.2 0.6,2.8 0.6,4.5 0.6,4.1 0.6-1.7 0.6,3.7 0.6,3.8 0.6-1.5 0.6,3.9 0.6,4.6 0.6-1.8 0.6,5.1 0.6,3 0.6,0.1 0.6,1.1 0.6,4.4 0.6-4.5 0.6,4.9 0.6,1.9 0.6,2.3 0.6,0.9 0.6,3.1 0.6,0.6 0.6-1 0.6,3.3 0.6,0.2 0.6,1.6 0.6-2.4 0.6,1.8 0.6,1.8 0.6,0.1 0.6,1.3 0.6,0.6 0.6-3.2 0.6,8 0.6-2.7 0.6,0.1 0.6-1 0.6,4.1 0.6-1 0.6-1.3 0.6,3.8 0.6-3.5 0.6-2.3 0.6,5 0.6,1.9 0.6-3.9 0.6,1.6 0.6-3.4 0.6,3.9 0.6,0.6 0.6-2.7 0.6,0 0.6,0.4 0.6-1.7 0.6,2.6 0.6,1 0.6,0.9 0.6-0.6 0.6,0.6 0.6,0.1 0.6,0.8 0.6,1.9 0.6-4.3 0.6-0.1 0.6,3.1 0.6-4 0.6,5.4 0.6-3.7 0.6-1.1 0.6,0.5 0.6-1.9 0.6-1 0.6-0.2 0.6,1.4 0.6-2.6 0.6,2.7 0.6,0 0.6-0.3 0.6-0.2 0.6-1 0.6,0.9 0.6-0.1 0.6-5.5 0.6,0.7 0.6-1.3 0.6,0.1 0.6,1.3 0.6-4.6 0.6-0.1 0.6,2 0.6-4 0.6,3.3 0.6-5.9 0.6,1.8 0.6-4 0.6,1.6 0.6-4.1 0.6-0.2 0.6-1.7 0.6-0.9 0.6-1.8 0.6-1.7 0.6-1.7 0.6,3 0.6-4.6 0.6-1.6 0.6-2.2 0.6-2.3 0.6-5.4 0.6,0 0.6,0.7 0.6-3.9 0.6-4.6 0.6,0.6 0.6-4.7 0.6-1.5 0.6-4.2 0.6-2 0.6-3.2 0.6-2.6 0.6-2.2 0.6-6.3 0.6-1.9 0.6-2.8 0.6-5.5 0.6-1.4 0.6-3 0.6-4 0.6-2.7 0.6-3.3 0.6-8.1 0.6-0.2 0.6-7.6 0.6-3.5 0.6-2.4 0.6-6.5 0.6-4.5 0.6-6.5 0.6-6.9 0.6-3.1 0.6-5.8 0.6-5.4 0.6-10.1 0.6-3.9 0.6-6.4 0.6-5.7 0.6-4 0.6-10.2 0.6-1.6 0.6-4.1 0.6-10.1 0.6-2.9 0.6-8.2 0.6-4.6 0.6-3.8 0.6-5.4 0.6-4.4 0.6-2 0.6-3.2 0.6-2.5 0.6-4.3 0.6-2.1 0.6-1.7 0.6-2.5 0.6-6.6 0.6,1.6 0.6,2.1 0.6-5.5 0.6,4.6 0.6-3.1 0.6,1.2 0.6-0.1 0.6-0.8 0.6-1.2 0.6-0.5 0.6,5.4 0.6-1 0.6,2 0.6-0.5 0.6,1.6 0.6,5.4 0.6,1.9 0.6,2.9 0.6,1 0.6,5.6 0.6,4.8 0.6,4.5 0.6,5.4 0.6,4.5 0.6,3.7 0.6,12.2 0.6,5.8 0.6,6 0.6,12.2 0.6,4.5 0.6,9.1 0.6,10 0.6,12.1 0.6,5.6 0.6,13.3 0.6,11.9 0.6,9.5 0.6,16 0.6,10.9 0.6,13.9 0.6,9.5 0.6,11.6 0.6,12.4 0.6,11.3 0.6,9.6 0.6,12.6 0.6,9.3 0.6,10.7 0.6,5.6 0.6,9.3 0.6,4.2 0.6,10 0.6,4.3 0.6,5.7 0.6,7.5 0.6,1.6 0.6,4.6 0.6,3.2 0.6,3.8 0.6,5.2 0.6,0.4 0.6,4.8 0.6,2.3 0.6,7.1 0.6,2.5 0.6,2.2 0.6-0.1 0.6,2.2 0.6,1.3 0.6,3 0.6,4.8 0.6,0.2 0.6-0.8 0.6,2.6 0.6,6 0.6,0.1 0.6,3.7 0.6-0.8 0.6,1 0.6,2.2 0.6,4.8 0.6,1 0.6,1.3 0.6-1.2 0.6,3.9 0.6,1.9 0.6,1.5 0.6,1.3 0.6,3 0.6,1.7 0.6,0.4 0.6,0.8 0.6,1.6 0.6-1 0.6,2.1 0.6-0.2 0.6,3.2 0.6,3.5 0.6-2 0.6-1.3 0.6,1.8 0.6,5 0.6-2.2 0.6,1 0.6,0 0.6,1.4 0.6-0.2 0.6,1.5 0.6,0.5 0.6-1.4 0.6,1.7 0.6,1.3 0.6,2.5 0.6-0.1 0.6,0.2 0.6-0.9 0.6,3.7 0.6-2.2 0.6-1.2 0.6,2.3 0.6,3.1 0.6-3.1 0.6,2 0.6-0.4 0.6,0 0.6,1 0.6,1.7 0.6,1.6 0.6-4.3 0.6,5.1 0.6-2.2 0.6,3.2 0.6-3 0.6-0.5 0.6,1.9 0.6,2.8 0.6-0.2 0.6-2.4 0.6,0.3 0.6,1.6 0.6,0.9 0.6-1.7 0.6,1.9 0.6,0.6 0.6-0.6 0.6,1.1 0.6-1 0.6-0.2 0.6,1.8 0.6,4.6 0.6-3.3 0.6,1 0.6,1.2 0.6-0.7 0.6-2.5 0.6,4.4 0.6-1.4 0.6,0.8 0.6,1.4 0.6,0.3 0.6-2.9 0.6,3.1 0.6-4.6 0.6,3.3 0.6-0.6 0.6-0.1 0.6,3.4 0.6-3.7 0.6,1.6 0.6,0.6 0.6-0.8 0.6,0.9 0.6,0.4 0.6,2.1 0.6-1.4 0.6-0.9 0.6,2.4 0.6-2.2 0.6,2 0.6-1.1 0.6,1 0.6,1.9 0.6-1 0.6,0.8 0.6,0.6 0.6,0.3 0.6,2.2 0.6-2.4 0.6,0 0.6,1.6 0.6,1.1 0.6-3.1 0.6,0.7 0.6-0.9 0.6,0.3 0.6,3.3 0.6-1.2 0.6,0.5 0.6-1.3 0.6,3 0.6,0.2 0.6-3 0.6,3.7 0.6-1.5 0.6,0.1 0.6,2.7 0.6-0.9 0.6,0.4 0.6-0.2 0.6,1 0.6-2.8 0.6,2.1 0.6-1.7 0.6,0.3 0.6,4.1 0.6-3.7 0.6,2.3 0.6-1.7 0.6-0.3 0.6-0.3 0.6,0.7 0.6,1.8 0.6,0.8 0.6-0.9 0.6,0 0.6,0.4 0.6,0.5 0.6-1.1 0.6,1.6 0.6-0.9 0.6,0.3 0.6-1.3 0.6,2.7 0.6,0.1 0.6,0.5 0.6-2.3 0.6,0.7 0.6,1.1 0.6-2.9 0.6,4.1 0.6-2.5 0.6,0.7 0.6,1.3 0.6,1.1 0.6-0.3 0.6-2.3 0.6,3.5 0.6-1.6 0.6,0.9 0.6-1.2 0.6,1.3 0.6-0.3 0.6,1.4 0.6-2.2 0.6,1.6 0.6-1.2 0.6,2.8 0.6-0.7 0.6-1.2 0.6,0.6 0.6-0.7 0.6,0.7 0.6-1.9 0.6,0.4 0.6-0.8 0.6,0.7 0.6-0.7 0.6,0.1 0.6,1.2 0.6,1.3 0.6-0.5 0.6-0.3 0.6,1.4 0.6-0.4 0.6-2.1 0.6,0.5 0.6,2.3 0.6,0.3 0.6-0.5 0.6,1.7 0.6-4 0.6,1 0.6,2.4 0.6-1.3 0.6,0.7 0.6-2.9 0.6,3.8 0.6-0.8 0.6-3.4 0.6,0 0.6,0.1 0.6,1.9 0.6,1.3 0.6,0.6 0.6-2.4 0.6,2.4 0.6-1 0.6,0.1 0.6-1.7 0.6,2.6 0.6-2.5 0.6,2.4 0.6,0 0.6,0.9 0.6-2 0.6,0.7 0.6-0.4 0.6,0.7 0.6-0.6 0.6-2.3 0.6,1.8 0.6-0.8 0.6,1.6 0.6,0.1 0.6-1.8 0.6-2.3 0.6,5 0.6-1.6 0.6,1.5 0.6-1.5 0.6,0.5 0.6,1.2 0.6,1.5 0.6,0.1 0.6-4.4 0.6,1.9 0.6,0.1 0.6-0.8 0.6,1 0.6-3.2 0.6,2.9 0.6-1.3 0.6,1.3 0.6,2.5 0.6-3 0.6,0.4 0.6,1.1 0.6-2.7 0.6,1 0.6-0.2 0.6,3.1 0.6-1.2 0.6,1.9 0.6-3.4 0.6-0.7 0.6,2.4 0.6-4.3 0.6,5.1 0.6-2 0.6,3.5 0.6-0.1 0.6-3.6 0.6,0.4 0.6-2.9 0.6,2.7 0.6-1.6 0.6,3.1 0.6-2.1 0.6-1.2 0.6,2 0.6-2 0.6,0.5 0.6,1.2 0.6,2 0.6-0.6 0.6,1.5 0.6-3.9 0.6-0.8 0.6,1.8 0.6-0.2 0.6,3.6 0.6-4.6 0.6,3.7 0.6-1.2 0.6-3.9 0.6,2.3 0.6,1.9 0.6,0.1 0.6-1.7 0.6-1.3 0.6,1.4 0.6,0.2 0.6-0.6 0.6-0.3 0.6,3.4 0.6,0.4 0.6-4.7 0.6,3 0.6,2.2 0.6-2.5 0.6-0.5 0.6,0.3 0.6-2.3 0.6,3.4 0.6-1.5 0.6,2 0.6-5.2 0.6,4.9 0.6,0.7 0.6-3.6 0.6,0.8 0.6,2.2 0.6-2.8 0.6-0.3 0.6,1.9 0.6-1.5" fill="none" stroke="#ff0000" stroke-width="8.2" stroke-linejoin="round" stroke-linecap="butt"/>
<line x1="1416.6" y1="2170.5" x2="1416.6" y2="2121.2" stroke="#ff0000" stroke-width="5.0"/>
<line x1="299.8" y1="2170.7" x2="299.8" y2="2166.2" stroke="#ff0000" stroke-width="4.0"/>
<path d="M226.3,2263.5l0.6,0 0.6,0 0.6,0 0.6,0 0.6,0 0.6,0 0.6-0.1 0.6-0.1 0.6-0.1 0.6-0.3 0.6-0.3 0.6-0.5 0.6-0.7 0.6-0.8 0.6-1.1 0.6-1.2 0.6-1.5 0.6-1.6 0.6-1.8 0.6-1.9 0.6-2.1 0.6-2.1 0.6-2.2 0.6-2.3 0.6-2.2 0.6-2.3 0.6-2.2 0.6-2.2 0.6-2.1 0.6-1.9 0.6-1.9 0.6-1.7 0.6-1.5 0.6-1.4 0.6-1.1 0.6-1 0.6-0.7 0.6-0.6 0.6-0.5 0.6-0.3 0.6-0.3 0.6,1.8 0.6-3.6 0.6,2.7 0.6-0.8 0.6-3.8 0.6,3 0.6,0.6 0.6,0.6 0.6-3.4 0.6-0.1 0.6,3.2 0.6,1.1 0.6-2.1 0.6-2.4 0.6,1.4 0.6,2.6 0.6-2.5 0.6-0.7 0.6,1.3 0.6-0.3 0.6,0.2 0.6,0.8 0.6,0.3 0.6,1.1 0.6-0.3 0.6,0.9 0.6-3.4 0.6-0.1 0.6,0.7 0.6-0.6 0.6,0.7 0.6,1.3 0.6-1.5 0.6,0.9 0.6-0.2 0.6,3.1 0.6-2.5 0.6-1.5 0.6,1.3 0.6,0.9 0.6,1.2 0.6-1.4 0.6-3.3 0.6,3.3 0.6-2.7 0.6,2.5 0.6-2.4 0.6,2.6 0.6-1.4 0.6-0.3 0.6,0.1 0.6,2.5 0.6-0.9 0.6,0.9 0.6-1.1 0.6,0.4 0.6-0.1 0.6-1.3 0.6,2.7 0.6-0.3 0.6-0.3 0.6-0.5 0.6,1 0.6-2 0.6,2.6 0.6-4.5 0.6,2.8 0.6-1.7 0.6,3.7 0.6-1.2 0.6-0.6 0.6-2.6 0.6,2.8 0.6-2.2 0.6,3.6 0.6-3.4 0.6,3.5 0.6,1.9 0.6,0.4 0.6-3.4 0.6,0.7 0.6-0.6 0.6,0.5 0.6-0.8 0.6-1.7 0.6,3 0.6-0.7 0.6,1.1 0.6,2.3 0.6-2.3 0.6-2.8 0.6,3.8 0.6-4.9 0.6,2.8 0.6,0.3 0.6-0.7 0.6,1.5 0.6,0 0.6-2 0.6,3.4 0.6-0.9 0.6,1.8 0.6-2 0.6-4.7 0.6,3.1 0.6,3.4 0.6,1.4 0.6-3.7 0.6-0.1 0.6,2.1 0.6-3 0.6,1.5 0.6-0.4 0.6,0 0.6-0.5 0.6,2.5 0.6,0.5 0.6-3.3 0.6,2.5 0.6,1.8 0.6-2.5 0.6,1.4 0.6-1.2 0.6-4.5 0.6,2.3 0.6,3.6 0.6,1.3 0.6-1.9 0.6,1.6 0.6-1.9 0.6,0 0.6-0.5 0.6,1.1 0.6,2.3 0.6-2 0.6-0.2 0.6-0.2 0.6-1.5 0.6,3.6 0.6-1.3 0.6,0.7 0.6,0.5 0.6-2.3 0.6,2.1 0.6-4.1 0.6,7.2 0.6-6.3 0.6,2.8 0.6,1.7 0.6-2.2 0.6,0.1 0.6-1.3 0.6-0.4 0.6,3.3 0.6-1.1 0.6-0.5 0.6,0.3 0.6,0.9 0.6-2.7 0.6,1.8 0.6,2.7 0.6-2.5 0.6,0.9 0.6,0.1 0.6-1.8 0.6,0.4 0.6,0.6 0.6-0.1 0.6-0.7 0.6,2.5 0.6-1.1 0.6-1.8 0.6,3 0.6-0.1 0.6,0.3 0.6-2.6 0.6,2.5 0.6-2.4 0.6,2.4 0.6-0.9 0.7-0.1 0.6,1.4 0.6,0.8 0.6-3.1 0.6,2.3 0.6-1.4 0.6-0.2 0.6,3.4 0.6-4.2 0.6,1.8 0.6,0.8 0.6,0.2 0.6,0.2 0.6-1.1 0.6-2.9 0.6,3.6 0.6,1.7 0.6-1.3 0.6-3.7 0.6,3.2 0.6-2.9 0.6,4.4 0.6,0.1 0.6,0.7 0.6-0.2 0.6-1.4 0.6-0.2 0.6,3.1 0.6-1.1 0.6-0.3 0.6-0.5 0.6-2.7 0.6-0.2 0.6,1.8 0.6-0.4 0.6,2.6 0.6-1.7 0.6,3.4 0.6-2.6 0.6-0.5 0.6-0.8 0.6,1.7 0.6,0.1 0.6,1.5 0.6,2.1 0.6-2.5 0.6,2.1 0.6-2.3 0.6-0.1 0.6,1.8 0.6,0.8 0.6-2.5 0.6,0.7 0.6-1.6 0.6-0.6 0.6-1.1 0.6,1.1 0.6,3.1 0.6-1.3 0.6-3.4 0.6,4.8 0.6-0.8 0.6-2.6 0.6,1.2 0.6,2 0.6-1.5 0.6,1.6 0.6-2.3 0.6,1.7 0.6-0.3 0.6-0.2 0.6,3.6 0.6-2.9 0.6-0.8 0.6,0.5 0.6,1 0.6-0.6 0.6-2.5 0.6,1.3 0.6,2.2 0.6-2.7 0.6,1.2 0.6,1.3 0.6,2.1 0.6-3.7 0.6,2.7 0.6-2.3 0.6-1.2 0.6,0.7 0.6,3 0.6-0.4 0.6-2.5 0.6-0.7 0.6,1.7 0.6,0.3 0.6-3.2 0.6,0.3 0.6,2.2 0.6,1 0.6-1.6 0.6,3 0.6-2.3 0.6-0.1 0.6-1.6 0.6,1.1 0.6,3.8 0.6-5.9 0.6,2 0.6,4.2 0.6-0.7 0.6-3.6 0.6,3.2 0.6-3.4 0.6,3 0.6,0.8 0.6-5.1 0.6-0.2 0.6,3.2 0.6-3.1 0.6,2.1 0.6-0.3 0.6,1.1 0.6-1.4 0.6-1.3 0.6,0 0.6-1 0.6,0.4 0.6,1.8 0.6,1.9 0.6-2.2 0.6,0.3 0.6,1.7 0.6,1.2 0.6-0.6 0.6,1.2 0.6-1 0.6-1.7 0.6-1.7 0.6,1.8 0.6,1.1 0.6-0.1 0.6-0.4 0.6-2.2 0.6,1.9 0.6,3.1 0.6-2.8 0.6,2.9 0.6-1.6 0.6-1.2 0.6,1.7 0.6-1.1 0.6-2 0.6,3.4 0.6-2.9 0.6,0.4 0.6,0.4 0.6,2.6 0.6-3 0.6,1.2 0.6-0.4 0.6,1.3 0.6-1.9 0.6,4.3 0.6-2.6 0.6-0.5 0.6-3 0.6,7 0.6-0.4 0.6-1.4 0.6-0.7 0.6,1.9 0.6-2.3 0.6,1.7 0.6-0.4 0.6,2.5 0.6-2.7 0.6,0.7 0.6-2.1 0.6,1.2 0.6-0.9 0.6,1.9 0.6,1.9 0.6-2.2 0.6,3.7 0.6-0.1 0.6-1.1 0.6-2.2 0.6-0.3 0.6,4.6 0.6-2.1 0.6-2.4 0.6,2.7 0.6,2 0.6-2.6 0.6-2 0.6,3.2 0.6-0.1 0.6-4.1 0.6,2.2 0.6,2.9 0.6-3.1 0.6-0.6 0.6,2.5 0.6-0.8 0.6-1 0.6,0.8 0.6-1.9 0.6,0.3 0.6,0.7 0.6-1 0.6,3 0.6,0.8 0.6,1 0.6-1.3 0.6,0.9 0.6-1.4 0.6-1.9 0.6-0.8 0.6,1.3 0.6,0.1 0.6,0.5 0.6-0.3 0.6,1.6 0.6,0.3 0.6,0.9 0.6-1.4 0.6-1 0.6,0.8 0.6-0.5 0.6-2.7 0.6,2.3 0.6-0.2 0.6,1 0.6-0.8 0.6,2.5 0.6-2.5 0.6-0.2 0.6-0.3 0.6,3.9 0.6-2 0.6-2.5 0.6,1 0.6,3.4 0.6-0.8 0.6,0.5 0.6-2.4 0.6-0.7 0.6,1.8 0.6,2.3 0.6-2.9 0.6,3.4 0.6-4.7 0.6,3.1 0.6,0.1 0.6,0.2 0.6-1.7 0.6-0.1 0.6-0.6 0.6,0.9 0.6,0 0.6-1.9 0.6-0.5 0.6,1.7 0.6-0.5 0.6-0.4 0.6,1.6 0.6,0.6 0.6,1.2 0.6-1.4 0.6-3.4 0.6,3.7 0.6,0.8 0.6-1.7 0.6-0.7 0.6-0.2 0.6,2 0.6-2.2 0.6,1.4 0.6-0.1 0.6-0.3 0.6,1 0.6-0.5 0.6-2.1 0.6,2.8 0.6-1.2 0.6-1.4 0.6,0.4 0.6,0 0.6,2.1 0.6,0.2 0.6-1.7 0.6,0.5 0.6,1.8 0.6-2.7 0.6-0.8 0.6-1.7 0.6,2.4 0.6,0.1 0.6,0.9 0.6-1.7 0.6,0.8 0.6-3.7 0.6,4.2 0.6-3.2 0.6,2.3 0.6,1.4 0.6-2.5 0.6,0.1 0.6-2 0.6,1.2 0.6,1 0.6,0.7 0.6,0.3 0.6-1 0.6-0.5 0.6,1.5 0.6-0.1 0.6-1.8 0.6,1.9 0.6-1.3 0.6,0.2 0.6,0.7 0.6-3.3 0.6,0.4 0.6,1.5 0.6,1.9 0.6-2.4 0.6,0.6 0.6-0.2 0.6-0.2 0.6,0.8 0.6-4.5 0.6,2.6 0.6,1.2 0.6-0.9 0.6,1.1 0.6,0.5 0.6,0.1 0.6-2 0.6-1.3 0.6-0.5 0.6,1.8 0.6-0.2 0.6,3.1 0.6,0.4 0.6-2.5 0.6-2 0.6-0.7 0.6,2.3 0.6,1.6 0.6-1.5 0.6-0.4 0.6,1.4 0.6-1.2 0.6-1.8 0.6,2.3 0.6-0.8 0.6-3.2 0.6,2.2 0.6-0.1 0.6,1.5 0.6-2.2 0.6,3.6 0.6-4.4 0.6,2 0.6,1.3 0.6-0.3 0.6-0.8 0.6,3.3 0.6-3.1 0.6-0.4 0.6,2.1 0.6-2.6 0.6-1.3 0.6,4.1 0.6-1.3 0.6-2.1 0.6-2.5 0.6,3.9 0.6-1.1 0.6,1.2 0.6-1.3 0.6-0.7 0.6,1.6 0.6-2 0.6-4.1 0.6,2.5 0.6,2.6 0.6-0.5 0.6,2.5 0.6-1.8 0.6,0.4 0.6,0.6 0.6,1.7 0.6-5.5 0.6,1.6 0.6,2.5 0.6-3.1 0.6,0 0.6,3.2 0.6-4.1 0.6,5.5 0.6-5 0.6,3 0.6-2.3 0.6,3.5 0.6-3.2 0.6-1.6 0.6-0.2 0.6,1.7 0.6-0.2 0.6,1.5 0.6-0.5 0.6-0.8 0.6,2.1 0.6-2.6 0.6,0.9 0.6-1.1 0.6-0.7 0.6,1.6 0.6,1.2 0.6-2.3 0.6,1.6 0.6-1 0.6-0.2 0.6,1.9 0.6-2.9 0.6,2.8 0.6-1.8 0.6-1.4 0.6,0.3 0.6,0.3 0.6-2.3 0.6,2.7 0.6-0.5 0.6-1.3 0.6,4.2 0.6-2.1 0.6-1.9 0.6,0.5 0.6,1.7 0.6-1.7 0.6-0.2 0.7,0.9 0.6-1.8 0.6,3.7 0.6-2.9 0.6,1.3 0.6,0.1 0.6,2.6 0.6-6.6 0.6,7.7 0.6-4.2 0.6,0.5 0.6-3.2 0.6,3.8 0.6-0.6 0.6-0.6 0.6-0.9 0.6-0.6 0.6,0.7 0.6,4.4 0.6-2.4 0.6-2.1 0.6,0 0.6-0.7 0.6,2.7 0.6-0.7 0.6-0.6 0.6-1.2 0.6-0.5 0.6,1.8 0.6-2.1 0.6,1.8 0.6-0.7 0.6,3.2 0.6-0.5 0.6-3.8 0.6,2.9 0.6-3.3 0.6,0.6 0.6,4 0.6-1.8 0.6-0.6 0.6,1 0.6,2.8 0.6-3.9 0.6,0.8 0.6,2 0.6-1.7 0.6,0.2 0.6-4.1 0.6,2.7 0.6,2 0.6-1.3 0.6,2.9 0.6-4.1 0.6,1.1 0.6-2.1 0.6,2 0.6-2.4 0.6-0.1 0.6,4.2 0.6-1.4 0.6-0.7 0.6,0.3 0.6,1.2 0.6-1.1 0.6-0.1 0.6-1.6 0.6,1.7 0.6-0.7 0.6-1.7 0.6,1.1 0.6,1.6 0.6,0.9 0.6-1.9 0.6,1.7 0.6-2.4 0.6,1.4 0.6,2.1 0.6-3.7 0.6,2.4 0.6-2.3 0.6,0.6 0.6-0.5 0.6,3.6 0.6-2 0.6-0.7 0.6-4.4 0.6,2.5 0.6,0.7 0.6-1.6 0.6,2.2 0.6-0.1 0.6,1.1 0.6-1.7 0.6,4 0.6-0.8 0.6-4.6 0.6,0.1 0.6,1.1 0.6,0.9 0.6-3.2 0.6,0.9 0.6,3.3 0.6-2.3 0.6-1 0.6,1.9 0.6,2.3 0.6-2.6 0.6-1.2 0.6-0.5 0.6,2 0.6-1.6 0.6,0.5 0.6-1 0.6,2.7 0.6-0.8 0.6-2.1 0.6-0.8 0.6,1.4 0.6-1.1 0.6,0.5 0.6,1.6 0.6-3.8 0.6,3.7 0.6,0.2 0.6-1.8 0.6-1.2 0.6,0.7 0.6,1.7 0.6,0.8 0.6-3 0.6,0.4 0.6,1.7 0.6-0.7 0.6-3 0.6,0.5 0.6,5.2 0.6-2.9 0.6-3.1 0.6,2.8 0.6,2.3 0.6-1.5 0.6-3.7 0.6,3.1 0.6-2.6 0.6,2.9 0.6-3.5 0.6,1.9 0.6-1 0.6,0.2 0.6,0.8 0.6,3.5 0.6-5.9 0.6-0.1 0.6,0.4 0.6-0.7 0.6,2.6 0.6-2.1 0.6,3.3 0.6,0 0.6-2.8 0.6,3.3 0.6-4.4 0.6,1.3 0.6-0.5 0.6,1.3 0.6-1.9 0.6-0.8 0.6,3.2 0.6-0.9 0.6-2.2 0.6,2.8 0.6-3.1 0.6,2.4 0.6-1 0.6-1.7 0.6-0.2 0.6,2.7 0.6-4.6 0.6,3.2 0.6,0.4 0.6-2.4 0.6,0.8 0.6-2.9 0.6,3.9 0.6,1.7 0.6,0.8 0.6-2.8 0.6-1.3 0.6-0.9 0.6-0.3 0.6-0.9 0.6,2.1 0.6,0.6 0.6-6.1 0.6,0.7 0.6,4.5 0.6-1.2 0.6,0.7 0.6-3.7 0.6,0.9 0.6,5.3 0.6-3.6 0.6,0.9 0.6-1.5 0.6,1.2 0.6-1.3 0.6,1.5 0.6-3.2 0.6,2.3 0.6-2.7 0.6,3.7 0.6-3.1 0.6-0.3 0.6,0.5 0.6,0.6 0.6,1.2 0.6-1.1 0.6,0.8 0.6-3.3 0.6,0.6 0.6-0.6 0.6-0.6 0.6,3 0.6-1 0.6-0.2 0.6,0.2 0.6,0 0.6,0.2 0.6-1.4 0.6-4.3 0.6,2.5 0.6-0.2 0.6-0.1 0.6,2.2 0.6-2.7 0.6,0.7 0.6-0.8 0.6,0.8 0.6-4.2 0.6,5.3 0.6-2.2 0.6,0.3 0.6-0.7 0.6-3.3 0.6-0.6 0.6,1.5 0.6,2.2 0.6-3.5 0.6,1.3 0.6,2.7 0.6-4.3 0.6,1 0.6-0.6 0.6-1.6 0.6-1.4 0.6,4 0.6-2.7 0.6-0.5 0.6-0.1 0.6,0.2 0.6-2.7 0.6,3.3 0.6-1.2 0.6-3.7 0.6,2.7 0.6-1.7 0.6-1.9 0.6,3.9 0.6,1.2 0.6,1.7 0.6-4.5 0.6-0.5 0.6,0.7 0.6-2.3 0.6-1.5 0.6,1.4 0.6,1.3 0.6,1.5 0.6-2.7 0.6-0.7 0.6-1.9 0.6,3.7 0.6-0.4 0.6,1.8 0.6-2.9 0.6-2.8 0.6-0.7 0.6,1.8 0.6,1.4 0.6-2.7 0.6,2 0.6-0.6 0.6-5.6 0.6,5.4 0.6-1.8 0.6,0.1 0.6-1.8 0.6,2.4 0.6-1.1 0.6-2.7 0.6,2.7 0.6-0.1 0.6-0.3 0.6,1 0.6,0.5 0.6-4.4 0.6,2.5 0.6-1.1 0.6-3.1 0.6,0.7 0.6,2.1 0.6-3.3 0.6,0.8 0.6,0.8 0.6-4.7 0.6,3.6 0.6-0.6 0.6-1.3 0.6-0.2 0.6-0.3 0.6,0.4 0.6-0.4 0.6-1.4 0.6,1 0.6-0.8 0.6-1.9 0.6-0.3 0.6,1.2 0.6,0.2 0.6-3.8 0.6,4.6 0.6-3.3 0.6-0.4 0.6,2.5 0.6-0.7 0.6-4.9 0.6,1.1 0.6,1.2 0.6-0.8 0.6-1.1 0.6,2.4 0.6-4.2 0.6,4.5 0.6-3.9 0.6,1 0.6-0.2 0.6-2.4 0.6,1.3 0.6-3.6 0.6-0.4 0.6-0.8 0.6,1 0.6,2 0.6-2.8 0.6,3.5 0.6-6.8 0.6,1.7 0.6,0.2 0.6,3.9 0.6-5.9 0.6,1.8 0.6-0.7 0.6,1 0.6,2.8 0.6-4.5 0.6-1.9 0.6,1.2 0.6-2.8 0.6-1 0.6,1.9 0.6-2.4 0.6,2.3 0.6-0.6 0.6-0.2 0.6-1.1 0.6-2.9 0.6,1.9 0.6,0.3 0.6-1.9 0.6,2.3 0.6-1.1 0.6-3.6 0.6-1.2 0.6-0.5 0.6,3.5 0.6-2 0.6-0.4 0.6-1.9 0.6,0.3 0.6,1.6 0.6,1.3 0.6-3 0.6,1.5 0.6-5.2 0.6,1.9 0.6-3.2 0.6,1.4 0.6,2 0.6-0.1 0.6,2.2 0.6-4.9 0.6-3.1 0.6,3.6 0.6-1.1 0.6,0.7 0.6-0.9 0.6-3 0.6-1.4 0.6,2.8 0.6-2.3 0.6,3.5 0.6-3.4 0.6-1.7 0.6-3.3 0.6,1.5 0.6-4.3 0.6,2.4 0.6-0.7 0.6-0.9 0.6-1.1 0.6,1.7 0.6-3.5 0.6-1.7 0.6-2.6 0.6,0.1 0.6,0.6 0.6-3.4 0.6,3.6 0.6-3.4 0.6-2.8 0.6-0.1 0.6-1.2 0.6,0.7 0.6-0.4 0.6-3.6 0.6-3 0.6,1.2 0.6-2.3 0.6-2.3 0.6,2.1 0.6-4.8 0.7,0.2 0.6,0.1 0.6-3.6 0.6-1.3 0.6,0.7 0.6-3.3 0.6,0.3 0.6-3.7 0.6,0.6 0.6-1.7 0.6-2.1 0.6,0 0.6-4 0.6-0.4 0.6-4.8 0.6,0.4 0.6-1.2 0.6-0.9 0.6-2.3 0.6-2.3 0.6-0.2 0.6-3.8 0.6-3 0.6,0.6 0.6-4 0.6-1.9 0.6-1.1 0.6-0.1 0.6-4.3 0.6-1.9 0.6-1.5 0.6-2.3 0.6-6.4 0.6,0.6 0.6-2.4 0.6-1.4 0.6-4.3 0.6-2.4 0.6-1.1 0.6-2.9 0.6,0.2 0.6-4.7 0.6-1.7 0.6-2.3 0.6-0.5 0.6-1.7 0.6-2.8 0.6-1.2 0.6,0.6 0.6-4.1 0.6-6.3 0.6,0.5 0.6-3.9 0.6-3.6 0.6-4.3 0.6-4.8 0.6-4.2 0.6-7 0.6-4.5 0.6-5.6 0.6-6.9 0.6-2.6 0.6-4.8 0.6-4.4 0.6-2.9 0.6-8.6 0.6-3.2 0.6-2.4 0.6-7.9 0.6-3 0.6-3.4 0.6-6.9 0.6-1.6 0.6-7.1 0.6-3.3 0.6-5.8 0.6-3.4 0.6-4.4 0.6-4 0.6-5.4 0.6-5 0.6-3.4 0.6-4.3 0.6-7.4 0.6-2 0.6-4.6 0.6-7 0.6-5.7 0.6-9.8 0.6-2.2 0.6-6.8 0.6-5.7 0.6-3.8 0.6-5.6 0.6-0.6 0.6-5.2 0.6-6.4 0.6-2.4 0.6-4.9 0.6,0.7 0.6-5.3 0.6-4.1 0.6-5.8 0.6-2.8 0.6-6.6 0.6-4.3 0.6-4.9 0.6,2.8 0.6-3.7 0.6-4.9 0.6-3.9 0.6-3 0.6-1.8 0.6-0.2 0.6-3.1 0.6,0.6 0.6-4 0.6,3.2 0.6-3.9 0.6,3.9 0.6-0.7 0.6,2.1 0.6,1.3 0.6,0.4 0.6,2.8 0.6,0.4 0.6,1.8 0.6,4.5 0.6,5 0.6,1.8 0.6,3.4 0.6,2.3 0.6,9.8 0.6-1.7 0.6,5.5 0.6,3.4 0.6,2.1 0.6,4.4 0.6,7.3 0.6,3.4 0.6,3.7 0.6,4.4 0.6,5 0.6,2.1 0.6,6.2 0.6,3.9 0.6,9.7 0.6,1.8 0.6,2.9 0.6,10.3 0.6,1.7 0.6,5.6 0.6,5 0.6,4.6 0.6,7.7 0.6,4 0.6,6.7 0.6,3.4 0.6,5.1 0.6,4.7 0.6,9.5 0.6,3.1 0.6,4.5 0.6,6.1 0.6,1.8 0.6,5.3 0.6,5.2 0.6,1.6 0.6,5.3 0.6,1 0.6,8.8 0.6,2.5 0.6,3.7 0.6,2 0.6,7 0.6-0.7 0.6,8.9 0.6-0.2 0.6,2.5 0.6,1.5 0.6,5.7 0.6,0.3 0.6,6.2 0.6,0.7 0.6,3.8 0.6,1.7 0.6,5.9 0.6-0.5 0.6,2.9 0.6,4 0.6,0.1 0.6,6.6 0.6-1.7 0.6,3.7 0.6,0.5 0.6,2.5 0.6,5.9 0.6,1 0.6,3.6 0.6,4.6 0.6-3.2 0.6,0.8 0.6,4.2 0.6-1.1 0.6,4.7 0.6,0 0.6,3.5 0.6,1.2 0.6,1.5 0.6-0.8 0.6,0.4 0.6,4.1 0.6-2.6 0.6,2.3 0.6,0.3 0.6,1.9 0.6,1.8 0.6-3.8 0.6,2.3 0.6,0.1 0.6-0.5 0.6,0.8 0.6,0.1 0.6-0.6 0.6-0.2 0.6,2 0.6-0.2 0.6-1.7 0.6,4.1 0.6-2.4 0.6,4.8 0.6-2.3 0.6,2.8 0.6-1 0.6-1.1 0.6-0.5 0.6,1.2 0.6-1.7 0.6,0.7 0.6-1 0.6,4.8 0.6-5.4 0.6,2.4 0.6,1.4 0.6-2.2 0.6-2 0.6,1.9 0.6,2.2 0.6-6.2 0.6,3.4 0.6-2.1 0.6,2.3 0.6-0.9 0.6-1.2 0.6-2 0.6,3.1 0.6-1.1 0.6,0.5 0.6,1.1 0.6-5.6 0.6,1.6 0.6,2 0.6,0.8 0.6,1 0.6-4.1 0.6,0.6 0.6-1.3 0.6-2.4 0.6-0.1 0.6,1.8 0.6,1.3 0.6-1.3 0.6-2.8 0.6,1.1 0.6-0.8 0.6-4.5 0.6-0.6 0.6,1.4 0.6-2 0.6-2.1 0.6,1.1 0.6-2.4 0.6,0.6 0.6-2.6 0.6,2.7 0.6-2.4 0.6-5.2 0.6-0.6 0.6,3.2 0.6-6 0.6-0.5 0.6-2.4 0.6-1.3 0.6-6.1 0.6,2.2 0.6-5.3 0.6-3.4 0.6,0.9 0.6-5.3 0.6-4.8 0.6,0.9 0.6-4 0.6-4 0.6-4.6 0.6-1.9 0.6,0.5 0.6-3.7 0.6-2.3 0.6-7.8 0.6,0.8 0.6-4 0.6-4.9 0.6-3.7 0.6-3.6 0.6-5.5 0.6-2.9 0.6-2.2 0.6-5.8 0.6-5.7 0.6-3.7 0.6-4.9 0.6-5 0.6-2.5 0.6-6.6 0.6-1.7 0.6-8.3 0.6-6.8 0.6-1.5 0.6-7.9 0.6-5.3 0.6-8.6 0.6-9.8 0.6-4.9 0.6-6.5 0.6-8.5 0.6-6.6 0.6-8.8 0.6-6.8 0.6-4.5 0.6-7.6 0.6-6.6 0.6-9.9 0.6-3.6 0.6-9.5 0.6-4.4 0.6-2.3 0.6-8.5 0.6-5.8 0.6-2.8 0.6-1.2 0.6-5.3 0.6-5.8 0.6-3.5 0.6,3.7 0.6-2.7 0.6-1.2 0.6-2.6 0.6-1.5 0.6,2.3 0.6,0.1 0.6,2.3 0.6,1.9 0.6-1.4 0.6,5.4 0.6,1.1 0.6,1.4 0.6,1.9 0.6,6.8 0.6,0.4 0.6,4.2 0.6,4.2 0.6,5.7 0.6,4.1 0.6,5.1 0.6,9.7 0.6,7.6 0.6,6.5 0.6,9.1 0.6,6.8 0.6,5.9 0.6,8.1 0.6,9.8 0.6,10.3 0.6,5.8 0.6,10.3 0.6,10.4 0.6,10.7 0.6,10.3 0.6,12.7 0.6,15 0.6,15.2 0.6,6.7 0.6,11.1 0.6,12.6 0.6,10.7 0.6,9.5 0.6,11.8 0.6,10.1 0.6,8.3 0.6,10.3 0.6,10.3 0.6,6.9 0.6,9.2 0.6,7.5 0.6,8.3 0.6,6.3 0.6,9.4 0.6,3.3 0.6,2.4 0.6,3.8 0.6,5.6 0.6,8.1 0.6,6.1 0.6,0.1 0.6,3.2 0.6,2.2 0.6,4 0.6,4.7 0.6,0.7 0.6,4.2 0.6,2 0.6,4.6 0.6-0.9 0.6,0.5 0.6,5.3 0.6-0.2 0.6,4.7 0.6-2.5 0.6,2.9 0.6,2.6 0.6-0.7 0.6,2.2 0.6,3.1 0.6-0.7 0.6,3.3 0.6-1.7 0.6,2.2 0.6,3.8 0.6,1.5 0.6,1 0.6,0.9 0.6,0.7 0.6-2.6 0.7,3.3 0.6,3.9 0.6-2.5 0.6,0.9 0.6-0.9 0.6,2.9 0.6,2.4 0.6-1.5 0.6,0.4 0.6,3.8 0.6-1.1 0.6,1.7 0.6-1 0.6,1 0.6-0.8 0.6,2.9 0.6,0.9 0.6,0.2 0.6-1.9 0.6-3.7 0.6,2.6 0.6,0.7 0.6,2.2 0.6-0.1 0.6,0.3 0.6-2.6 0.6-0.9 0.6,0.9 0.6,2.1 0.6,2.2 0.6,0.5 0.6-1.5 0.6-0.3 0.6,0.1 0.6,1.5 0.6-0.9 0.6,4.6 0.6-5.2 0.6-2 0.6,2.5 0.6-1.5 0.6,1.1 0.6,3 0.6,2.6 0.6-4.2 0.6-0.2 0.6,1.7 0.6,0.2 0.6-2.7 0.6,0.9 0.6,3.3 0.6,1.6 0.6-5.9 0.6,2.3 0.6-1.6 0.6,1.5 0.6,1.5 0.6-1.5 0.6,0.7 0.6,1.1 0.6-0.2 0.6,0.3 0.6-3.2 0.6,1.4 0.6-0.1 0.6,2 0.6-1.6 0.6-0.3 0.6-1.6 0.6,1.8 0.6-0.3 0.6,1.4 0.6-1.5 0.6,3.2 0.6,1 0.6-1 0.6-1.6 0.6-1.7 0.6,0.5 0.6,3.3 0.6-2.2 0.6,1.4 0.6,1.1 0.6-0.9 0.6,1.4 0.6-2.4 0.6,1 0.6,0.9 0.6-0.6 0.6-0.2 0.6,0.5 0.6,0.1 0.6,0.4 0.6-2.1 0.6,3 0.6,0.6 0.6-2.6 0.6-2.2 0.6-0.2 0.6,0.2 0.6,4.7 0.6-1.2 0.6-0.8 0.6,0.1 0.6,2 0.6-0.1 0.6-2.7 0.6,1.2 0.6,1.6 0.6-1.4 0.6-1 0.6,3.1 0.6-3.6 0.6,4.5 0.6,0.1 0.6-1.9 0.6-0.6 0.6,5 0.6-2.1 0.6-2.1 0.6,0.3 0.6,1.8 0.6,1.7 0.6-1.2 0.6,1.5 0.6-2.7 0.6,0.9 0.6,3.2 0.6-2.3 0.6,2.1 0.6-1 0.6-2.1 0.6,3.5 0.6,3 0.6-2.9 0.6-2.7 0.6,1.3 0.6,2.3 0.6-3.1 0.6,3.6 0.6,1.5 0.6-4.9 0.6,3.7 0.6,0.2 0.6,1.7 0.6-1.3 0.6-1.3 0.6-2.2 0.6,1.4 0.6-0.1 0.6,0.3 0.6,3.2 0.6-1.7 0.6,1.5 0.6,0.5 0.6,0 0.6-1.5 0.6-0.5 0.6,1.4 0.6-0.9 0.6-1.1 0.6,0.7 0.6,3.9 0.6-4.2 0.6,1.8 0.6,1.1 0.6-0.7 0.6,1.1 0.6,3.6 0.6-3.4 0.6-1.3 0.6,1.2 0.6,0.1 0.6,0.5 0.6-1 0.6,2.3 0.6-1.2 0.6-0.1 0.6-1 0.6,1.8 0.6-1.6 0.6,0.9 0.6-3.1 0.6,1.8 0.6,0.9 0.6,2.5 0.6-4.7 0.6,3.9 0.6-0.6 0.6,0.5 0.6,0.1 0.6,0 0.6,1.9 0.6-0.2 0.6-0.1 0.6,0.4 0.6-0.8 0.6,0.4 0.6-1.5 0.6-1.7 0.6,0 0.6,1.2 0.6,2.3 0.6-0.9 0.6-0.7 0.6,1.2 0.6-2.7 0.6,0.6 0.6,1.2 0.6,2 0.6,1 0.6-2 0.6-1.4 0.6,3 0.6-0.9 0.6,0.7 0.6-3.7 0.6,1.8 0.6,2.2 0.6-2.2 0.6,0.4 0.6-0.8 0.6,3.2 0.6-4.3 0.6,3.1 0.6-3.6 0.6,4 0.6-1.6 0.6,1.7 0.6,1 0.6-3.7 0.6,0.8 0.6-1.6 0.6,3 0.6,1.7 0.6-2 0.6-1.2 0.6,0.2 0.6,3.2 0.6-2.1 0.6,0.1 0.6-0.1 0.6-0.7 0.6,3 0.6,0.8 0.6-1.8 0.6-0.9 0.6,4.3 0.6-2.8 0.6-2.7 0.6,1.4 0.6-0.6 0.6-0.2 0.6,0.6 0.6,0 0.6-0.4 0.6,2.4 0.6-3.2 0.6,3.9 0.6-2.6 0.6-0.8 0.6-0.7 0.6,3.7 0.6-5.5 0.6,2.7 0.6,0.2 0.6-0.4 0.6-0.1 0.6,0.3 0.6-1.2 0.6,2 0.6-1.5 0.6,0.8 0.6-1 0.6,0.5 0.6,2.2 0.6-2.8 0.6,2.4 0.6-0.4 0.6,0.3 0.6-1.5 0.6-0.3 0.6,2.4 0.6-0.9 0.6-0.4 0.6-2.6 0.6,0.5 0.6,4.2 0.6-3.3 0.6-4.1 0.6,3.8 0.6,1.2 0.6-1.8 0.6-1.7 0.6,2.3 0.6-0.3 0.6-2 0.6,4.3 0.6-3.4 0.6,0.7 0.6-0.3 0.6,3.4 0.6-3.1 0.6,3 0.6,0 0.6,0.1 0.6,0.5 0.6,0.5 0.6-4.8 0.6,2.8 0.6-0.5 0.6,0.8 0.6-0.8 0.6,0.4 0.6-1.1" fill="none" stroke="#009200" stroke-width="8.2" stroke-linejoin="round" stroke-linecap="butt"/>
<line x1="1345.1" y1="2264.3" x2="1345.1" y2="2219.8" stroke="#009200" stroke-width="5.0"/>
<path d="M154.8,2357.3l0.6,0 0.6,0 0.6,0 0.6,0 0.6,0 0.6,0 0.6,0 0.6,0 0.6,0 0.6-0.1 0.6,0 0.6-0.1 0.6-0.2 0.6-0.4 0.6-0.5 0.6-0.8 0.6-1 0.6-1.4 0.6-1.8 0.6-2 0.6-2.4 0.6-2.6 0.6-2.8 0.6-2.8 0.6-2.9 0.6-2.7 0.6-2.5 0.6-2.3 0.6-2 0.6-1.7 0.6-1.3 0.6-1 0.6-0.7 0.6-0.5 0.6-0.3 0.6-0.2 0.6-0.1 0.6-0.1 0.6-0.1 0.6,0 0.6-0.1 0.6,1.7 0.6-2.7 0.6,1.4 0.6-0.4 0.6-0.9 0.6-0.7 0.6,3 0.6-2.8 0.6-0.2 0.6,1.6 0.6-2.6 0.6,3.6 0.6-0.3 0.6-1.5 0.6,1.7 0.6-3.3 0.6,1.9 0.6-2.4 0.6,4.4 0.6-0.1 0.6-3.6 0.6,3.8 0.6-3.4 0.6,3.1 0.6-1.7 0.6-1.4 0.6,2 0.6,1.8 0.6-1.1 0.6-2.5 0.6,1.5 0.6-0.7 0.6,1 0.6-0.3 0.6,0.9 0.6,1.3 0.6-2.4 0.6,0.6 0.6,3.6 0.6-3.2 0.6-1.4 0.6-1.5 0.6,5.3 0.6-2.3 0.6-0.6 0.6-0.3 0.6,2.4 0.6-1.8 0.6,1.5 0.6-0.5 0.6,0.9 0.6-1.3 0.6,1.2 0.6-1 0.6,0.7 0.6-1.6 0.6-1.1 0.6,2.9 0.6,1.1 0.6-0.7 0.6,0.6 0.6,1.8 0.6-2.6 0.6,0.9 0.6-2.1 0.6,1.7 0.6-1.6 0.6,0.3 0.6,2.2 0.6-0.2 0.6,0.4 0.6-0.1 0.6-1.9 0.6,2.2 0.6-0.1 0.6,0.7 0.6-3.5 0.6,2.9 0.6-0.2 0.6,1.2 0.6-1.7 0.6,1.7 0.6-0.1 0.6,2.3 0.6-0.6 0.6-2.9 0.6-0.8 0.6,3.9 0.6-2.8 0.6,0 0.6-4.5 0.7,6.5 0.6-0.5 0.6,0.7 0.6-3 0.6-0.3 0.6,2.2 0.6-2.8 0.6-0.9 0.6,4.1 0.6-1.6 0.6,1.3 0.6,0.7 0.6-0.2 0.6-0.4 0.6,1.8 0.6-1.9 0.6-1.4 0.6,2.8 0.6-0.6 0.6,0.6 0.6-2 0.6,0.8 0.6-1.7 0.6,2.1 0.6,1.8 0.6-3.2 0.6,1.4 0.6-2.3 0.6,0.7 0.6,5.4 0.6-1 0.6-3.2 0.6,1.3 0.6,2.4 0.6-2.7 0.6-2.9 0.6,1.1 0.6,2.4 0.6-1.8 0.6-1.2 0.6,2 0.6-3.1 0.6,4 0.6-4.5 0.6,0.9 0.6,1.7 0.6,0.5 0.6,0.3 0.6,1.6 0.6-3.1 0.6-0.4 0.6,0.8 0.6,0.8 0.6,0.3 0.6,1.7 0.6-0.4 0.6,1.3 0.6-3.1 0.6,2.2 0.6-2.7 0.6,2.4 0.6-3.3 0.6-0.2 0.6,0.1 0.6,0.6 0.6,2.4 0.6,0 0.6,0.7 0.6-1.7 0.6-2.1 0.6,4.5 0.6-5.6 0.6,4.8 0.6,1 0.6-2.4 0.6-1.1 0.6,2.3 0.6,1.1 0.6-4.4 0.6,4.6 0.6-3.3 0.6,1.4 0.6,0.9 0.6-0.7 0.6,1.9 0.6,0.1 0.6-2.2 0.6,2.2 0.6-0.4 0.6-3.5 0.6-0.5 0.6,1.1 0.6,0.4 0.6,1.9 0.6-0.4 0.6,1.4 0.6,3.4 0.6-4.8 0.6,0.1 0.6-1.1 0.6,3.6 0.6-3.6 0.6,2.8 0.6,1.2 0.6-1.4 0.6-1.8 0.6,1.7 0.6-0.6 0.6,2.3 0.6-2.1 0.6-0.6 0.6,3.1 0.6-1.9 0.6,3 0.6-2.4 0.6,2.9 0.6-2.9 0.6,0.8 0.6,1.9 0.6-2.2 0.6,2.3 0.6-1.6 0.6,1.8 0.6-2.2 0.6,1.9 0.6-3.1 0.6,1.7 0.6-0.1 0.6,3.1 0.6,1.3 0.6-1.9 0.6-4.1 0.6,4.4 0.6-3.3 0.6,0 0.6,3 0.6-0.6 0.6-2.4 0.6,2.6 0.6,0.3 0.6,0.3 0.6-1 0.6,0.3 0.6-2.1 0.6,1.7 0.6-1.5 0.6,2.1 0.6-4.1 0.6,4.2 0.6,0.1 0.6,1 0.6,1.5 0.6-1.3 0.6-1.7 0.6,2 0.6-2.9 0.6,3.9 0.6,0.1 0.6-3.1 0.6-0.1 0.6,2.5 0.6-3.5 0.6-0.5 0.6,1.7 0.6,2.6 0.6-4 0.6,2.5 0.6-0.2 0.6-1 0.6,1.9 0.6-3.5 0.6,3.4 0.6-2.7 0.6,0.5 0.6-1.5 0.6,2 0.6-0.5 0.6,2 0.6-0.3 0.6,0.7 0.6-2.2 0.6,2.3 0.6-3.5 0.6,2.6 0.6,1.8 0.6-0.8 0.6-2.9 0.6,2.6 0.6-1.7 0.6,3.5 0.6-3.2 0.6-0.5 0.6,0.4 0.6-0.4 0.6,2.8 0.6,1.1 0.6-0.5 0.6-3.4 0.6,0.7 0.6-0.6 0.6,2.2 0.6-2.2 0.6,3.8 0.6-3.1 0.6,2.3 0.6-0.9 0.6-1.7 0.6-0.3 0.6,1.6 0.6,0.4 0.6-2.7 0.6,0.5 0.6,2.8 0.6-1.5 0.6,0.8 0.6-1.9 0.6,0.9 0.6,0.1 0.6,0.5 0.6,1.1 0.6-2.6 0.6,1.2 0.6,4.3 0.6-3 0.6-1 0.6,1.7 0.6,0.3 0.6-0.4 0.6-1.5 0.6,2.1 0.6-2 0.6-1.5 0.6,0.7 0.6,0 0.6,2 0.6-2.2 0.6,2 0.6-1.3 0.6,3.2 0.6-3.7 0.6,3 0.6-0.9 0.6-1.5 0.6,1.7 0.6,0.8 0.6-0.4 0.6-1.9 0.6,0.1 0.6,0.8 0.6,2.1 0.6-0.3 0.6-1.6 0.6,0 0.6,2.4 0.6,0.1 0.6-2.2 0.6-0.5 0.6,1.7 0.6,2.1 0.6-4.4 0.6,2.6 0.6-0.6 0.6,4.2 0.6-2.1 0.6-0.8 0.6-0.7 0.6,2 0.6,1.1 0.6,0.3 0.6-1.9 0.6-1 0.6,0.1 0.6,3.2 0.6-1.5 0.6-0.9 0.6-1.6 0.6,0.7 0.6,0.6 0.6,3.1 0.6-4.3 0.6,1.9 0.6-0.4 0.6,1.5 0.6-0.7 0.6,0.3 0.6,0.1 0.6,0.8 0.6-2.4 0.6-0.3 0.6,2.3 0.6,0.5 0.6,0 0.6-0.7 0.6-2.7 0.6,2.5 0.6-3.1 0.6,4.9 0.6-0.3 0.6-0.4 0.6,0.1 0.6-1.8 0.6-2.3 0.6,3.9 0.6-1.7 0.6-1.5 0.6-1.7 0.6,3.4 0.6-1.2 0.6-0.6 0.6,1.9 0.6-0.8 0.6,1.4 0.6,0.8 0.6-0.5 0.6-2.8 0.6-0.3 0.6,1.6 0.6,2.3 0.6-4 0.6,1.9 0.6-2.5 0.6,2.2 0.6,1.8 0.6-1.4 0.6,0.5 0.6-3.6 0.6,6 0.6-2.8 0.6-0.5 0.6,2.6 0.6-4 0.6-0.3 0.6-0.5 0.6-0.1 0.6,1.4 0.6-1.7 0.6,2.1 0.6-0.8 0.6-0.4 0.6,0.2 0.6-0.8 0.6,1.8 0.6-0.9 0.6,0.7 0.6-1.1 0.6-0.5 0.6,1.6 0.6-3.5 0.6-0.8 0.6,2.1 0.6,0.7 0.6,1 0.6-0.7 0.6,0 0.6-1.5 0.6,1 0.6-1.1 0.6,0.1 0.6,1.6 0.6,1.3 0.6-0.3 0.6-0.2 0.6-1.7 0.6-2 0.6,3.3 0.6-2.5 0.6,1.2 0.6-2.3 0.6-1.6 0.6,1.8 0.6,1.1 0.6-0.3 0.6-1.4 0.6,2.5 0.6,0.7 0.6-1.5 0.6-2.4 0.6,3.6 0.6-2.9 0.6,0.3 0.6,1.7 0.6,0.9 0.6,1.3 0.6-0.8 0.6-2.2 0.6-0.9 0.6,2.1 0.6-0.1 0.6,0.2 0.6-5.1 0.6,6 0.6,0.1 0.6-4 0.6,3.4 0.6-3.4 0.6,2.9 0.6-3 0.6-0.6 0.6,2.9 0.6-0.8 0.6,1.5 0.6-3 0.6,1.9 0.6,0.9 0.6-2.2 0.6,0.1 0.6,0.6 0.6,0.6 0.6-2.3 0.6,2.6 0.6,0.3 0.6-1 0.6-1.3 0.6,1.4 0.6,0.4 0.6,0.6 0.6-0.4 0.6-0.3 0.6-4.2 0.6,6 0.6-2.2 0.6-0.8 0.6,1.5 0.6,0.4 0.6-2.8 0.6-1.3 0.6,0.4 0.6,1.7 0.6,0.7 0.6-1.8 0.6,3.7 0.6-1.3 0.6-3.7 0.6,1.6 0.6,0.4 0.6,0.5 0.6,0.3 0.6,0.7 0.6-2.3 0.6,0.1 0.6,0 0.6,4.7 0.6-6 0.7,0.7 0.6-1.2 0.6,3.4 0.6,2.6 0.6-1.5 0.6-0.6 0.6-4.7 0.6,4.4 0.6-0.5 0.6-2.3 0.6,0.1 0.6-0.1 0.6,2.2 0.6-3.7 0.6,2.3 0.6,2 0.6-2 0.6,2.8 0.6-0.2 0.6-1 0.6,0.8 0.6-1.1 0.6,0.2 0.6-0.3 0.6,0.7 0.6-3.2 0.6,3.3 0.6-0.7 0.6,0.5 0.6-0.5 0.6,1.1 0.6-5.4 0.6,3.8 0.6-1.8 0.6,1.9 0.6,1.5 0.6-1.3 0.6,0.2 0.6,0.9 0.6-2.2 0.6-2.4 0.6,2.3 0.6-1.4 0.6-0.4 0.6,5.1 0.6-6.1 0.6,5.1 0.6-5 0.6,2.5 0.6-0.6 0.6-2.6 0.6,1.9 0.6,4.2 0.6,0.3 0.6-1 0.6-3.5 0.6,1.1 0.6-0.9 0.6,0.7 0.6-1.2 0.6,3.6 0.6,1.2 0.6-1.8 0.6-2.4 0.6,2.9 0.6,2.2 0.6-2.9 0.6-2 0.6,0.4 0.6,1.3 0.6,0.2 0.6,2.6 0.6-3.3 0.6-3.1 0.6,3.9 0.6-3.4 0.6,4.6 0.6-1.3 0.6,0.1 0.6-0.7 0.6,2.9 0.6-4.8 0.6,2.5 0.6,2.9 0.6-4.4 0.6,0.8 0.6,2.3 0.6-1.9 0.6-1.4 0.6,0.1 0.6,0.6 0.6,1.6 0.6-1.5 0.6-1.6 0.6-1.4 0.6,2.4 0.6-0.2 0.6-0.3 0.6,2 0.6,2.4 0.6-1.9 0.6-0.5 0.6-0.6 0.6,0.4 0.6,1.3 0.6-0.2 0.6-0.5 0.6,1.2 0.6,0 0.6,1.4 0.6-2.1 0.6-0.6 0.6,1.2 0.6-0.5 0.6-0.5 0.6,1.9 0.6-0.7 0.6,0.5 0.6-2.2 0.6,2.6 0.6-1.9 0.6,3.3 0.6-6 0.6,1.9 0.6,2.2 0.6-1.2 0.6-3.1 0.6,2.8 0.6,2.5 0.6-2.3 0.6,0.7 0.6-1.6 0.6,0.5 0.6,2.8 0.6-2.9 0.6-1.2 0.6-0.7 0.6,1.6 0.6-2.4 0.6,0.7 0.6,1 0.6-1.2 0.6,6.5 0.6-6 0.6-0.4 0.6,2.5 0.6-1.4 0.6,2.3 0.6-0.8 0.6,0.1 0.6,1.4 0.6-1.4 0.6,2.5 0.6-2.6 0.6-2.9 0.6-0.3 0.6,3 0.6-2.8 0.6,2.1 0.6,2.7 0.6-1 0.6-1 0.6,0 0.6-1.1 0.6,2.1 0.6-0.5 0.6-2.3 0.6,1.4 0.6-0.5 0.6,0.7 0.6-1.2 0.6-0.2 0.6,2.4 0.6-3.1 0.6,2.8 0.6-1.6 0.6,1 0.6-1.6 0.6,0.6 0.6-0.5 0.6,0.6 0.6,0.4 0.6-0.6 0.6,0.3 0.6,1.3 0.6,1.1 0.6-3.4 0.6-1.3 0.6,3.5 0.6-2.4 0.6,1.8 0.6-1.4 0.6-1.1 0.6,0.7 0.6,0.9 0.6,2.7 0.6-2.9 0.6-0.3 0.6-2.1 0.6,3 0.6-1 0.6-0.5 0.6-1.8 0.6,3.8 0.6-3.3 0.6,1.4 0.6,0.9 0.6,1 0.6-0.7 0.6-3 0.6,2.1 0.6,0.6 0.6-0.9 0.6-2.9 0.6,0.5 0.6,0.2 0.6-0.4 0.6,0.3 0.6,1.8 0.6,1 0.6-3.8 0.6,2.1 0.6-0.5 0.6,0.8 0.6-1.6 0.6-1.4 0.6,2.7 0.6-1 0.6,0.1 0.6-1.1 0.6,1 0.6-0.2 0.6,1 0.6-1.1 0.6,1.1 0.6-2.4 0.6,1.3 0.6-2.9 0.6,3.6 0.6,0.5 0.6-3.2 0.6,0.3 0.6,3.1 0.6-6.4 0.6,4.3 0.6-2.1 0.6,2.3 0.6-1.8 0.6-0.8 0.6,2.4 0.6-1.4 0.6-0.9 0.6-2 0.6,1.6 0.6-0.8 0.6,1.2 0.6-0.3 0.6,0 0.6,1.1 0.6,2.5 0.6-0.3 0.6-3.4 0.6-0.3 0.6,0.5 0.6,0.9 0.6-0.2 0.6,1.1 0.6-4 0.6,4.4 0.6-5.4 0.6,3.2 0.6-4.9 0.6,3.1 0.6,1.2 0.6-0.9 0.6,0.9 0.6-3.4 0.6,2.4 0.6-0.6 0.6,1.6 0.6-2.4 0.6,3.1 0.6-1.4 0.6-3.2 0.6,5.1 0.6-3.9 0.6-1.5 0.6,1.5 0.6-2.3 0.6,0.2 0.6,1 0.6,3.2 0.6-2 0.6-0.4 0.6-2.2 0.6,1.5 0.6,0.2 0.6,1.4 0.6-1.9 0.6-0.8 0.6,4.1 0.6-4 0.6-0.9 0.6,0.9 0.6-0.4 0.6,0.5 0.6-2.5 0.6,2.1 0.6-2.9 0.6,1.1 0.6,3.4 0.6-2.7 0.6-1.2 0.6-1 0.6,0.9 0.6,0.2 0.6-1.7 0.6-1.4 0.6,5.2 0.6-2.1 0.6-3.9 0.6,2 0.6,1.8 0.6-4.5 0.6-0.6 0.6,3.3 0.6-1.8 0.6,1 0.6-0.8 0.6-1.2 0.6,1.8 0.6-0.6 0.6,0.2 0.6,2 0.6-3.7 0.6-0.8 0.6,0.8 0.6,0 0.6-1.5 0.6,2.2 0.6,0.3 0.6-2.6 0.6,0.2 0.6-2.8 0.6,4.8 0.6-2.4 0.6,1.6 0.6-5.6 0.6,3.8 0.6-2.1 0.6,4.5 0.6-2.3 0.6-3 0.6,1.6 0.6,0.1 0.6-2.3 0.6,0.6 0.6-0.2 0.6-0.5 0.6,0.9 0.6-3.4 0.6,0.6 0.6,1.5 0.6,0.2 0.6,2.1 0.6-1.4 0.6-4.1 0.6,3.7 0.6-1.5 0.6-3.5 0.6,0.7 0.6,0.9 0.6-0.3 0.6,0.9 0.6-1 0.6,0 0.6-2.3 0.6,0.7 0.6,2.1 0.6-3.6 0.6,0.7 0.6-0.7 0.6-0.4 0.6,0.5 0.6,0.7 0.6-2 0.6,0 0.6,2 0.6-0.4 0.6-0.9 0.6-0.6 0.6,0.6 0.6,1.9 0.6-4.3 0.6,2.7 0.6,0.6 0.6-0.8 0.6-1.6 0.6,0.2 0.6,3 0.6-1.4 0.6-0.2 0.6-1.5 0.6-1.7 0.6,1 0.6-4.4 0.6,1.5 0.6-1.2 0.6,0.8 0.6,2.9 0.6-3.1 0.6,2.8 0.6-1.1 0.6-2.2 0.6,0 0.6-1.3 0.6,1.1 0.6-2.4 0.6,0 0.6,0.4 0.6,1.4 0.6-0.6 0.6-2.9 0.6-3.2 0.6,4.9 0.6-1.4 0.6,1.3 0.6,2.1 0.6-5.2 0.6,0.4 0.6-1.2 0.6,1.7 0.6-0.1 0.6-4 0.6,3.4 0.6-3 0.6-0.7 0.6,1.1 0.6,0.5 0.6-1.7 0.6,2.8 0.6-2.8 0.6-0.2 0.7,1.2 0.6-2.2 0.6-2.3 0.6-2.6 0.6,4.9 0.6-2.8 0.6-0.4 0.6,0.7 0.6,0 0.6-2.2 0.6-0.8 0.6,3 0.6-5.1 0.6,2.2 0.6-0.9 0.6,0.7 0.6-3.3 0.6,3.6 0.6-1.8 0.6-1.5 0.6,1.2 0.6-1.5 0.6-1.6 0.6-1.6 0.6,1.7 0.6,0 0.6-2 0.6,0.1 0.6,1.3 0.6-3.5 0.6,1.3 0.6,0.4 0.6-3.4 0.6,0.1 0.6,1.6 0.6-2.9 0.6,1.6 0.6-0.7 0.6,0.1 0.6-3.5 0.6,1 0.6-1.7 0.6,2.4 0.6-2 0.6,1.4 0.6-2.2 0.6-1 0.6-1 0.6,1.5 0.6-4.7 0.6,3.6 0.6-5.1 0.6,1.4 0.6-2.6 0.6,2.6 0.6-2.6 0.6-1.4 0.6-3.3 0.6,2 0.6-2.9 0.6,1.4 0.6-2.5 0.6,1.4 0.6-1 0.6-2.2 0.6,2.6 0.6-0.3 0.6-3.7 0.6-4 0.6,0.1 0.6,1.2 0.6-1.7 0.6-0.4 0.6-1.2 0.6-2.7 0.6,3.1 0.6-1 0.6,0.1 0.6-2.7 0.6-4.2 0.6,0.6 0.6,0.8 0.6-2.2 0.6-1.5 0.6-3.6 0.6-0.4 0.6-1.1 0.6-2.7 0.6-0.2 0.6-2.3 0.6,1.6 0.6-1.1 0.6-2.4 0.6-5.2 0.6,3.4 0.6-3.6 0.6-2.1 0.6,0.7 0.6-1.1 0.6-6.9 0.6,1.8 0.6-1.4 0.6-2.9 0.6-1.5 0.6,0.6 0.6-1.4 0.6-4.4 0.6-1 0.6-3.2 0.6-0.2 0.6-7.9 0.6,1.3 0.6-4.4 0.6,2 0.6-2.5 0.6-1.2 0.6-2.5 0.6-2.2 0.6,0 0.6-0.6 0.6-1.9 0.6-2.2 0.6-2.9 0.6,2.3 0.6-2.7 0.6-3.4 0.6-3.3 0.6,0.7 0.6-3.5 0.6-1.9 0.6-2.9 0.6-3.8 0.6-2.5 0.6-4.1 0.6-3.7 0.6-6.8 0.6-1.2 0.6-6.2 0.6-0.7 0.6-3.7 0.6-1.6 0.6-4.6 0.6-4.9 0.6-3.2 0.6,1.4 0.6-8.4 0.6,0.6 0.6-3.2 0.6-3.6 0.6-1.4 0.6-1.5 0.6-4.5 0.6-2.4 0.6-6.8 0.6-0.3 0.6,0.1 0.6-9.3 0.6-2.7 0.6-3.1 0.6-1.5 0.6-12.7 0.6,0.8 0.6-5.2 0.6-5.1 0.6-6.9 0.6-5.4 0.6-6.5 0.6-6.1 0.6-5.1 0.6-7.4 0.6-2.3 0.6-8.5 0.6-4.6 0.6-4.9 0.6-6.6 0.6-4.9 0.6-5.8 0.6-4.9 0.6-5.5 0.6-5.2 0.6-6.4 0.6-7 0.6-8 0.6-3.9 0.6-5.9 0.6-3.2 0.6-4.3 0.6-7.4 0.6-8.5 0.6,0.5 0.6-8.8 0.6-1 0.6-4.8 0.6-5.1 0.6-4.7 0.6-6.9 0.6-3 0.6-3.4 0.6-2.2 0.6-5 0.6-3.6 0.6,0.7 0.6-0.2 0.6,0.4 0.6-1.4 0.6,1.6 0.6-3.5 0.6,4.1 0.6-1.9 0.6,5.2 0.6-1.6 0.6,2.5 0.6,2 0.6,3.2 0.6,4.9 0.6-2.8 0.6,9.9 0.6-0.3 0.6,6.1 0.6,5.7 0.6,1.7 0.6,3.9 0.6,5.7 0.6,8.9 0.6,4.3 0.6,3.1 0.6,5.2 0.6,3.9 0.6,6.5 0.6,7 0.6,3.8 0.6,2.4 0.6,6.9 0.6,5.5 0.6,2 0.6,3.9 0.6,8.2 0.6,4.1 0.6,4.6 0.6,2.8 0.6,6.1 0.6,4.1 0.6,3.7 0.6,5.9 0.6,0 0.6,3.7 0.6,6.5 0.6,4.2 0.6,4.3 0.6,5 0.6,6.1 0.6,2.7 0.6,5 0.6,4.7 0.6,8.2 0.6,3.1 0.6,7.1 0.6-0.4 0.6,9.7 0.6,2 0.6,1.4 0.6,9.1 0.6,0.9 0.6,6.6 0.6-0.4 0.6,5.6 0.6,4 0.6,4.2 0.6,1.2 0.6,4.2 0.6,2.7 0.6,3.3 0.6,5.5 0.6,1.9 0.6,1.4 0.6,4.2 0.6,2.8 0.6,3 0.6,3.2 0.6,1.4 0.6,2.2 0.6-2 0.6,6.1 0.6,2.8 0.6-0.5 0.6,2.5 0.6,2.1 0.6-0.9 0.6,3 0.6,2.3 0.6-1 0.6-0.9 0.6,2.1 0.6,2.8 0.6,1 0.6,1.5 0.6-0.2 0.6,2.3 0.6,0 0.6,1.7 0.6,0.2 0.6,4.3 0.6-2.4 0.6,1.6 0.6,0.4 0.6-0.5 0.6,3.3 0.6,0 0.6-1.1 0.6,0.8 0.6-0.9 0.6,1.4 0.6,3.5 0.6-2.7 0.6,1.2 0.6-0.1 0.6-1 0.6,1.7 0.6,0.7 0.6,2.5 0.6-1.6 0.6-1.7 0.6,0.7 0.6,3 0.6,0.5 0.6-1.4 0.6-1.1 0.6,2 0.6-3.1 0.6-1.1 0.6,5.3 0.6-4.9 0.6,0.3 0.6,6.3 0.6-0.6 0.6-2.3 0.6-0.2 0.6,1.3 0.6-1.4 0.6-1.3 0.6,2.5 0.6,2 0.6-3.2 0.6-2 0.6-1.3 0.6,0.3 0.6,5.8 0.6-2.8 0.6-2.1 0.6,0.8 0.6-2.6 0.6-0.2 0.6-1.1 0.6-1.3 0.6,2.7 0.6-4.1 0.6,4.5 0.6-1 0.6-0.5 0.6-0.8 0.6-3.1 0.6-2.2 0.6,4.4 0.6-4.2 0.6-1.4 0.6,0.7 0.6,2.9 0.6-4.7 0.6-1.5 0.6,3.4 0.6-2.9 0.6-3.4 0.6,0.3 0.6-2.2 0.6-1.2 0.6,3.1 0.6-1.1 0.6-4.3 0.6,0.9 0.6-3 0.6-0.7 0.6,1.1 0.6-4 0.6-0.5 0.6,0.4 0.6-1.6 0.6-1.4 0.6-3 0.6-2.7 0.6-1.2 0.6-0.7 0.6-0.1 0.6-4.4 0.6-1.9 0.6-1.4 0.6-1.9 0.6-6.3 0.6-2.3 0.6,2.1 0.6-6.4 0.6-1.7 0.6-5.1 0.6,1.3 0.6-6 0.6-0.8 0.6-3.9 0.6-4.4 0.6-5 0.6-2.8 0.6-1.7 0.6-8.4 0.6-3.5 0.6-4.9 0.6-3.3 0.6-8.1 0.6-9 0.6-6.9 0.6-5.9 0.6-5.2 0.6-9.9 0.6-4.7 0.6-9.8 0.6-4.7 0.6-5 0.6-9.4 0.6-5.5 0.6-5.7 0.6-3.6 0.6-5 0.6-8.5 0.6-3.1 0.6-7.5 0.6-4.7 0.6-0.2 0.6-5.4 0.6,0 0.6-8.2 0.6-2.5 0.6-4.5 0.6-1.8 0.6-1.9 0.6-1.3 0.7-1.4 0.6-3.9 0.6,0.8 0.6-2 0.6,3 0.6,3.3 0.6,2 0.6-1.2 0.6,8.1 0.6-0.4 0.6,3.5 0.6,6.3 0.6-1.5 0.6,5.5 0.6,4.5 0.6,5.3 0.6,3.4 0.6,5 0.6,3.2 0.6,7.4 0.6,1 0.6,10.2 0.6,4.2 0.6,6.7 0.6,3.1 0.6,7.6 0.6,2.8 0.6,6.8 0.6,7.7 0.6,10.7 0.6,5.6 0.6,9 0.6,8.3 0.6,12.9 0.6,6.6 0.6,9.6 0.6,10.5 0.6,8.4 0.6,10 0.6,6.2 0.6,11.8 0.6,7.5 0.6,3 0.6,12.3 0.6,8 0.6,9.3 0.6,6.7 0.6,6.8 0.6,9.7 0.6,7.6 0.6,5.4 0.6,3.5 0.6,9.5 0.6,1.6 0.6,8.2 0.6,6.6 0.6,7.1 0.6,3.6 0.6,0.8 0.6,11.3 0.6,1.2 0.6,1.6 0.6,4.4 0.6,4.4 0.6,3.6 0.6,0.2 0.6,6.5 0.6-3.6 0.6,6.1 0.6,3.6 0.6-1 0.6,1.3 0.6,1.7 0.6,3.4 0.6-0.1 0.6-1.1 0.6,1.7 0.6-0.1 0.6,2.7 0.6,3 0.6-0.3 0.6,0.4 0.6,0.7 0.6,0.8 0.6,0.9 0.6,0.2 0.6,0.8 0.6,3.3 0.6-2.3 0.6,1.5 0.6,2.4 0.6-0.1 0.6,1.4 0.6,0 0.6,4 0.6,0.7 0.6-3.8 0.6,2.5 0.6-2.1 0.6,0.3 0.6,2.4 0.6-2 0.6,4.9 0.6-1.3 0.6,2.8 0.6-1.9 0.6-1 0.6,1.9 0.6,0.2 0.6,2.5 0.6-1.6 0.6,2.1 0.6-1 0.6,1.7 0.6-2.3 0.6,0.9 0.6,0.7 0.6-0.4 0.6-0.4 0.6,2.4 0.6,1.4 0.6,0.2 0.6-3.3 0.6,2.4 0.6,2.6 0.6,0.2 0.6-3.3 0.6,2.6 0.6-2.8 0.6,0.6 0.6,3.1 0.6,0.3 0.6,1.3 0.6-2.5 0.6,3.7 0.6-2.6 0.6,1.5 0.6-2.7 0.6,3.2 0.6,0.9 0.6-1.9 0.6,2.8 0.6-2.5 0.6,1.8 0.6,0.7 0.6-0.2 0.6,0.1 0.6,1.8 0.6-2.8 0.6,1.3 0.6,1 0.6-2.8 0.6,1.8 0.6-2 0.6,5.6 0.6-4.8 0.6,2.1 0.6-2.3 0.6,2.7 0.6,1.1 0.6,0.4 0.6-1.5 0.6,3.3 0.6-1.7 0.6,1.2 0.6-5.1 0.6,3 0.6,1.4 0.6,4.5 0.6-4.3 0.6,1 0.6-0.7 0.6,0 0.6,1.4 0.6,1.1 0.6-1.5 0.6-0.1 0.6,0.1 0.6,0.1 0.6-0.6 0.6,2.2 0.6-2.6 0.6,2.2 0.6-0.8 0.6,1.1 0.6-1 0.6-1.9 0.6,1.8 0.6,0.7 0.6,0.2 0.6,1.2 0.6,1.2 0.6,1.5 0.6-3.4 0.6-0.5 0.6-0.1 0.6,4.2 0.6-1.6 0.6-1.8 0.6,1.5 0.6-1.7 0.6-0.3 0.6,3.7 0.6-3.3 0.6,1.6 0.6,0.8 0.6-1.2 0.6,1.6 0.6,1.7 0.6-3.9 0.6,0.6 0.6,0.1 0.6,0.7 0.6,2.6 0.6-2.1 0.6-2.5 0.6,2 0.6,0.7 0.6-0.2 0.6,0.8 0.6-0.3 0.6,0.1 0.6,1.2 0.6-0.6 0.6-0.1 0.6-0.1 0.6-3.8 0.6,4.6 0.6,1.5 0.6-1.6 0.6,2.6 0.6-5.6 0.6,4 0.6-0.7 0.6-0.5 0.6-1.1 0.6,2.4 0.6-1.4 0.6,1 0.6-0.3 0.6-0.9 0.6,2 0.6-3.3 0.6,2.6 0.6-1.6 0.6,2.4 0.6-0.9 0.6,1.3 0.6-2.4 0.6,1.3 0.6,1 0.6,0.7 0.6-5.2 0.6,2.8 0.6-0.4 0.6-0.8 0.6,1.2 0.6-1.3 0.6,2.3 0.6-0.6 0.6-2.3 0.6,4.7 0.6-2.2 0.6,1.3 0.6-3.4 0.6,3 0.6-0.7 0.6,0.2 0.6,1.5 0.6-0.8 0.6,0.6 0.6-2.5 0.6,2.6 0.6-2.9 0.6,1.3 0.6-0.8 0.6-0.8 0.6,0.7 0.6,0.7 0.6,1.8 0.6-0.8 0.6-0.4 0.6-1.1 0.6,1.2 0.6,0.4 0.6-3.3 0.6,2.2 0.6-0.1 0.6,2 0.6-0.2 0.6-0.1 0.6,0.8 0.6-1.5 0.6-0.4 0.6,1.6 0.6-0.4 0.6-2.4 0.6,4.2 0.6-2.3 0.6-2.6 0.6,1 0.6,0.2 0.6-1.7 0.6,0.6 0.6,1 0.6,2.2 0.6,1.1 0.6-0.8 0.6-3.3 0.6,3.1 0.6-0.2 0.6-2.5 0.6,2.2 0.6-1.1 0.6,2.8 0.6-1.2 0.6,0 0.6,0.2 0.6,1.4 0.6-1.2 0.6-2.7 0.6,1.2 0.6-1.1 0.6,2.4 0.6-4.1 0.6,4 0.6-0.4 0.6-1.3 0.6,1.4 0.6-1 0.6-2.2 0.6,1.6 0.6,1.4 0.6-2.6 0.6,2.9 0.6-0.3 0.6-1.1 0.6-0.2 0.6,3.9 0.6-3.8 0.6,1.4 0.6,1.2 0.6,0 0.6-0.1 0.6,0.8 0.6-4 0.6-0.7 0.6,2.4 0.6-0.2 0.6-0.1 0.6-1.8 0.6,1.1 0.6-2.1 0.6,1.9 0.6-1.5 0.6,4.8 0.6-0.9 0.6-1.8 0.6,0.6 0.6,1 0.6,0.4 0.6,0.6 0.6-2.4 0.6,0.6 0.6-1.8 0.6,2.1 0.6-1 0.6-0.8 0.6-0.4 0.6,2.1 0.6-0.8 0.6-2.9 0.6,6.5 0.6-4.2 0.6,0 0.6,1 0.6,2.4 0.6-2.7 0.6,1 0.6-0.3 0.6,0.5 0.6,0.5 0.6-1.7 0.6,2.1 0.6-3.4 0.6,1 0.6,1 0.6-0.9 0.6-1.3 0.6,1.9 0.6-1.9 0.6-2.9 0.6,3.9 0.6-0.5 0.6,1.6 0.6-0.9 0.6,1.2 0.6-3.6 0.6,3.6 0.6-2 0.6,2 0.6-1.2 0.6,1.7 0.6,0.2" fill="none" stroke="#0000a0" stroke-width="8.2" stroke-linejoin="round" stroke-linecap="butt"/>
<line x1="1273.6" y1="2358.1" x2="1273.6" y2="2321.8" stroke="#0000a0" stroke-width="5.0"/>
<path d="M96.3,2449.4l0.6-0.8 0.6-1.2 0.6-1.4 0.6-1.7 0.6-2 0.6-2.1 0.6-2.1 0.6-2.2 0.6-2 0.6-1.9 0.6-1.6 0.6-1.4 0.6-1.1 0.6-0.8 0.6-0.5 0.6-0.4 0.6-0.2 0.6-0.1 0.6,0 0.6-1.4 0.6,1.4 0.6,1.1 0.6-3 0.6,1.8 0.6-1.1 0.6-0.5 0.6,1.2 0.6,2 0.6-1.2 0.6-1.5 0.6,3.2 0.6-2.1 0.6,1.5 0.6,0.7 0.6,0.2 0.6,1.1 0.6-1.4 0.6-1.2 0.6,4.6 0.6-2.9 0.6-1.1 0.6,1.3 0.6-2.1 0.6,3 0.6-2.8 0.6-0.1 0.6,0.8 0.6,2.2 0.6-4.6 0.6,3.8 0.6-1.4 0.6,2.9 0.6-0.5 0.6-2 0.6,3.4 0.6-3.4 0.6-2.4 0.6,6 0.6-2.1 0.6-2.1 0.6,2.4 0.6-2.2 0.6,1.3 0.6,3.5 0.6,1.7 0.6-4.3 0.6-2.2 0.6,3.4 0.6-3.9 0.6,5.4 0.6-4.2 0.6,1.6 0.6-0.1 0.6,0.5 0.6,0.6 0.6-1 0.6,2 0.6-3.8 0.6,3.9 0.6-3.3 0.6,3.2 0.6,0.5 0.6-3.6 0.6,0.5 0.6,0.6 0.6-3.2 0.6,4.8 0.6-3.2 0.6,1.2 0.6-2.6 0.6,5.3 0.6-1.3 0.6,0.4 0.6,0.7 0.6,1.2 0.6-2.4 0.6,0.2 0.6,1.2 0.6-1.2 0.6,2.8 0.6-5.9 0.6,1.8 0.6,0.6 0.6-0.9 0.6,2 0.6,0.6 0.6-0.1 0.6,0.4 0.6-0.5 0.6-2.8 0.6,2.9 0.6-3.5 0.6,1.9 0.6-2.8 0.6,4.7 0.6,0.4 0.6-0.2 0.6,3 0.6-5.5 0.6,0.6 0.6,0.7 0.6,0.1 0.6-1.6 0.6,3.5 0.6-2.3 0.6,0 0.6-0.7 0.6-1.3 0.6,1.9 0.6,2.4 0.6-2.4 0.6,1.5 0.6-0.6 0.6,2.1 0.6-1.3 0.6-0.4 0.6,0.5 0.6-1.5 0.6-2.4 0.6,3.5 0.6,1.7 0.6-1.1 0.6-2.6 0.6,2 0.6-1.7 0.6,1.5 0.6-1.4 0.6,2.7 0.6-3.2 0.6,2 0.6-0.6 0.6-1.5 0.6,6.8 0.6-6.7 0.6-1.9 0.6,5 0.6,0.7 0.6-0.6 0.6-1.6 0.6,1.5 0.6,2.2 0.6-0.4 0.6,1.4 0.6-1.8 0.6,0.5 0.6,1.4 0.6-3.7 0.6,0.9 0.6-1.1 0.6,5 0.6-5.6 0.6-1.2 0.6,3.9 0.6,1.9 0.6,1.2 0.6-5.6 0.6,2.1 0.6-0.9 0.6,1.1 0.6,2.9 0.6-2.1 0.6-0.8 0.6,1.6 0.6-2.2 0.6,2 0.6-3.1 0.6,5.6 0.6-4.6 0.6,0.9 0.6-1.7 0.6-0.8 0.6,1.5 0.6,0.6 0.6,1.7 0.6-3.1 0.6,1.9 0.6-0.6 0.6,1 0.6-0.5 0.6,1.7 0.6-6.1 0.6,4.5 0.6,1.2 0.6,0.1 0.6-1.4 0.6,1.5 0.6-2.2 0.6,1.4 0.6-0.4 0.6-1.5 0.6,1.5 0.6-0.1 0.6-0.2 0.6-1.5 0.6,2.9 0.6-2.5 0.6,1 0.6,0.5 0.6,3.4 0.6-2.6 0.6,3 0.6-1.4 0.6-0.5 0.6,0.4 0.6,1.7 0.6-4.2 0.6,2.2 0.6-2.8 0.6,2.6 0.6,3.5 0.6-6.1 0.6,0.9 0.6-1.2 0.6,3.8 0.6,3.4 0.6-4.1 0.6,2.4 0.6-0.3 0.6,0.5 0.6,0.3 0.6-4.2 0.6,4.1 0.6,2.3 0.6-7.6 0.6,4.9 0.6,0.8 0.6-3.8 0.6,1.3 0.6,3.6 0.6-4.9 0.6,0.3 0.6,1 0.6,4.2 0.6-3.3 0.6,3.6 0.6-3.9 0.6-0.7 0.6-0.5 0.6,3.4 0.6-4.3 0.6,3 0.6,0.4 0.6,0.9 0.6-2.3 0.6-0.2 0.6,1.3 0.6,1.3 0.6-3.8 0.6,2 0.6-1.1 0.6,0.6 0.6,0.9 0.6,1.6 0.6-0.2 0.6-0.3 0.6,4.1 0.6-3.5 0.6-2.9 0.6,1.6 0.6,2.9 0.6-3.5 0.6,1.7 0.6-2.8 0.6,2.5 0.6,1.2 0.6-1.8 0.6,0.9 0.6-1.8 0.6,2.4 0.6-3.5 0.6,3 0.6,1.9 0.6-1.2 0.6-0.4 0.6-2.4 0.6,0.9 0.6,0.9 0.6-1.7 0.6,1 0.6-1.1 0.6,2.6 0.6-3.5 0.6,6.5 0.6-1.1 0.6-2.6 0.6-1.4 0.6-1.2 0.6,2.3 0.6,0.3 0.6-0.5 0.6,0.3 0.6,0.5 0.6,2.3 0.6-0.7 0.6-1.5 0.6,2.8 0.6-2.6 0.6-2 0.6,2.6 0.6,1.3 0.6,0.9 0.6-1.3 0.6-1.6 0.6-1.4 0.6,1.9 0.6-1 0.6-0.2 0.6,1.5 0.6,1 0.6-4 0.6,1.5 0.6-1.4 0.6,3.5 0.6-0.2 0.6-1 0.6,1.2 0.6,1.4 0.6-0.8 0.6,1.1 0.6-1.9 0.6,3.4 0.6-4.7 0.6-0.4 0.6,5 0.6-2.8 0.6-0.8 0.6,2.4 0.6-2.3 0.6-0.8 0.6,1.9 0.6-2.6 0.6,1.3 0.6,2.6 0.6-0.6 0.6-4.1 0.6-0.2 0.6,2.2 0.6-2.1 0.6,5.1 0.6-5.7 0.6-0.1 0.6,3.9 0.6-0.4 0.6,1.9 0.6-7.5 0.6,5.4 0.6,0.6 0.6,1 0.6-0.4 0.6,0 0.6-2.9 0.6,0.7 0.6,2.7 0.6-1.8 0.6,1.8 0.6-1.7 0.6,5.5 0.6-8.5 0.6,2.7 0.6,2.3 0.6-3.5 0.6,1.7 0.6,0.8 0.6-3.9 0.6,2.7 0.6-0.8 0.6-1.1 0.6,1.8 0.6,0.8 0.6,0.3 0.6,1.8 0.6-3.5 0.6,4.9 0.6-4.8 0.6-0.6 0.6,0.8 0.6,1.3 0.6,1.6 0.6-2.4 0.6-1.6 0.6,1.3 0.6-0.5 0.6,3 0.6-0.2 0.6-2.1 0.6,4.9 0.6-2.5 0.6,1.6 0.6,0.3 0.6-4.3 0.6-0.6 0.6,1.4 0.6,0.9 0.6,1.5 0.6-2 0.6,1.4 0.6-3 0.6,4.5 0.6-1.7 0.6-3.9 0.6,4.8 0.6-3.1 0.6,1.9 0.6,5.3 0.6-6.3 0.6,0.2 0.6,2.6 0.6-3.1 0.6-1.6 0.6,2.5 0.6-1.1 0.6,2.6 0.6-4.4 0.6,2.8 0.6-0.4 0.6,2.6 0.6-1.3 0.6-3.2 0.6,1.5 0.6,2.4 0.6,1.7 0.6,0.5 0.6-5.1 0.6,3.1 0.6-1.4 0.6-3.7 0.6,5.7 0.6-1 0.6-3.5 0.6,1.7 0.6-1.7 0.6,0 0.6,3.2 0.6-0.4 0.6-2.4 0.6,1.2 0.6,0.8 0.6-2.3 0.6,1 0.6,4.7 0.6-7.7 0.6,1.3 0.6,4.1 0.6-3.5 0.6,3 0.6,3.5 0.6-5 0.6-1.3 0.6-1.1 0.6,4.8 0.6-3.7 0.6,1.9 0.6-1.1 0.6,1 0.6-0.5 0.6,2.9 0.6-4.4 0.6,2.5 0.6-1.9 0.6,2 0.6-2.4 0.6-0.3 0.6,1.6 0.6,1.5 0.6-0.6 0.6-1.5 0.6-1.7 0.6,1.6 0.6,0.2 0.6-1.3 0.6,5.1 0.6-3 0.6-2.1 0.6,0.7 0.6,0.1 0.6-1.2 0.6,4.5 0.6-3.8 0.6,0.5 0.6,5.6 0.6-6.9 0.6,3.8 0.6-2.1 0.6-1.1 0.6,1.7 0.6-0.4 0.6-0.1 0.6,1.2 0.6-1.1 0.6,2.6 0.6-4.9 0.6,3.4 0.6,0 0.6-2.4 0.6,0.9 0.6,1.7 0.6-0.5 0.6-4.1 0.6,2.5 0.6,1.7 0.6-1.3 0.6-1.1 0.6,1 0.6-1.7 0.6,1.6 0.6-4.1 0.6-0.6 0.6,4.2 0.6,3.3 0.6,0 0.6-1.8 0.6-5.1 0.6,3 0.6-1.6 0.6-0.4 0.6,1.3 0.6-0.5 0.6-2.8 0.6,5.6 0.6-3 0.6-1 0.6-0.3 0.6,1.5 0.6,1.4 0.6-2.9 0.6,0.1 0.6,6.2 0.6,0.2 0.6-4.1 0.6-3.1 0.6,5.2 0.6-3.2 0.6,0.2 0.6-1 0.6,3.4 0.6,0.5 0.6,1.4 0.6-3 0.6-0.6 0.6,1.1 0.6-2.1 0.6,0.7 0.6-1.2 0.6,2.7 0.6-0.8 0.6-0.8 0.6,2.1 0.6,2 0.6-5.1 0.6,1.3 0.6-3.7 0.6,3.1 0.6,2.4 0.6-4.7 0.6,0.9 0.6,2 0.6-3.2 0.6,1.6 0.6,0.3 0.6,1.5 0.6,2.2 0.6-4.3 0.6,1.1 0.6-1.7 0.6,1.4 0.6-2 0.6,1 0.6,0.1 0.6,0.5 0.6,0.1 0.6,2.3 0.6,2.3 0.6-3.4 0.6,0.3 0.6-2 0.6,1.8 0.6-4.4 0.6,2.3 0.6,2.2 0.6-0.7 0.6,0.5 0.6-2.2 0.6-0.5 0.6-2.1 0.6,7.4 0.6-3.9 0.6,0 0.6,1.9 0.6-1.7 0.6-1 0.6-1.4 0.6,2.6 0.6-1.5 0.6-3.3 0.6,3.8 0.6-1.6 0.6,0.4 0.6-2.6 0.6,7.4 0.6-2.4 0.6,0.7 0.6-2.9 0.6-0.5 0.6-2 0.6,0.7 0.6,3.7 0.6-3.1 0.6-0.8 0.6,2.1 0.6-3.2 0.6,1 0.6-2.6 0.6,4.5 0.6-3.7 0.6,1.3 0.6-1.5 0.6,0.8 0.6,0.9 0.6,0.8 0.6-3.2 0.6,3.1 0.6-3.6 0.6,2.4 0.6,1.9 0.6-4.4 0.6,1.7 0.6,0.4 0.6-1.9 0.6,3.7 0.6-2.4 0.6-2.3 0.6,2 0.6-2.2 0.6,3.9 0.6-0.8 0.6-3.2 0.6,6.4 0.6-6.7 0.6-2.1 0.6,5 0.6-5.2 0.6,4.2 0.6-4.1 0.6,2.9 0.6,0.1 0.6,4.2 0.6-4.8 0.6,3.7 0.6-4.2 0.6,3 0.6-1.3 0.6-2.5 0.6,3.3 0.6-1.1 0.6-2.1 0.6-1.2 0.6,0.4 0.6,2.3 0.6-0.5 0.6,0.7 0.6-2.1 0.6,1.2 0.6,0.4 0.6,0.3 0.6-1.3 0.6,1.3 0.6,0 0.6-1.9 0.6-0.2 0.6,2.9 0.6-3.9 0.6,3.2 0.6-0.8 0.6-1.9 0.6,1.5 0.6,1.6 0.6-4.1 0.6,2.2 0.6-0.5 0.6-1.2 0.6-0.5 0.6-0.5 0.6,0.9 0.6,2.4 0.6-1.4 0.6,0.4 0.6-0.7 0.6,2.7 0.6-2.4 0.6-0.8 0.6-1.4 0.6,4.5 0.6-4 0.6,0.1 0.6,2.2 0.6-0.2 0.6-0.2 0.6-0.4 0.6-3.6 0.6,3.9 0.6-1.3 0.6-0.4 0.6-1.3 0.6,1.2 0.6-4.1 0.6,5.4 0.6-1.4 0.6-0.1 0.6-0.5 0.6-1.5 0.6,1.4 0.6,0.8 0.6,0.7 0.6-1.3 0.6,1 0.6-2.8 0.6,1.3 0.6,3.4 0.6-2.3 0.6-1.6 0.6-0.3 0.6-0.5 0.6,2 0.6-4.4 0.6,5.4 0.6-0.5 0.6-0.9 0.6-0.2 0.6-0.7 0.6-1.7 0.6,2.1 0.6-4.1 0.6,2.5 0.6,0.8 0.6-2.9 0.6,1.8 0.6,0 0.6-0.6 0.6,0.7 0.6,0.5 0.6-2.8 0.6,5.5 0.6-3.8 0.6,3.1 0.6-4.9 0.6,2.7 0.6-2.5 0.6,0.7 0.6,1.6 0.6,0 0.6-2.2 0.6,1.1 0.6,0.2 0.6,1.1 0.6-1.8 0.6,2.5 0.6-3.7 0.6,2.2 0.6-1.7 0.6,1.3 0.6-2.1 0.6,0.5 0.6,0.4 0.6-2.6 0.6,0.2 0.6,4.3 0.6-2.2 0.6-2 0.6-1.7 0.6,3.9 0.6-0.3 0.6-0.2 0.6-0.9 0.6,0.5 0.6-0.3 0.6-1.1 0.6,1.5 0.6-0.4 0.6-1 0.6,0.3 0.6-4.1 0.6,7.7 0.6-5.5 0.6-0.7 0.6,0.2 0.6-0.6 0.6,3.3 0.6,0.3 0.6-1.7 0.6,0 0.6-2.1 0.6,0.9 0.6-1.1 0.6-1.3 0.6-2.3 0.6,3.2 0.6,0.1 0.6-0.9 0.6,0.3 0.6-0.6 0.6,1.5 0.6,0.7 0.6-1.7 0.6-0.7 0.6-1.5 0.6,4.6 0.6-3.1 0.6,1.1 0.6,0.5 0.6-1.6 0.6,0.8 0.6-7.1 0.6,6.6 0.6-2.7 0.6-0.6 0.6-1.5 0.6,1.3 0.6,1.7 0.6-4.7 0.6,2.5 0.6-0.9 0.6,2.5 0.6,0.7 0.6-2.6 0.6-0.2 0.6-1.6 0.6-0.1 0.6,0.9 0.6-2 0.6,1 0.6,3.3 0.6-0.5 0.6-4 0.6,3 0.6-2.3 0.6,1.2 0.6-1 0.6,0.3 0.6-3.5 0.6,0.3 0.6,0.9 0.6-0.1 0.6,2 0.6,0.4 0.6-5.7 0.6,0.6 0.6,4.9 0.6,0.3 0.6,2.1 0.6-5.2 0.6,2.6 0.6-3.3 0.6,0.4 0.6-0.4 0.6-1.7 0.6,1 0.6,1.4 0.6-3 0.6,5.1 0.6-4.5 0.6-4.4 0.6,0.9 0.6,2.6 0.6-1.8 0.6-2 0.6,2.7 0.6,5.9 0.6-5.3 0.6,0 0.6-0.5 0.6,0.4 0.6-2.7 0.6-0.9 0.6-1.7 0.6,3.8 0.6-3.3 0.6,4.6 0.6-2 0.6,0.1 0.6,1.3 0.6,4.3 0.6-10.3 0.6,2.2 0.6,0.2 0.6,3.1 0.6-4.8 0.6,0.8 0.6,0.7 0.6-2.3 0.6,2.6 0.6-6.5 0.6,7.6 0.6-7.7 0.6,6.3 0.6-4.4 0.6,2.1 0.6-4.6 0.6,2.8 0.6-2.2 0.6,2.8 0.6,0.9 0.6-1.7 0.6-2.5 0.6,2.4 0.6,0.2 0.6-5 0.6,0.8 0.6,3.6 0.6-2.5 0.6,0.6 0.6-5.1 0.6,5.4 0.6-1.9 0.6-1 0.6,4.2 0.6-6.6 0.6,1 0.6,1.6 0.6-5.2 0.6,0.5 0.6,3 0.6,1.4 0.6-2.4 0.6-2 0.6,2.4 0.6-5 0.6,2.1 0.6-2.3 0.6,3.5 0.6,0.5 0.6-4.2 0.6,1.2 0.6-2.5 0.6,3.2 0.6-4.5 0.6-0.4 0.6,2 0.6-1.3 0.6-1 0.6,3.8 0.6-4.6 0.6-1.8 0.6,3 0.6-3.6 0.6,4.8 0.6-0.1 0.6-5.6 0.6,2.5 0.6,1.6 0.6-1.5 0.6-4.9 0.6,4.7 0.6-4.7 0.6,2.9 0.6-1.3 0.6,1.6 0.6-1.6 0.6-4.4 0.6,3.8 0.6,0.2 0.6,1.3 0.6-5.8 0.6,2.9 0.6,0.5 0.6-0.1 0.6-4.1 0.6,0.6 0.6,2.5 0.6-2 0.6,3.7 0.6-6.3 0.6-0.1 0.6,2 0.6-2.4 0.6,3.2 0.6-2.3 0.6-1.7 0.6,4 0.6-7.8 0.6,2.1 0.6-0.3 0.6-0.9 0.6-1.1 0.6,1.5 0.6-2.2 0.6,3.3 0.6-1.1 0.6-4.6 0.6-0.5 0.6-0.1 0.6-2 0.6,5.1 0.6-4.8 0.6,2.7 0.6-8.1 0.6,4.8 0.6-1.8 0.6,2.8 0.6-4.7 0.6-0.6 0.6-1.7 0.6,1.3 0.6-1.2 0.6,3.1 0.6-0.2 0.6-4.7 0.6,0.1 0.6-2.9 0.6,0.7 0.6,0.3 0.6-2.5 0.6-0.5 0.6-0.3 0.6-4.1 0.6,1.7 0.6-1 0.6-0.3 0.6,2.1 0.6-4.3 0.6-0.3 0.6-0.4 0.6-0.8 0.6-1.9 0.6-0.3 0.6-2.3 0.6,1 0.6-4.5 0.6,0.3 0.6-0.4 0.6-1.1 0.6-1.7 0.6-2.8 0.6,1.9 0.6,2.8 0.6-2.8 0.6-3.7 0.6-0.1 0.6-3.7 0.6-0.6 0.6-1.7 0.6,1.3 0.6-7.3 0.6,1.8 0.6-0.8 0.6,0.1 0.6,2.3 0.6-3.3 0.6-3.6 0.6-3.3 0.6-3.1 0.6,2.5 0.6-1.7 0.6-3.3 0.6,2.4 0.6-2.7 0.6-2 0.6-2.5 0.6,2.1 0.6-2.6 0.6-3 0.6-3.5 0.6,2.7 0.6-8.6 0.6,7.1 0.6-4.4 0.6-6.2 0.6,1.2 0.6-3.2 0.6-0.2 0.6,0.3 0.6-4 0.6,0.4 0.6-3.2 0.6-2 0.6,0.7 0.6,0.2 0.6-5.3 0.6-1.2 0.6-3.1 0.6-3.4 0.6,2.2 0.6-3 0.6-3.9 0.6-0.5 0.6-3 0.6,0.1 0.6-3.5 0.6-2.4 0.6,0.2 0.6-4.5 0.6-4 0.6,2.3 0.6-4.5 0.6,1.9 0.6-5.2 0.6-1.8 0.6-3.3 0.6-3.4 0.6,0.7 0.6-3.7 0.6-0.4 0.6-1.5 0.6-8.2 0.6,1.5 0.6-2.1 0.6-2.5 0.6-2.7 0.6-1 0.6-0.6 0.6-0.8 0.6-7.4 0.6-4.9 0.6,1.4 0.6-5.8 0.6-0.5 0.6-1 0.6-2.6 0.6-2.4 0.6-4.8 0.6-2.4 0.6-0.5 0.6-5.5 0.6,4.4 0.6-7.2 0.6-5.1 0.6-1.4 0.6-4.3 0.6-8.4 0.6,1.2 0.6-4.9 0.6-1.2 0.6-1.8 0.6-8.2 0.6-1.6 0.6-5.3 0.6-4.6 0.6-6.2 0.6-3.8 0.6-4.8 0.6-4.7 0.6-2.3 0.6-6.5 0.6-5.5 0.6-2.7 0.6-4.4 0.6-8.5 0.6-4.4 0.6-4.6 0.6-3.9 0.6-5.6 0.6-5.8 0.6-2 0.6-10 0.6-9.5 0.6-5.9 0.6-3.6 0.6-3.4 0.6-7.9 0.6-2.1 0.6-5.4 0.6-4.1 0.6-9 0.6,1 0.6-1.4 0.6-6.9 0.6-2.7 0.6-2.5 0.6-2.5 0.6-1.4 0.6-3.4 0.6-2.2 0.6,2.4 0.6-6.1 0.6-3.1 0.6,0.4 0.6-4.4 0.6-0.3 0.6,1.5 0.6-5.6 0.6,3.1 0.6-3.9 0.6,4.1 0.6-5 0.6,5.1 0.6-3.1 0.6,3.5 0.6-2.2 0.6,1.3 0.6,0.6 0.6,3.6 0.6-0.9 0.6,4 0.6-0.5 0.6,4.4 0.6-0.5 0.6,3.7 0.6,5.3 0.6-0.5 0.6,4.3 0.6,1.4 0.6,3.2 0.6,4.7 0.6,3.2 0.6,4 0.6,2.2 0.6,5.8 0.6-0.1 0.6,5.6 0.6,5.2 0.6,1.3 0.6,4.9 0.6,5 0.6,2.5 0.6,6.2 0.6,7.4 0.6,3.4 0.6,2 0.6,8.2 0.6,7.3 0.6,4.1 0.6,6 0.6,7.4 0.6,7.5 0.6,3.4 0.6,3.8 0.6,2.2 0.6,5.6 0.6,4 0.6,4.3 0.6,4.5 0.6,3.2 0.6,1.4 0.6,6.2 0.6,2.1 0.6,6 0.6,3.4 0.6,3.4 0.6-0.3 0.6,8.9 0.6-3.1 0.6,4.2 0.6,5.5 0.6,2.9 0.6-0.8 0.6,6.3 0.6,4.3 0.6-1.1 0.6,2.2 0.6,5.7 0.6,0 0.6,5.4 0.6,2.9 0.6,1.3 0.6-1.1 0.6,2.5 0.6,4.1 0.6,5.8 0.6-1.1 0.6,2 0.6-0.4 0.6,2.8 0.6,2.7 0.6,3.6 0.6,0.6 0.6,3.3 0.6,2.4 0.6,1.6 0.6,1.2 0.6,4.1 0.6,0.3 0.6,4.5 0.6,0.9 0.6-1.2 0.6,4.3 0.6-1.5 0.6,3.4 0.6,2.3 0.6-0.2 0.6-0.6 0.6,2.8 0.6,1.8 0.6,1.6 0.6-0.4 0.6,1.6 0.6-0.1 0.6,0 0.6,2.3 0.6,0.6 0.6-0.6 0.6,4.8 0.6-5.3 0.6,1.9 0.6,0.5 0.6,1.5 0.6-2.7 0.6,5.2 0.6-3.3 0.6,0.6 0.6,3.4 0.6-3.4 0.6-0.4 0.6,0.8 0.6-0.5 0.6,4.6 0.6-5.9 0.6,3.2 0.6,1.7 0.6,0.7 0.6-1.4 0.6,0.9 0.6-2.8 0.6,0.2 0.6,0.7 0.6,0.3 0.6-0.2 0.6-0.5 0.6,0.7 0.6,1.2 0.6-2.6 0.6,1.3 0.6-2.4 0.6,0.8 0.6-0.1 0.6-0.8 0.6,2 0.6-2.2 0.6-0.8 0.6,1 0.6-4.3 0.6,5.3 0.6-6 0.6,3.3 0.6-3.3 0.6,3.2 0.6-2.8 0.6,1.3 0.6-3.5 0.6,5.8 0.6-1.9 0.6-0.6 0.6-3.1 0.6-1.1 0.6,1.2 0.6-2.6 0.6,0.6 0.6,2.4 0.6-2.7 0.6-0.4 0.6-4.3 0.6,0.9 0.6-2.5 0.6,2.8 0.6-6.4 0.6,3.6 0.6-2.8 0.6-0.3 0.6-3.1 0.6-6.1 0.6-0.3 0.6-3 0.6,1.4 0.6-2.3 0.6,0.1 0.6-3.5 0.6-0.7 0.6-4.3 0.6-0.2 0.6-2.7 0.6-4.5 0.6,1.6 0.6-6.4 0.6-6.7 0.6-2.9 0.6,0.5 0.6-8 0.6-5.4 0.6-2.4 0.6-7.5 0.6-2.6 0.6-6.6 0.6-5.1 0.6-7.1 0.6-2.3 0.6-6.4 0.6-6.5 0.6-4.2 0.6-6.3 0.6-5.8 0.6-8.7 0.6-0.9 0.6-7.6 0.6-10.5 0.6-4.5 0.6-5.7 0.6-0.4 0.6-10.2 0.6-4.7 0.6-9.5 0.6-2.2 0.6-15.7 0.6-3.3 0.6-6.4 0.6-0.3 0.6-8.7 0.6-6.7 0.6-4.3 0.6-3.6 0.6-3.7 0.6-4.6 0.6-2.9 0.6,1.2 0.6,2 0.6-5.9 0.6-2.5 0.6,0.4 0.6-3.2 0.6,3.1 0.6-3.1 0.6,3.5 0.6-1.2 0.6,1.8 0.6,0.7 0.6,1.9 0.6,2.5 0.6-2.4 0.6,2.5 0.6,1.5 0.6,3.6 0.6,5.6 0.6,4.1 0.6,2.6 0.6,3.1 0.6,2.6 0.6,7.8 0.6,6 0.7,6.2 0.6,2.7 0.6,6.6 0.6,8 0.6,3.9 0.6,7 0.6,5.3 0.6,5.4 0.6,6 0.6,7.5 0.6,5.7 0.6,7.1 0.6,8.9 0.6,9.3 0.6,11.2 0.6,10.7 0.6,7.7 0.6,6.6 0.6,18.4 0.6,6.8 0.6,14.8 0.6,3.9 0.6,14.4 0.6,7.1 0.6,12.9 0.6,8.7 0.6,8.8 0.6,4.3 0.6,9.7 0.6,7.8 0.6,7 0.6,8.5 0.6,8.6 0.6,3.5 0.6,5.3 0.6,5.6 0.6,4.6 0.6,4.3 0.6,2.9 0.6,4.7 0.6,5.2 0.6,6.1 0.6,0.7 0.6,5.2 0.6-0.3 0.6,5.5 0.6,3.9 0.6,2.1 0.6,3.7 0.6,0.5 0.6,1.6 0.6,2.9 0.6,0 0.6-1.4 0.6,6.7 0.6,2.6 0.6,0.5 0.6-4.3 0.6,7 0.6,3.6 0.6-2.1 0.6,2.6 0.6-0.9 0.6,5.4 0.6-2.5 0.6,6.1 0.6-1.3 0.6,0.9 0.6,1.9 0.6,1.5 0.6,4.1 0.6-2.7 0.6,2.3 0.6-1 0.6,1.1 0.6,1.8 0.6,1.4 0.6-2.9 0.6,1.1 0.6,2.4 0.6-0.1 0.6,2.5 0.6-1 0.6,4.8 0.6,4.2 0.6-0.4 0.6-5 0.6,2.8 0.6,0.1 0.6-2.3 0.6,2.4 0.6,1.4 0.6,1.9 0.6-1.8 0.6,2.2 0.6-3 0.6,3.2 0.6,1.7 0.6-1.7 0.6,6.3 0.6-3.3 0.6-0.5 0.6-0.5 0.6,1.4 0.6,1.9 0.6,1 0.6-1.8 0.6,1.7 0.6-2.4 0.6,3.8 0.6-1 0.6-1 0.6,4.2 0.6-0.2 0.6-1.3 0.6-0.9 0.6,3 0.6-2.8 0.6-0.9 0.6,3.6 0.6-1.6 0.6-0.3 0.6-0.7 0.6,4.2 0.6,2.9 0.6-1.5 0.6,0.7 0.6-0.4 0.6-2.6 0.6,0.8 0.6-5 0.6,5.6 0.6,0 0.6-0.9 0.6,0.9 0.6-2.9 0.6,7.1 0.6-3.5 0.6-2.5 0.6,8.6 0.6-2.4 0.6,1.9 0.6-2.5 0.6-0.5 0.6-2.2 0.6,3.8 0.6-3.5 0.6,2.9 0.6,0.9 0.6,0.5 0.6,0.2 0.6-0.6 0.6,1.7 0.6-1.8 0.6-1.8 0.6,3.8 0.6-2.5 0.6,1.9 0.6-2.4 0.6,1.1 0.6-2.2 0.6,1.2 0.6,1.4 0.6,0.6 0.6,0.4 0.6,1.7 0.6-4.1 0.6,5.2 0.6-3.1 0.6,2.4 0.6-0.4 0.6-2.8 0.6,2.3 0.6-0.6 0.6-2.9 0.6,2 0.6,2.6 0.6-2.1 0.6,0.3 0.6,0.7 0.6,1.5 0.6-3.2 0.6,0.2 0.6,3.7 0.6,1.2 0.6-3.1 0.6,0.9 0.6,0.7 0.6-1.2 0.6,0.2 0.6,1.6 0.6,0.4 0.6,1.6 0.6-2.1 0.6,2.2 0.6-2.5 0.6-1.7 0.6,4.5 0.6-5 0.6,0.5 0.6,4.3 0.6-5.4 0.6,4.5 0.6,1.4 0.6-0.2 0.6,1.7 0.6-7.3 0.6,3.9 0.6-0.3 0.6-1.1 0.6,3.8 0.6-0.8 0.6-1.5 0.6,2.3 0.6-2.5 0.6,1.5 0.6-0.2 0.6-1.4 0.6,0.8 0.6-1.1 0.6,0.2 0.6,1.2 0.6-1.1 0.6,0.7 0.6,0.2 0.6,2.7 0.6-4.7 0.6,4.5 0.6-1.1 0.6,1.3 0.6-3.8 0.6,2.9 0.6-0.2 0.6-2.9 0.6,2.5 0.6,1.1 0.6-4.6 0.6,4.2 0.6,1.3 0.6-1.5 0.6,1.3 0.6-3 0.6,3.2 0.6-1.5 0.6-2 0.6,2.8 0.6,1.2 0.6-6.4 0.6,6.6 0.6-4.8 0.6,0.2 0.6,2.9 0.6-1.4 0.6-0.3 0.6,2.6 0.6-4.3 0.6,1 0.6,2.2 0.6,1.5 0.6-4.3 0.6,0.9 0.6,3.2 0.6-5.1 0.6,1.2 0.6,2.2 0.6-0.9 0.6-1.9 0.6,1.5 0.6-1.7 0.6,2.2 0.6-2.6 0.6,3 0.6-0.5 0.6,1.1 0.6-1 0.6-0.1 0.6-0.4 0.6,0 0.6,1.9 0.6-2.3 0.6,3.8 0.6-3.2 0.6-0.4 0.6-0.2 0.6,1.1 0.6,0.8 0.6-1.5 0.6-0.2 0.6,0.4 0.6-1.7 0.6,5.9 0.6-4.9 0.6,4.1 0.6,0.9 0.6-2 0.6-1.6 0.6,0.6 0.6,0.9 0.6-1.6 0.6-1.1 0.6,0.6 0.6-0.3 0.6,1.5 0.6-1.3 0.6,0.8 0.6-2.4 0.6,3.6 0.6-5.2 0.6,0.7 0.6,3.4 0.6-1.8 0.6-1 0.6,1.6 0.6,0.4 0.6,2.3 0.6-4.6 0.6,0.3 0.6,0.4 0.6,4.1 0.6-1.9 0.6-3.5 0.6,1.8 0.6-1.8 0.6,2.7 0.6,0.1 0.6-4.5 0.6,1.9 0.6,0.6 0.6,1.3 0.6,0 0.6-1.9 0.6-0.4 0.6,3.5 0.6,1.3 0.6-5.6 0.6,3 0.6-2.2 0.6,1.2 0.6-1.9 0.6,6.2 0.6-0.6 0.6-0.2 0.6-3.5 0.6,3.8 0.6-2.2 0.6-0.7 0.6,2.6 0.6-1 0.6,0.6 0.6-2.3 0.6,3.2 0.6-4.9 0.6,7.1 0.6-2.8 0.6,3.3 0.6-2.8 0.6-4.9 0.6,5.3 0.6-1.9 0.6-1 0.6,1.9 0.6-0.6 0.6,1.4 0.6,2.2 0.6,0.2 0.6-4.4 0.6,4.2 0.6-0.6 0.6-0.7 0.6-1.4 0.6-0.6 0.6,3.2 0.6,0.5 0.6-4.3 0.6,0.9 0.6-0.4 0.6,3.4 0.6-2.8 0.6-0.2 0.6,3.1 0.6-3.2 0.6-0.3 0.6,0.1 0.6-0.6 0.6-0.1 0.6-4.2 0.6,6.4 0.6-3.4" fill="none" stroke="#ff8000" stroke-width="8.2" stroke-linejoin="round" stroke-linecap="butt"/>
<line x1="1202.2" y1="2451.9" x2="1202.2" y2="2401.3" stroke="#ff8000" stroke-width="5.0"/>
<line x1="85.3" y1="2452.1" x2="85.3" y2="2447.6" stroke="#ff8000" stroke-width="4.0"/>
<text transform="translate(45.50,100.60) scale(1,1.0)" font-size="113" font-weight="bold" fill="#000" text-anchor="start">a)</text>
<text transform="translate(44.50,1439.90) scale(1,1.0)" font-size="113" font-weight="bold" fill="#000" text-anchor="start">b)</text>
<text transform="translate(744.50,254.00) scale(1,1.035)" font-size="64" font-weight="bold" fill="#000" text-anchor="start">(002)</text>
<text transform="translate(876.00,620.40) scale(1,1.035)" font-size="64.6" font-weight="bold" fill="#000" text-anchor="start">(100)</text>
<text transform="translate(1628.20,616.30) rotate(-90) scale(1,1.035)" font-size="56.6" font-weight="bold" fill="#000" text-anchor="start">Intensity (a.u.)</text>
<text transform="translate(1632.10,1967.60) rotate(-90) scale(1,1.035)" font-size="58.9" font-weight="bold" fill="#000" text-anchor="start">Intensity (a.u.)</text>
<text transform="translate(1526.00,758.10) scale(1,1.035)" font-size="54" font-weight="bold" fill="#000" text-anchor="start">Graphite</text>
<text transform="translate(1470.00,847.00) scale(1,1.035)" font-size="54" font-weight="bold" fill="#ff0000" text-anchor="start">GO</text>
<text transform="translate(1398.00,942.00) scale(1,1.035)" font-size="54" font-weight="bold" fill="#009200" text-anchor="start">rGO</text>
<text transform="translate(1320.00,1031.60) scale(1,1.035)" font-size="54" font-weight="bold" fill="#0000a0" text-anchor="start">en-rGO</text>
<text transform="translate(1254.00,1130.90) scale(1,1.035)" font-size="54" font-weight="bold" fill="#ff8000" text-anchor="start">NH<tspan font-size="36.7" dy="13.0">3</tspan><tspan dy="-13.0">-rGO</tspan></text>
<text transform="translate(1509.80,2093.80) scale(1,1.035)" font-size="56.0" font-weight="bold" fill="#000" text-anchor="start">Graphite</text>
<text transform="translate(1442.30,2191.30) scale(1,1.035)" font-size="56.5" font-weight="bold" fill="#ff0000" text-anchor="start">GO</text>
<text transform="translate(1372.50,2280.20) scale(1,1.035)" font-size="56.5" font-weight="bold" fill="#009200" text-anchor="start">rGO</text>
<text transform="translate(1304.80,2378.80) scale(1,1.035)" font-size="56.5" font-weight="bold" fill="#0000a0" text-anchor="start">en-rGO</text>
<text transform="translate(1233.20,2464.80) scale(1,1.035)" font-size="56.5" font-weight="bold" fill="#ff8000" text-anchor="start">NH<tspan font-size="38.4" dy="13.6">3</tspan><tspan dy="-13.6">-rGO</tspan></text>
<text transform="translate(58.60,1210.80) scale(1,1.035)" font-size="44.7" font-weight="bold" fill="#000" text-anchor="middle">0</text>
<text transform="translate(322.98,1210.80) scale(1,1.035)" font-size="44.7" font-weight="bold" fill="#000" text-anchor="middle">20</text>
<text transform="translate(587.35,1210.80) scale(1,1.035)" font-size="44.7" font-weight="bold" fill="#000" text-anchor="middle">40</text>
<text transform="translate(851.73,1210.80) scale(1,1.035)" font-size="44.7" font-weight="bold" fill="#000" text-anchor="middle">60</text>
<text transform="translate(1116.11,1210.80) scale(1,1.035)" font-size="44.7" font-weight="bold" fill="#000" text-anchor="middle">80</text>
<text transform="translate(136.02,2554.80) scale(1,1.035)" font-size="44.7" font-weight="bold" fill="#000" text-anchor="middle">250</text>
<text transform="translate(283.39,2554.80) scale(1,1.035)" font-size="44.7" font-weight="bold" fill="#000" text-anchor="middle">500</text>
<text transform="translate(430.76,2554.80) scale(1,1.035)" font-size="44.7" font-weight="bold" fill="#000" text-anchor="middle">750</text>
<text transform="translate(578.13,2554.80) scale(1,1.035)" font-size="44.7" font-weight="bold" fill="#000" text-anchor="middle">1000</text>
<text transform="translate(725.49,2554.80) scale(1,1.035)" font-size="44.7" font-weight="bold" fill="#000" text-anchor="middle">1250</text>
<text transform="translate(872.86,2554.80) scale(1,1.035)" font-size="44.7" font-weight="bold" fill="#000" text-anchor="middle">1500</text>
<text transform="translate(1020.23,2554.80) scale(1,1.035)" font-size="44.7" font-weight="bold" fill="#000" text-anchor="middle">1750</text>
<text transform="translate(1167.60,2554.80) scale(1,1.035)" font-size="44.7" font-weight="bold" fill="#000" text-anchor="middle">2000</text>
<text transform="translate(451.00,1297.80) scale(1,1.035)" font-size="57.3" font-weight="bold" fill="#000" text-anchor="start">2<tspan font-weight="normal" stroke="#000" stroke-width="0.8">θ</tspan> (degrees)</text>
<text transform="translate(430.00,2628.70) scale(1,1.035)" font-size="58" font-weight="bold" fill="#000" text-anchor="start">Raman shift <tspan x="346.4" font-weight="normal" font-size="44.5" stroke="#000" stroke-width="0.9">(</tspan><tspan x="362">cm</tspan><tspan x="444.8" dy="-22" font-weight="normal" font-size="38" stroke="#000" stroke-width="1.2">−1</tspan><tspan x="490.6" dy="22" font-weight="normal" font-size="44.5" stroke="#000" stroke-width="0.9">)</tspan></text>
<text transform="translate(1090.00,1607.50) scale(1,1.06)" font-size="56" font-weight="bold" fill="#000" text-anchor="start">D</text>
<text transform="translate(1273.00,1610.70) scale(1,1.06)" font-size="56" font-weight="bold" fill="#000" text-anchor="start">G</text>
<text transform="translate(457.0,2006.8) scale(1,1.03)" font-size="46.4" fill="#000000" stroke="#000000" stroke-width="1.1" stroke-linejoin="round">I<tspan dy="16.6">D</tspan><tspan dy="-16.6">/I</tspan><tspan dy="16.6">G</tspan><tspan dy="-16.6">=0.036</tspan></text>
<text transform="translate(405.0,2108.5) scale(1,1.03)" font-size="46.4" fill="#ff0000" stroke="#ff0000" stroke-width="1.1" stroke-linejoin="round">I<tspan dy="16.6">D</tspan><tspan dy="-16.6">/I</tspan><tspan dy="16.6">G</tspan><tspan dy="-16.6">=0.87</tspan></text>
<text transform="translate(352.3,2206.6) scale(1,1.03)" font-size="46.4" fill="#009200" stroke="#009200" stroke-width="1.1" stroke-linejoin="round">I<tspan dy="16.6">D</tspan><tspan dy="-16.6">/I</tspan><tspan dy="16.6">G</tspan><tspan dy="-16.6">=0.99</tspan></text>
<text transform="translate(295.0,2302.6) scale(1,1.03)" font-size="46.4" fill="#0000a0" stroke="#0000a0" stroke-width="1.1" stroke-linejoin="round">I<tspan dy="16.6">D</tspan><tspan dy="-16.6">/I</tspan><tspan dy="16.6">G</tspan><tspan dy="-16.6">=1.13</tspan></text>
<text transform="translate(249.0,2407.5) scale(1,1.03)" font-size="46.4" fill="#ff8000" stroke="#ff8000" stroke-width="1.1" stroke-linejoin="round">I<tspan dy="16.6">D</tspan><tspan dy="-16.6">/I</tspan><tspan dy="16.6">G</tspan><tspan dy="-16.6">=1.08</tspan></text>
</svg>
</body></html>
